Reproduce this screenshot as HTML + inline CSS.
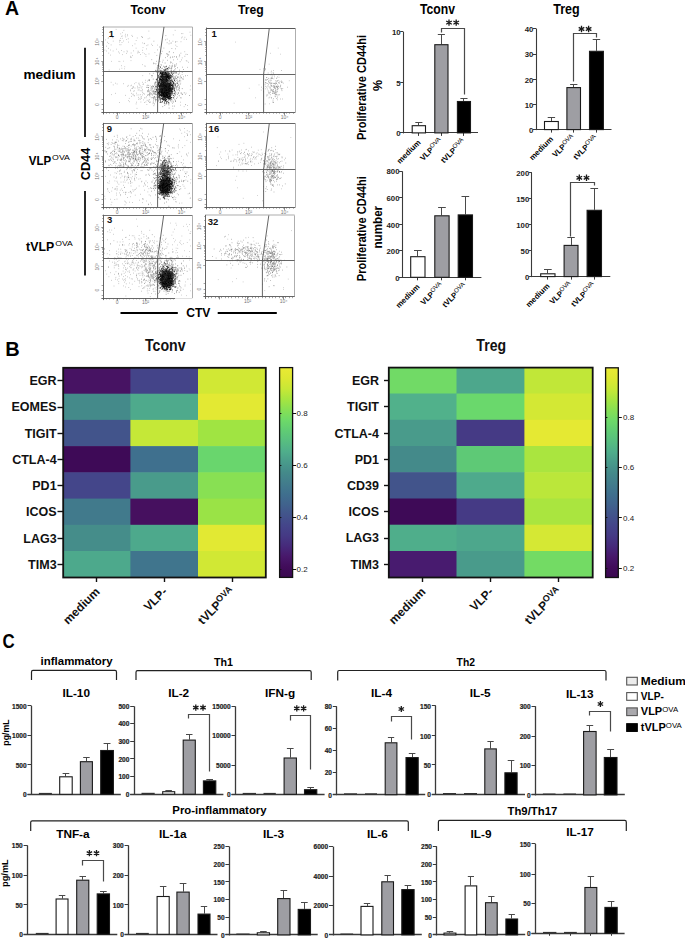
<!DOCTYPE html>
<html><head><meta charset="utf-8"><style>
html,body{margin:0;padding:0;background:#fff;}
body{width:685px;height:938px;overflow:hidden;}
svg{display:block;font-family:"Liberation Sans",sans-serif;}
</style></head><body>
<svg width="685" height="938" viewBox="0 0 685 938">
<rect width="685" height="938" fill="#fff"/>
<text x="437.5" y="14.3" font-size="14" text-anchor="middle" font-weight="bold" fill="#000" textLength="35" lengthAdjust="spacingAndGlyphs">Tconv</text>
<line x1="403.5" y1="31.7" x2="403.5" y2="133.4" stroke="#3a3a3a" stroke-width="1.1"/>
<line x1="400.2" y1="132.5" x2="478" y2="132.5" stroke="#3a3a3a" stroke-width="1.1"/>
<line x1="400.2" y1="31.5" x2="403.2" y2="31.5" stroke="#3a3a3a" stroke-width="1"/>
<text x="400.6" y="34.9" font-size="7.8" text-anchor="end" font-weight="bold" fill="#222">10</text>
<line x1="400.2" y1="82.5" x2="403.2" y2="82.5" stroke="#3a3a3a" stroke-width="1"/>
<text x="400.6" y="86" font-size="7.8" text-anchor="end" font-weight="bold" fill="#222">5</text>
<line x1="400.2" y1="132.5" x2="403.2" y2="132.5" stroke="#3a3a3a" stroke-width="1"/>
<text x="400.6" y="136.1" font-size="7.8" text-anchor="end" font-weight="bold" fill="#222">0</text>
<line x1="418.5" y1="132.9" x2="418.5" y2="135.9" stroke="#3a3a3a" stroke-width="1"/>
<line x1="441.5" y1="132.9" x2="441.5" y2="135.9" stroke="#3a3a3a" stroke-width="1"/>
<line x1="463.5" y1="132.9" x2="463.5" y2="135.9" stroke="#3a3a3a" stroke-width="1"/>
<line x1="418.5" y1="125.2" x2="418.5" y2="122.6" stroke="#4a4a4a" stroke-width="1"/>
<line x1="415.3" y1="122.5" x2="422.4" y2="122.5" stroke="#4a4a4a" stroke-width="1"/>
<rect x="412.2" y="125.7" width="13.3" height="7.2" fill="#fff" stroke="#1a1a1a" stroke-width="1.1"/>
<line x1="441.5" y1="44.2" x2="441.5" y2="34.4" stroke="#4a4a4a" stroke-width="1"/>
<line x1="437.8" y1="34.5" x2="444.9" y2="34.5" stroke="#4a4a4a" stroke-width="1"/>
<rect x="434.8" y="44.7" width="13.2" height="88.2" fill="#9e9ea3" stroke="#1a1a1a" stroke-width="1.1"/>
<line x1="463.5" y1="101" x2="463.5" y2="98.3" stroke="#4a4a4a" stroke-width="1"/>
<line x1="460.4" y1="98.5" x2="467.5" y2="98.5" stroke="#4a4a4a" stroke-width="1"/>
<rect x="457.4" y="101.5" width="13.1" height="31.4" fill="#000" stroke="#1a1a1a" stroke-width="1.1"/>
<polyline points="441.5,32.5 441.5,28.5 464.5,28.5 464.5,94.5" fill="none" stroke="#4a4a4a" stroke-width="1.2"/>
<path d="M449 19.4L449 25.8M451.8 21L446.2 24.2M451.8 24.2L446.2 21" stroke="#1a1a1a" stroke-width="1.3" fill="none"/>
<path d="M456.2 19.4L456.2 25.8M459 21L453.4 24.2M459 24.2L453.4 21" stroke="#1a1a1a" stroke-width="1.3" fill="none"/>
<text x="566.5" y="14.3" font-size="14" text-anchor="middle" font-weight="bold" fill="#000" textLength="26.5" lengthAdjust="spacingAndGlyphs">Treg</text>
<line x1="536.5" y1="28.5" x2="536.5" y2="130.1" stroke="#3a3a3a" stroke-width="1.1"/>
<line x1="533" y1="129.5" x2="611.5" y2="129.5" stroke="#3a3a3a" stroke-width="1.1"/>
<line x1="533" y1="28.5" x2="536" y2="28.5" stroke="#3a3a3a" stroke-width="1"/>
<text x="533.4" y="31.7" font-size="7.8" text-anchor="end" font-weight="bold" fill="#222">40</text>
<line x1="533" y1="54.5" x2="536" y2="54.5" stroke="#3a3a3a" stroke-width="1"/>
<text x="533.4" y="57.2" font-size="7.8" text-anchor="end" font-weight="bold" fill="#222">30</text>
<line x1="533" y1="79.5" x2="536" y2="79.5" stroke="#3a3a3a" stroke-width="1"/>
<text x="533.4" y="82.5" font-size="7.8" text-anchor="end" font-weight="bold" fill="#222">20</text>
<line x1="533" y1="104.5" x2="536" y2="104.5" stroke="#3a3a3a" stroke-width="1"/>
<text x="533.4" y="107.6" font-size="7.8" text-anchor="end" font-weight="bold" fill="#222">10</text>
<line x1="533" y1="129.5" x2="536" y2="129.5" stroke="#3a3a3a" stroke-width="1"/>
<text x="533.4" y="132.8" font-size="7.8" text-anchor="end" font-weight="bold" fill="#222">0</text>
<line x1="551.5" y1="129.6" x2="551.5" y2="132.6" stroke="#3a3a3a" stroke-width="1"/>
<line x1="573.5" y1="129.6" x2="573.5" y2="132.6" stroke="#3a3a3a" stroke-width="1"/>
<line x1="596.5" y1="129.6" x2="596.5" y2="132.6" stroke="#3a3a3a" stroke-width="1"/>
<line x1="551.5" y1="121" x2="551.5" y2="117" stroke="#4a4a4a" stroke-width="1"/>
<line x1="547.7" y1="117.5" x2="555.1" y2="117.5" stroke="#4a4a4a" stroke-width="1"/>
<rect x="544.5" y="121.5" width="13.8" height="8.1" fill="#fff" stroke="#1a1a1a" stroke-width="1.1"/>
<line x1="573.5" y1="87.1" x2="573.5" y2="84.3" stroke="#4a4a4a" stroke-width="1"/>
<line x1="570.1" y1="84.5" x2="577.4" y2="84.5" stroke="#4a4a4a" stroke-width="1"/>
<rect x="566.9" y="87.6" width="13.6" height="42" fill="#9e9ea3" stroke="#1a1a1a" stroke-width="1.1"/>
<line x1="596.5" y1="50.8" x2="596.5" y2="39.4" stroke="#4a4a4a" stroke-width="1"/>
<line x1="592.7" y1="39.5" x2="600.2" y2="39.5" stroke="#4a4a4a" stroke-width="1"/>
<rect x="589.5" y="51.3" width="13.9" height="78.3" fill="#000" stroke="#1a1a1a" stroke-width="1.1"/>
<polyline points="573.5,81.5 573.5,33.5 596.5,33.5 596.5,37.5" fill="none" stroke="#4a4a4a" stroke-width="1.2"/>
<path d="M581.5 25.8L581.5 32.2M584.3 27.4L578.7 30.6M584.3 30.6L578.7 27.4" stroke="#1a1a1a" stroke-width="1.3" fill="none"/>
<path d="M588.6 25.8L588.6 32.2M591.4 27.4L585.8 30.6M591.4 30.6L585.8 27.4" stroke="#1a1a1a" stroke-width="1.3" fill="none"/>
<line x1="402.5" y1="171.2" x2="402.5" y2="277.8" stroke="#3a3a3a" stroke-width="1.1"/>
<line x1="399.1" y1="277.5" x2="481.4" y2="277.5" stroke="#3a3a3a" stroke-width="1.1"/>
<line x1="399.1" y1="171.5" x2="402.1" y2="171.5" stroke="#3a3a3a" stroke-width="1"/>
<text x="399.5" y="174.4" font-size="7.8" text-anchor="end" font-weight="bold" fill="#222">800</text>
<line x1="399.1" y1="197.5" x2="402.1" y2="197.5" stroke="#3a3a3a" stroke-width="1"/>
<text x="399.5" y="200.7" font-size="7.8" text-anchor="end" font-weight="bold" fill="#222">600</text>
<line x1="399.1" y1="224.5" x2="402.1" y2="224.5" stroke="#3a3a3a" stroke-width="1"/>
<text x="399.5" y="227.7" font-size="7.8" text-anchor="end" font-weight="bold" fill="#222">400</text>
<line x1="399.1" y1="250.5" x2="402.1" y2="250.5" stroke="#3a3a3a" stroke-width="1"/>
<text x="399.5" y="254" font-size="7.8" text-anchor="end" font-weight="bold" fill="#222">200</text>
<line x1="399.1" y1="277.5" x2="402.1" y2="277.5" stroke="#3a3a3a" stroke-width="1"/>
<text x="399.5" y="280.5" font-size="7.8" text-anchor="end" font-weight="bold" fill="#222">0</text>
<line x1="417.5" y1="277.3" x2="417.5" y2="280.3" stroke="#3a3a3a" stroke-width="1"/>
<line x1="441.5" y1="277.3" x2="441.5" y2="280.3" stroke="#3a3a3a" stroke-width="1"/>
<line x1="465.5" y1="277.3" x2="465.5" y2="280.3" stroke="#3a3a3a" stroke-width="1"/>
<line x1="417.5" y1="256.2" x2="417.5" y2="250.8" stroke="#4a4a4a" stroke-width="1"/>
<line x1="414" y1="250.5" x2="421.7" y2="250.5" stroke="#4a4a4a" stroke-width="1"/>
<rect x="410.7" y="256.7" width="14.3" height="20.6" fill="#fff" stroke="#1a1a1a" stroke-width="1.1"/>
<line x1="441.5" y1="215.3" x2="441.5" y2="207.6" stroke="#4a4a4a" stroke-width="1"/>
<line x1="438.1" y1="207.5" x2="445.8" y2="207.5" stroke="#4a4a4a" stroke-width="1"/>
<rect x="434.8" y="215.8" width="14.3" height="61.5" fill="#9e9ea3" stroke="#1a1a1a" stroke-width="1.1"/>
<line x1="465.5" y1="214.4" x2="465.5" y2="196.4" stroke="#4a4a4a" stroke-width="1"/>
<line x1="461.5" y1="196.5" x2="469.2" y2="196.5" stroke="#4a4a4a" stroke-width="1"/>
<rect x="458.2" y="214.9" width="14.3" height="62.4" fill="#000" stroke="#1a1a1a" stroke-width="1.1"/>
<line x1="531.5" y1="172.6" x2="531.5" y2="277.1" stroke="#3a3a3a" stroke-width="1.1"/>
<line x1="528.9" y1="276.5" x2="610.3" y2="276.5" stroke="#3a3a3a" stroke-width="1.1"/>
<line x1="528.9" y1="172.5" x2="531.9" y2="172.5" stroke="#3a3a3a" stroke-width="1"/>
<text x="529.3" y="175.8" font-size="7.8" text-anchor="end" font-weight="bold" fill="#222">200</text>
<line x1="528.9" y1="198.5" x2="531.9" y2="198.5" stroke="#3a3a3a" stroke-width="1"/>
<text x="529.3" y="201.8" font-size="7.8" text-anchor="end" font-weight="bold" fill="#222">150</text>
<line x1="528.9" y1="224.5" x2="531.9" y2="224.5" stroke="#3a3a3a" stroke-width="1"/>
<text x="529.3" y="227.9" font-size="7.8" text-anchor="end" font-weight="bold" fill="#222">100</text>
<line x1="528.9" y1="250.5" x2="531.9" y2="250.5" stroke="#3a3a3a" stroke-width="1"/>
<text x="529.3" y="254" font-size="7.8" text-anchor="end" font-weight="bold" fill="#222">50</text>
<line x1="528.9" y1="276.5" x2="531.9" y2="276.5" stroke="#3a3a3a" stroke-width="1"/>
<text x="529.3" y="279.8" font-size="7.8" text-anchor="end" font-weight="bold" fill="#222">0</text>
<line x1="547.5" y1="276.6" x2="547.5" y2="279.6" stroke="#3a3a3a" stroke-width="1"/>
<line x1="571.5" y1="276.6" x2="571.5" y2="279.6" stroke="#3a3a3a" stroke-width="1"/>
<line x1="594.5" y1="276.6" x2="594.5" y2="279.6" stroke="#3a3a3a" stroke-width="1"/>
<line x1="547.5" y1="273.3" x2="547.5" y2="269.8" stroke="#4a4a4a" stroke-width="1"/>
<line x1="544" y1="269.5" x2="551.7" y2="269.5" stroke="#4a4a4a" stroke-width="1"/>
<rect x="540.7" y="273.8" width="14.3" height="2.8" fill="#fff" stroke="#1a1a1a" stroke-width="1.1"/>
<line x1="571.5" y1="244.9" x2="571.5" y2="237.4" stroke="#4a4a4a" stroke-width="1"/>
<line x1="567.3" y1="237.5" x2="574.8" y2="237.5" stroke="#4a4a4a" stroke-width="1"/>
<rect x="564.1" y="245.4" width="13.9" height="31.2" fill="#9e9ea3" stroke="#1a1a1a" stroke-width="1.1"/>
<line x1="594.5" y1="209.8" x2="594.5" y2="188.8" stroke="#4a4a4a" stroke-width="1"/>
<line x1="590.4" y1="188.5" x2="598.1" y2="188.5" stroke="#4a4a4a" stroke-width="1"/>
<rect x="587.1" y="210.3" width="14.4" height="66.3" fill="#000" stroke="#1a1a1a" stroke-width="1.1"/>
<polyline points="570.5,236.5 570.5,182.5 594.5,182.5 594.5,185.5" fill="none" stroke="#4a4a4a" stroke-width="1.2"/>
<path d="M579.3 174.6L579.3 181M582.1 176.2L576.5 179.4M582.1 179.4L576.5 176.2" stroke="#1a1a1a" stroke-width="1.3" fill="none"/>
<path d="M586.5 174.6L586.5 181M589.3 176.2L583.7 179.4M589.3 179.4L583.7 176.2" stroke="#1a1a1a" stroke-width="1.3" fill="none"/>
<text x="366.4" y="87.5" font-size="12.5" text-anchor="middle" font-weight="bold" fill="#000" transform="rotate(-90 366.4 87.5)" textLength="105" lengthAdjust="spacingAndGlyphs">Proliferative CD44hi</text>
<text x="381.5" y="85.5" font-size="12.5" text-anchor="middle" font-weight="bold" fill="#000" transform="rotate(-90 381.5 85.5)">%</text>
<text x="366.4" y="228.7" font-size="12.5" text-anchor="middle" font-weight="bold" fill="#000" transform="rotate(-90 366.4 228.7)" textLength="105" lengthAdjust="spacingAndGlyphs">Proliferative CD44hi</text>
<text x="382" y="227.2" font-size="12.5" text-anchor="middle" font-weight="bold" fill="#000" transform="rotate(-90 382 227.2)" textLength="42.7" lengthAdjust="spacingAndGlyphs">number</text>
<text x="421.1" y="143" font-size="7.8" text-anchor="end" font-weight="bold" fill="#000" transform="rotate(-45 421.1 143)">medium</text>
<text x="442.8" y="141.5" font-size="7.8" text-anchor="end" font-weight="bold" transform="rotate(-45 442.8 141.5)">VLP<tspan font-weight="normal" font-size="6.2" dy="-2.6">OVA</tspan></text>
<text x="465.5" y="142" font-size="7.8" text-anchor="end" font-weight="bold" transform="rotate(-45 465.5 142)">tVLP<tspan font-weight="normal" font-size="6.2" dy="-2.6">OVA</tspan></text>
<text x="553.6" y="139.7" font-size="7.8" text-anchor="end" font-weight="bold" fill="#000" transform="rotate(-45 553.6 139.7)">medium</text>
<text x="575.2" y="138.2" font-size="7.8" text-anchor="end" font-weight="bold" transform="rotate(-45 575.2 138.2)">VLP<tspan font-weight="normal" font-size="6.2" dy="-2.6">OVA</tspan></text>
<text x="598" y="138.7" font-size="7.8" text-anchor="end" font-weight="bold" transform="rotate(-45 598 138.7)">tVLP<tspan font-weight="normal" font-size="6.2" dy="-2.6">OVA</tspan></text>
<text x="420.1" y="287.4" font-size="7.8" text-anchor="end" font-weight="bold" fill="#000" transform="rotate(-45 420.1 287.4)">medium</text>
<text x="443.4" y="285.9" font-size="7.8" text-anchor="end" font-weight="bold" transform="rotate(-45 443.4 285.9)">VLP<tspan font-weight="normal" font-size="6.2" dy="-2.6">OVA</tspan></text>
<text x="466.9" y="286.4" font-size="7.8" text-anchor="end" font-weight="bold" transform="rotate(-45 466.9 286.4)">tVLP<tspan font-weight="normal" font-size="6.2" dy="-2.6">OVA</tspan></text>
<text x="550.1" y="286.7" font-size="7.8" text-anchor="end" font-weight="bold" fill="#000" transform="rotate(-45 550.1 286.7)">medium</text>
<text x="572.5" y="285.2" font-size="7.8" text-anchor="end" font-weight="bold" transform="rotate(-45 572.5 285.2)">VLP<tspan font-weight="normal" font-size="6.2" dy="-2.6">OVA</tspan></text>
<text x="595.8" y="285.7" font-size="7.8" text-anchor="end" font-weight="bold" transform="rotate(-45 595.8 285.7)">tVLP<tspan font-weight="normal" font-size="6.2" dy="-2.6">OVA</tspan></text>
<rect x="62.9" y="367.5" width="68.1" height="26.8" fill="#471363"/>
<rect x="130.4" y="367.5" width="68.1" height="26.8" fill="#444489"/>
<rect x="198" y="367.5" width="68.1" height="26.8" fill="#d1e834"/>
<rect x="62.9" y="393.7" width="68.1" height="26.8" fill="#448a8a"/>
<rect x="130.4" y="393.7" width="68.1" height="26.8" fill="#4eaa8c"/>
<rect x="198" y="393.7" width="68.1" height="26.8" fill="#e3e933"/>
<rect x="62.9" y="419.9" width="68.1" height="26.8" fill="#42548b"/>
<rect x="130.4" y="419.9" width="68.1" height="26.8" fill="#c5e837"/>
<rect x="198" y="419.9" width="68.1" height="26.8" fill="#a0e442"/>
<rect x="62.9" y="446.1" width="68.1" height="26.8" fill="#3e0a57"/>
<rect x="130.4" y="446.1" width="68.1" height="26.8" fill="#3f708e"/>
<rect x="198" y="446.1" width="68.1" height="26.8" fill="#69d66d"/>
<rect x="62.9" y="472.3" width="68.1" height="26.8" fill="#44468a"/>
<rect x="130.4" y="472.3" width="68.1" height="26.8" fill="#499b8b"/>
<rect x="198" y="472.3" width="68.1" height="26.8" fill="#88e053"/>
<rect x="62.9" y="498.6" width="68.1" height="26.8" fill="#417a8c"/>
<rect x="130.4" y="498.6" width="68.1" height="26.8" fill="#46105f"/>
<rect x="198" y="498.6" width="68.1" height="26.8" fill="#9ae346"/>
<rect x="62.9" y="524.8" width="68.1" height="26.8" fill="#458d8a"/>
<rect x="130.4" y="524.8" width="68.1" height="26.8" fill="#4da98c"/>
<rect x="198" y="524.8" width="68.1" height="26.8" fill="#e2e933"/>
<rect x="62.9" y="551" width="68.1" height="26.8" fill="#4da98c"/>
<rect x="130.4" y="551" width="68.1" height="26.8" fill="#40758d"/>
<rect x="198" y="551" width="68.1" height="26.8" fill="#d1e834"/>
<rect x="63.2" y="367.8" width="202.6" height="209.7" fill="none" stroke="#111" stroke-width="1.8"/>
<line x1="57.5" y1="380.5" x2="63.2" y2="380.5" stroke="#111" stroke-width="1.4"/>
<text x="56.6" y="385.2" font-size="12.5" text-anchor="end" font-weight="bold" fill="#111">EGR</text>
<line x1="57.5" y1="407.5" x2="63.2" y2="407.5" stroke="#111" stroke-width="1.4"/>
<text x="56.6" y="411.4" font-size="12.5" text-anchor="end" font-weight="bold" fill="#111">EOMES</text>
<line x1="57.5" y1="433.5" x2="63.2" y2="433.5" stroke="#111" stroke-width="1.4"/>
<text x="56.6" y="437.6" font-size="12.5" text-anchor="end" font-weight="bold" fill="#111">TIGIT</text>
<line x1="57.5" y1="459.5" x2="63.2" y2="459.5" stroke="#111" stroke-width="1.4"/>
<text x="56.6" y="463.8" font-size="12.5" text-anchor="end" font-weight="bold" fill="#111">CTLA-4</text>
<line x1="57.5" y1="485.5" x2="63.2" y2="485.5" stroke="#111" stroke-width="1.4"/>
<text x="56.6" y="490.1" font-size="12.5" text-anchor="end" font-weight="bold" fill="#111">PD1</text>
<line x1="57.5" y1="511.5" x2="63.2" y2="511.5" stroke="#111" stroke-width="1.4"/>
<text x="56.6" y="516.3" font-size="12.5" text-anchor="end" font-weight="bold" fill="#111">ICOS</text>
<line x1="57.5" y1="538.5" x2="63.2" y2="538.5" stroke="#111" stroke-width="1.4"/>
<text x="56.6" y="542.5" font-size="12.5" text-anchor="end" font-weight="bold" fill="#111">LAG3</text>
<line x1="57.5" y1="564.5" x2="63.2" y2="564.5" stroke="#111" stroke-width="1.4"/>
<text x="56.6" y="568.7" font-size="12.5" text-anchor="end" font-weight="bold" fill="#111">TIM3</text>
<line x1="96.5" y1="577.5" x2="96.5" y2="582" stroke="#111" stroke-width="1.4"/>
<text x="100.5" y="592.5" font-size="12" text-anchor="end" font-weight="bold" fill="#111" transform="rotate(-45 100.5 592.5)">medium</text>
<line x1="164.5" y1="577.5" x2="164.5" y2="582" stroke="#111" stroke-width="1.4"/>
<text x="168" y="592.5" font-size="12" text-anchor="end" font-weight="bold" fill="#111" transform="rotate(-45 168 592.5)">VLP-</text>
<line x1="232.5" y1="577.5" x2="232.5" y2="582" stroke="#111" stroke-width="1.4"/>
<text x="235.5" y="592.5" font-size="12" text-anchor="end" font-weight="bold" fill="#111" transform="rotate(-45 235.5 592.5)">tVLP<tspan font-size="9" dy="-4">OVA</tspan></text>
<text x="165.3" y="350.5" font-size="15.8" text-anchor="middle" font-weight="bold" fill="#111" textLength="40.7" lengthAdjust="spacingAndGlyphs">Tconv</text>
<defs><linearGradient id="g279" x1="0" y1="0" x2="0" y2="1"><stop offset="0.000" stop-color="#eaea34"/><stop offset="0.050" stop-color="#dee832"/><stop offset="0.100" stop-color="#c8e836"/><stop offset="0.150" stop-color="#a7e540"/><stop offset="0.200" stop-color="#88e053"/><stop offset="0.250" stop-color="#6eda68"/><stop offset="0.300" stop-color="#60cc74"/><stop offset="0.350" stop-color="#57be80"/><stop offset="0.400" stop-color="#4fae8b"/><stop offset="0.450" stop-color="#499b8b"/><stop offset="0.500" stop-color="#448a8a"/><stop offset="0.550" stop-color="#427d8c"/><stop offset="0.600" stop-color="#3f708e"/><stop offset="0.650" stop-color="#40638d"/><stop offset="0.700" stop-color="#42548b"/><stop offset="0.750" stop-color="#44468a"/><stop offset="0.800" stop-color="#453a85"/><stop offset="0.850" stop-color="#462a7b"/><stop offset="0.900" stop-color="#48186b"/><stop offset="0.950" stop-color="#410c5a"/><stop offset="1.000" stop-color="#3a0850"/></linearGradient></defs>
<rect x="279.6" y="367.6" width="13" height="209.8" fill="url(#g279)" stroke="#111" stroke-width="1.3"/>
<line x1="292.6" y1="413.5" x2="296.1" y2="413.5" stroke="#111" stroke-width="1"/>
<line x1="279.6" y1="413.5" x2="281.4" y2="413.5" stroke="#111" stroke-width="1"/>
<text x="296.5" y="416" font-size="8" text-anchor="start" font-weight="normal" fill="#222">0.8</text>
<line x1="292.6" y1="465.5" x2="296.1" y2="465.5" stroke="#111" stroke-width="1"/>
<line x1="279.6" y1="465.5" x2="281.4" y2="465.5" stroke="#111" stroke-width="1"/>
<text x="296.5" y="468.2" font-size="8" text-anchor="start" font-weight="normal" fill="#222">0.6</text>
<line x1="292.6" y1="517.5" x2="296.1" y2="517.5" stroke="#111" stroke-width="1"/>
<line x1="279.6" y1="517.5" x2="281.4" y2="517.5" stroke="#111" stroke-width="1"/>
<text x="296.5" y="520" font-size="8" text-anchor="start" font-weight="normal" fill="#222">0.4</text>
<line x1="292.6" y1="569.5" x2="296.1" y2="569.5" stroke="#111" stroke-width="1"/>
<line x1="279.6" y1="569.5" x2="281.4" y2="569.5" stroke="#111" stroke-width="1"/>
<text x="296.5" y="571.8" font-size="8" text-anchor="start" font-weight="normal" fill="#222">0.2</text>
<rect x="388.5" y="367.3" width="68.6" height="26.8" fill="#71da66"/>
<rect x="456.5" y="367.3" width="68.6" height="26.8" fill="#4da78c"/>
<rect x="524.4" y="367.3" width="68.6" height="26.8" fill="#c1e738"/>
<rect x="388.5" y="393.5" width="68.6" height="26.8" fill="#51b18b"/>
<rect x="456.5" y="393.5" width="68.6" height="26.8" fill="#6ad86c"/>
<rect x="524.4" y="393.5" width="68.6" height="26.8" fill="#d3e834"/>
<rect x="388.5" y="419.8" width="68.6" height="26.8" fill="#499b8b"/>
<rect x="456.5" y="419.8" width="68.6" height="26.8" fill="#453a85"/>
<rect x="524.4" y="419.8" width="68.6" height="26.8" fill="#e5e933"/>
<rect x="388.5" y="446" width="68.6" height="26.8" fill="#448a8a"/>
<rect x="456.5" y="446" width="68.6" height="26.8" fill="#5ec976"/>
<rect x="524.4" y="446" width="68.6" height="26.8" fill="#aae53f"/>
<rect x="388.5" y="472.2" width="68.6" height="26.8" fill="#42548b"/>
<rect x="456.5" y="472.2" width="68.6" height="26.8" fill="#4eaa8c"/>
<rect x="524.4" y="472.2" width="68.6" height="26.8" fill="#bbe73a"/>
<rect x="388.5" y="498.5" width="68.6" height="26.8" fill="#3e0a57"/>
<rect x="456.5" y="498.5" width="68.6" height="26.8" fill="#453a85"/>
<rect x="524.4" y="498.5" width="68.6" height="26.8" fill="#aae53f"/>
<rect x="388.5" y="524.7" width="68.6" height="26.8" fill="#4fae8b"/>
<rect x="456.5" y="524.7" width="68.6" height="26.8" fill="#4da78c"/>
<rect x="524.4" y="524.7" width="68.6" height="26.8" fill="#d5e834"/>
<rect x="388.5" y="551" width="68.6" height="26.8" fill="#481b6f"/>
<rect x="456.5" y="551" width="68.6" height="26.8" fill="#499b8b"/>
<rect x="524.4" y="551" width="68.6" height="26.8" fill="#73db64"/>
<rect x="388.8" y="367.6" width="203.9" height="209.9" fill="none" stroke="#111" stroke-width="1.8"/>
<line x1="384" y1="380.5" x2="388.8" y2="380.5" stroke="#111" stroke-width="1.4"/>
<text x="379" y="385" font-size="12.5" text-anchor="end" font-weight="bold" fill="#111">EGR</text>
<line x1="384" y1="406.5" x2="388.8" y2="406.5" stroke="#111" stroke-width="1.4"/>
<text x="379" y="411.3" font-size="12.5" text-anchor="end" font-weight="bold" fill="#111">TIGIT</text>
<line x1="384" y1="433.5" x2="388.8" y2="433.5" stroke="#111" stroke-width="1.4"/>
<text x="379" y="437.5" font-size="12.5" text-anchor="end" font-weight="bold" fill="#111">CTLA-4</text>
<line x1="384" y1="459.5" x2="388.8" y2="459.5" stroke="#111" stroke-width="1.4"/>
<text x="379" y="463.7" font-size="12.5" text-anchor="end" font-weight="bold" fill="#111">PD1</text>
<line x1="384" y1="485.5" x2="388.8" y2="485.5" stroke="#111" stroke-width="1.4"/>
<text x="379" y="490" font-size="12.5" text-anchor="end" font-weight="bold" fill="#111">CD39</text>
<line x1="384" y1="511.5" x2="388.8" y2="511.5" stroke="#111" stroke-width="1.4"/>
<text x="379" y="516.2" font-size="12.5" text-anchor="end" font-weight="bold" fill="#111">ICOS</text>
<line x1="384" y1="538.5" x2="388.8" y2="538.5" stroke="#111" stroke-width="1.4"/>
<text x="379" y="542.4" font-size="12.5" text-anchor="end" font-weight="bold" fill="#111">LAG3</text>
<line x1="384" y1="564.5" x2="388.8" y2="564.5" stroke="#111" stroke-width="1.4"/>
<text x="379" y="568.7" font-size="12.5" text-anchor="end" font-weight="bold" fill="#111">TIM3</text>
<line x1="422.5" y1="577.5" x2="422.5" y2="582" stroke="#111" stroke-width="1.4"/>
<text x="426.3" y="592.5" font-size="12" text-anchor="end" font-weight="bold" fill="#111" transform="rotate(-45 426.3 592.5)">medium</text>
<line x1="490.5" y1="577.5" x2="490.5" y2="582" stroke="#111" stroke-width="1.4"/>
<text x="494.2" y="592.5" font-size="12" text-anchor="end" font-weight="bold" fill="#111" transform="rotate(-45 494.2 592.5)">VLP-</text>
<line x1="558.5" y1="577.5" x2="558.5" y2="582" stroke="#111" stroke-width="1.4"/>
<text x="562.2" y="592.5" font-size="12" text-anchor="end" font-weight="bold" fill="#111" transform="rotate(-45 562.2 592.5)">tVLP<tspan font-size="9" dy="-4">OVA</tspan></text>
<text x="491.2" y="350.5" font-size="15.8" text-anchor="middle" font-weight="bold" fill="#111" textLength="29.7" lengthAdjust="spacingAndGlyphs">Treg</text>
<defs><linearGradient id="g605" x1="0" y1="0" x2="0" y2="1"><stop offset="0.000" stop-color="#eaea34"/><stop offset="0.050" stop-color="#dee832"/><stop offset="0.100" stop-color="#c8e836"/><stop offset="0.150" stop-color="#a7e540"/><stop offset="0.200" stop-color="#88e053"/><stop offset="0.250" stop-color="#6eda68"/><stop offset="0.300" stop-color="#60cc74"/><stop offset="0.350" stop-color="#57be80"/><stop offset="0.400" stop-color="#4fae8b"/><stop offset="0.450" stop-color="#499b8b"/><stop offset="0.500" stop-color="#448a8a"/><stop offset="0.550" stop-color="#427d8c"/><stop offset="0.600" stop-color="#3f708e"/><stop offset="0.650" stop-color="#40638d"/><stop offset="0.700" stop-color="#42548b"/><stop offset="0.750" stop-color="#44468a"/><stop offset="0.800" stop-color="#453a85"/><stop offset="0.850" stop-color="#462a7b"/><stop offset="0.900" stop-color="#48186b"/><stop offset="0.950" stop-color="#410c5a"/><stop offset="1.000" stop-color="#3a0850"/></linearGradient></defs>
<rect x="605.6" y="367.8" width="12.7" height="209.7" fill="url(#g605)" stroke="#111" stroke-width="1.3"/>
<line x1="618.3" y1="417.5" x2="621.8" y2="417.5" stroke="#111" stroke-width="1"/>
<line x1="605.6" y1="417.5" x2="607.4" y2="417.5" stroke="#111" stroke-width="1"/>
<text x="623" y="419.9" font-size="8" text-anchor="start" font-weight="normal" fill="#222">0.8</text>
<line x1="618.3" y1="467.5" x2="621.8" y2="467.5" stroke="#111" stroke-width="1"/>
<line x1="605.6" y1="467.5" x2="607.4" y2="467.5" stroke="#111" stroke-width="1"/>
<text x="623" y="470" font-size="8" text-anchor="start" font-weight="normal" fill="#222">0.6</text>
<line x1="618.3" y1="517.5" x2="621.8" y2="517.5" stroke="#111" stroke-width="1"/>
<line x1="605.6" y1="517.5" x2="607.4" y2="517.5" stroke="#111" stroke-width="1"/>
<text x="623" y="520.5" font-size="8" text-anchor="start" font-weight="normal" fill="#222">0.4</text>
<line x1="618.3" y1="568.5" x2="621.8" y2="568.5" stroke="#111" stroke-width="1"/>
<line x1="605.6" y1="568.5" x2="607.4" y2="568.5" stroke="#111" stroke-width="1"/>
<text x="623" y="570.8" font-size="8" text-anchor="start" font-weight="normal" fill="#222">0.2</text>
<text x="12.5" y="356.3" font-size="20" text-anchor="middle" font-weight="bold" fill="#000">B</text>
<text x="8.6" y="648.2" font-size="19.5" text-anchor="middle" font-weight="bold" fill="#000" textLength="12.2" lengthAdjust="spacingAndGlyphs">C</text>
<text x="76.6" y="664.8" font-size="11.5" text-anchor="middle" font-weight="bold" fill="#000" textLength="72" lengthAdjust="spacingAndGlyphs">inflammatory</text>
<path d="M31.5 680V671.9Q31.5 670.4 33 670.4H115Q116.5 670.4 116.5 671.9V680" fill="none" stroke="#222" stroke-width="1.2"/>
<text x="223.5" y="666.2" font-size="11.5" text-anchor="middle" font-weight="bold" fill="#000" textLength="19" lengthAdjust="spacingAndGlyphs">Th1</text>
<path d="M136 680V672.2Q136 670.7 137.5 670.7H309.7Q311.2 670.7 311.2 672.2V680" fill="none" stroke="#222" stroke-width="1.2"/>
<text x="465.8" y="666.2" font-size="11.5" text-anchor="middle" font-weight="bold" fill="#000" textLength="18.4" lengthAdjust="spacingAndGlyphs">Th2</text>
<path d="M337.7 680.5V672Q337.7 670.5 339.2 670.5H604.5Q606 670.5 606 672V680.5" fill="none" stroke="#222" stroke-width="1.2"/>
<text x="219.5" y="814.3" font-size="11.5" text-anchor="middle" font-weight="bold" fill="#000" textLength="94.3" lengthAdjust="spacingAndGlyphs">Pro-inflammatory</text>
<path d="M30.7 831V822.3Q30.7 820.8 32.2 820.8H406.8Q408.3 820.8 408.3 822.3V831" fill="none" stroke="#222" stroke-width="1.2"/>
<text x="532.4" y="815.3" font-size="11.5" text-anchor="middle" font-weight="bold" fill="#000" textLength="49.8" lengthAdjust="spacingAndGlyphs">Th9/Th17</text>
<path d="M438.4 831V821.9Q438.4 820.4 439.9 820.4H624.8Q626.3 820.4 626.3 821.9V831" fill="none" stroke="#222" stroke-width="1.2"/>
<text x="8.6" y="732.5" font-size="8.8" text-anchor="middle" font-weight="bold" fill="#000" transform="rotate(-90 8.6 732.5)" textLength="26.3" lengthAdjust="spacingAndGlyphs">pg/mL</text>
<text x="8.3" y="873.1" font-size="8.8" text-anchor="middle" font-weight="bold" fill="#000" transform="rotate(-90 8.3 873.1)" textLength="27.6" lengthAdjust="spacingAndGlyphs">pg/mL</text>
<rect x="626.7" y="677.3" width="10.6" height="7.7" fill="#ececec" stroke="#555" stroke-width="1.1"/>
<text x="640.8" y="684.8" font-size="11" text-anchor="start" font-weight="bold" fill="#000" textLength="45" lengthAdjust="spacingAndGlyphs">Medium</text>
<rect x="626.7" y="692.6" width="10.6" height="7.7" fill="#fff" stroke="#555" stroke-width="1.1"/>
<text x="640.8" y="700.1" font-size="11" text-anchor="start" font-weight="bold" fill="#000" textLength="23" lengthAdjust="spacingAndGlyphs">VLP-</text>
<rect x="626.7" y="707.9" width="10.6" height="7.7" fill="#aaa9ad" stroke="#555" stroke-width="1.1"/>
<text x="640.8" y="715.4" font-size="11" font-weight="bold">VLP<tspan font-size="7.8" font-weight="normal" dy="-3.4">OVA</tspan></text>
<rect x="626.7" y="723.7" width="10.6" height="7.7" fill="#000" stroke="#000" stroke-width="1.1"/>
<text x="640.8" y="731.2" font-size="11" font-weight="bold">tVLP<tspan font-size="7.8" font-weight="normal" dy="-3.4">OVA</tspan></text>
<line x1="31.5" y1="705.9" x2="31.5" y2="794.8" stroke="#3a3a3a" stroke-width="1.3"/>
<line x1="27.5" y1="794.5" x2="120.8" y2="794.5" stroke="#3a3a3a" stroke-width="1.3"/>
<line x1="27.5" y1="705.5" x2="31.5" y2="705.5" stroke="#3a3a3a" stroke-width="1"/>
<text x="26.7" y="708.7" font-size="6.6" text-anchor="end" font-weight="bold" fill="#222" stroke="#222" stroke-width="0.2">1500</text>
<line x1="27.5" y1="735.5" x2="31.5" y2="735.5" stroke="#3a3a3a" stroke-width="1"/>
<text x="26.7" y="738.2" font-size="6.6" text-anchor="end" font-weight="bold" fill="#222" stroke="#222" stroke-width="0.2">1000</text>
<line x1="27.5" y1="764.5" x2="31.5" y2="764.5" stroke="#3a3a3a" stroke-width="1"/>
<text x="26.7" y="767.6" font-size="6.6" text-anchor="end" font-weight="bold" fill="#222" stroke="#222" stroke-width="0.2">500</text>
<line x1="27.5" y1="794.5" x2="31.5" y2="794.5" stroke="#3a3a3a" stroke-width="1"/>
<text x="26.7" y="797.1" font-size="6.6" text-anchor="end" font-weight="bold" fill="#222" stroke="#222" stroke-width="0.2">0</text>
<rect x="38.9" y="792.9" width="13" height="1.4" fill="#333"/>
<line x1="65.5" y1="776.3" x2="65.5" y2="773.3" stroke="#4a4a4a" stroke-width="1"/>
<line x1="62.6" y1="773.5" x2="69.3" y2="773.5" stroke="#4a4a4a" stroke-width="1"/>
<rect x="59.7" y="776.8" width="12.5" height="17.5" fill="#fff" stroke="#1a1a1a" stroke-width="1.1"/>
<line x1="86.5" y1="761.2" x2="86.5" y2="757" stroke="#4a4a4a" stroke-width="1"/>
<line x1="83.2" y1="757.5" x2="89.7" y2="757.5" stroke="#4a4a4a" stroke-width="1"/>
<rect x="80.4" y="761.7" width="12" height="32.6" fill="#9e9ea3" stroke="#1a1a1a" stroke-width="1.1"/>
<line x1="107.5" y1="750" x2="107.5" y2="743.2" stroke="#4a4a4a" stroke-width="1"/>
<line x1="103.6" y1="743.5" x2="110.5" y2="743.5" stroke="#4a4a4a" stroke-width="1"/>
<rect x="100.7" y="750.5" width="12.7" height="43.8" fill="#000" stroke="#1a1a1a" stroke-width="1.1"/>
<text x="76.2" y="697.2" font-size="11.8" text-anchor="middle" font-weight="bold" fill="#000">IL-10</text>
<line x1="134.5" y1="706.3" x2="134.5" y2="794.7" stroke="#3a3a3a" stroke-width="1.3"/>
<line x1="130.2" y1="794.5" x2="223.4" y2="794.5" stroke="#3a3a3a" stroke-width="1.3"/>
<line x1="130.2" y1="706.5" x2="134.2" y2="706.5" stroke="#3a3a3a" stroke-width="1"/>
<text x="129.4" y="709.1" font-size="6.6" text-anchor="end" font-weight="bold" fill="#222" stroke="#222" stroke-width="0.2">500</text>
<line x1="130.2" y1="723.5" x2="134.2" y2="723.5" stroke="#3a3a3a" stroke-width="1"/>
<text x="129.4" y="726.2" font-size="6.6" text-anchor="end" font-weight="bold" fill="#222" stroke="#222" stroke-width="0.2">400</text>
<line x1="130.2" y1="741.5" x2="134.2" y2="741.5" stroke="#3a3a3a" stroke-width="1"/>
<text x="129.4" y="744.1" font-size="6.6" text-anchor="end" font-weight="bold" fill="#222" stroke="#222" stroke-width="0.2">300</text>
<line x1="130.2" y1="758.5" x2="134.2" y2="758.5" stroke="#3a3a3a" stroke-width="1"/>
<text x="129.4" y="761.6" font-size="6.6" text-anchor="end" font-weight="bold" fill="#222" stroke="#222" stroke-width="0.2">200</text>
<line x1="130.2" y1="776.5" x2="134.2" y2="776.5" stroke="#3a3a3a" stroke-width="1"/>
<text x="129.4" y="779.2" font-size="6.6" text-anchor="end" font-weight="bold" fill="#222" stroke="#222" stroke-width="0.2">100</text>
<line x1="130.2" y1="794.5" x2="134.2" y2="794.5" stroke="#3a3a3a" stroke-width="1"/>
<text x="129.4" y="797" font-size="6.6" text-anchor="end" font-weight="bold" fill="#222" stroke="#222" stroke-width="0.2">0</text>
<rect x="141.5" y="792.8" width="13.2" height="1.4" fill="#333"/>
<line x1="168.5" y1="791.2" x2="168.5" y2="790.3" stroke="#4a4a4a" stroke-width="1"/>
<line x1="165.4" y1="790.5" x2="171.9" y2="790.5" stroke="#4a4a4a" stroke-width="1"/>
<rect x="162.7" y="791.7" width="12" height="2.5" fill="#fff" stroke="#1a1a1a" stroke-width="1.1"/>
<line x1="189.5" y1="739.6" x2="189.5" y2="734.3" stroke="#4a4a4a" stroke-width="1"/>
<line x1="186" y1="734.5" x2="192.5" y2="734.5" stroke="#4a4a4a" stroke-width="1"/>
<rect x="183.2" y="740.1" width="12.1" height="54.1" fill="#9e9ea3" stroke="#1a1a1a" stroke-width="1.1"/>
<line x1="209.5" y1="780.4" x2="209.5" y2="779.3" stroke="#4a4a4a" stroke-width="1"/>
<line x1="206.3" y1="779.5" x2="213" y2="779.5" stroke="#4a4a4a" stroke-width="1"/>
<rect x="203.4" y="780.9" width="12.4" height="13.3" fill="#000" stroke="#1a1a1a" stroke-width="1.1"/>
<text x="178.7" y="697.2" font-size="11.8" text-anchor="middle" font-weight="bold" fill="#000">IL-2</text>
<polyline points="188.5,718.5 188.5,714.5 209.5,714.5 209.5,771.5" fill="none" stroke="#4a4a4a" stroke-width="1.2"/>
<path d="M195.8 704.5L195.8 710.7M198.5 706.1L193.1 709.1M198.5 709.1L193.1 706.1" stroke="#1a1a1a" stroke-width="1.3" fill="none"/>
<path d="M203 704.5L203 710.7M205.7 706.1L200.3 709.1M205.7 709.1L200.3 706.1" stroke="#1a1a1a" stroke-width="1.3" fill="none"/>
<line x1="235.5" y1="706.4" x2="235.5" y2="794.8" stroke="#3a3a3a" stroke-width="1.3"/>
<line x1="231.5" y1="794.5" x2="324.6" y2="794.5" stroke="#3a3a3a" stroke-width="1.3"/>
<line x1="231.5" y1="706.5" x2="235.5" y2="706.5" stroke="#3a3a3a" stroke-width="1"/>
<text x="230.7" y="709.2" font-size="6.6" text-anchor="end" font-weight="bold" fill="#222" stroke="#222" stroke-width="0.2">15000</text>
<line x1="231.5" y1="735.5" x2="235.5" y2="735.5" stroke="#3a3a3a" stroke-width="1"/>
<text x="230.7" y="738.2" font-size="6.6" text-anchor="end" font-weight="bold" fill="#222" stroke="#222" stroke-width="0.2">10000</text>
<line x1="231.5" y1="765.5" x2="235.5" y2="765.5" stroke="#3a3a3a" stroke-width="1"/>
<text x="230.7" y="767.8" font-size="6.6" text-anchor="end" font-weight="bold" fill="#222" stroke="#222" stroke-width="0.2">5000</text>
<line x1="231.5" y1="794.5" x2="235.5" y2="794.5" stroke="#3a3a3a" stroke-width="1"/>
<text x="230.7" y="797.1" font-size="6.6" text-anchor="end" font-weight="bold" fill="#222" stroke="#222" stroke-width="0.2">0</text>
<rect x="242.7" y="792.9" width="13.3" height="1.4" fill="#333"/>
<rect x="263.5" y="792.9" width="12.3" height="1.4" fill="#333"/>
<line x1="290.5" y1="757.5" x2="290.5" y2="748.3" stroke="#4a4a4a" stroke-width="1"/>
<line x1="286.9" y1="748.5" x2="293.6" y2="748.5" stroke="#4a4a4a" stroke-width="1"/>
<rect x="284.1" y="758" width="12.3" height="36.3" fill="#9e9ea3" stroke="#1a1a1a" stroke-width="1.1"/>
<line x1="310.5" y1="789.2" x2="310.5" y2="787.8" stroke="#4a4a4a" stroke-width="1"/>
<line x1="307.3" y1="787.5" x2="314" y2="787.5" stroke="#4a4a4a" stroke-width="1"/>
<rect x="304.5" y="789.7" width="12.3" height="4.6" fill="#000" stroke="#1a1a1a" stroke-width="1.1"/>
<text x="280.1" y="697.4" font-size="11.8" text-anchor="middle" font-weight="bold" fill="#000">IFN-g</text>
<polyline points="290.5,720.5 290.5,715.5 310.5,715.5 310.5,769.5" fill="none" stroke="#4a4a4a" stroke-width="1.2"/>
<path d="M296.8 705.3L296.8 711.5M299.5 706.9L294.1 709.9M299.5 709.9L294.1 706.9" stroke="#1a1a1a" stroke-width="1.3" fill="none"/>
<path d="M303.6 705.3L303.6 711.5M306.3 706.9L300.9 709.9M306.3 709.9L300.9 706.9" stroke="#1a1a1a" stroke-width="1.3" fill="none"/>
<line x1="336.5" y1="706.4" x2="336.5" y2="795.2" stroke="#3a3a3a" stroke-width="1.3"/>
<line x1="332.8" y1="794.5" x2="425.2" y2="794.5" stroke="#3a3a3a" stroke-width="1.3"/>
<line x1="332.8" y1="706.5" x2="336.8" y2="706.5" stroke="#3a3a3a" stroke-width="1"/>
<text x="332" y="709.2" font-size="6.6" text-anchor="end" font-weight="bold" fill="#222" stroke="#222" stroke-width="0.2">80</text>
<line x1="332.8" y1="728.5" x2="336.8" y2="728.5" stroke="#3a3a3a" stroke-width="1"/>
<text x="332" y="731.3" font-size="6.6" text-anchor="end" font-weight="bold" fill="#222" stroke="#222" stroke-width="0.2">60</text>
<line x1="332.8" y1="750.5" x2="336.8" y2="750.5" stroke="#3a3a3a" stroke-width="1"/>
<text x="332" y="753.4" font-size="6.6" text-anchor="end" font-weight="bold" fill="#222" stroke="#222" stroke-width="0.2">40</text>
<line x1="332.8" y1="772.5" x2="336.8" y2="772.5" stroke="#3a3a3a" stroke-width="1"/>
<text x="332" y="775.2" font-size="6.6" text-anchor="end" font-weight="bold" fill="#222" stroke="#222" stroke-width="0.2">20</text>
<line x1="332.8" y1="794.5" x2="336.8" y2="794.5" stroke="#3a3a3a" stroke-width="1"/>
<text x="332" y="797.5" font-size="6.6" text-anchor="end" font-weight="bold" fill="#222" stroke="#222" stroke-width="0.2">0</text>
<rect x="344" y="793.3" width="13" height="1.4" fill="#333"/>
<rect x="365" y="793.3" width="12" height="1.4" fill="#333"/>
<line x1="391.5" y1="742.3" x2="391.5" y2="737.2" stroke="#4a4a4a" stroke-width="1"/>
<line x1="387.9" y1="737.5" x2="394.2" y2="737.5" stroke="#4a4a4a" stroke-width="1"/>
<rect x="385.2" y="742.8" width="11.7" height="51.9" fill="#9e9ea3" stroke="#1a1a1a" stroke-width="1.1"/>
<line x1="412.5" y1="757.1" x2="412.5" y2="753.6" stroke="#4a4a4a" stroke-width="1"/>
<line x1="408.8" y1="753.5" x2="415.4" y2="753.5" stroke="#4a4a4a" stroke-width="1"/>
<rect x="406" y="757.6" width="12.2" height="37.1" fill="#000" stroke="#1a1a1a" stroke-width="1.1"/>
<text x="381.5" y="697.4" font-size="11.8" text-anchor="middle" font-weight="bold" fill="#000">IL-4</text>
<polyline points="391.5,721.5 391.5,716.5 411.5,716.5 411.5,739.5" fill="none" stroke="#4a4a4a" stroke-width="1.2"/>
<path d="M401.3 705.9L401.3 712.1M404 707.5L398.6 710.5M404 710.5L398.6 707.5" stroke="#1a1a1a" stroke-width="1.3" fill="none"/>
<line x1="435.5" y1="705.7" x2="435.5" y2="794.9" stroke="#3a3a3a" stroke-width="1.3"/>
<line x1="431.8" y1="794.5" x2="525" y2="794.5" stroke="#3a3a3a" stroke-width="1.3"/>
<line x1="431.8" y1="705.5" x2="435.8" y2="705.5" stroke="#3a3a3a" stroke-width="1"/>
<text x="431" y="708.5" font-size="6.6" text-anchor="end" font-weight="bold" fill="#222" stroke="#222" stroke-width="0.2">150</text>
<line x1="431.8" y1="735.5" x2="435.8" y2="735.5" stroke="#3a3a3a" stroke-width="1"/>
<text x="431" y="738.5" font-size="6.6" text-anchor="end" font-weight="bold" fill="#222" stroke="#222" stroke-width="0.2">100</text>
<line x1="431.8" y1="764.5" x2="435.8" y2="764.5" stroke="#3a3a3a" stroke-width="1"/>
<text x="431" y="767.6" font-size="6.6" text-anchor="end" font-weight="bold" fill="#222" stroke="#222" stroke-width="0.2">50</text>
<line x1="431.8" y1="794.5" x2="435.8" y2="794.5" stroke="#3a3a3a" stroke-width="1"/>
<text x="431" y="797.2" font-size="6.6" text-anchor="end" font-weight="bold" fill="#222" stroke="#222" stroke-width="0.2">0</text>
<rect x="443" y="793" width="13" height="1.4" fill="#333"/>
<rect x="464" y="793" width="13" height="1.4" fill="#333"/>
<line x1="490.5" y1="748.4" x2="490.5" y2="741.4" stroke="#4a4a4a" stroke-width="1"/>
<line x1="487.4" y1="741.5" x2="493.7" y2="741.5" stroke="#4a4a4a" stroke-width="1"/>
<rect x="484.8" y="748.9" width="11.5" height="45.5" fill="#9e9ea3" stroke="#1a1a1a" stroke-width="1.1"/>
<line x1="511.5" y1="772.3" x2="511.5" y2="760.4" stroke="#4a4a4a" stroke-width="1"/>
<line x1="507.7" y1="760.5" x2="514.3" y2="760.5" stroke="#4a4a4a" stroke-width="1"/>
<rect x="504.9" y="772.8" width="12.2" height="21.6" fill="#000" stroke="#1a1a1a" stroke-width="1.1"/>
<text x="480.2" y="697.4" font-size="11.8" text-anchor="middle" font-weight="bold" fill="#000">IL-5</text>
<line x1="535.5" y1="706.2" x2="535.5" y2="795.4" stroke="#3a3a3a" stroke-width="1.3"/>
<line x1="531.5" y1="794.5" x2="624.8" y2="794.5" stroke="#3a3a3a" stroke-width="1.3"/>
<line x1="531.5" y1="706.5" x2="535.5" y2="706.5" stroke="#3a3a3a" stroke-width="1"/>
<text x="530.7" y="709" font-size="6.6" text-anchor="end" font-weight="bold" fill="#222" stroke="#222" stroke-width="0.2">300</text>
<line x1="531.5" y1="736.5" x2="535.5" y2="736.5" stroke="#3a3a3a" stroke-width="1"/>
<text x="530.7" y="738.9" font-size="6.6" text-anchor="end" font-weight="bold" fill="#222" stroke="#222" stroke-width="0.2">200</text>
<line x1="531.5" y1="765.5" x2="535.5" y2="765.5" stroke="#3a3a3a" stroke-width="1"/>
<text x="530.7" y="768.1" font-size="6.6" text-anchor="end" font-weight="bold" fill="#222" stroke="#222" stroke-width="0.2">100</text>
<line x1="531.5" y1="794.5" x2="535.5" y2="794.5" stroke="#3a3a3a" stroke-width="1"/>
<text x="530.7" y="797.7" font-size="6.6" text-anchor="end" font-weight="bold" fill="#222" stroke="#222" stroke-width="0.2">0</text>
<rect x="542.9" y="793.5" width="12.6" height="1.4" fill="#333"/>
<rect x="563.4" y="793.5" width="12.6" height="1.4" fill="#333"/>
<line x1="589.5" y1="731" x2="589.5" y2="725.5" stroke="#4a4a4a" stroke-width="1"/>
<line x1="586.5" y1="725.5" x2="593.2" y2="725.5" stroke="#4a4a4a" stroke-width="1"/>
<rect x="583.6" y="731.5" width="12.5" height="63.4" fill="#9e9ea3" stroke="#1a1a1a" stroke-width="1.1"/>
<line x1="610.5" y1="757" x2="610.5" y2="749.3" stroke="#4a4a4a" stroke-width="1"/>
<line x1="607.2" y1="749.5" x2="614.1" y2="749.5" stroke="#4a4a4a" stroke-width="1"/>
<rect x="604.3" y="757.5" width="12.7" height="37.4" fill="#000" stroke="#1a1a1a" stroke-width="1.1"/>
<text x="579.7" y="698" font-size="11.8" text-anchor="middle" font-weight="bold" fill="#000">IL-13</text>
<polyline points="589.5,715.5 589.5,711.5 610.5,711.5 610.5,731.5" fill="none" stroke="#4a4a4a" stroke-width="1.2"/>
<path d="M600.4 700.9L600.4 707.1M603.1 702.5L597.7 705.5M603.1 705.5L597.7 702.5" stroke="#1a1a1a" stroke-width="1.3" fill="none"/>
<line x1="27.5" y1="845.4" x2="27.5" y2="934.8" stroke="#3a3a3a" stroke-width="1.3"/>
<line x1="23.6" y1="934.5" x2="117.3" y2="934.5" stroke="#3a3a3a" stroke-width="1.3"/>
<line x1="23.6" y1="845.5" x2="27.6" y2="845.5" stroke="#3a3a3a" stroke-width="1"/>
<text x="22.8" y="848.2" font-size="6.6" text-anchor="end" font-weight="bold" fill="#222" stroke="#222" stroke-width="0.2">150</text>
<line x1="23.6" y1="875.5" x2="27.6" y2="875.5" stroke="#3a3a3a" stroke-width="1"/>
<text x="22.8" y="878" font-size="6.6" text-anchor="end" font-weight="bold" fill="#222" stroke="#222" stroke-width="0.2">100</text>
<line x1="23.6" y1="904.5" x2="27.6" y2="904.5" stroke="#3a3a3a" stroke-width="1"/>
<text x="22.8" y="907.6" font-size="6.6" text-anchor="end" font-weight="bold" fill="#222" stroke="#222" stroke-width="0.2">50</text>
<line x1="23.6" y1="934.5" x2="27.6" y2="934.5" stroke="#3a3a3a" stroke-width="1"/>
<text x="22.8" y="937.1" font-size="6.6" text-anchor="end" font-weight="bold" fill="#222" stroke="#222" stroke-width="0.2">0</text>
<rect x="35.8" y="932.9" width="12.8" height="1.4" fill="#333"/>
<line x1="62.5" y1="898.5" x2="62.5" y2="895.6" stroke="#4a4a4a" stroke-width="1"/>
<line x1="58.8" y1="895.5" x2="65.3" y2="895.5" stroke="#4a4a4a" stroke-width="1"/>
<rect x="56.1" y="899" width="11.9" height="35.3" fill="#fff" stroke="#1a1a1a" stroke-width="1.1"/>
<line x1="82.5" y1="879.7" x2="82.5" y2="876.2" stroke="#4a4a4a" stroke-width="1"/>
<line x1="79.5" y1="876.5" x2="86" y2="876.5" stroke="#4a4a4a" stroke-width="1"/>
<rect x="76.7" y="880.2" width="12.1" height="54.1" fill="#9e9ea3" stroke="#1a1a1a" stroke-width="1.1"/>
<line x1="103.5" y1="893.4" x2="103.5" y2="891.4" stroke="#4a4a4a" stroke-width="1"/>
<line x1="100" y1="891.5" x2="106.7" y2="891.5" stroke="#4a4a4a" stroke-width="1"/>
<rect x="97.2" y="893.9" width="12.3" height="40.4" fill="#000" stroke="#1a1a1a" stroke-width="1.1"/>
<text x="72.9" y="838.4" font-size="11.8" text-anchor="middle" font-weight="bold" fill="#000">TNF-a</text>
<polyline points="82.5,865.5 82.5,860.5 103.5,860.5 103.5,881.5" fill="none" stroke="#4a4a4a" stroke-width="1.2"/>
<path d="M89.4 850L89.4 856.2M92.1 851.6L86.7 854.6M92.1 854.6L86.7 851.6" stroke="#1a1a1a" stroke-width="1.3" fill="none"/>
<path d="M96.5 850L96.5 856.2M99.2 851.6L93.8 854.6M99.2 854.6L93.8 851.6" stroke="#1a1a1a" stroke-width="1.3" fill="none"/>
<line x1="128.5" y1="845.4" x2="128.5" y2="934.8" stroke="#3a3a3a" stroke-width="1.3"/>
<line x1="124.6" y1="934.5" x2="217.5" y2="934.5" stroke="#3a3a3a" stroke-width="1.3"/>
<line x1="124.6" y1="845.5" x2="128.6" y2="845.5" stroke="#3a3a3a" stroke-width="1"/>
<text x="123.8" y="848.2" font-size="6.6" text-anchor="end" font-weight="bold" fill="#222" stroke="#222" stroke-width="0.2">300</text>
<line x1="124.6" y1="875.5" x2="128.6" y2="875.5" stroke="#3a3a3a" stroke-width="1"/>
<text x="123.8" y="878" font-size="6.6" text-anchor="end" font-weight="bold" fill="#222" stroke="#222" stroke-width="0.2">200</text>
<line x1="124.6" y1="904.5" x2="128.6" y2="904.5" stroke="#3a3a3a" stroke-width="1"/>
<text x="123.8" y="907.6" font-size="6.6" text-anchor="end" font-weight="bold" fill="#222" stroke="#222" stroke-width="0.2">100</text>
<line x1="124.6" y1="934.5" x2="128.6" y2="934.5" stroke="#3a3a3a" stroke-width="1"/>
<text x="123.8" y="937.1" font-size="6.6" text-anchor="end" font-weight="bold" fill="#222" stroke="#222" stroke-width="0.2">0</text>
<rect x="136" y="932.9" width="12.8" height="1.4" fill="#333"/>
<line x1="163.5" y1="896" x2="163.5" y2="886.2" stroke="#4a4a4a" stroke-width="1"/>
<line x1="159.9" y1="886.5" x2="166.4" y2="886.5" stroke="#4a4a4a" stroke-width="1"/>
<rect x="157.1" y="896.5" width="12.1" height="37.8" fill="#fff" stroke="#1a1a1a" stroke-width="1.1"/>
<line x1="183.5" y1="891.6" x2="183.5" y2="883.4" stroke="#4a4a4a" stroke-width="1"/>
<line x1="179.7" y1="883.5" x2="186.4" y2="883.5" stroke="#4a4a4a" stroke-width="1"/>
<rect x="176.9" y="892.1" width="12.3" height="42.2" fill="#9e9ea3" stroke="#1a1a1a" stroke-width="1.1"/>
<line x1="204.5" y1="913.6" x2="204.5" y2="906.9" stroke="#4a4a4a" stroke-width="1"/>
<line x1="200.8" y1="906.5" x2="207.2" y2="906.5" stroke="#4a4a4a" stroke-width="1"/>
<rect x="198" y="914.1" width="12" height="20.2" fill="#000" stroke="#1a1a1a" stroke-width="1.1"/>
<text x="172.8" y="838.4" font-size="11.8" text-anchor="middle" font-weight="bold" fill="#000">IL-1a</text>
<line x1="229.5" y1="846.6" x2="229.5" y2="935.4" stroke="#3a3a3a" stroke-width="1.3"/>
<line x1="225.4" y1="934.5" x2="317.7" y2="934.5" stroke="#3a3a3a" stroke-width="1.3"/>
<line x1="225.4" y1="846.5" x2="229.4" y2="846.5" stroke="#3a3a3a" stroke-width="1"/>
<text x="224.6" y="849.4" font-size="6.6" text-anchor="end" font-weight="bold" fill="#222" stroke="#222" stroke-width="0.2">250</text>
<line x1="225.4" y1="864.5" x2="229.4" y2="864.5" stroke="#3a3a3a" stroke-width="1"/>
<text x="224.6" y="867.2" font-size="6.6" text-anchor="end" font-weight="bold" fill="#222" stroke="#222" stroke-width="0.2">200</text>
<line x1="225.4" y1="881.5" x2="229.4" y2="881.5" stroke="#3a3a3a" stroke-width="1"/>
<text x="224.6" y="884.5" font-size="6.6" text-anchor="end" font-weight="bold" fill="#222" stroke="#222" stroke-width="0.2">150</text>
<line x1="225.4" y1="899.5" x2="229.4" y2="899.5" stroke="#3a3a3a" stroke-width="1"/>
<text x="224.6" y="902.3" font-size="6.6" text-anchor="end" font-weight="bold" fill="#222" stroke="#222" stroke-width="0.2">100</text>
<line x1="225.4" y1="917.5" x2="229.4" y2="917.5" stroke="#3a3a3a" stroke-width="1"/>
<text x="224.6" y="920.3" font-size="6.6" text-anchor="end" font-weight="bold" fill="#222" stroke="#222" stroke-width="0.2">50</text>
<line x1="225.4" y1="934.5" x2="229.4" y2="934.5" stroke="#3a3a3a" stroke-width="1"/>
<text x="224.6" y="937.7" font-size="6.6" text-anchor="end" font-weight="bold" fill="#222" stroke="#222" stroke-width="0.2">0</text>
<rect x="236.3" y="933.5" width="13.3" height="1.4" fill="#333"/>
<line x1="263.5" y1="932.3" x2="263.5" y2="931.4" stroke="#4a4a4a" stroke-width="1"/>
<line x1="260.1" y1="931.5" x2="266.7" y2="931.5" stroke="#4a4a4a" stroke-width="1"/>
<rect x="257.3" y="932.8" width="12.2" height="2.1" fill="#fff" stroke="#1a1a1a" stroke-width="1.1"/>
<line x1="283.5" y1="898.1" x2="283.5" y2="890.3" stroke="#4a4a4a" stroke-width="1"/>
<line x1="280.5" y1="890.5" x2="287.2" y2="890.5" stroke="#4a4a4a" stroke-width="1"/>
<rect x="277.7" y="898.6" width="12.3" height="36.3" fill="#9e9ea3" stroke="#1a1a1a" stroke-width="1.1"/>
<line x1="304.5" y1="908.9" x2="304.5" y2="902.2" stroke="#4a4a4a" stroke-width="1"/>
<line x1="301" y1="902.5" x2="307.7" y2="902.5" stroke="#4a4a4a" stroke-width="1"/>
<rect x="298.2" y="909.4" width="12.3" height="25.5" fill="#000" stroke="#1a1a1a" stroke-width="1.1"/>
<text x="273.6" y="837.8" font-size="11.8" text-anchor="middle" font-weight="bold" fill="#000">IL-3</text>
<line x1="333.5" y1="846.6" x2="333.5" y2="935.4" stroke="#3a3a3a" stroke-width="1.3"/>
<line x1="329" y1="934.5" x2="421.8" y2="934.5" stroke="#3a3a3a" stroke-width="1.3"/>
<line x1="329" y1="846.5" x2="333" y2="846.5" stroke="#3a3a3a" stroke-width="1"/>
<text x="328.2" y="849.4" font-size="6.6" text-anchor="end" font-weight="bold" fill="#222" stroke="#222" stroke-width="0.2">6000</text>
<line x1="329" y1="876.5" x2="333" y2="876.5" stroke="#3a3a3a" stroke-width="1"/>
<text x="328.2" y="878.8" font-size="6.6" text-anchor="end" font-weight="bold" fill="#222" stroke="#222" stroke-width="0.2">4000</text>
<line x1="329" y1="905.5" x2="333" y2="905.5" stroke="#3a3a3a" stroke-width="1"/>
<text x="328.2" y="908.3" font-size="6.6" text-anchor="end" font-weight="bold" fill="#222" stroke="#222" stroke-width="0.2">2000</text>
<line x1="329" y1="934.5" x2="333" y2="934.5" stroke="#3a3a3a" stroke-width="1"/>
<text x="328.2" y="937.7" font-size="6.6" text-anchor="end" font-weight="bold" fill="#222" stroke="#222" stroke-width="0.2">0</text>
<rect x="340.4" y="933.5" width="12.7" height="1.4" fill="#333"/>
<line x1="367.5" y1="905.9" x2="367.5" y2="903.2" stroke="#4a4a4a" stroke-width="1"/>
<line x1="363.8" y1="903.5" x2="370.2" y2="903.5" stroke="#4a4a4a" stroke-width="1"/>
<rect x="361" y="906.4" width="12" height="28.5" fill="#fff" stroke="#1a1a1a" stroke-width="1.1"/>
<line x1="387.5" y1="881.3" x2="387.5" y2="875.2" stroke="#4a4a4a" stroke-width="1"/>
<line x1="384.5" y1="875.5" x2="390.8" y2="875.5" stroke="#4a4a4a" stroke-width="1"/>
<rect x="381.8" y="881.8" width="11.7" height="53.1" fill="#9e9ea3" stroke="#1a1a1a" stroke-width="1.1"/>
<line x1="407.5" y1="889.1" x2="407.5" y2="885.2" stroke="#4a4a4a" stroke-width="1"/>
<line x1="404.6" y1="885.5" x2="411.3" y2="885.5" stroke="#4a4a4a" stroke-width="1"/>
<rect x="401.8" y="889.6" width="12.3" height="45.3" fill="#000" stroke="#1a1a1a" stroke-width="1.1"/>
<text x="377.4" y="837.8" font-size="11.8" text-anchor="middle" font-weight="bold" fill="#000">IL-6</text>
<line x1="436.5" y1="846.4" x2="436.5" y2="935.4" stroke="#3a3a3a" stroke-width="1.3"/>
<line x1="432.8" y1="934.5" x2="525.2" y2="934.5" stroke="#3a3a3a" stroke-width="1.3"/>
<line x1="432.8" y1="846.5" x2="436.8" y2="846.5" stroke="#3a3a3a" stroke-width="1"/>
<text x="432" y="849.2" font-size="6.6" text-anchor="end" font-weight="bold" fill="#222" stroke="#222" stroke-width="0.2">250</text>
<line x1="432.8" y1="864.5" x2="436.8" y2="864.5" stroke="#3a3a3a" stroke-width="1"/>
<text x="432" y="866.8" font-size="6.6" text-anchor="end" font-weight="bold" fill="#222" stroke="#222" stroke-width="0.2">200</text>
<line x1="432.8" y1="881.5" x2="436.8" y2="881.5" stroke="#3a3a3a" stroke-width="1"/>
<text x="432" y="884.5" font-size="6.6" text-anchor="end" font-weight="bold" fill="#222" stroke="#222" stroke-width="0.2">150</text>
<line x1="432.8" y1="899.5" x2="436.8" y2="899.5" stroke="#3a3a3a" stroke-width="1"/>
<text x="432" y="902.3" font-size="6.6" text-anchor="end" font-weight="bold" fill="#222" stroke="#222" stroke-width="0.2">100</text>
<line x1="432.8" y1="917.5" x2="436.8" y2="917.5" stroke="#3a3a3a" stroke-width="1"/>
<text x="432" y="919.9" font-size="6.6" text-anchor="end" font-weight="bold" fill="#222" stroke="#222" stroke-width="0.2">50</text>
<line x1="432.8" y1="934.5" x2="436.8" y2="934.5" stroke="#3a3a3a" stroke-width="1"/>
<text x="432" y="937.7" font-size="6.6" text-anchor="end" font-weight="bold" fill="#222" stroke="#222" stroke-width="0.2">0</text>
<line x1="449.5" y1="932.6" x2="449.5" y2="931.4" stroke="#4a4a4a" stroke-width="1"/>
<line x1="446.7" y1="931.5" x2="453.2" y2="931.5" stroke="#4a4a4a" stroke-width="1"/>
<rect x="444" y="933.1" width="11.9" height="1.8" fill="#ececec" stroke="#1a1a1a" stroke-width="1.1"/>
<line x1="470.5" y1="885.4" x2="470.5" y2="876.2" stroke="#4a4a4a" stroke-width="1"/>
<line x1="467.8" y1="876.5" x2="474" y2="876.5" stroke="#4a4a4a" stroke-width="1"/>
<rect x="465.1" y="885.9" width="11.6" height="49" fill="#fff" stroke="#1a1a1a" stroke-width="1.1"/>
<line x1="491.5" y1="902.2" x2="491.5" y2="896" stroke="#4a4a4a" stroke-width="1"/>
<line x1="488.2" y1="896.5" x2="494.5" y2="896.5" stroke="#4a4a4a" stroke-width="1"/>
<rect x="485.5" y="902.7" width="11.7" height="32.2" fill="#9e9ea3" stroke="#1a1a1a" stroke-width="1.1"/>
<line x1="511.5" y1="918.5" x2="511.5" y2="914.4" stroke="#4a4a4a" stroke-width="1"/>
<line x1="508.6" y1="914.5" x2="514.9" y2="914.5" stroke="#4a4a4a" stroke-width="1"/>
<rect x="505.9" y="919" width="11.7" height="15.9" fill="#000" stroke="#1a1a1a" stroke-width="1.1"/>
<text x="481" y="837.8" font-size="11.8" text-anchor="middle" font-weight="bold" fill="#000">IL-9</text>
<line x1="535.5" y1="843.9" x2="535.5" y2="933.8" stroke="#3a3a3a" stroke-width="1.3"/>
<line x1="531.5" y1="933.5" x2="624.6" y2="933.5" stroke="#3a3a3a" stroke-width="1.3"/>
<line x1="531.5" y1="843.5" x2="535.5" y2="843.5" stroke="#3a3a3a" stroke-width="1"/>
<text x="530.7" y="846.7" font-size="6.6" text-anchor="end" font-weight="bold" fill="#222" stroke="#222" stroke-width="0.2">150</text>
<line x1="531.5" y1="874.5" x2="535.5" y2="874.5" stroke="#3a3a3a" stroke-width="1"/>
<text x="530.7" y="876.9" font-size="6.6" text-anchor="end" font-weight="bold" fill="#222" stroke="#222" stroke-width="0.2">100</text>
<line x1="531.5" y1="903.5" x2="535.5" y2="903.5" stroke="#3a3a3a" stroke-width="1"/>
<text x="530.7" y="906.4" font-size="6.6" text-anchor="end" font-weight="bold" fill="#222" stroke="#222" stroke-width="0.2">50</text>
<line x1="531.5" y1="933.5" x2="535.5" y2="933.5" stroke="#3a3a3a" stroke-width="1"/>
<text x="530.7" y="936.1" font-size="6.6" text-anchor="end" font-weight="bold" fill="#222" stroke="#222" stroke-width="0.2">0</text>
<rect x="543" y="931.9" width="13.4" height="1.4" fill="#333"/>
<rect x="564" y="931.9" width="12.8" height="1.4" fill="#333"/>
<line x1="590.5" y1="887" x2="590.5" y2="876" stroke="#4a4a4a" stroke-width="1"/>
<line x1="587.6" y1="876.5" x2="594.1" y2="876.5" stroke="#4a4a4a" stroke-width="1"/>
<rect x="584.9" y="887.5" width="11.9" height="45.8" fill="#9e9ea3" stroke="#1a1a1a" stroke-width="1.1"/>
<line x1="611.5" y1="906.9" x2="611.5" y2="901.6" stroke="#4a4a4a" stroke-width="1"/>
<line x1="607.7" y1="901.5" x2="614.4" y2="901.5" stroke="#4a4a4a" stroke-width="1"/>
<rect x="604.9" y="907.4" width="12.3" height="25.9" fill="#000" stroke="#1a1a1a" stroke-width="1.1"/>
<text x="580.1" y="835.8" font-size="11.8" text-anchor="middle" font-weight="bold" fill="#000">IL-17</text>
<line x1="549.5" y1="933.3" x2="549.5" y2="935.8" stroke="#3a3a3a" stroke-width="1"/>
<line x1="570.5" y1="933.3" x2="570.5" y2="935.8" stroke="#3a3a3a" stroke-width="1"/>
<line x1="590.5" y1="933.3" x2="590.5" y2="935.8" stroke="#3a3a3a" stroke-width="1"/>
<line x1="611.5" y1="933.3" x2="611.5" y2="935.8" stroke="#3a3a3a" stroke-width="1"/>
<text x="12" y="15" font-size="19.5" text-anchor="middle" font-weight="bold" fill="#000">A</text>
<text x="148" y="14" font-size="12.8" text-anchor="middle" font-weight="bold" fill="#000" textLength="35" lengthAdjust="spacingAndGlyphs">Tconv</text>
<text x="250.8" y="14" font-size="12.8" text-anchor="middle" font-weight="bold" fill="#000" textLength="25.7" lengthAdjust="spacingAndGlyphs">Treg</text>
<text x="49.5" y="78.9" font-size="13.5" text-anchor="middle" font-weight="bold" fill="#000" textLength="52" lengthAdjust="spacingAndGlyphs">medium</text>
<text x="28.8" y="164.5" font-size="12.5" font-weight="bold"><tspan textLength="22.4" lengthAdjust="spacingAndGlyphs">VLP</tspan><tspan x="52.1" y="160.4" font-size="8" font-weight="normal" textLength="17.8" lengthAdjust="spacingAndGlyphs">OVA</tspan></text>
<text x="26.1" y="250.8" font-size="12.5" font-weight="bold"><tspan textLength="28" lengthAdjust="spacingAndGlyphs">tVLP</tspan><tspan x="55.3" y="246.1" font-size="8" font-weight="normal" textLength="17.5" lengthAdjust="spacingAndGlyphs">OVA</tspan></text>
<line x1="85" y1="47.8" x2="85" y2="137" stroke="#000" stroke-width="1.7"/>
<line x1="85" y1="191" x2="85" y2="275.6" stroke="#000" stroke-width="1.7"/>
<text x="89.7" y="164" font-size="12.8" text-anchor="middle" font-weight="bold" fill="#000" transform="rotate(-90 89.7 164)" textLength="32.5" lengthAdjust="spacingAndGlyphs">CD44</text>
<line x1="120.5" y1="313" x2="177.8" y2="313" stroke="#000" stroke-width="1.8"/>
<line x1="217.7" y1="313" x2="276.8" y2="313" stroke="#000" stroke-width="1.8"/>
<text x="198.3" y="317.3" font-size="13.7" text-anchor="middle" font-weight="bold" fill="#000" textLength="24.2" lengthAdjust="spacingAndGlyphs">CTV</text>
<defs><filter id="bl" x="-5%" y="-5%" width="110%" height="110%"><feGaussianBlur stdDeviation="0.3"/></filter></defs>
<path d="M165.1 90.4h0.8M166.1 90.8h0.8M164.1 87.6h0.8M162.0 89.8h0.8M163.5 97.4h0.8M161.6 82.2h0.8M165.3 91.2h0.8M169.8 85.8h0.8M163.4 90.9h0.8M162.9 93.9h0.8M166.8 89.7h0.8M166.3 93.6h0.8M165.5 82.7h0.8M161.8 95.1h0.8M165.0 87.2h0.8M167.5 92.9h0.8M160.4 90.8h0.8M163.5 78.1h0.8M158.4 86.5h0.8M160.6 91.0h0.8M158.7 97.1h0.8M164.3 91.3h0.8M160.7 91.2h0.8M166.0 83.5h0.8M165.6 96.6h0.8M164.4 98.3h0.8M156.3 90.1h0.8M163.2 89.0h0.8M164.9 82.6h0.8M165.5 94.1h0.8M159.7 102.4h0.8M163.4 93.3h0.8M161.7 95.8h0.8M162.3 92.5h0.8M168.8 85.5h0.8M162.3 96.1h0.8M165.0 84.3h0.8M168.2 89.0h0.8M163.1 91.3h0.8M164.7 94.1h0.8M165.5 91.9h0.8M165.3 91.8h0.8M160.8 86.5h0.8M165.4 84.1h0.8M169.9 90.3h0.8M159.7 86.7h0.8M168.1 84.0h0.8M165.5 84.2h0.8M162.9 87.7h0.8M172.1 81.5h0.8M167.8 83.8h0.8M160.9 82.5h0.8M165.4 90.8h0.8M167.1 91.9h0.8M164.4 99.2h0.8M167.5 83.1h0.8M164.9 86.9h0.8M167.4 94.2h0.8M170.1 89.0h0.8M162.7 88.5h0.8M165.8 97.9h0.8M163.5 88.4h0.8M165.5 84.7h0.8M160.9 83.9h0.8M163.1 91.5h0.8M164.4 91.4h0.8M168.2 83.7h0.8M169.1 85.5h0.8M160.5 92.5h0.8M162.3 92.7h0.8M167.4 87.0h0.8M158.1 92.9h0.8M163.5 92.6h0.8M164.8 81.8h0.8M169.5 88.6h0.8M167.5 91.9h0.8M164.0 87.4h0.8M163.8 80.2h0.8M164.2 88.7h0.8M170.4 93.5h0.8M163.6 97.3h0.8M164.0 79.9h0.8M166.3 102.0h0.8M164.7 84.8h0.8M164.4 94.4h0.8M161.2 95.7h0.8M165.1 94.5h0.8M163.5 90.7h0.8M169.2 84.7h0.8M167.4 92.9h0.8M165.0 86.7h0.8M167.4 78.4h0.8M163.9 103.0h0.8M168.8 93.3h0.8M165.1 98.4h0.8M167.1 85.8h0.8M160.6 96.8h0.8M166.3 97.3h0.8M159.2 97.2h0.8M158.0 89.9h0.8M164.0 84.5h0.8M162.0 89.2h0.8M165.7 79.9h0.8M173.0 82.2h0.8M162.2 90.4h0.8M162.9 85.4h0.8M165.8 89.2h0.8M166.8 89.5h0.8M164.5 98.9h0.8M164.4 96.0h0.8M167.6 89.8h0.8M166.9 95.6h0.8M161.5 86.4h0.8M164.8 88.5h0.8M165.2 94.2h0.8M161.4 84.3h0.8M166.0 88.7h0.8M162.1 83.9h0.8M168.5 90.5h0.8M165.8 97.5h0.8M165.4 86.5h0.8M163.0 91.0h0.8M164.7 85.9h0.8M158.1 84.7h0.8M161.1 84.3h0.8M166.4 96.7h0.8M157.7 100.9h0.8M168.1 92.2h0.8M159.0 86.7h0.8M167.7 93.2h0.8M162.1 88.5h0.8M167.8 93.7h0.8M165.6 91.3h0.8M159.7 91.3h0.8M169.5 92.8h0.8M170.1 87.3h0.8M164.9 88.1h0.8M164.1 82.1h0.8M164.5 88.0h0.8M161.7 83.5h0.8M168.9 89.3h0.8M163.2 85.6h0.8M164.9 90.5h0.8M162.3 92.1h0.8M162.9 83.5h0.8M160.6 86.3h0.8M169.5 85.7h0.8M164.6 93.4h0.8M168.5 97.8h0.8M165.1 93.9h0.8M162.7 88.4h0.8M164.0 96.7h0.8M163.1 83.0h0.8M165.1 96.9h0.8M163.8 87.0h0.8M164.1 77.2h0.8M160.3 102.2h0.8M162.3 97.3h0.8M170.9 85.3h0.8M162.8 90.8h0.8M161.4 89.0h0.8M166.3 90.5h0.8M170.0 83.2h0.8M160.0 86.9h0.8M164.4 92.2h0.8M162.9 91.0h0.8M158.9 95.5h0.8M167.7 90.4h0.8M165.0 100.8h0.8M165.4 86.7h0.8M162.5 91.2h0.8M166.7 81.2h0.8M163.2 84.2h0.8M164.6 96.1h0.8M161.2 85.7h0.8M160.8 92.4h0.8M169.8 89.7h0.8M163.3 85.2h0.8M166.1 88.4h0.8M165.0 87.6h0.8M163.6 87.8h0.8M163.3 93.5h0.8M167.3 93.0h0.8M164.0 87.3h0.8M164.6 85.8h0.8M165.2 91.3h0.8M169.2 89.5h0.8M167.5 94.7h0.8M166.4 102.2h0.8M163.1 93.9h0.8M160.3 89.8h0.8M168.4 89.2h0.8M168.5 86.1h0.8M164.6 85.8h0.8M167.0 85.4h0.8M167.8 88.2h0.8M168.0 88.0h0.8M168.3 93.4h0.8M163.5 88.2h0.8M170.4 89.1h0.8M160.7 84.4h0.8M168.1 97.6h0.8M166.8 92.3h0.8M168.2 98.2h0.8M171.7 93.7h0.8M170.3 96.9h0.8M161.1 88.9h0.8M159.2 93.3h0.8M168.0 102.4h0.8M161.5 84.4h0.8M165.1 95.4h0.8M168.0 97.8h0.8M159.3 91.9h0.8M157.7 93.5h0.8M166.0 95.9h0.8M165.3 86.9h0.8M164.2 91.9h0.8M165.2 85.9h0.8M162.1 86.8h0.8M159.8 87.1h0.8M164.5 89.3h0.8M161.7 90.7h0.8M159.3 92.1h0.8M166.9 83.3h0.8M164.9 99.3h0.8M166.5 95.4h0.8M161.6 93.4h0.8M162.8 88.3h0.8M161.6 89.6h0.8M162.0 92.6h0.8M165.8 91.9h0.8M162.4 82.1h0.8M166.3 93.5h0.8M166.3 103.7h0.8M172.2 81.3h0.8M160.2 94.7h0.8M168.2 91.7h0.8M164.8 89.5h0.8M165.1 96.5h0.8M160.0 84.4h0.8M163.5 90.8h0.8M167.7 96.9h0.8M164.8 89.1h0.8M165.4 88.0h0.8M164.1 90.5h0.8M169.1 87.9h0.8M165.0 97.3h0.8M157.4 85.7h0.8M162.7 94.1h0.8M158.2 84.1h0.8M153.7 93.2h0.8M163.2 89.5h0.8M169.8 77.8h0.8M165.3 90.0h0.8M161.0 85.0h0.8M161.8 87.9h0.8M169.1 97.3h0.8M165.7 84.7h0.8M165.3 85.0h0.8M164.9 96.8h0.8M165.2 90.5h0.8M167.9 97.3h0.8M167.0 91.5h0.8M165.9 85.8h0.8M161.4 89.7h0.8M166.9 95.8h0.8M162.7 94.5h0.8M168.9 90.0h0.8M160.7 90.2h0.8M164.6 89.5h0.8M165.1 87.3h0.8M160.5 99.1h0.8M171.1 90.0h0.8M170.2 84.7h0.8M163.5 87.7h0.8M167.8 93.4h0.8M166.4 93.0h0.8M156.0 89.4h0.8M166.0 86.8h0.8M164.9 90.1h0.8M165.4 82.1h0.8M161.3 83.8h0.8M164.2 93.8h0.8M164.5 87.7h0.8M169.3 91.8h0.8M166.3 95.8h0.8M165.1 93.1h0.8M170.5 90.1h0.8M163.2 100.1h0.8M163.7 93.2h0.8M158.7 88.3h0.8M170.6 93.5h0.8M168.5 91.9h0.8M168.3 86.0h0.8M167.4 90.3h0.8M165.5 89.2h0.8M165.9 80.7h0.8M164.2 89.2h0.8M164.4 88.7h0.8M165.3 87.9h0.8M170.4 82.2h0.8M167.0 88.3h0.8M164.9 89.8h0.8M163.1 90.5h0.8M162.9 84.6h0.8M170.7 93.0h0.8M166.9 84.3h0.8M165.3 88.9h0.8M163.9 96.2h0.8M161.2 86.7h0.8M164.9 87.6h0.8M168.2 95.1h0.8M163.7 88.2h0.8M164.3 88.6h0.8M164.3 91.0h0.8M165.5 95.0h0.8M159.5 79.6h0.8M164.3 86.1h0.8M162.1 85.2h0.8M168.2 84.9h0.8M162.4 86.0h0.8M167.1 86.0h0.8M170.4 91.4h0.8M164.0 85.8h0.8M163.0 90.6h0.8M165.8 91.9h0.8M165.1 86.6h0.8M161.6 90.6h0.8M166.7 97.7h0.8M172.2 91.5h0.8M164.2 87.0h0.8M164.4 89.7h0.8M161.4 85.7h0.8M166.2 91.3h0.8M160.7 94.1h0.8M161.2 86.1h0.8M169.6 89.0h0.8M161.9 95.2h0.8M168.9 87.7h0.8M170.4 90.9h0.8M166.0 85.2h0.8M167.0 86.2h0.8M171.9 87.6h0.8M164.4 100.0h0.8M163.0 88.1h0.8M160.4 87.6h0.8M165.2 87.4h0.8M170.3 89.2h0.8M168.5 93.0h0.8M161.8 90.9h0.8M162.1 99.5h0.8M163.3 91.0h0.8M166.1 96.7h0.8M164.4 91.3h0.8M165.9 92.8h0.8M166.1 83.4h0.8M164.1 89.4h0.8M165.0 89.7h0.8M165.8 88.9h0.8M164.8 80.1h0.8M166.9 94.1h0.8M171.6 88.2h0.8M167.2 88.0h0.8M165.3 88.8h0.8M159.2 89.0h0.8M166.5 91.9h0.8M158.3 84.2h0.8M160.2 85.7h0.8M168.1 91.3h0.8M167.6 90.7h0.8M164.6 88.3h0.8M159.1 87.4h0.8M163.8 86.2h0.8M162.7 89.7h0.8M167.3 95.4h0.8M173.0 85.1h0.8M165.9 97.0h0.8M162.4 93.9h0.8M161.0 87.9h0.8M164.9 93.6h0.8M164.5 83.3h0.8M161.1 82.0h0.8M165.5 84.1h0.8M161.1 88.1h0.8M169.0 88.5h0.8M168.8 87.6h0.8M168.9 90.5h0.8M163.4 80.2h0.8M166.9 92.3h0.8M164.6 83.5h0.8M163.7 87.0h0.8M163.9 88.1h0.8M160.6 84.7h0.8M160.0 83.7h0.8M167.9 85.4h0.8M164.4 89.9h0.8M165.9 92.7h0.8M168.6 92.6h0.8M159.0 85.4h0.8M162.4 86.4h0.8M165.7 85.8h0.8M166.5 92.1h0.8M163.8 80.6h0.8M168.7 95.7h0.8M165.8 87.8h0.8M160.9 86.4h0.8M161.8 91.6h0.8M167.9 94.8h0.8M166.7 91.6h0.8M158.5 94.8h0.8M169.8 90.6h0.8M167.2 95.7h0.8M169.8 95.7h0.8M163.8 89.5h0.8M164.1 96.6h0.8M161.2 90.8h0.8M174.0 90.4h0.8M164.5 85.8h0.8M170.7 88.7h0.8M162.8 93.6h0.8M165.7 84.0h0.8M159.3 93.0h0.8M163.8 91.6h0.8M168.5 91.3h0.8M160.7 79.9h0.8M168.9 89.5h0.8M166.3 93.0h0.8M161.4 86.5h0.8M163.3 90.4h0.8M163.5 79.1h0.8M164.9 93.1h0.8M163.2 87.0h0.8M162.2 94.0h0.8M164.0 81.5h0.8M161.5 93.2h0.8M160.6 88.9h0.8M164.9 93.7h0.8M168.2 85.7h0.8M159.7 87.2h0.8M165.1 100.3h0.8M162.8 86.2h0.8M161.7 86.8h0.8M168.1 88.7h0.8M163.3 85.3h0.8M170.3 95.5h0.8M162.4 97.9h0.8M166.5 86.8h0.8M164.3 82.1h0.8M162.5 95.4h0.8M167.2 95.1h0.8M164.6 93.8h0.8M167.2 95.3h0.8M164.9 86.0h0.8M161.3 89.2h0.8M164.7 83.6h0.8M165.3 83.5h0.8M168.5 94.5h0.8M161.9 86.9h0.8M165.0 100.5h0.8M159.1 90.3h0.8M167.4 87.1h0.8M161.3 93.7h0.8M158.8 98.3h0.8M164.9 92.2h0.8M169.0 84.4h0.8M159.8 91.7h0.8M161.3 96.3h0.8M162.5 87.7h0.8M161.1 86.4h0.8M166.4 94.7h0.8M162.3 90.6h0.8M162.6 84.9h0.8M167.1 88.3h0.8M162.5 86.5h0.8M166.6 91.4h0.8M161.7 90.5h0.8M160.9 95.3h0.8M158.7 93.3h0.8M171.6 82.8h0.8M164.0 91.9h0.8M166.0 94.1h0.8M165.0 92.1h0.8M165.7 94.7h0.8M165.3 87.5h0.8M171.8 85.6h0.8M161.5 94.3h0.8M159.6 85.1h0.8M161.6 80.1h0.8M160.4 94.7h0.8M167.7 86.7h0.8M168.0 88.6h0.8M161.7 83.6h0.8M160.2 83.9h0.8M163.9 84.7h0.8M170.0 88.3h0.8M155.2 91.7h0.8M166.9 79.4h0.8M161.3 93.5h0.8M168.7 84.6h0.8M161.3 85.1h0.8M164.1 93.1h0.8M159.8 89.7h0.8M161.7 82.9h0.8M170.0 98.5h0.8M168.0 86.0h0.8M163.7 91.1h0.8M162.1 90.9h0.8M158.5 96.5h0.8M163.7 87.9h0.8M165.0 94.6h0.8M164.8 86.6h0.8M164.8 95.2h0.8M161.2 86.5h0.8M164.9 88.3h0.8M165.0 98.7h0.8M169.6 91.5h0.8M171.6 90.5h0.8M164.6 100.3h0.8M162.4 91.7h0.8M164.9 86.2h0.8M163.0 93.4h0.8M162.5 84.6h0.8M164.9 95.2h0.8M161.4 95.5h0.8M167.2 87.4h0.8M164.7 87.1h0.8M166.0 90.8h0.8M164.5 90.1h0.8M162.6 85.5h0.8M161.8 92.6h0.8M164.3 80.6h0.8M163.2 88.0h0.8M165.9 88.1h0.8M165.1 88.7h0.8M160.3 91.4h0.8M165.3 84.4h0.8M160.4 92.7h0.8M162.9 89.2h0.8M164.1 87.0h0.8M157.8 83.7h0.8M165.4 84.6h0.8M165.6 91.7h0.8M164.5 85.6h0.8M163.6 90.3h0.8M163.8 94.9h0.8M161.7 94.8h0.8M164.2 97.2h0.8M163.2 88.6h0.8M165.4 85.0h0.8M160.9 94.7h0.8M165.9 91.4h0.8M165.6 95.2h0.8M164.6 90.1h0.8M163.6 95.5h0.8M167.0 93.9h0.8M159.3 93.3h0.8M166.7 92.3h0.8M166.0 91.8h0.8M166.1 91.1h0.8M166.4 91.0h0.8M162.8 94.6h0.8M164.2 87.6h0.8M167.3 98.0h0.8M166.6 89.5h0.8M165.8 94.5h0.8M159.8 89.6h0.8M167.0 88.9h0.8M169.2 99.3h0.8M168.6 88.6h0.8M165.9 84.1h0.8M159.6 86.7h0.8M168.4 88.5h0.8M164.6 99.9h0.8M156.2 91.0h0.8M166.4 94.3h0.8M159.9 85.4h0.8M160.6 91.6h0.8M162.9 93.1h0.8M169.6 98.3h0.8M163.8 86.8h0.8M166.0 92.8h0.8M171.2 91.4h0.8M170.7 85.3h0.8M164.7 89.9h0.8M164.3 88.8h0.8M160.7 79.3h0.8M162.7 92.8h0.8M166.6 92.5h0.8M166.5 88.0h0.8M165.5 83.8h0.8M168.6 96.8h0.8M162.4 91.2h0.8M164.9 94.7h0.8M167.7 96.5h0.8M167.1 87.6h0.8M168.8 93.7h0.8M166.5 88.9h0.8M164.0 89.7h0.8M166.4 89.6h0.8M161.6 90.0h0.8M159.4 95.1h0.8M167.1 90.6h0.8M164.9 89.3h0.8M166.2 88.7h0.8M159.2 91.6h0.8M163.8 85.9h0.8M163.0 87.7h0.8M162.1 89.8h0.8M157.2 87.4h0.8M163.9 89.5h0.8M168.2 87.2h0.8M166.4 99.2h0.8M163.0 96.1h0.8M165.0 92.1h0.8M167.7 89.8h0.8M155.4 100.1h0.8M164.7 91.5h0.8M167.0 89.6h0.8M167.5 91.4h0.8M171.1 91.4h0.8M169.1 96.5h0.8M166.2 89.9h0.8M166.2 99.7h0.8M167.9 85.9h0.8M163.2 93.2h0.8M165.0 85.4h0.8M168.3 98.4h0.8M172.0 88.5h0.8M164.5 89.7h0.8M164.9 94.3h0.8M165.8 95.8h0.8M169.8 84.9h0.8M165.0 88.4h0.8M170.2 83.6h0.8M161.7 90.6h0.8M164.4 89.5h0.8M164.4 88.4h0.8M167.9 86.9h0.8M168.8 88.2h0.8M159.8 86.6h0.8M161.9 92.4h0.8M166.3 97.0h0.8M162.8 81.1h0.8M159.8 89.5h0.8M168.7 88.1h0.8M166.8 92.3h0.8M166.8 85.6h0.8M163.4 89.3h0.8M168.7 85.2h0.8M164.3 93.2h0.8M168.9 90.5h0.8M161.9 89.3h0.8M162.1 91.7h0.8M165.8 88.9h0.8M162.6 82.9h0.8M167.5 92.7h0.8M166.0 91.3h0.8M161.9 89.3h0.8M165.4 94.5h0.8M163.9 95.6h0.8M168.3 85.0h0.8M162.9 86.4h0.8M163.6 97.1h0.8M169.3 96.5h0.8M172.9 86.6h0.8M172.1 84.6h0.8M165.3 87.1h0.8M165.9 87.7h0.8M170.5 82.7h0.8M164.7 90.1h0.8M161.7 84.1h0.8M165.5 84.4h0.8M166.7 94.2h0.8M162.2 86.9h0.8M159.3 89.7h0.8M160.1 92.9h0.8M167.4 93.7h0.8M162.4 88.4h0.8M164.6 90.2h0.8M165.8 86.2h0.8M167.3 98.0h0.8M163.9 93.0h0.8M166.8 84.9h0.8M162.0 90.0h0.8M163.8 93.3h0.8M161.5 92.2h0.8M169.1 98.4h0.8M165.0 96.3h0.8M162.5 87.5h0.8M163.9 89.6h0.8M164.3 84.1h0.8M167.6 91.1h0.8M159.5 90.7h0.8M161.5 102.4h0.8M163.8 90.4h0.8M174.0 80.4h0.8M168.4 86.9h0.8M164.7 90.5h0.8M167.6 84.2h0.8M172.3 86.0h0.8M164.3 88.3h0.8M163.8 91.6h0.8M169.3 89.2h0.8M166.8 85.9h0.8M167.4 93.6h0.8M163.3 87.5h0.8M171.8 87.7h0.8M171.1 83.7h0.8M167.1 86.4h0.8M167.5 93.0h0.8M158.0 82.6h0.8M167.3 89.7h0.8M164.4 93.3h0.8M166.6 88.3h0.8M167.5 91.1h0.8M163.9 84.9h0.8M159.2 96.0h0.8M166.4 95.1h0.8M162.5 91.1h0.8M163.9 81.9h0.8M163.0 85.2h0.8M163.9 94.5h0.8M157.0 97.9h0.8M169.4 91.4h0.8M166.0 95.7h0.8M169.0 87.2h0.8M172.0 89.1h0.8M165.2 90.0h0.8M158.8 91.9h0.8M162.0 83.0h0.8M160.9 94.3h0.8M163.3 96.1h0.8M165.4 84.7h0.8M158.1 83.8h0.8M166.3 91.6h0.8M159.8 87.0h0.8M166.1 79.1h0.8M164.7 93.7h0.8M164.0 90.7h0.8M164.8 87.8h0.8M163.2 99.7h0.8M163.0 90.6h0.8M159.2 86.5h0.8M165.0 90.5h0.8M171.6 85.2h0.8M172.0 86.5h0.8M169.7 91.8h0.8M167.6 87.5h0.8M162.7 87.9h0.8M170.1 97.7h0.8M164.9 94.0h0.8M164.9 93.7h0.8M164.1 92.4h0.8M165.4 92.2h0.8M163.6 96.7h0.8M164.8 89.9h0.8M161.3 98.5h0.8M163.8 85.6h0.8M173.1 88.8h0.8M164.9 83.7h0.8M164.3 88.4h0.8M167.0 92.4h0.8M167.6 96.7h0.8M161.2 86.9h0.8M164.4 90.0h0.8M168.3 88.3h0.8M166.0 86.6h0.8M165.5 84.5h0.8M170.5 90.3h0.8M162.7 82.0h0.8M165.4 90.5h0.8M163.3 90.1h0.8M170.3 87.0h0.8M158.3 85.3h0.8M162.8 83.6h0.8M163.2 98.6h0.8M167.4 83.8h0.8M167.2 97.2h0.8M170.0 92.8h0.8M159.6 88.3h0.8M167.7 84.7h0.8M164.1 94.8h0.8M162.8 98.0h0.8M167.0 85.7h0.8M161.9 88.6h0.8M157.8 94.8h0.8M163.8 91.5h0.8M159.9 99.2h0.8M162.8 87.4h0.8M166.4 92.5h0.8M166.2 84.2h0.8M170.7 99.6h0.8M164.4 86.6h0.8M159.7 79.8h0.8M162.5 89.4h0.8M161.9 89.4h0.8M160.8 98.8h0.8M166.6 88.4h0.8M162.8 89.9h0.8M158.2 92.7h0.8M167.5 97.3h0.8M164.7 89.7h0.8M166.3 94.8h0.8M165.5 92.4h0.8M167.3 88.6h0.8M165.2 90.4h0.8M169.4 90.1h0.8M166.6 85.8h0.8M166.5 95.6h0.8M166.5 83.6h0.8M160.0 95.4h0.8M164.5 94.4h0.8M164.2 89.6h0.8M165.8 86.5h0.8M160.3 89.0h0.8M170.8 92.2h0.8M165.5 93.4h0.8M160.9 91.3h0.8M159.1 94.6h0.8M164.1 87.4h0.8M164.8 91.1h0.8M162.6 82.8h0.8M165.4 93.5h0.8M162.9 90.7h0.8M167.0 88.1h0.8M162.6 95.3h0.8M165.0 93.2h0.8M168.5 77.0h0.8M174.1 90.2h0.8M161.6 83.3h0.8M163.5 94.9h0.8M162.2 101.4h0.8M167.8 87.6h0.8M161.1 90.3h0.8M163.4 88.8h0.8M165.0 91.6h0.8M161.7 93.0h0.8M161.7 95.9h0.8M163.4 85.5h0.8M157.7 97.2h0.8M160.0 85.7h0.8M163.7 91.3h0.8M165.6 95.3h0.8M164.4 93.3h0.8M158.9 85.7h0.8M163.5 86.8h0.8M167.9 87.9h0.8M167.0 89.8h0.8M164.8 95.3h0.8M162.0 84.1h0.8M167.3 92.1h0.8M163.1 92.8h0.8M161.0 92.6h0.8M162.3 92.1h0.8M170.2 97.0h0.8M165.9 92.2h0.8M169.2 93.9h0.8M163.4 92.6h0.8M168.4 98.2h0.8M163.0 81.3h0.8M164.5 95.9h0.8M173.8 88.8h0.8M167.8 88.7h0.8M163.3 85.5h0.8M164.8 81.4h0.8M166.2 88.2h0.8M169.3 86.8h0.8M163.4 92.3h0.8M159.0 83.2h0.8M164.1 96.6h0.8M165.2 91.3h0.8M165.5 88.9h0.8M169.7 86.7h0.8M166.2 86.4h0.8M167.9 84.8h0.8M161.2 87.5h0.8M168.1 90.0h0.8M172.4 89.2h0.8M167.8 83.5h0.8M166.0 88.8h0.8M165.6 85.9h0.8M171.4 90.7h0.8M161.9 98.6h0.8M164.7 92.9h0.8M166.7 88.6h0.8M167.7 82.5h0.8M163.6 83.5h0.8M166.2 82.2h0.8M164.1 93.3h0.8M165.5 86.5h0.8M164.6 90.3h0.8M161.1 87.1h0.8M165.0 90.4h0.8M168.2 96.4h0.8M161.7 86.8h0.8M164.3 88.4h0.8M167.4 86.3h0.8M161.4 94.0h0.8M165.7 85.3h0.8M161.4 84.8h0.8M169.1 83.6h0.8M173.2 83.5h0.8M172.2 92.2h0.8M164.3 101.8h0.8M167.7 85.4h0.8M165.5 94.4h0.8M165.5 91.2h0.8M170.5 84.9h0.8M160.5 88.7h0.8M168.8 88.9h0.8M164.9 86.8h0.8M170.0 98.9h0.8M165.8 81.2h0.8M162.7 91.8h0.8M166.1 91.5h0.8M167.7 87.3h0.8M165.2 90.7h0.8M166.8 94.0h0.8M163.3 90.7h0.8M157.6 91.9h0.8M168.3 93.2h0.8M167.5 80.7h0.8M165.6 96.8h0.8M165.3 100.5h0.8M168.7 94.5h0.8M163.5 94.7h0.8M162.6 83.5h0.8M164.4 89.5h0.8M169.3 86.3h0.8M160.2 87.3h0.8M169.3 94.4h0.8M162.9 86.3h0.8M161.2 89.4h0.8M169.5 81.2h0.8M164.8 89.3h0.8M160.5 90.4h0.8M163.8 86.8h0.8M168.4 86.7h0.8M169.3 98.7h0.8M163.6 84.4h0.8M166.5 85.2h0.8M167.6 86.3h0.8M162.8 95.5h0.8M166.3 99.7h0.8M165.0 91.5h0.8M163.2 86.7h0.8M163.4 88.0h0.8M165.3 94.9h0.8M165.2 85.8h0.8M163.1 96.7h0.8M163.6 96.5h0.8M169.0 90.3h0.8M165.8 93.0h0.8M168.2 93.4h0.8M169.3 97.1h0.8M167.2 85.2h0.8M173.0 95.4h0.8M162.2 88.3h0.8M167.9 86.5h0.8M164.0 90.5h0.8M171.6 89.0h0.8M171.1 85.5h0.8M158.3 82.7h0.8M161.7 85.7h0.8M167.4 96.7h0.8M167.9 99.0h0.8M167.7 93.0h0.8M164.9 95.5h0.8M166.7 87.6h0.8M167.4 89.6h0.8M164.8 91.3h0.8M168.7 85.0h0.8M157.2 85.4h0.8M167.3 90.4h0.8M161.5 88.5h0.8M168.5 85.1h0.8M164.3 91.8h0.8M162.0 88.8h0.8M166.4 94.7h0.8M161.9 90.0h0.8M161.9 88.6h0.8M159.6 90.6h0.8M165.0 89.2h0.8M166.8 86.9h0.8M168.7 88.2h0.8M164.6 93.4h0.8M168.8 93.0h0.8M165.2 95.9h0.8M164.8 82.2h0.8M167.1 88.2h0.8M168.8 88.1h0.8M163.9 90.8h0.8M164.2 87.9h0.8M164.5 87.6h0.8M165.4 93.6h0.8M161.9 90.8h0.8M168.7 84.6h0.8M163.7 96.1h0.8M166.7 94.6h0.8M162.2 87.4h0.8M166.4 93.8h0.8M166.5 86.6h0.8M163.6 95.2h0.8M172.2 89.0h0.8M166.4 86.3h0.8M171.3 88.3h0.8M168.5 86.5h0.8M162.8 90.9h0.8M163.8 90.8h0.8M166.6 90.2h0.8M165.3 87.4h0.8M165.3 73.2h0.8M164.1 90.4h0.8M158.8 81.3h0.8M164.3 91.1h0.8M157.3 95.2h0.8M166.4 91.3h0.8M162.6 88.2h0.8M162.6 89.2h0.8M164.3 89.4h0.8M166.1 87.5h0.8M160.1 87.3h0.8M159.0 85.8h0.8M161.4 95.5h0.8M158.0 89.9h0.8M161.7 94.4h0.8M170.7 88.8h0.8M161.4 90.3h0.8M167.4 89.2h0.8M160.3 92.1h0.8M166.1 93.8h0.8M164.0 91.1h0.8M164.9 86.9h0.8M167.1 86.4h0.8M171.2 97.6h0.8M165.8 88.7h0.8M165.5 88.7h0.8M161.7 96.7h0.8M167.1 95.0h0.8M164.2 92.5h0.8M168.0 88.2h0.8M164.9 100.8h0.8M171.2 91.8h0.8M158.2 92.5h0.8M164.1 89.2h0.8M168.2 83.5h0.8M163.9 83.9h0.8M162.3 91.9h0.8M164.2 91.8h0.8M160.3 88.9h0.8M165.5 84.6h0.8M173.6 83.4h0.8M169.1 88.5h0.8M161.2 83.3h0.8M162.0 94.1h0.8M163.7 95.3h0.8M168.6 103.0h0.8M162.2 94.0h0.8M162.7 87.3h0.8M168.2 86.0h0.8M168.1 74.1h0.8M163.8 87.3h0.8M161.2 89.2h0.8M159.7 94.5h0.8M162.7 92.8h0.8M157.3 92.7h0.8M167.7 91.0h0.8M162.9 93.0h0.8M166.8 96.7h0.8M171.6 85.1h0.8M169.2 87.9h0.8M161.1 83.6h0.8M168.1 97.4h0.8M169.2 96.0h0.8M162.5 93.5h0.8M161.8 84.5h0.8M164.7 90.8h0.8M159.5 88.9h0.8M170.2 90.4h0.8M156.7 89.1h0.8M161.2 92.4h0.8M164.2 88.2h0.8M164.3 93.9h0.8M165.7 91.1h0.8M166.1 88.7h0.8M164.4 89.5h0.8M169.1 88.0h0.8M157.6 93.7h0.8M165.1 88.8h0.8M162.6 91.4h0.8M165.6 88.2h0.8M165.9 83.2h0.8M161.9 94.2h0.8M162.9 85.1h0.8M167.9 93.1h0.8M166.3 91.9h0.8M162.7 82.4h0.8M172.2 85.7h0.8M173.2 87.6h0.8M160.0 86.2h0.8M166.2 84.6h0.8M173.9 93.4h0.8M167.8 88.9h0.8M165.9 91.8h0.8M164.4 88.0h0.8M163.2 91.4h0.8M164.4 86.5h0.8M163.2 89.9h0.8M167.7 92.7h0.8M163.7 90.2h0.8M163.6 87.9h0.8M160.9 85.0h0.8M164.9 90.8h0.8M162.0 91.6h0.8M164.5 88.8h0.8M168.7 86.5h0.8M166.4 92.5h0.8M166.9 101.4h0.8M166.3 88.6h0.8M165.3 91.5h0.8M164.7 91.7h0.8M164.0 78.2h0.8M167.8 90.6h0.8M161.3 86.8h0.8M169.8 96.4h0.8M165.2 88.8h0.8M162.5 86.4h0.8M163.4 89.0h0.8M162.7 90.8h0.8M165.7 87.4h0.8M162.6 89.8h0.8M169.1 83.8h0.8M162.4 89.0h0.8M157.1 93.6h0.8M162.5 99.1h0.8M158.1 93.2h0.8M165.0 91.3h0.8M168.8 95.4h0.8M167.4 94.7h0.8M160.4 97.7h0.8M162.4 95.0h0.8M171.3 89.5h0.8M166.2 91.2h0.8M165.1 90.8h0.8M168.8 91.4h0.8M173.7 90.9h0.8M169.6 86.4h0.8M165.6 80.3h0.8M166.3 86.9h0.8M167.3 80.7h0.8M163.0 90.3h0.8M161.4 90.0h0.8M165.3 82.3h0.8M161.8 93.2h0.8M164.9 94.0h0.8M165.4 90.4h0.8M173.3 97.7h0.8M162.1 98.6h0.8M164.7 84.5h0.8M164.5 94.8h0.8M166.6 92.0h0.8M168.8 91.9h0.8M163.4 94.3h0.8M162.2 86.7h0.8M159.4 87.3h0.8M161.9 86.2h0.8M167.0 86.5h0.8M165.3 89.5h0.8M161.5 83.3h0.8M163.8 85.2h0.8M165.2 92.7h0.8M166.9 89.7h0.8M163.0 91.8h0.8M164.2 81.3h0.8M158.7 86.4h0.8M161.1 87.4h0.8M170.8 90.1h0.8M157.4 87.3h0.8M163.9 94.3h0.8M165.9 89.7h0.8M163.8 90.1h0.8M162.3 90.1h0.8M164.9 93.3h0.8M165.1 87.8h0.8M164.8 95.2h0.8M158.5 92.1h0.8M164.6 90.7h0.8M162.1 90.2h0.8M163.2 92.4h0.8M165.9 94.7h0.8M167.3 94.3h0.8M168.2 91.7h0.8M163.4 94.0h0.8M168.3 90.5h0.8M169.2 95.8h0.8M169.1 89.9h0.8M170.0 80.5h0.8M164.6 96.2h0.8M164.5 90.5h0.8M168.0 84.6h0.8M160.3 89.1h0.8M165.8 85.9h0.8M163.2 99.7h0.8M163.8 92.3h0.8M159.0 82.8h0.8M162.0 92.5h0.8M165.0 88.2h0.8M168.2 98.8h0.8M168.6 85.2h0.8M164.8 79.7h0.8M164.4 90.3h0.8M162.2 88.4h0.8M166.5 88.1h0.8M164.2 80.2h0.8M167.2 92.0h0.8M171.2 97.7h0.8M165.0 81.2h0.8M159.9 95.4h0.8M162.1 87.4h0.8M160.0 100.8h0.8M160.9 92.0h0.8M169.7 89.1h0.8M165.9 95.1h0.8M159.8 92.4h0.8M167.4 87.3h0.8M169.5 93.3h0.8M163.8 87.7h0.8M162.7 81.8h0.8M163.9 99.3h0.8M166.1 88.4h0.8M167.3 87.2h0.8M169.2 91.6h0.8M169.3 82.8h0.8M169.2 83.8h0.8M169.9 87.7h0.8M167.4 87.6h0.8M159.7 90.3h0.8M164.6 95.2h0.8M166.2 87.8h0.8M163.8 92.3h0.8M168.3 92.8h0.8M163.8 85.0h0.8M161.9 91.1h0.8M170.2 85.7h0.8M167.4 94.9h0.8M165.9 92.1h0.8M168.3 90.1h0.8M168.8 83.8h0.8M166.3 90.5h0.8M156.5 86.5h0.8M162.7 93.2h0.8M163.5 89.5h0.8M161.7 86.3h0.8M165.8 94.3h0.8M169.3 93.3h0.8M163.4 87.3h0.8M161.1 95.3h0.8M172.2 88.6h0.8M163.5 88.6h0.8M160.8 90.6h0.8M165.9 86.5h0.8M166.6 88.0h0.8M162.6 89.3h0.8M167.9 97.0h0.8M163.4 96.9h0.8M161.9 88.8h0.8M165.7 97.4h0.8M167.8 89.8h0.8M162.9 91.8h0.8M166.3 94.1h0.8M164.8 91.3h0.8M175.0 101.1h0.8M162.6 91.1h0.8M169.9 84.5h0.8M164.9 96.0h0.8M164.7 88.1h0.8M167.6 88.6h0.8M168.2 76.2h0.8M169.5 94.6h0.8M166.3 93.8h0.8M163.0 93.7h0.8M163.2 94.5h0.8M166.9 97.8h0.8M167.1 89.8h0.8M170.0 94.3h0.8M166.6 86.6h0.8M168.8 88.4h0.8M170.4 94.9h0.8M165.7 91.8h0.8M159.9 83.9h0.8M161.0 91.7h0.8M160.1 89.2h0.8M170.7 86.2h0.8M162.1 92.0h0.8M169.4 88.1h0.8M167.2 82.8h0.8M171.1 84.9h0.8M168.6 98.1h0.8M164.7 83.0h0.8M164.4 91.0h0.8" stroke="#000" stroke-width="0.8" fill="none" filter="url(#bl)"/>
<path d="M166.4 70.0h0.8M166.5 68.3h0.8M160.4 70.9h0.8M163.4 78.0h0.8M164.9 76.8h0.8M167.1 76.1h0.8M162.3 78.1h0.8M160.6 79.3h0.8M167.7 69.0h0.8M168.1 75.9h0.8M165.6 73.9h0.8M162.4 72.3h0.8M165.8 74.9h0.8M164.8 76.5h0.8M167.2 76.0h0.8M160.3 71.5h0.8M164.8 75.2h0.8M163.9 84.7h0.8M160.8 73.0h0.8M165.1 70.6h0.8M164.5 78.0h0.8M163.1 79.3h0.8M165.7 78.8h0.8M159.7 72.7h0.8M164.2 80.8h0.8M165.8 74.0h0.8M165.4 72.7h0.8M168.0 74.7h0.8M160.5 76.6h0.8M159.4 79.7h0.8M165.2 79.4h0.8M165.9 76.9h0.8M171.4 80.5h0.8M166.5 77.3h0.8M161.5 80.4h0.8M167.1 71.7h0.8M161.6 71.0h0.8M159.5 79.9h0.8M173.0 71.7h0.8M165.5 75.9h0.8M166.8 76.6h0.8M166.3 75.1h0.8M170.4 75.3h0.8M165.4 82.3h0.8M168.4 67.4h0.8M161.0 80.4h0.8M159.8 85.7h0.8M169.1 77.1h0.8M169.3 76.9h0.8M166.1 79.8h0.8M165.2 83.9h0.8M165.0 72.5h0.8M162.2 77.3h0.8M169.5 76.3h0.8M166.6 79.1h0.8M166.1 77.6h0.8M165.7 79.5h0.8M167.9 75.4h0.8M166.1 77.2h0.8M166.9 74.5h0.8M160.6 74.5h0.8M166.1 76.5h0.8M171.6 76.5h0.8M162.7 72.5h0.8M164.0 83.0h0.8M167.4 76.5h0.8M167.6 71.7h0.8M166.5 81.2h0.8M159.1 74.2h0.8M166.1 78.9h0.8M160.5 76.9h0.8M161.7 78.0h0.8M166.2 77.6h0.8M163.4 74.8h0.8M167.1 77.2h0.8M174.8 84.7h0.8M167.0 68.5h0.8M166.8 77.3h0.8M161.5 78.7h0.8M162.3 73.0h0.8M160.9 71.8h0.8M162.7 85.2h0.8M160.8 75.6h0.8M162.2 84.9h0.8M163.7 79.0h0.8M161.1 77.3h0.8M159.7 78.8h0.8M159.9 79.4h0.8M165.9 81.5h0.8M164.6 78.7h0.8M167.8 77.5h0.8M167.9 77.7h0.8M163.3 82.1h0.8M166.6 80.1h0.8M159.7 73.2h0.8M172.0 74.6h0.8M168.4 78.3h0.8M163.7 74.6h0.8M160.6 75.6h0.8M165.7 73.4h0.8M158.3 76.0h0.8M161.9 78.6h0.8M166.9 80.8h0.8M164.7 77.0h0.8M162.8 84.9h0.8M167.6 76.7h0.8M161.0 89.1h0.8M165.4 80.8h0.8M162.8 78.9h0.8M161.6 75.1h0.8M166.0 66.3h0.8M161.1 76.4h0.8M170.7 77.7h0.8M162.5 84.3h0.8M171.0 71.8h0.8M160.8 84.2h0.8M166.4 76.0h0.8M160.5 79.8h0.8M160.0 67.3h0.8M165.0 77.5h0.8M166.7 75.7h0.8M160.2 79.6h0.8M168.3 77.3h0.8M161.8 72.7h0.8M164.9 80.6h0.8M165.7 79.6h0.8M166.4 79.3h0.8M158.5 80.8h0.8M169.8 81.2h0.8M166.3 76.9h0.8M163.0 71.8h0.8M161.0 71.7h0.8M158.8 82.1h0.8M159.9 79.7h0.8M166.2 77.4h0.8M163.3 75.3h0.8M160.7 77.1h0.8M162.7 77.1h0.8M169.6 75.7h0.8M163.3 74.3h0.8M162.5 85.2h0.8M168.9 77.9h0.8M165.9 74.7h0.8M164.6 72.1h0.8M162.4 74.2h0.8M159.3 79.7h0.8M160.6 79.9h0.8M162.8 76.2h0.8M163.7 77.2h0.8M165.6 75.8h0.8M166.2 72.8h0.8M165.2 81.9h0.8M165.2 78.4h0.8M161.1 86.4h0.8M157.3 74.1h0.8M162.7 76.5h0.8M161.3 80.4h0.8M162.3 76.1h0.8M163.5 71.7h0.8M160.3 73.4h0.8M160.8 77.4h0.8M164.1 78.3h0.8M164.8 76.6h0.8M162.3 80.8h0.8M166.1 80.8h0.8M163.7 78.2h0.8M161.1 77.1h0.8M164.6 76.0h0.8M170.6 79.1h0.8M162.2 80.5h0.8M168.3 77.2h0.8M169.0 78.7h0.8M169.4 75.8h0.8M161.7 71.6h0.8M171.1 73.2h0.8M164.8 79.9h0.8M163.6 78.7h0.8M163.7 83.0h0.8M166.4 77.2h0.8M164.6 80.3h0.8M163.8 82.0h0.8M168.7 80.8h0.8M162.0 74.7h0.8M161.0 76.3h0.8M167.0 77.5h0.8M166.7 73.3h0.8M168.0 78.8h0.8M160.9 80.9h0.8M168.0 75.2h0.8M166.0 84.5h0.8M170.2 75.9h0.8M160.3 76.2h0.8M165.1 76.1h0.8M163.5 74.3h0.8M159.2 78.6h0.8M162.1 77.1h0.8M168.1 83.3h0.8M162.9 79.3h0.8M162.0 79.0h0.8M167.3 76.2h0.8M167.7 71.6h0.8M167.7 76.7h0.8M161.8 73.8h0.8M164.2 80.6h0.8M167.8 76.9h0.8M162.3 83.3h0.8M162.0 79.8h0.8M167.2 80.2h0.8M169.6 77.9h0.8M160.6 77.8h0.8M155.9 79.5h0.8M159.6 80.5h0.8M161.1 74.3h0.8M164.0 78.9h0.8M166.5 87.0h0.8M163.9 76.7h0.8M162.1 76.0h0.8M164.9 74.4h0.8M161.3 71.5h0.8M164.3 81.5h0.8M162.3 77.2h0.8M173.3 78.1h0.8M167.1 84.0h0.8M161.7 86.5h0.8M161.1 73.6h0.8M163.0 81.0h0.8M159.0 79.4h0.8M162.0 78.5h0.8M162.0 78.8h0.8M167.3 76.9h0.8M163.0 83.0h0.8M161.8 79.3h0.8M160.0 78.3h0.8M160.5 81.7h0.8M164.2 80.4h0.8M163.7 78.8h0.8M168.2 78.3h0.8M162.3 83.7h0.8M167.9 78.9h0.8M165.3 76.7h0.8M164.4 73.8h0.8M157.8 75.7h0.8M160.2 73.0h0.8M166.9 77.4h0.8M169.0 78.0h0.8M165.1 69.2h0.8M166.9 77.1h0.8M163.1 79.5h0.8M163.2 77.6h0.8M162.2 73.4h0.8M167.6 81.8h0.8M165.6 74.4h0.8M163.7 72.3h0.8M163.3 72.9h0.8M166.3 77.0h0.8M165.5 80.7h0.8M161.7 81.4h0.8M170.1 77.8h0.8M165.3 72.5h0.8M164.5 74.5h0.8M169.3 73.6h0.8M167.8 76.3h0.8M164.1 70.3h0.8M166.2 77.4h0.8M160.9 79.5h0.8M162.3 76.4h0.8M157.0 78.8h0.8M168.5 73.4h0.8M158.2 71.5h0.8M166.7 74.6h0.8M161.7 81.4h0.8M161.2 80.9h0.8M163.8 75.3h0.8M165.3 81.6h0.8M166.4 75.8h0.8M170.3 82.7h0.8M165.6 78.8h0.8M167.3 75.3h0.8M162.4 80.0h0.8M166.8 74.1h0.8M164.9 73.4h0.8M162.9 71.5h0.8M164.1 78.0h0.8M164.2 76.8h0.8M165.1 76.7h0.8M165.7 75.4h0.8M162.7 82.5h0.8M162.0 75.4h0.8M166.9 74.3h0.8M158.8 81.7h0.8M162.4 82.4h0.8M169.5 78.3h0.8M155.5 70.4h0.8M162.1 74.7h0.8M166.7 79.3h0.8M159.0 77.1h0.8M173.0 82.9h0.8M155.9 71.8h0.8M169.2 79.6h0.8M169.6 74.6h0.8M167.4 82.0h0.8M163.7 76.7h0.8M165.6 80.9h0.8M161.5 74.5h0.8M167.1 71.6h0.8M160.7 72.8h0.8M163.5 74.7h0.8M167.7 73.1h0.8M160.7 81.6h0.8M163.2 82.1h0.8M165.0 78.0h0.8M160.0 73.1h0.8M168.3 76.6h0.8M165.5 74.4h0.8M159.4 82.5h0.8M164.3 78.2h0.8M161.9 78.9h0.8M162.3 75.5h0.8M164.7 69.4h0.8M162.1 74.1h0.8M167.6 72.8h0.8M162.1 78.4h0.8M167.7 77.4h0.8M164.3 74.0h0.8M167.2 75.5h0.8M162.6 83.0h0.8M162.8 73.4h0.8M160.6 73.5h0.8M166.3 76.1h0.8M167.5 74.3h0.8M171.4 75.4h0.8M168.7 79.0h0.8M165.2 83.6h0.8M163.7 70.2h0.8M165.7 76.9h0.8M164.3 77.2h0.8M169.3 76.7h0.8M167.5 76.3h0.8M161.7 75.7h0.8M162.2 80.8h0.8M168.9 75.2h0.8M165.4 76.5h0.8M163.7 77.0h0.8M168.3 77.4h0.8M163.1 76.4h0.8M163.5 80.8h0.8M162.9 77.0h0.8M158.0 77.7h0.8M167.3 76.8h0.8M160.4 73.2h0.8M162.5 73.8h0.8M162.0 73.0h0.8M166.8 77.7h0.8M164.2 74.3h0.8M164.5 73.0h0.8M158.9 77.9h0.8M164.1 79.0h0.8M159.6 70.3h0.8M165.4 83.4h0.8M165.6 77.1h0.8M164.4 76.6h0.8M171.2 81.1h0.8M166.2 77.3h0.8M166.4 74.7h0.8M164.9 85.3h0.8M163.8 72.9h0.8M167.6 76.6h0.8M168.1 80.2h0.8M160.1 72.9h0.8M167.9 76.6h0.8M166.1 78.5h0.8M167.6 86.1h0.8M166.0 73.6h0.8M160.3 76.8h0.8M160.6 79.5h0.8M170.4 77.3h0.8M165.3 72.4h0.8M159.7 78.6h0.8M165.6 77.4h0.8M163.2 78.7h0.8" stroke="#000" stroke-width="0.8" fill="none" filter="url(#bl)"/>
<path d="M175.1 78.8h0.6M174.3 80.5h0.6M170.1 96.6h0.6M169.4 76.3h0.6M159.5 68.8h0.6M166.3 88.7h0.6M168.7 74.7h0.6M164.4 81.0h0.6M167.9 93.2h0.6M161.4 77.6h0.6M177.9 92.9h0.6M182.3 78.9h0.6M164.5 98.4h0.6M170.0 96.9h0.6M165.6 80.8h0.6M176.0 83.1h0.6M170.2 77.5h0.6M167.7 86.8h0.6M165.6 95.3h0.6M168.1 72.0h0.6M160.2 93.3h0.6M171.9 73.1h0.6M162.2 77.3h0.6M170.9 68.9h0.6M168.1 103.9h0.6M174.9 85.5h0.6M167.1 87.2h0.6M174.4 78.9h0.6M160.7 94.6h0.6M171.5 66.1h0.6M165.6 85.2h0.6M168.6 104.9h0.6M167.7 81.6h0.6M173.8 85.2h0.6M153.1 91.1h0.6M169.5 77.7h0.6M156.7 85.2h0.6M175.6 93.6h0.6M153.4 86.7h0.6M160.2 88.3h0.6M155.5 81.9h0.6M178.7 87.8h0.6M158.2 85.5h0.6M168.0 98.1h0.6M163.4 91.5h0.6M154.6 82.8h0.6M164.8 63.0h0.6M171.8 91.4h0.6M165.9 91.8h0.6M173.8 76.7h0.6M164.7 67.0h0.6M167.2 74.7h0.6M164.5 93.3h0.6M169.6 75.4h0.6M180.5 80.9h0.6M169.7 87.0h0.6M168.6 96.0h0.6M162.9 84.8h0.6M161.9 84.1h0.6M177.4 80.1h0.6M159.4 99.7h0.6M160.8 94.6h0.6M166.5 84.1h0.6M164.2 72.4h0.6M180.9 77.9h0.6M150.6 90.2h0.6M169.7 78.5h0.6M172.2 93.0h0.6M159.4 88.3h0.6M162.7 87.6h0.6M170.2 90.9h0.6M178.6 89.5h0.6M160.8 77.3h0.6M156.1 82.1h0.6M174.0 106.1h0.6M177.9 74.1h0.6M164.9 80.7h0.6M151.7 94.6h0.6M177.4 83.6h0.6M165.8 77.7h0.6M175.1 73.1h0.6M166.9 89.8h0.6M164.6 94.2h0.6M164.0 97.6h0.6M177.5 85.5h0.6M177.2 94.4h0.6M152.2 75.7h0.6M160.6 86.5h0.6M179.6 78.9h0.6M164.6 86.6h0.6M157.7 91.8h0.6M167.2 94.6h0.6M166.4 76.1h0.6M166.5 96.4h0.6M163.8 80.7h0.6M165.0 75.8h0.6M164.0 83.5h0.6M169.5 71.8h0.6M161.5 85.0h0.6M165.2 87.6h0.6M166.2 83.2h0.6M176.3 89.8h0.6M169.8 82.2h0.6M166.4 85.0h0.6M171.0 72.0h0.6M170.0 85.4h0.6M174.8 77.3h0.6M170.7 81.0h0.6M179.8 84.2h0.6M176.6 86.7h0.6M166.9 70.2h0.6M164.3 70.9h0.6M173.4 82.3h0.6M170.8 89.3h0.6M166.5 88.2h0.6M156.9 93.0h0.6M154.4 96.7h0.6M169.6 89.5h0.6M172.6 84.8h0.6M172.8 75.7h0.6M158.2 76.5h0.6M174.5 80.8h0.6M163.5 87.4h0.6M169.9 87.0h0.6M170.1 85.0h0.6M161.6 83.6h0.6M163.1 90.7h0.6M152.7 86.9h0.6M160.8 87.7h0.6M154.6 87.8h0.6M170.3 80.1h0.6M167.6 75.7h0.6M173.6 89.4h0.6M169.7 88.8h0.6M162.8 83.0h0.6M169.6 81.3h0.6M164.5 105.5h0.6M171.5 78.2h0.6M169.4 83.0h0.6M160.3 87.4h0.6M167.2 74.6h0.6M167.6 86.1h0.6M165.0 101.2h0.6M173.5 93.4h0.6M179.2 90.7h0.6M164.6 90.3h0.6M164.7 86.0h0.6M151.5 93.6h0.6M166.3 83.6h0.6M164.1 81.2h0.6M152.1 85.9h0.6M169.2 93.2h0.6M171.3 88.0h0.6M162.1 91.1h0.6M164.6 66.8h0.6M160.4 95.7h0.6M172.5 106.1h0.6M156.6 97.0h0.6M165.0 82.1h0.6M180.9 77.4h0.6M167.6 87.5h0.6M170.5 76.1h0.6M166.2 91.5h0.6M159.0 80.3h0.6M167.0 93.6h0.6M170.0 97.3h0.6M160.0 66.7h0.6M169.6 87.6h0.6M175.9 78.7h0.6M174.7 72.3h0.6M156.1 79.4h0.6M160.4 83.0h0.6M155.9 94.3h0.6M174.7 71.3h0.6M171.5 94.5h0.6M172.1 103.2h0.6M161.1 90.4h0.6M159.0 89.9h0.6M167.7 84.9h0.6M167.9 74.4h0.6M161.2 89.8h0.6M168.2 88.5h0.6M171.7 91.6h0.6M168.8 108.1h0.6M159.9 91.6h0.6M152.4 88.8h0.6M165.4 99.1h0.6M168.4 72.9h0.6M165.4 74.7h0.6M164.2 81.6h0.6M162.4 79.1h0.6M172.2 91.2h0.6M166.8 82.1h0.6M168.1 100.7h0.6M160.4 98.7h0.6M162.9 91.9h0.6M168.3 81.5h0.6M160.2 90.6h0.6M158.4 92.3h0.6M164.9 75.4h0.6M175.6 88.1h0.6M168.5 91.4h0.6M177.4 86.9h0.6M166.3 99.1h0.6M165.0 95.9h0.6M157.5 77.6h0.6M163.2 86.1h0.6M177.2 77.5h0.6M169.5 90.2h0.6M172.3 77.2h0.6M172.1 93.3h0.6M167.1 88.5h0.6M165.8 93.7h0.6M168.0 83.7h0.6M171.9 71.9h0.6M170.4 100.9h0.6M170.6 83.4h0.6M168.3 97.4h0.6M161.8 88.9h0.6M165.4 91.1h0.6M160.6 101.5h0.6M174.2 88.1h0.6M152.5 97.6h0.6M165.7 71.6h0.6M183.9 92.8h0.6M164.8 82.8h0.6M159.3 83.8h0.6M167.1 85.1h0.6M176.2 88.1h0.6M166.1 99.9h0.6M171.5 68.3h0.6M167.9 85.4h0.6M164.6 78.6h0.6M189.3 95.5h0.6M167.7 81.2h0.6M163.4 89.1h0.6M163.8 81.4h0.6M169.9 91.0h0.6M170.1 94.1h0.6M172.6 81.4h0.6M168.2 85.4h0.6M157.2 72.2h0.6M170.9 87.7h0.6M165.0 92.7h0.6M165.2 80.0h0.6M156.8 95.1h0.6M163.2 66.3h0.6M162.1 68.3h0.6M166.9 72.5h0.6M157.0 80.6h0.6M167.6 85.2h0.6M168.1 84.3h0.6M159.4 84.4h0.6M162.8 91.5h0.6M161.2 80.8h0.6M173.6 73.6h0.6M149.5 73.8h0.6M164.8 104.0h0.6M155.6 63.8h0.6M164.2 83.4h0.6M173.1 98.1h0.6M162.8 89.4h0.6M168.2 77.5h0.6M161.3 85.0h0.6M180.8 92.8h0.6M173.6 95.9h0.6M175.1 76.9h0.6M157.9 91.8h0.6M159.5 87.3h0.6M174.8 94.9h0.6M165.8 97.5h0.6M165.4 81.9h0.6M169.5 72.0h0.6M158.4 88.6h0.6M172.6 101.0h0.6M167.3 91.2h0.6M170.6 87.1h0.6M162.5 106.6h0.6M170.8 75.6h0.6M162.3 93.1h0.6M173.9 79.9h0.6M175.1 85.4h0.6M173.6 85.8h0.6M170.8 98.6h0.6M171.6 76.6h0.6M148.3 80.2h0.6M173.0 70.7h0.6M165.3 89.4h0.6M167.9 80.9h0.6M165.2 88.8h0.6M157.5 75.3h0.6M163.4 81.8h0.6M171.8 94.4h0.6M177.1 83.4h0.6M162.8 90.6h0.6M160.9 89.8h0.6M177.4 81.8h0.6M161.0 71.0h0.6M181.7 93.9h0.6M167.6 86.5h0.6M161.0 93.8h0.6M174.1 66.9h0.6M179.1 70.1h0.6M157.2 65.7h0.6M178.1 77.1h0.6M165.2 94.4h0.6M177.6 90.1h0.6M164.5 84.7h0.6M156.2 86.2h0.6M170.7 91.8h0.6M173.7 82.3h0.6M181.9 88.6h0.6M179.3 86.3h0.6M172.1 65.3h0.6M165.5 81.5h0.6M163.6 97.2h0.6M165.1 81.4h0.6M161.4 83.7h0.6M165.3 79.5h0.6M149.4 80.6h0.6M168.5 95.1h0.6M167.0 82.6h0.6M185.2 75.8h0.6M172.5 57.0h0.6M163.8 79.8h0.6M171.2 67.3h0.6M158.6 68.6h0.6M163.0 92.2h0.6M154.1 91.4h0.6M177.3 67.7h0.6M171.4 92.7h0.6M159.0 89.1h0.6M166.8 77.9h0.6M173.8 91.6h0.6M170.7 70.4h0.6M169.9 74.2h0.6M161.2 72.0h0.6M162.7 75.0h0.6M167.9 92.9h0.6M173.6 73.0h0.6M161.4 74.6h0.6M159.4 76.4h0.6M175.2 86.8h0.6M160.7 81.9h0.6M174.7 92.8h0.6M168.9 78.6h0.6M173.4 73.4h0.6M179.4 80.5h0.6M172.0 85.3h0.6M172.6 76.6h0.6M160.8 87.5h0.6M162.3 101.3h0.6M171.7 79.7h0.6M177.9 85.3h0.6M176.9 97.1h0.6M183.4 79.1h0.6M169.4 77.3h0.6M168.6 75.0h0.6M174.2 88.5h0.6M167.3 89.5h0.6M166.8 83.5h0.6M159.9 85.2h0.6M174.1 96.3h0.6M159.7 92.6h0.6M170.8 72.2h0.6M157.3 84.7h0.6M174.9 85.8h0.6M160.0 91.3h0.6M173.1 82.8h0.6M156.1 79.0h0.6M164.1 80.7h0.6M175.4 68.8h0.6M161.6 84.5h0.6M167.7 79.4h0.6M163.9 88.9h0.6M151.0 75.5h0.6M169.4 80.8h0.6M170.2 75.9h0.6M159.4 75.1h0.6M171.2 91.0h0.6M161.6 80.5h0.6M160.2 88.7h0.6M167.2 74.6h0.6M162.4 85.6h0.6M183.2 69.5h0.6M156.3 80.4h0.6M172.4 80.1h0.6M174.1 89.9h0.6M153.3 86.3h0.6M155.1 83.1h0.6M171.1 92.2h0.6M163.8 86.3h0.6M169.9 89.5h0.6M175.2 91.5h0.6M164.6 84.0h0.6M159.8 82.0h0.6M148.1 87.6h0.6M168.6 80.9h0.6M160.7 88.1h0.6M169.4 94.6h0.6M168.8 92.3h0.6M157.5 81.2h0.6M179.3 73.0h0.6M174.8 84.1h0.6M173.1 83.5h0.6M158.9 94.5h0.6M164.3 81.1h0.6M163.4 82.7h0.6M164.3 91.2h0.6M159.3 80.3h0.6M170.2 83.2h0.6M168.8 100.0h0.6M169.8 98.0h0.6M163.7 90.2h0.6M176.2 87.0h0.6M168.5 75.9h0.6M148.0 89.6h0.6M162.7 85.1h0.6M166.8 86.6h0.6M174.0 79.9h0.6M165.1 84.5h0.6M165.4 82.9h0.6M162.6 87.4h0.6M171.9 97.4h0.6M164.1 87.8h0.6M163.0 69.7h0.6M162.0 75.9h0.6M171.1 70.3h0.6M163.5 77.4h0.6M155.5 89.6h0.6M171.6 88.2h0.6M162.3 79.2h0.6M169.7 87.0h0.6M169.8 77.8h0.6M175.6 71.8h0.6M174.5 71.9h0.6M163.2 76.9h0.6M166.0 97.3h0.6M158.2 72.5h0.6M178.9 95.7h0.6M170.3 96.5h0.6M177.0 82.9h0.6M165.0 84.1h0.6M152.9 79.1h0.6M177.9 84.3h0.6M167.9 90.5h0.6M168.1 84.6h0.6M167.6 93.5h0.6M171.7 95.2h0.6M170.9 87.6h0.6M156.1 87.5h0.6M174.8 84.0h0.6M163.5 87.7h0.6M163.9 74.5h0.6M179.3 88.2h0.6M173.6 86.4h0.6M164.8 76.8h0.6M154.2 103.9h0.6M168.3 75.8h0.6M171.0 76.7h0.6M166.6 87.0h0.6M158.5 67.1h0.6M161.7 77.4h0.6M158.4 70.8h0.6M168.7 75.8h0.6M172.9 83.3h0.6M174.4 87.4h0.6M162.1 94.4h0.6M168.8 91.8h0.6M171.1 95.2h0.6M163.6 89.8h0.6M166.2 80.3h0.6M182.1 94.5h0.6M168.6 80.1h0.6M173.4 79.0h0.6M164.2 98.3h0.6M167.5 91.6h0.6M155.2 86.5h0.6M167.0 91.3h0.6M175.5 92.4h0.6M181.9 72.3h0.6M175.6 83.7h0.6M172.0 73.9h0.6M167.6 85.6h0.6M163.0 78.5h0.6M166.1 96.7h0.6M171.5 89.2h0.6M161.7 77.2h0.6M173.7 84.3h0.6M160.3 73.6h0.6M154.7 84.9h0.6M160.1 89.4h0.6M155.5 86.9h0.6M157.6 67.1h0.6M175.1 81.5h0.6M165.8 89.1h0.6M168.7 87.2h0.6M175.3 94.9h0.6M176.0 72.9h0.6M163.7 89.2h0.6M176.5 78.6h0.6M169.9 86.2h0.6M167.2 88.1h0.6M170.3 90.7h0.6M157.2 79.3h0.6M161.7 86.2h0.6M166.4 74.0h0.6M171.5 71.8h0.6M164.6 89.5h0.6M166.3 84.0h0.6M174.0 69.9h0.6M177.1 76.8h0.6M172.6 84.7h0.6M176.1 98.5h0.6M164.4 93.9h0.6M165.1 91.7h0.6M169.4 68.4h0.6M165.1 83.6h0.6M163.7 88.8h0.6M178.8 88.0h0.6M165.8 88.2h0.6M160.4 82.4h0.6M170.6 100.3h0.6M180.1 97.8h0.6M167.8 83.6h0.6M175.8 75.7h0.6M164.1 103.0h0.6M163.8 79.5h0.6M162.4 95.2h0.6M166.2 101.7h0.6M180.1 76.0h0.6M159.1 87.1h0.6M178.7 81.3h0.6M160.1 89.1h0.6M165.6 87.4h0.6M173.1 102.0h0.6M171.6 89.8h0.6M169.2 84.4h0.6M155.7 94.6h0.6M169.7 82.0h0.6M160.0 81.2h0.6M185.2 104.6h0.6M165.7 77.1h0.6M168.5 80.1h0.6M159.2 84.9h0.6M163.8 75.0h0.6M158.2 65.5h0.6M174.1 94.0h0.6M165.4 77.4h0.6M171.1 79.6h0.6" stroke="#333" stroke-width="0.6" fill="none" filter="url(#bl)"/>
<path d="M166.7 69.5h0.6M162.4 62.1h0.6M161.8 51.3h0.6M170.4 62.9h0.6M186.1 39.3h0.6M174.4 56.6h0.6M174.5 64.7h0.6M158.8 66.4h0.6M169.1 51.7h0.6M161.0 68.6h0.6M174.7 78.2h0.6M167.7 55.2h0.6M169.6 66.9h0.6M168.7 43.9h0.6M165.2 39.8h0.6M158.6 65.6h0.6M173.3 59.9h0.6M159.6 61.5h0.6M161.0 53.6h0.6M167.2 56.5h0.6M164.3 67.6h0.6M171.1 76.7h0.6M176.4 57.3h0.6M171.0 43.0h0.6M170.7 72.2h0.6M169.5 65.5h0.6M175.3 66.3h0.6M156.4 61.3h0.6M171.9 82.7h0.6M162.8 60.2h0.6M160.7 64.6h0.6M169.3 40.9h0.6M166.6 53.7h0.6M173.4 52.6h0.6M177.0 59.2h0.6M153.0 63.0h0.6M168.8 52.0h0.6M183.0 76.8h0.6M175.4 48.8h0.6M179.4 55.0h0.6M170.0 61.9h0.6M159.2 47.0h0.6M161.4 65.2h0.6M174.3 65.8h0.6M176.0 56.6h0.6M164.2 78.6h0.6M167.4 60.3h0.6M171.1 62.3h0.6M157.0 49.9h0.6M166.8 42.7h0.6M180.6 53.2h0.6M184.6 56.3h0.6M168.5 54.9h0.6M182.1 67.2h0.6M165.6 35.6h0.6M163.6 48.1h0.6M153.6 41.2h0.6M176.0 72.9h0.6M166.7 53.8h0.6M185.7 54.3h0.6M171.6 48.5h0.6M170.6 68.5h0.6M156.6 55.4h0.6M179.8 61.7h0.6M166.8 39.1h0.6M168.2 71.2h0.6M153.8 63.4h0.6M175.8 65.0h0.6M176.2 71.9h0.6M165.1 57.6h0.6M169.9 57.8h0.6M172.0 66.7h0.6M176.0 63.8h0.6M170.0 57.1h0.6M181.4 59.9h0.6M167.6 54.5h0.6M165.1 66.7h0.6M166.0 68.9h0.6M151.5 59.6h0.6M163.7 78.3h0.6M147.2 90.7h0.6M155.2 82.6h0.6M157.8 88.8h0.6M149.3 80.1h0.6M153.6 105.7h0.6M148.3 101.1h0.6M154.8 99.4h0.6M153.1 93.9h0.6M153.6 98.0h0.6M158.2 99.7h0.6M154.7 98.1h0.6M158.2 97.6h0.6M155.3 86.6h0.6M148.0 94.6h0.6M153.8 88.8h0.6M154.7 85.0h0.6M147.0 85.2h0.6M158.1 94.6h0.6M153.0 98.4h0.6M154.2 83.8h0.6M149.2 102.5h0.6M153.1 100.8h0.6M154.0 89.7h0.6M151.5 89.2h0.6M153.1 91.6h0.6M144.3 97.9h0.6M158.2 89.7h0.6M148.3 85.4h0.6M144.0 94.1h0.6M148.9 79.6h0.6M149.4 92.9h0.6M155.0 99.0h0.6M149.1 93.8h0.6M153.9 96.7h0.6M148.9 95.0h0.6M161.6 96.4h0.6M155.0 92.9h0.6M160.6 87.0h0.6M148.7 90.7h0.6M155.4 91.6h0.6M148.9 99.6h0.6M155.1 101.8h0.6M155.5 94.5h0.6M146.4 87.5h0.6M148.2 87.6h0.6M148.1 90.9h0.6M146.8 100.3h0.6M149.8 94.0h0.6M148.9 91.7h0.6M147.0 87.4h0.6M153.2 97.3h0.6M154.9 93.7h0.6M147.5 91.7h0.6M150.5 92.6h0.6M152.8 102.1h0.6M151.8 91.0h0.6M150.0 102.1h0.6M156.0 99.5h0.6M156.1 92.3h0.6M155.5 97.3h0.6M151.9 91.3h0.6M160.7 87.0h0.6M159.7 90.4h0.6M151.1 86.6h0.6M152.3 95.1h0.6M157.5 92.1h0.6M149.5 95.4h0.6M154.3 97.0h0.6M152.9 73.3h0.6M149.9 93.9h0.6" stroke="#555" stroke-width="0.6" fill="none" filter="url(#bl)"/>
<path d="M105.4 39.9h0.6M123.7 51.8h0.6M151.0 44.2h0.6M121.1 65.7h0.6M104.6 50.1h0.6M146.6 45.6h0.6M134.7 43.9h0.6M110.3 55.1h0.6M137.9 52.1h0.6M112.7 37.9h0.6M108.2 48.4h0.6M124.9 35.9h0.6M120.3 40.6h0.6M111.6 36.2h0.6M121.9 36.0h0.6M112.9 41.1h0.6M127.9 38.8h0.6M126.7 50.9h0.6M137.5 53.0h0.6M120.7 44.7h0.6M108.3 37.7h0.6M108.5 53.1h0.6M123.6 30.4h0.6M148.6 31.1h0.6M138.9 52.5h0.6M118.0 51.9h0.6M140.3 54.5h0.6M110.8 44.9h0.6M141.3 36.5h0.6M121.7 42.5h0.6M137.8 51.2h0.6M135.8 40.5h0.6M123.1 41.0h0.6M131.6 35.4h0.6M112.1 37.3h0.6M126.0 53.4h0.6M142.2 50.3h0.6M184.6 37.3h0.6M136.9 38.0h0.6M128.3 42.1h0.6M112.8 51.0h0.6M141.9 37.3h0.6M115.8 29.4h0.6M132.1 36.5h0.6M110.1 50.0h0.6M148.7 53.9h0.6M142.4 37.4h0.6M119.1 40.4h0.6M119.3 53.1h0.6M108.5 43.5h0.6M107.4 42.3h0.6M133.3 50.8h0.6M135.8 48.2h0.6M132.0 55.6h0.6M130.8 53.0h0.6M119.2 42.0h0.6M132.1 45.7h0.6M106.4 46.2h0.6M127.2 35.8h0.6M147.8 38.8h0.6M145.6 54.5h0.6M120.5 33.9h0.6M122.4 54.6h0.6M146.4 48.9h0.6M152.2 45.5h0.6M106.0 51.0h0.6M121.1 50.5h0.6M130.3 56.4h0.6M144.2 43.4h0.6M141.4 96.8h0.6M132.3 87.1h0.6M150.3 88.1h0.6M119.3 102.5h0.6M137.0 87.9h0.6M138.2 99.3h0.6M130.4 90.0h0.6M143.4 84.0h0.6M132.8 94.1h0.6M131.0 85.2h0.6M164.9 99.8h0.6M151.1 97.7h0.6M157.1 90.5h0.6M142.2 94.9h0.6M154.1 94.5h0.6M151.7 87.8h0.6M157.3 97.2h0.6M172.3 88.2h0.6M138.6 94.9h0.6M144.9 82.4h0.6M140.9 90.8h0.6M123.4 83.7h0.6M141.8 86.7h0.6M149.8 85.8h0.6M134.1 95.8h0.6M156.4 84.3h0.6M158.3 93.5h0.6M136.2 102.2h0.6M160.1 92.9h0.6M164.4 77.1h0.6M147.7 91.0h0.6M128.9 98.4h0.6M160.7 87.8h0.6M139.5 98.9h0.6M136.7 95.0h0.6M143.2 93.4h0.6M134.7 88.0h0.6M155.6 86.0h0.6M151.8 88.0h0.6M157.5 90.6h0.6M149.2 94.3h0.6M131.4 93.4h0.6M139.6 87.7h0.6M153.1 90.6h0.6M136.4 93.2h0.6M179.7 77.1h0.6M138.6 83.9h0.6M134.1 83.7h0.6M156.6 88.5h0.6M151.4 87.9h0.6M141.3 88.0h0.6M138.7 83.1h0.6M147.2 95.5h0.6M152.6 92.3h0.6M151.6 77.0h0.6M137.8 90.2h0.6M147.3 81.1h0.6M152.7 103.7h0.6M151.6 86.5h0.6M130.1 90.8h0.6M131.6 88.5h0.6M138.7 89.7h0.6M144.0 102.5h0.6M153.7 91.9h0.6M149.7 96.8h0.6M140.0 99.2h0.6M142.0 82.3h0.6M164.6 103.6h0.6M133.7 95.6h0.6M145.7 97.8h0.6M162.1 83.2h0.6M146.2 96.7h0.6M115.1 93.4h0.6M146.6 85.8h0.6M136.7 108.4h0.6M140.2 94.7h0.6M155.4 88.2h0.6M147.8 91.7h0.6M138.3 97.4h0.6M153.3 99.2h0.6M147.4 94.8h0.6M143.1 99.9h0.6M145.6 101.9h0.6M145.0 80.3h0.6M137.3 86.3h0.6M135.7 82.6h0.6M142.0 90.9h0.6M129.3 101.7h0.6M125.3 95.4h0.6M158.6 81.8h0.6M138.6 87.8h0.6M141.4 98.4h0.6M139.9 85.9h0.6M142.0 89.4h0.6M142.0 92.6h0.6M142.5 75.6h0.6M131.2 96.4h0.6M153.8 92.9h0.6M132.7 94.7h0.6M155.2 82.3h0.6M116.8 84.0h0.6M127.9 85.4h0.6M154.6 92.2h0.6M139.8 90.7h0.6M133.0 91.2h0.6M146.6 104.5h0.6M128.1 100.6h0.6M142.7 84.4h0.6M112.9 84.9h0.6M135.8 103.9h0.6M133.3 87.6h0.6M148.7 101.2h0.6M153.1 102.9h0.6M130.6 85.8h0.6M162.6 88.0h0.6M134.0 90.8h0.6M115.0 83.2h0.6M110.8 82.3h0.6M161.7 87.0h0.6M140.6 97.0h0.6M133.3 86.6h0.6M132.0 88.5h0.6M127.5 86.4h0.6M159.3 79.2h0.6M140.6 102.0h0.6M165.0 71.4h0.6M139.1 84.9h0.6M111.1 94.6h0.6M190.6 35.3h0.6M172.5 57.1h0.6M187.2 109.5h0.6M180.4 105.2h0.6M187.4 67.4h0.6M177.5 86.2h0.6M185.9 60.6h0.6M169.8 97.9h0.6M179.5 55.3h0.6M176.7 46.5h0.6M175.0 41.6h0.6M176.0 80.5h0.6M178.5 74.6h0.6M180.1 102.2h0.6M180.7 41.7h0.6M185.1 94.4h0.6M187.1 105.5h0.6M189.9 89.8h0.6M183.8 39.2h0.6M175.1 42.3h0.6M181.9 37.0h0.6M178.9 56.7h0.6M174.6 90.7h0.6M176.7 41.6h0.6M174.5 65.9h0.6M181.0 33.6h0.6M171.1 84.3h0.6M181.1 37.9h0.6M178.3 93.4h0.6M169.8 79.0h0.6M175.5 45.2h0.6M190.1 85.9h0.6M181.9 57.9h0.6M171.1 71.9h0.6M181.8 74.5h0.6M184.5 51.7h0.6M172.5 63.4h0.6M178.2 92.9h0.6M174.2 99.2h0.6M181.1 97.9h0.6M187.0 75.5h0.6M174.7 99.8h0.6M172.6 41.2h0.6M172.6 108.7h0.6M182.6 33.6h0.6M171.2 101.9h0.6M180.8 93.3h0.6M186.7 61.2h0.6M185.8 93.2h0.6M183.8 106.6h0.6M169.9 43.1h0.6M178.8 82.0h0.6M174.8 30.4h0.6M180.5 83.1h0.6M172.9 34.9h0.6M172.5 83.4h0.6M189.7 32.2h0.6M188.2 62.3h0.6M171.8 99.3h0.6M187.1 54.5h0.6" stroke="#777" stroke-width="0.6" fill="none" filter="url(#bl)"/>
<path d="M147.7 44.9h0.6M121.9 38.4h0.6M110.8 36.7h0.6M130.1 57.5h0.6M144.0 66.0h0.6M122.4 32.6h0.6M157.1 45.1h0.6M107.8 38.4h0.6M121.6 68.3h0.6M125.5 37.0h0.6M127.0 34.6h0.6M123.3 61.2h0.6M108.8 70.0h0.6M118.6 61.4h0.6M121.3 36.4h0.6M142.7 47.5h0.6M127.3 51.8h0.6M145.3 66.2h0.6M130.7 60.6h0.6M125.4 34.3h0.6M116.0 49.2h0.6M119.6 61.6h0.6M154.6 52.6h0.6M131.4 57.3h0.6M124.0 68.8h0.6M119.1 69.2h0.6M153.3 63.8h0.6M144.3 53.7h0.6M143.8 43.7h0.6M149.5 38.1h0.6M120.2 38.4h0.6M145.7 56.3h0.6M111.4 61.4h0.6M142.3 64.6h0.6M124.5 66.7h0.6M142.1 42.9h0.6M119.5 44.7h0.6M126.1 39.5h0.6M142.6 52.7h0.6M156.6 68.0h0.6" stroke="#888" stroke-width="0.6" fill="none" filter="url(#bl)"/>
<line x1="103.4" y1="27" x2="192.3" y2="27" stroke="#c8c8c8" stroke-width="1.6"/>
<line x1="192.5" y1="26.9" x2="192.5" y2="112.4" stroke="#999" stroke-width="0.8"/>
<line x1="103.5" y1="26.4" x2="103.5" y2="114.4" stroke="#555" stroke-width="0.9"/>
<line x1="101.4" y1="112.5" x2="192.3" y2="112.5" stroke="#555" stroke-width="0.9"/>
<line x1="101.6" y1="109.5" x2="103.4" y2="109.5" stroke="#666" stroke-width="0.6"/>
<line x1="101.6" y1="104.5" x2="103.4" y2="104.5" stroke="#666" stroke-width="0.6"/>
<line x1="101.6" y1="99.5" x2="103.4" y2="99.5" stroke="#666" stroke-width="0.6"/>
<line x1="101.2" y1="81.5" x2="103.4" y2="81.5" stroke="#666" stroke-width="0.6"/>
<line x1="102.2" y1="75.5" x2="103.4" y2="75.5" stroke="#666" stroke-width="0.6"/>
<line x1="102.2" y1="71.5" x2="103.4" y2="71.5" stroke="#666" stroke-width="0.6"/>
<line x1="102.2" y1="69.5" x2="103.4" y2="69.5" stroke="#666" stroke-width="0.6"/>
<line x1="102.2" y1="67.5" x2="103.4" y2="67.5" stroke="#666" stroke-width="0.6"/>
<line x1="102.2" y1="65.5" x2="103.4" y2="65.5" stroke="#666" stroke-width="0.6"/>
<line x1="102.2" y1="64.5" x2="103.4" y2="64.5" stroke="#666" stroke-width="0.6"/>
<line x1="102.2" y1="63.5" x2="103.4" y2="63.5" stroke="#666" stroke-width="0.6"/>
<line x1="102.2" y1="62.5" x2="103.4" y2="62.5" stroke="#666" stroke-width="0.6"/>
<line x1="101.2" y1="61.5" x2="103.4" y2="61.5" stroke="#666" stroke-width="0.6"/>
<line x1="102.2" y1="55.5" x2="103.4" y2="55.5" stroke="#666" stroke-width="0.6"/>
<line x1="102.2" y1="51.5" x2="103.4" y2="51.5" stroke="#666" stroke-width="0.6"/>
<line x1="102.2" y1="49.5" x2="103.4" y2="49.5" stroke="#666" stroke-width="0.6"/>
<line x1="102.2" y1="47.5" x2="103.4" y2="47.5" stroke="#666" stroke-width="0.6"/>
<line x1="102.2" y1="45.5" x2="103.4" y2="45.5" stroke="#666" stroke-width="0.6"/>
<line x1="102.2" y1="44.5" x2="103.4" y2="44.5" stroke="#666" stroke-width="0.6"/>
<line x1="102.2" y1="43.5" x2="103.4" y2="43.5" stroke="#666" stroke-width="0.6"/>
<line x1="102.2" y1="42.5" x2="103.4" y2="42.5" stroke="#666" stroke-width="0.6"/>
<line x1="101.2" y1="41.5" x2="103.4" y2="41.5" stroke="#666" stroke-width="0.6"/>
<line x1="102.2" y1="35.5" x2="103.4" y2="35.5" stroke="#666" stroke-width="0.6"/>
<line x1="102.2" y1="32.5" x2="103.4" y2="32.5" stroke="#666" stroke-width="0.6"/>
<line x1="102.2" y1="29.5" x2="103.4" y2="29.5" stroke="#666" stroke-width="0.6"/>
<line x1="102.2" y1="27.5" x2="103.4" y2="27.5" stroke="#666" stroke-width="0.6"/>
<line x1="106.5" y1="112.4" x2="106.5" y2="113.7" stroke="#666" stroke-width="0.6"/>
<line x1="109.5" y1="112.4" x2="109.5" y2="113.7" stroke="#666" stroke-width="0.6"/>
<line x1="113.5" y1="112.4" x2="113.5" y2="113.7" stroke="#666" stroke-width="0.6"/>
<line x1="116.5" y1="112.4" x2="116.5" y2="113.7" stroke="#666" stroke-width="0.6"/>
<line x1="119.5" y1="112.4" x2="119.5" y2="113.7" stroke="#666" stroke-width="0.6"/>
<line x1="123.5" y1="112.4" x2="123.5" y2="113.7" stroke="#666" stroke-width="0.6"/>
<line x1="126.5" y1="112.4" x2="126.5" y2="113.7" stroke="#666" stroke-width="0.6"/>
<line x1="129.5" y1="112.4" x2="129.5" y2="113.7" stroke="#666" stroke-width="0.6"/>
<line x1="133.5" y1="112.4" x2="133.5" y2="113.7" stroke="#666" stroke-width="0.6"/>
<line x1="136.5" y1="112.4" x2="136.5" y2="113.7" stroke="#666" stroke-width="0.6"/>
<line x1="139.5" y1="112.4" x2="139.5" y2="113.7" stroke="#666" stroke-width="0.6"/>
<line x1="143.5" y1="112.4" x2="143.5" y2="113.7" stroke="#666" stroke-width="0.6"/>
<line x1="146.5" y1="112.4" x2="146.5" y2="113.7" stroke="#666" stroke-width="0.6"/>
<line x1="150.5" y1="112.4" x2="150.5" y2="113.7" stroke="#666" stroke-width="0.6"/>
<line x1="153.5" y1="112.4" x2="153.5" y2="113.7" stroke="#666" stroke-width="0.6"/>
<line x1="156.5" y1="112.4" x2="156.5" y2="113.7" stroke="#666" stroke-width="0.6"/>
<line x1="160.5" y1="112.4" x2="160.5" y2="113.7" stroke="#666" stroke-width="0.6"/>
<line x1="163.5" y1="112.4" x2="163.5" y2="113.7" stroke="#666" stroke-width="0.6"/>
<line x1="166.5" y1="112.4" x2="166.5" y2="113.7" stroke="#666" stroke-width="0.6"/>
<line x1="170.5" y1="112.4" x2="170.5" y2="113.7" stroke="#666" stroke-width="0.6"/>
<line x1="173.5" y1="112.4" x2="173.5" y2="113.7" stroke="#666" stroke-width="0.6"/>
<line x1="176.5" y1="112.4" x2="176.5" y2="113.7" stroke="#666" stroke-width="0.6"/>
<line x1="180.5" y1="112.4" x2="180.5" y2="113.7" stroke="#666" stroke-width="0.6"/>
<line x1="183.5" y1="112.4" x2="183.5" y2="113.7" stroke="#666" stroke-width="0.6"/>
<line x1="186.5" y1="112.4" x2="186.5" y2="113.7" stroke="#666" stroke-width="0.6"/>
<line x1="190.5" y1="112.4" x2="190.5" y2="113.7" stroke="#666" stroke-width="0.6"/>
<line x1="117.5" y1="112.4" x2="117.5" y2="114.9" stroke="#555" stroke-width="0.7"/>
<line x1="145.5" y1="112.4" x2="145.5" y2="114.9" stroke="#555" stroke-width="0.7"/>
<line x1="181.5" y1="112.4" x2="181.5" y2="114.9" stroke="#555" stroke-width="0.7"/>
<text x="117.2" y="118.6" font-size="5" text-anchor="middle" font-weight="normal" fill="#777">0</text>
<text x="145.6" y="118.6" font-size="5" text-anchor="middle" font-weight="normal" fill="#777">10²</text>
<text x="181.6" y="118.6" font-size="5" text-anchor="middle" font-weight="normal" fill="#777">10⁴</text>
<text x="99.4" y="104.5" font-size="5" text-anchor="middle" font-weight="normal" fill="#777" transform="rotate(-90 99.4 104.5)">0</text>
<text x="99.4" y="81.2" font-size="5" text-anchor="middle" font-weight="normal" fill="#777" transform="rotate(-90 99.4 81.2)">10³</text>
<text x="99.4" y="61.3" font-size="5" text-anchor="middle" font-weight="normal" fill="#777" transform="rotate(-90 99.4 61.3)">10⁴</text>
<text x="99.4" y="41.9" font-size="5" text-anchor="middle" font-weight="normal" fill="#777" transform="rotate(-90 99.4 41.9)">10⁵</text>
<line x1="103.4" y1="71.5" x2="192.3" y2="71.5" stroke="#555" stroke-width="0.9"/>
<polyline points="157.6,112.4 157.6,71.4 164,26.9" fill="none" stroke="#555" stroke-width="0.9"/>
<text x="108.8" y="36.6" font-size="9.5" text-anchor="start" font-weight="bold" fill="#111">1</text>
<path d="M277.1 89.3h0.6M266.1 77.5h0.6M275.7 90.1h0.6M270.5 74.8h0.6M269.6 97.2h0.6M269.4 87.0h0.6M278.7 77.3h0.6M276.9 96.1h0.6M270.0 94.7h0.6M268.1 81.1h0.6M273.3 102.5h0.6M271.1 78.5h0.6M280.7 88.4h0.6M266.6 94.9h0.6M265.0 69.0h0.6M272.0 93.5h0.6M273.2 85.5h0.6M273.8 85.9h0.6M276.6 77.9h0.6M282.5 88.5h0.6M271.7 77.7h0.6M270.8 78.7h0.6M265.3 82.6h0.6M274.3 76.8h0.6M277.0 97.8h0.6M272.0 76.0h0.6M278.5 80.3h0.6M273.3 83.6h0.6M280.0 86.0h0.6M274.7 91.9h0.6M268.4 92.1h0.6M270.3 83.7h0.6M266.3 83.1h0.6M265.4 86.3h0.6M274.4 92.2h0.6M277.1 91.2h0.6M282.0 82.1h0.6M273.0 70.6h0.6M272.1 102.1h0.6M268.2 93.1h0.6M277.6 88.0h0.6M275.0 88.6h0.6M270.5 82.1h0.6M276.3 78.5h0.6M275.7 83.5h0.6M264.8 84.3h0.6M276.5 81.3h0.6M273.8 75.1h0.6M271.4 83.7h0.6M271.3 90.3h0.6M281.1 82.3h0.6M280.1 86.2h0.6M281.4 70.5h0.6M268.0 84.4h0.6M270.3 85.1h0.6M277.3 76.8h0.6M267.8 73.0h0.6M270.0 89.1h0.6M265.1 79.9h0.6M281.5 89.7h0.6M278.0 82.8h0.6M275.3 90.7h0.6M274.2 83.5h0.6M271.3 74.7h0.6M271.4 85.4h0.6M276.0 83.5h0.6M270.0 90.9h0.6M278.7 82.6h0.6M271.0 83.1h0.6M269.3 92.4h0.6M279.0 94.7h0.6M272.6 91.7h0.6M275.7 93.8h0.6M271.3 89.4h0.6M263.1 91.8h0.6M275.7 92.6h0.6M267.1 89.0h0.6M278.1 86.5h0.6M266.2 87.1h0.6M264.8 104.0h0.6M274.6 86.1h0.6M275.1 84.2h0.6M273.7 83.3h0.6M267.7 85.7h0.6M277.2 87.8h0.6M266.6 77.5h0.6M271.1 71.1h0.6M269.7 88.2h0.6M271.5 74.0h0.6M277.0 87.9h0.6M270.3 87.1h0.6M275.7 94.6h0.6M276.3 98.5h0.6M265.5 88.8h0.6M268.0 81.8h0.6M271.5 77.2h0.6M270.5 80.1h0.6M274.6 86.3h0.6M264.5 70.5h0.6M276.4 86.6h0.6M276.6 85.9h0.6M272.4 90.8h0.6M267.0 83.5h0.6M273.2 86.8h0.6M270.8 80.5h0.6M275.7 82.5h0.6M272.8 72.7h0.6M276.5 86.9h0.6M271.3 97.6h0.6M279.7 87.2h0.6M262.8 88.7h0.6M268.6 78.6h0.6M275.4 96.7h0.6M266.4 80.2h0.6M276.5 92.0h0.6M267.7 86.8h0.6M273.6 78.8h0.6M269.1 93.7h0.6M271.2 86.1h0.6M274.0 87.3h0.6M272.7 89.4h0.6M271.5 85.8h0.6M282.9 83.2h0.6M273.2 89.5h0.6M268.8 83.0h0.6M277.4 86.5h0.6M276.9 81.0h0.6M278.7 74.8h0.6M281.2 81.0h0.6M269.0 82.3h0.6M278.0 86.1h0.6M278.3 94.9h0.6M273.2 73.3h0.6M274.3 87.0h0.6M259.7 69.4h0.6M270.6 78.2h0.6M281.2 82.2h0.6M265.2 69.1h0.6M270.8 72.1h0.6M274.5 87.2h0.6M275.8 86.6h0.6M280.5 85.1h0.6M265.3 80.0h0.6M273.4 102.2h0.6M277.1 84.8h0.6M267.3 79.5h0.6M273.0 98.6h0.6M281.7 90.6h0.6M279.1 83.2h0.6M275.6 94.9h0.6M261.4 87.2h0.6M272.6 90.8h0.6M274.9 87.8h0.6M271.8 78.3h0.6M272.9 93.3h0.6M287.1 87.2h0.6M272.2 78.4h0.6M268.8 80.3h0.6M274.3 93.2h0.6M271.8 83.2h0.6M271.8 86.3h0.6M272.8 90.9h0.6M276.7 87.0h0.6M274.3 74.6h0.6M267.8 90.8h0.6M272.6 93.0h0.6M275.3 92.5h0.6M271.1 98.1h0.6M278.4 88.7h0.6M276.7 91.8h0.6M268.7 97.9h0.6M274.6 83.8h0.6M282.1 99.0h0.6M280.2 99.0h0.6M272.9 91.9h0.6M277.2 99.8h0.6M270.2 92.4h0.6M266.7 79.4h0.6M275.7 94.5h0.6M274.3 88.4h0.6M275.5 89.1h0.6M273.1 87.2h0.6M274.7 96.2h0.6M270.9 90.1h0.6M275.3 80.8h0.6M276.9 89.6h0.6M272.9 91.5h0.6M276.9 80.6h0.6M265.2 82.7h0.6M269.7 83.1h0.6M279.7 81.4h0.6M281.1 88.6h0.6M274.3 93.6h0.6M272.7 100.2h0.6M267.5 95.0h0.6M274.8 93.7h0.6M276.7 94.6h0.6M266.5 96.0h0.6M275.7 83.2h0.6M275.4 91.2h0.6" stroke="#666" stroke-width="0.6" fill="none" filter="url(#bl)"/>
<path d="M255.2 97.8h0.6M277.1 87.5h0.6M277.9 48.1h0.6M263.2 68.8h0.6M270.4 53.3h0.6M258.7 84.9h0.6M248.9 88.3h0.6M260.9 90.1h0.6M268.8 64.2h0.6M288.9 80.7h0.6M280.3 54.2h0.6M233.8 103.2h0.6M269.4 103.8h0.6M235.3 42.1h0.6M268.3 78.3h0.6" stroke="#888" stroke-width="0.6" fill="none" filter="url(#bl)"/>
<line x1="206.4" y1="28.5" x2="295.3" y2="28.5" stroke="#444" stroke-width="0.9"/>
<line x1="295.5" y1="28.1" x2="295.5" y2="112.4" stroke="#999" stroke-width="0.8"/>
<line x1="206.5" y1="27.6" x2="206.5" y2="114.4" stroke="#555" stroke-width="0.9"/>
<line x1="204.4" y1="112.5" x2="295.3" y2="112.5" stroke="#555" stroke-width="0.9"/>
<line x1="204.6" y1="109.5" x2="206.4" y2="109.5" stroke="#666" stroke-width="0.6"/>
<line x1="204.6" y1="104.5" x2="206.4" y2="104.5" stroke="#666" stroke-width="0.6"/>
<line x1="204.6" y1="99.5" x2="206.4" y2="99.5" stroke="#666" stroke-width="0.6"/>
<line x1="204.2" y1="81.5" x2="206.4" y2="81.5" stroke="#666" stroke-width="0.6"/>
<line x1="205.2" y1="75.5" x2="206.4" y2="75.5" stroke="#666" stroke-width="0.6"/>
<line x1="205.2" y1="71.5" x2="206.4" y2="71.5" stroke="#666" stroke-width="0.6"/>
<line x1="205.2" y1="69.5" x2="206.4" y2="69.5" stroke="#666" stroke-width="0.6"/>
<line x1="205.2" y1="67.5" x2="206.4" y2="67.5" stroke="#666" stroke-width="0.6"/>
<line x1="205.2" y1="65.5" x2="206.4" y2="65.5" stroke="#666" stroke-width="0.6"/>
<line x1="205.2" y1="64.5" x2="206.4" y2="64.5" stroke="#666" stroke-width="0.6"/>
<line x1="205.2" y1="63.5" x2="206.4" y2="63.5" stroke="#666" stroke-width="0.6"/>
<line x1="205.2" y1="62.5" x2="206.4" y2="62.5" stroke="#666" stroke-width="0.6"/>
<line x1="204.2" y1="61.5" x2="206.4" y2="61.5" stroke="#666" stroke-width="0.6"/>
<line x1="205.2" y1="55.5" x2="206.4" y2="55.5" stroke="#666" stroke-width="0.6"/>
<line x1="205.2" y1="51.5" x2="206.4" y2="51.5" stroke="#666" stroke-width="0.6"/>
<line x1="205.2" y1="49.5" x2="206.4" y2="49.5" stroke="#666" stroke-width="0.6"/>
<line x1="205.2" y1="47.5" x2="206.4" y2="47.5" stroke="#666" stroke-width="0.6"/>
<line x1="205.2" y1="45.5" x2="206.4" y2="45.5" stroke="#666" stroke-width="0.6"/>
<line x1="205.2" y1="44.5" x2="206.4" y2="44.5" stroke="#666" stroke-width="0.6"/>
<line x1="205.2" y1="43.5" x2="206.4" y2="43.5" stroke="#666" stroke-width="0.6"/>
<line x1="205.2" y1="42.5" x2="206.4" y2="42.5" stroke="#666" stroke-width="0.6"/>
<line x1="204.2" y1="41.5" x2="206.4" y2="41.5" stroke="#666" stroke-width="0.6"/>
<line x1="205.2" y1="35.5" x2="206.4" y2="35.5" stroke="#666" stroke-width="0.6"/>
<line x1="205.2" y1="32.5" x2="206.4" y2="32.5" stroke="#666" stroke-width="0.6"/>
<line x1="205.2" y1="29.5" x2="206.4" y2="29.5" stroke="#666" stroke-width="0.6"/>
<line x1="209.5" y1="112.4" x2="209.5" y2="113.7" stroke="#666" stroke-width="0.6"/>
<line x1="212.5" y1="112.4" x2="212.5" y2="113.7" stroke="#666" stroke-width="0.6"/>
<line x1="216.5" y1="112.4" x2="216.5" y2="113.7" stroke="#666" stroke-width="0.6"/>
<line x1="219.5" y1="112.4" x2="219.5" y2="113.7" stroke="#666" stroke-width="0.6"/>
<line x1="222.5" y1="112.4" x2="222.5" y2="113.7" stroke="#666" stroke-width="0.6"/>
<line x1="226.5" y1="112.4" x2="226.5" y2="113.7" stroke="#666" stroke-width="0.6"/>
<line x1="229.5" y1="112.4" x2="229.5" y2="113.7" stroke="#666" stroke-width="0.6"/>
<line x1="232.5" y1="112.4" x2="232.5" y2="113.7" stroke="#666" stroke-width="0.6"/>
<line x1="236.5" y1="112.4" x2="236.5" y2="113.7" stroke="#666" stroke-width="0.6"/>
<line x1="239.5" y1="112.4" x2="239.5" y2="113.7" stroke="#666" stroke-width="0.6"/>
<line x1="242.5" y1="112.4" x2="242.5" y2="113.7" stroke="#666" stroke-width="0.6"/>
<line x1="246.5" y1="112.4" x2="246.5" y2="113.7" stroke="#666" stroke-width="0.6"/>
<line x1="249.5" y1="112.4" x2="249.5" y2="113.7" stroke="#666" stroke-width="0.6"/>
<line x1="253.5" y1="112.4" x2="253.5" y2="113.7" stroke="#666" stroke-width="0.6"/>
<line x1="256.5" y1="112.4" x2="256.5" y2="113.7" stroke="#666" stroke-width="0.6"/>
<line x1="259.5" y1="112.4" x2="259.5" y2="113.7" stroke="#666" stroke-width="0.6"/>
<line x1="263.5" y1="112.4" x2="263.5" y2="113.7" stroke="#666" stroke-width="0.6"/>
<line x1="266.5" y1="112.4" x2="266.5" y2="113.7" stroke="#666" stroke-width="0.6"/>
<line x1="269.5" y1="112.4" x2="269.5" y2="113.7" stroke="#666" stroke-width="0.6"/>
<line x1="273.5" y1="112.4" x2="273.5" y2="113.7" stroke="#666" stroke-width="0.6"/>
<line x1="276.5" y1="112.4" x2="276.5" y2="113.7" stroke="#666" stroke-width="0.6"/>
<line x1="279.5" y1="112.4" x2="279.5" y2="113.7" stroke="#666" stroke-width="0.6"/>
<line x1="283.5" y1="112.4" x2="283.5" y2="113.7" stroke="#666" stroke-width="0.6"/>
<line x1="286.5" y1="112.4" x2="286.5" y2="113.7" stroke="#666" stroke-width="0.6"/>
<line x1="289.5" y1="112.4" x2="289.5" y2="113.7" stroke="#666" stroke-width="0.6"/>
<line x1="293.5" y1="112.4" x2="293.5" y2="113.7" stroke="#666" stroke-width="0.6"/>
<line x1="220.5" y1="112.4" x2="220.5" y2="114.9" stroke="#555" stroke-width="0.7"/>
<line x1="248.5" y1="112.4" x2="248.5" y2="114.9" stroke="#555" stroke-width="0.7"/>
<line x1="284.5" y1="112.4" x2="284.5" y2="114.9" stroke="#555" stroke-width="0.7"/>
<text x="220.2" y="118.6" font-size="5" text-anchor="middle" font-weight="normal" fill="#777">0</text>
<text x="248.6" y="118.6" font-size="5" text-anchor="middle" font-weight="normal" fill="#777">10²</text>
<text x="284.6" y="118.6" font-size="5" text-anchor="middle" font-weight="normal" fill="#777">10⁴</text>
<text x="202.4" y="104.5" font-size="5" text-anchor="middle" font-weight="normal" fill="#777" transform="rotate(-90 202.4 104.5)">0</text>
<text x="202.4" y="81.2" font-size="5" text-anchor="middle" font-weight="normal" fill="#777" transform="rotate(-90 202.4 81.2)">10³</text>
<text x="202.4" y="61.3" font-size="5" text-anchor="middle" font-weight="normal" fill="#777" transform="rotate(-90 202.4 61.3)">10⁴</text>
<text x="202.4" y="41.9" font-size="5" text-anchor="middle" font-weight="normal" fill="#777" transform="rotate(-90 202.4 41.9)">10⁵</text>
<line x1="206.4" y1="74.5" x2="295.3" y2="74.5" stroke="#555" stroke-width="0.9"/>
<polyline points="263.6,112.4 263.6,74.4 269.3,28.1" fill="none" stroke="#555" stroke-width="0.9"/>
<text x="211.5" y="36.6" font-size="9.5" text-anchor="start" font-weight="bold" fill="#111">1</text>
<path d="M160.9 179.9h0.8M172.7 179.7h0.8M163.3 190.5h0.8M165.0 186.4h0.8M162.9 187.7h0.8M165.6 187.4h0.8M164.3 192.8h0.8M163.8 180.3h0.8M161.1 190.8h0.8M160.5 182.1h0.8M162.7 189.2h0.8M166.1 191.9h0.8M172.0 179.5h0.8M168.6 187.7h0.8M171.2 184.6h0.8M166.7 184.5h0.8M164.9 186.0h0.8M160.8 181.1h0.8M165.2 181.5h0.8M158.1 188.8h0.8M164.2 189.7h0.8M170.5 183.3h0.8M166.2 179.2h0.8M168.9 196.4h0.8M163.9 190.8h0.8M160.6 187.5h0.8M163.6 181.2h0.8M163.9 183.2h0.8M169.1 186.9h0.8M171.7 181.5h0.8M162.7 193.1h0.8M164.0 186.5h0.8M164.7 187.6h0.8M164.0 181.2h0.8M161.1 181.7h0.8M165.5 182.3h0.8M166.4 187.1h0.8M166.5 184.6h0.8M161.2 184.5h0.8M164.8 187.3h0.8M159.4 186.9h0.8M168.2 192.6h0.8M161.8 185.0h0.8M164.3 181.2h0.8M163.7 185.8h0.8M163.3 192.5h0.8M161.7 183.3h0.8M159.4 186.1h0.8M170.9 184.2h0.8M166.0 187.7h0.8M166.1 187.0h0.8M172.1 182.2h0.8M164.9 184.8h0.8M167.0 190.1h0.8M165.3 190.8h0.8M169.1 190.0h0.8M166.9 189.8h0.8M166.2 184.3h0.8M164.4 184.2h0.8M166.1 190.1h0.8M169.0 180.5h0.8M158.4 185.6h0.8M164.8 177.4h0.8M163.8 184.1h0.8M164.2 182.7h0.8M158.7 180.4h0.8M167.6 188.5h0.8M162.4 182.5h0.8M164.5 184.2h0.8M163.5 184.7h0.8M159.7 182.5h0.8M163.7 192.3h0.8M159.1 183.6h0.8M162.1 186.7h0.8M164.2 179.9h0.8M165.2 183.7h0.8M165.4 184.4h0.8M164.8 184.5h0.8M172.3 183.2h0.8M166.6 186.5h0.8M161.2 192.9h0.8M163.2 185.3h0.8M163.0 185.2h0.8M164.6 184.1h0.8M163.2 197.3h0.8M162.4 193.1h0.8M170.7 188.4h0.8M165.4 189.0h0.8M164.1 182.6h0.8M164.4 185.2h0.8M164.5 186.8h0.8M169.8 186.4h0.8M166.8 182.0h0.8M168.9 182.3h0.8M154.9 188.2h0.8M166.3 187.3h0.8M168.7 176.3h0.8M171.7 186.3h0.8M165.3 191.6h0.8M159.5 182.9h0.8M167.2 186.9h0.8M163.2 179.3h0.8M159.3 189.6h0.8M163.2 180.8h0.8M168.7 180.2h0.8M169.2 184.4h0.8M167.6 196.6h0.8M161.8 183.1h0.8M173.5 180.2h0.8M161.4 187.9h0.8M165.0 186.9h0.8M160.5 193.3h0.8M169.6 180.1h0.8M166.7 178.7h0.8M168.2 184.4h0.8M165.5 187.6h0.8M165.0 187.5h0.8M165.8 190.8h0.8M159.0 179.1h0.8M168.5 182.1h0.8M168.2 185.3h0.8M163.9 189.6h0.8M165.2 188.0h0.8M166.2 184.0h0.8M170.4 181.3h0.8M166.7 189.8h0.8M165.4 190.1h0.8M163.6 198.1h0.8M160.3 185.1h0.8M163.3 193.2h0.8M165.5 180.4h0.8M164.4 183.4h0.8M165.5 182.8h0.8M167.7 183.8h0.8M166.7 181.9h0.8M166.2 183.4h0.8M167.4 185.6h0.8M165.9 183.8h0.8M165.1 188.8h0.8M166.8 185.5h0.8M159.5 185.9h0.8M169.4 192.5h0.8M161.0 187.3h0.8M168.0 186.6h0.8M165.3 185.8h0.8M168.9 186.1h0.8M165.4 188.4h0.8M162.1 182.2h0.8M168.8 191.0h0.8M165.9 192.9h0.8M165.7 191.1h0.8M165.5 183.6h0.8M168.6 178.7h0.8M168.0 183.9h0.8M166.0 186.6h0.8M160.1 189.6h0.8M163.9 185.0h0.8M165.6 184.5h0.8M171.2 192.7h0.8M166.5 182.8h0.8M165.0 190.7h0.8M169.2 189.9h0.8M164.9 179.9h0.8M165.2 187.1h0.8M165.8 183.4h0.8M160.3 181.6h0.8M168.4 177.5h0.8M166.7 178.8h0.8M164.3 187.7h0.8M161.5 184.1h0.8M166.0 187.1h0.8M169.9 181.1h0.8M163.2 184.4h0.8M161.8 184.6h0.8M166.7 178.9h0.8M160.0 178.4h0.8M158.0 187.9h0.8M163.8 186.5h0.8M163.0 181.7h0.8M164.4 185.4h0.8M163.5 188.9h0.8M166.4 194.1h0.8M164.6 181.9h0.8M163.3 188.6h0.8M163.8 195.4h0.8M167.4 186.2h0.8M168.5 192.5h0.8M168.3 174.2h0.8M167.6 192.4h0.8M154.4 185.8h0.8M162.0 177.4h0.8M164.3 189.4h0.8M166.0 190.6h0.8M160.0 191.3h0.8M170.0 191.3h0.8M166.3 185.7h0.8M163.2 182.5h0.8M165.8 183.8h0.8M164.2 185.7h0.8M162.8 187.7h0.8M167.0 183.7h0.8M163.8 186.1h0.8M160.6 189.8h0.8M163.2 187.3h0.8M164.9 196.2h0.8M161.7 195.6h0.8M169.5 180.7h0.8M161.7 183.3h0.8M171.1 180.0h0.8M168.3 180.6h0.8M162.2 188.3h0.8M165.7 181.4h0.8M169.2 181.1h0.8M164.7 184.6h0.8M161.4 189.5h0.8M165.7 184.3h0.8M171.9 184.3h0.8M160.4 190.0h0.8M167.1 188.0h0.8M165.3 187.9h0.8M164.9 190.1h0.8M164.0 181.3h0.8M164.3 186.8h0.8M168.7 183.0h0.8M167.3 190.5h0.8M162.0 189.6h0.8M170.5 181.1h0.8M161.0 191.9h0.8M167.5 180.6h0.8M165.9 191.2h0.8M169.3 186.8h0.8M166.5 181.9h0.8M168.8 180.8h0.8M165.2 184.5h0.8M168.5 185.8h0.8M166.5 182.7h0.8M172.4 188.4h0.8M163.0 179.5h0.8M169.3 185.8h0.8M166.9 185.9h0.8M165.9 177.4h0.8M163.5 187.3h0.8M166.8 180.1h0.8M160.5 174.6h0.8M160.8 183.1h0.8M167.7 184.8h0.8M160.2 190.0h0.8M170.1 183.7h0.8M164.4 192.5h0.8M166.2 192.4h0.8M165.6 190.8h0.8M166.7 191.9h0.8M164.4 187.4h0.8M164.1 183.3h0.8M164.9 188.8h0.8M168.8 190.2h0.8M169.1 186.9h0.8M169.6 184.8h0.8M166.6 178.8h0.8M164.7 188.9h0.8M159.8 187.5h0.8M167.5 180.0h0.8M168.1 186.3h0.8M164.0 189.1h0.8M168.0 185.4h0.8M169.6 189.4h0.8M165.7 189.3h0.8M168.8 179.2h0.8M166.4 184.5h0.8M159.6 188.1h0.8M163.8 190.0h0.8M164.0 192.3h0.8M167.1 177.2h0.8M162.5 185.6h0.8M163.9 189.1h0.8M162.2 191.4h0.8M165.2 193.5h0.8M165.6 181.6h0.8M168.6 184.2h0.8M168.0 181.1h0.8M165.9 189.6h0.8M166.1 179.8h0.8M165.7 191.2h0.8M165.7 190.1h0.8M170.5 188.1h0.8M157.1 176.0h0.8M164.8 182.8h0.8M166.4 189.3h0.8M169.1 179.4h0.8M161.7 184.8h0.8M166.5 185.4h0.8M168.2 189.9h0.8M163.9 187.1h0.8M159.1 187.1h0.8M164.2 183.9h0.8M161.4 185.9h0.8M167.5 185.2h0.8M162.5 189.2h0.8M171.2 185.0h0.8M165.8 190.6h0.8M162.7 178.1h0.8M163.7 191.3h0.8M161.8 185.1h0.8M166.6 191.0h0.8M170.3 186.2h0.8M164.6 189.7h0.8M168.4 192.6h0.8M162.2 183.3h0.8M166.4 186.2h0.8M173.0 185.1h0.8M160.7 186.8h0.8M169.4 178.5h0.8M169.2 185.1h0.8M159.2 184.7h0.8M160.6 182.3h0.8M162.1 185.0h0.8M168.6 178.8h0.8M163.9 192.2h0.8M164.8 187.9h0.8M167.7 194.4h0.8M165.7 181.9h0.8M166.1 180.5h0.8M164.3 187.1h0.8M169.1 178.3h0.8M162.8 186.9h0.8M170.9 182.7h0.8M164.2 184.3h0.8M162.7 187.0h0.8M167.5 186.1h0.8M166.8 194.3h0.8M158.8 188.7h0.8M166.1 180.0h0.8M160.9 190.3h0.8M162.6 179.8h0.8M167.9 186.2h0.8M162.5 180.2h0.8M166.5 182.1h0.8M164.1 191.8h0.8M171.7 183.3h0.8M165.0 182.9h0.8M161.5 183.3h0.8M161.7 184.4h0.8M162.3 192.4h0.8M165.8 180.5h0.8M165.3 180.2h0.8M168.5 188.5h0.8M165.9 178.6h0.8M165.8 184.2h0.8M166.4 191.0h0.8M164.9 185.8h0.8M166.3 183.6h0.8M167.9 182.6h0.8M167.9 181.7h0.8M163.5 183.1h0.8M159.5 186.4h0.8M162.6 191.5h0.8M166.2 190.2h0.8M157.1 183.2h0.8M163.7 182.5h0.8M166.8 189.0h0.8M163.4 177.5h0.8M161.6 183.8h0.8M171.1 184.3h0.8M169.9 180.7h0.8M164.5 181.3h0.8M169.7 187.4h0.8M169.6 178.3h0.8M161.6 181.6h0.8M174.1 182.8h0.8M162.2 186.1h0.8M164.4 179.5h0.8M161.7 190.7h0.8M165.5 184.4h0.8M161.0 184.6h0.8M165.3 184.1h0.8M168.9 182.7h0.8M166.0 181.3h0.8M164.4 190.9h0.8M170.4 186.7h0.8M162.3 185.2h0.8M168.5 190.2h0.8M164.3 182.5h0.8M166.0 188.6h0.8M165.4 185.8h0.8M165.7 181.7h0.8M165.1 189.2h0.8M162.7 178.9h0.8M163.4 188.7h0.8M166.7 181.7h0.8M164.9 187.5h0.8M161.4 191.9h0.8M162.9 188.3h0.8M163.0 183.0h0.8M165.1 185.5h0.8M165.8 184.0h0.8M165.5 180.4h0.8M163.1 180.7h0.8M165.3 185.9h0.8M160.7 188.1h0.8M155.7 177.7h0.8M165.1 185.3h0.8M159.8 187.9h0.8M162.1 186.1h0.8M161.2 181.1h0.8M167.3 190.3h0.8M161.2 180.1h0.8M166.1 188.6h0.8M163.6 192.9h0.8M161.1 176.4h0.8M160.0 186.8h0.8M166.7 187.0h0.8M166.5 186.6h0.8M167.7 182.1h0.8M171.2 184.2h0.8M166.1 179.3h0.8M166.1 186.2h0.8M164.8 188.0h0.8M165.5 182.6h0.8M164.0 181.4h0.8M162.2 183.5h0.8M171.7 185.5h0.8M159.0 185.9h0.8M166.0 185.1h0.8M166.6 185.9h0.8M165.6 179.7h0.8M162.0 173.2h0.8M164.5 188.4h0.8M163.6 192.0h0.8M161.6 179.2h0.8M165.0 182.6h0.8M163.8 186.9h0.8M163.3 189.9h0.8M167.4 188.5h0.8M161.6 191.3h0.8M166.6 185.3h0.8M163.1 187.4h0.8M166.5 187.4h0.8M165.3 183.6h0.8M165.9 191.0h0.8M161.9 188.4h0.8M162.5 190.0h0.8M162.3 183.8h0.8M165.7 190.2h0.8M167.6 180.8h0.8M168.6 187.3h0.8M163.4 173.8h0.8M165.4 181.0h0.8M159.8 188.9h0.8M157.8 183.5h0.8M162.2 186.3h0.8M162.9 178.2h0.8M160.0 192.5h0.8M159.2 188.2h0.8M166.8 185.4h0.8M162.4 187.4h0.8M159.5 187.0h0.8M172.7 191.9h0.8M165.6 186.5h0.8M164.0 178.9h0.8M167.3 184.4h0.8M162.5 191.3h0.8M170.3 188.1h0.8M160.0 183.6h0.8M160.7 188.3h0.8M164.6 186.1h0.8M162.5 188.3h0.8M169.7 178.4h0.8M159.8 181.5h0.8M162.6 188.5h0.8M165.8 184.5h0.8M166.9 187.1h0.8M168.3 194.4h0.8M166.1 184.1h0.8M172.3 186.6h0.8M163.4 183.0h0.8M165.6 182.7h0.8M167.8 185.2h0.8M164.0 179.0h0.8M164.0 176.1h0.8M163.5 191.7h0.8M162.9 185.1h0.8M161.3 190.6h0.8M163.2 186.1h0.8M159.9 186.2h0.8M166.2 188.6h0.8M159.7 188.8h0.8M171.8 180.1h0.8M170.6 191.0h0.8M168.6 181.2h0.8M164.3 186.5h0.8M163.0 197.0h0.8M169.0 185.9h0.8M165.6 193.0h0.8M166.8 184.0h0.8M162.6 188.3h0.8M168.5 185.8h0.8M162.3 187.4h0.8M165.3 181.7h0.8M159.3 181.4h0.8M162.8 187.1h0.8M166.6 178.5h0.8M163.5 181.8h0.8M163.5 188.4h0.8M167.5 182.8h0.8M164.7 181.6h0.8M169.0 180.6h0.8M157.0 186.2h0.8M166.8 183.9h0.8M166.6 186.2h0.8M159.9 184.7h0.8M160.7 193.9h0.8M167.8 183.6h0.8M161.4 176.8h0.8M162.8 186.1h0.8M166.9 185.6h0.8M163.8 186.3h0.8M166.5 178.3h0.8M162.1 190.6h0.8M165.9 185.4h0.8M168.5 185.4h0.8M166.0 178.4h0.8M157.7 187.7h0.8M167.1 185.3h0.8M165.1 191.6h0.8M161.9 183.7h0.8M169.5 180.0h0.8M159.2 186.1h0.8M171.1 181.5h0.8M162.8 187.4h0.8M170.1 180.7h0.8M164.8 185.0h0.8M160.6 184.5h0.8M165.2 185.4h0.8M166.0 183.2h0.8M166.7 181.9h0.8M168.4 185.3h0.8M162.0 183.0h0.8M166.5 186.2h0.8M167.3 184.3h0.8M164.0 175.5h0.8M161.8 185.3h0.8M161.8 191.8h0.8M167.4 186.9h0.8M167.5 188.2h0.8M162.2 187.6h0.8M160.5 183.5h0.8M169.0 179.6h0.8M159.8 189.2h0.8M165.4 190.3h0.8M162.3 188.1h0.8M159.2 187.4h0.8M165.3 187.3h0.8M164.3 185.4h0.8M169.6 186.8h0.8M172.4 185.6h0.8M164.3 187.0h0.8M168.3 181.3h0.8M168.3 182.7h0.8M163.2 188.1h0.8M162.1 184.0h0.8M170.2 174.8h0.8M163.7 186.1h0.8M164.8 175.4h0.8M164.0 194.0h0.8M164.5 188.8h0.8M162.9 188.5h0.8M167.4 182.6h0.8M169.0 180.6h0.8M163.7 184.6h0.8M160.4 185.6h0.8M165.1 182.1h0.8M160.0 186.3h0.8M162.8 188.6h0.8M169.0 188.2h0.8M172.5 181.0h0.8M166.1 176.0h0.8M161.4 185.6h0.8M167.5 182.7h0.8M157.5 187.5h0.8M162.6 192.8h0.8M169.9 192.8h0.8M167.4 186.8h0.8M160.4 190.5h0.8M159.5 192.8h0.8M167.7 185.8h0.8M164.8 186.8h0.8M163.0 189.4h0.8M166.3 185.4h0.8M163.0 183.4h0.8M158.6 182.3h0.8M167.6 185.6h0.8M162.8 182.9h0.8M161.6 189.1h0.8M160.5 184.1h0.8M165.7 192.1h0.8M162.3 190.9h0.8M167.0 180.2h0.8M164.0 190.4h0.8M168.5 183.8h0.8M163.6 191.7h0.8M162.8 187.9h0.8M158.4 185.4h0.8M161.3 188.6h0.8M167.3 183.2h0.8M174.9 187.1h0.8M160.8 187.3h0.8M161.5 185.0h0.8M166.0 187.3h0.8M166.5 181.3h0.8M162.7 188.1h0.8M165.2 180.3h0.8M159.6 188.4h0.8M163.9 187.7h0.8M167.9 188.8h0.8M170.3 183.2h0.8M164.4 199.0h0.8M164.1 184.7h0.8M166.4 186.4h0.8M168.6 182.4h0.8M166.5 192.0h0.8M162.5 183.6h0.8M166.1 190.1h0.8M168.1 181.6h0.8M162.6 187.1h0.8M160.5 184.1h0.8M166.6 189.8h0.8M166.1 184.5h0.8M168.1 182.0h0.8M165.2 187.7h0.8M162.8 180.5h0.8M163.5 181.6h0.8M161.5 189.1h0.8M161.8 177.6h0.8M163.1 189.1h0.8M163.3 184.0h0.8M168.6 181.8h0.8M160.9 186.8h0.8M164.8 188.5h0.8M163.0 183.2h0.8M169.8 185.0h0.8M165.8 189.3h0.8M163.7 189.1h0.8M167.6 185.6h0.8M165.2 182.4h0.8M163.4 181.7h0.8M170.0 183.2h0.8M167.3 188.8h0.8M170.6 188.3h0.8M168.7 187.1h0.8M167.5 191.9h0.8M165.4 184.5h0.8M161.4 184.2h0.8M167.3 184.1h0.8M165.2 194.1h0.8M167.2 176.9h0.8M164.9 187.1h0.8M162.7 187.8h0.8M161.6 186.1h0.8M167.2 196.0h0.8M169.2 190.9h0.8M164.0 189.2h0.8M166.4 182.0h0.8M169.5 188.0h0.8M162.2 184.2h0.8M163.8 186.1h0.8M161.3 186.7h0.8M168.8 183.8h0.8M165.8 188.6h0.8M163.4 193.0h0.8M159.5 190.4h0.8M164.4 186.8h0.8M168.2 177.5h0.8M164.0 190.6h0.8M163.6 190.6h0.8M167.1 185.1h0.8M160.9 183.8h0.8M165.1 188.8h0.8M166.9 182.4h0.8M162.4 189.4h0.8M162.3 181.2h0.8M165.8 181.9h0.8M164.6 186.0h0.8M164.2 179.6h0.8M165.7 185.9h0.8M165.7 188.2h0.8M161.9 180.2h0.8M162.8 189.9h0.8M166.4 183.5h0.8M168.6 188.3h0.8M169.4 186.9h0.8M162.2 184.0h0.8M168.6 183.7h0.8M167.5 178.6h0.8M164.9 182.9h0.8M166.6 182.6h0.8M167.7 193.1h0.8M170.8 190.4h0.8M161.5 180.0h0.8M167.0 189.4h0.8M164.5 186.9h0.8M164.3 184.3h0.8M168.7 188.0h0.8M167.7 189.4h0.8M161.7 183.5h0.8M164.1 184.8h0.8M165.7 186.7h0.8M160.4 181.7h0.8M167.8 186.8h0.8M164.7 185.6h0.8M165.5 183.0h0.8M166.1 182.3h0.8M170.9 187.3h0.8M165.1 189.8h0.8M163.8 187.4h0.8M170.7 182.3h0.8M163.4 189.2h0.8M163.3 186.7h0.8M160.5 188.5h0.8M168.5 191.0h0.8M165.9 182.1h0.8M166.5 185.4h0.8M165.5 183.4h0.8M164.6 182.2h0.8M162.4 194.6h0.8M162.5 190.0h0.8M166.4 178.4h0.8M165.4 187.8h0.8M170.3 183.6h0.8M162.5 190.9h0.8M163.4 186.3h0.8M161.7 185.2h0.8M169.5 186.6h0.8M161.0 187.6h0.8M167.5 186.1h0.8M169.7 185.0h0.8M164.5 185.4h0.8M167.4 188.2h0.8M158.1 181.1h0.8M163.7 186.0h0.8M159.6 185.5h0.8M165.6 183.9h0.8M165.0 189.2h0.8M162.5 180.4h0.8M168.1 184.4h0.8M166.2 182.3h0.8M163.3 188.3h0.8M163.3 184.0h0.8M160.2 186.2h0.8M164.4 187.6h0.8M171.9 179.1h0.8M162.7 187.9h0.8M166.4 182.8h0.8M163.2 184.9h0.8M167.6 185.5h0.8M166.5 189.5h0.8M164.3 189.2h0.8M159.2 193.6h0.8M163.3 186.8h0.8M168.9 184.0h0.8M164.2 183.8h0.8M167.1 188.8h0.8M163.4 192.9h0.8M158.9 187.5h0.8M166.4 183.5h0.8M166.1 187.2h0.8M163.1 187.1h0.8M163.8 186.1h0.8M166.0 182.8h0.8M163.1 175.1h0.8M166.1 183.7h0.8M164.4 190.5h0.8M157.3 186.9h0.8M164.5 176.5h0.8M163.1 186.0h0.8M162.3 178.1h0.8M166.3 194.5h0.8M163.4 186.8h0.8M166.8 180.8h0.8M168.6 189.4h0.8M165.5 182.6h0.8M160.0 188.4h0.8M162.6 186.1h0.8M168.0 180.9h0.8M164.2 188.9h0.8M162.4 180.2h0.8M164.7 191.8h0.8M166.7 186.3h0.8M165.9 181.6h0.8M167.1 178.2h0.8M162.3 192.9h0.8M164.1 192.2h0.8M164.2 180.6h0.8M165.0 193.1h0.8M158.2 186.7h0.8M164.3 185.0h0.8M160.7 185.6h0.8M169.6 184.8h0.8M170.1 192.1h0.8M170.5 186.6h0.8M167.7 178.1h0.8M163.5 195.0h0.8M168.2 189.8h0.8M164.4 181.3h0.8M167.0 184.5h0.8M162.1 182.1h0.8M163.1 186.2h0.8M166.6 187.7h0.8M170.8 187.0h0.8M165.0 183.4h0.8M172.4 182.6h0.8M174.0 189.6h0.8M160.9 185.6h0.8M165.0 195.7h0.8M161.9 182.5h0.8M164.6 189.4h0.8M163.3 186.2h0.8M164.8 182.7h0.8M168.2 191.9h0.8M168.1 186.5h0.8M165.9 182.2h0.8M165.1 184.6h0.8M165.4 190.4h0.8M165.5 180.7h0.8M166.9 191.9h0.8M165.1 188.9h0.8M166.7 184.8h0.8M160.8 191.8h0.8M167.6 193.5h0.8M170.8 188.6h0.8M165.6 186.7h0.8M160.4 193.9h0.8M169.5 192.4h0.8M164.0 182.0h0.8M155.3 185.1h0.8M164.3 185.1h0.8M167.0 184.2h0.8M166.3 179.6h0.8M169.1 189.9h0.8M167.1 186.4h0.8M165.5 186.4h0.8M158.6 192.1h0.8M161.4 183.6h0.8M165.6 185.8h0.8M167.3 187.2h0.8M161.7 184.1h0.8M163.1 185.5h0.8M166.6 189.3h0.8M158.8 186.0h0.8M158.7 191.7h0.8M164.3 182.8h0.8M165.9 186.9h0.8M163.5 179.8h0.8M157.6 185.5h0.8M165.1 183.0h0.8M160.7 191.9h0.8M167.2 189.2h0.8M164.7 188.2h0.8M165.9 194.0h0.8M167.2 192.2h0.8M163.3 189.1h0.8M167.8 183.0h0.8M169.1 179.7h0.8M166.4 185.9h0.8M169.4 184.5h0.8M163.0 183.2h0.8M168.1 184.7h0.8M165.9 178.8h0.8M161.8 192.5h0.8M164.8 181.1h0.8M163.3 183.1h0.8M163.3 188.5h0.8M165.3 178.9h0.8M168.5 190.0h0.8M164.0 190.1h0.8M165.5 184.6h0.8M160.3 181.3h0.8M165.4 183.9h0.8M168.8 178.0h0.8M167.7 192.0h0.8M166.6 186.2h0.8M163.3 182.8h0.8M161.9 182.1h0.8M164.8 188.5h0.8M160.7 192.5h0.8M161.0 180.5h0.8M168.1 183.5h0.8M162.1 178.4h0.8M170.9 188.9h0.8M160.4 186.7h0.8M166.5 195.8h0.8M161.2 185.5h0.8M165.6 184.1h0.8M161.7 182.9h0.8M165.2 189.7h0.8M164.6 178.9h0.8M163.6 189.3h0.8M166.7 187.1h0.8M170.0 183.8h0.8M163.1 182.1h0.8M168.0 190.6h0.8M165.3 194.1h0.8M165.0 184.1h0.8M172.2 188.3h0.8M158.0 193.6h0.8M162.8 183.3h0.8M159.1 184.9h0.8M164.0 180.7h0.8M164.3 185.4h0.8M177.5 185.6h0.8M166.2 184.2h0.8M170.9 182.8h0.8M169.3 179.1h0.8M163.6 180.1h0.8M166.6 181.7h0.8M170.5 188.8h0.8M165.6 183.8h0.8M165.7 182.3h0.8M166.7 188.9h0.8M160.1 188.5h0.8M162.4 182.7h0.8M166.2 183.3h0.8M166.8 188.9h0.8M162.1 187.6h0.8M164.0 182.3h0.8M164.7 187.1h0.8M164.6 185.9h0.8M167.3 190.9h0.8M165.4 182.2h0.8M165.6 189.9h0.8M160.4 187.9h0.8M161.6 181.6h0.8M166.1 190.6h0.8M159.8 190.0h0.8M165.9 180.2h0.8M162.9 194.7h0.8M162.4 181.0h0.8M167.2 182.0h0.8M162.8 184.6h0.8M162.2 189.4h0.8M162.8 188.6h0.8M165.2 185.6h0.8M174.0 192.0h0.8M158.1 187.8h0.8M165.0 192.1h0.8M164.3 198.4h0.8M168.2 186.9h0.8M163.8 174.7h0.8M156.9 184.0h0.8M169.4 181.3h0.8M161.5 186.4h0.8M164.8 186.4h0.8M160.6 180.6h0.8M161.4 180.9h0.8M163.4 184.8h0.8M167.8 185.1h0.8M167.8 174.5h0.8M163.1 190.3h0.8M166.7 186.1h0.8M163.8 186.0h0.8M165.4 187.3h0.8M165.5 181.5h0.8M167.1 185.8h0.8M163.0 190.6h0.8M164.6 190.8h0.8M165.7 188.0h0.8M165.3 184.8h0.8M162.4 182.4h0.8M170.7 191.9h0.8M163.5 188.3h0.8M167.5 184.1h0.8M165.7 176.3h0.8M169.0 182.1h0.8M157.8 177.4h0.8M171.7 191.6h0.8M164.3 186.8h0.8M161.0 182.7h0.8M165.4 184.8h0.8M172.4 197.6h0.8M166.7 191.4h0.8M161.0 180.0h0.8M163.5 185.4h0.8M169.4 180.5h0.8M160.4 178.3h0.8M164.4 186.8h0.8M164.0 196.8h0.8M172.1 193.0h0.8M164.0 186.2h0.8M169.3 184.3h0.8M162.8 186.9h0.8M162.4 190.7h0.8M168.3 179.4h0.8M167.0 177.6h0.8M159.3 194.5h0.8M167.1 187.3h0.8M167.1 193.3h0.8M163.0 187.1h0.8M165.7 192.7h0.8M165.9 183.2h0.8M163.4 188.3h0.8M163.1 193.0h0.8M162.8 190.6h0.8M164.1 183.9h0.8M160.6 190.1h0.8M164.9 183.0h0.8M160.1 179.5h0.8M165.2 188.4h0.8M164.7 192.4h0.8M161.6 189.9h0.8M167.8 180.3h0.8M171.3 189.9h0.8M169.3 189.1h0.8M160.5 183.9h0.8M169.2 174.7h0.8M165.7 190.6h0.8M164.8 190.0h0.8M163.0 188.3h0.8M165.0 178.1h0.8M169.5 179.2h0.8M166.8 190.6h0.8M163.6 189.7h0.8M162.8 188.3h0.8M163.6 184.9h0.8M166.9 187.8h0.8M171.1 183.5h0.8M161.5 184.6h0.8M165.0 182.0h0.8M163.7 187.2h0.8M162.5 184.1h0.8M166.3 190.4h0.8M166.8 189.3h0.8M160.3 182.3h0.8M161.6 194.4h0.8M168.9 180.9h0.8M166.0 188.1h0.8M166.7 191.0h0.8M163.3 191.9h0.8M163.7 175.9h0.8M166.5 190.6h0.8M163.4 191.6h0.8M161.4 192.6h0.8M165.0 175.8h0.8M167.9 182.9h0.8M161.6 185.5h0.8M168.4 184.0h0.8M167.3 192.2h0.8M162.2 182.9h0.8M165.0 191.6h0.8M164.9 188.6h0.8M167.1 179.3h0.8M167.2 181.4h0.8" stroke="#000" stroke-width="0.8" fill="none" filter="url(#bl)"/>
<path d="M162.7 169.9h0.7M164.6 169.7h0.7M167.6 166.9h0.7M163.6 167.8h0.7M167.3 171.8h0.7M158.9 173.1h0.7M153.9 173.5h0.7M163.1 175.4h0.7M165.8 176.4h0.7M163.0 160.6h0.7M160.8 167.4h0.7M165.7 169.3h0.7M170.8 166.7h0.7M163.9 175.7h0.7M161.8 174.1h0.7M161.4 169.6h0.7M170.9 170.8h0.7M164.1 176.8h0.7M166.3 168.3h0.7M168.4 168.5h0.7M167.9 174.9h0.7M161.1 172.6h0.7M167.5 177.6h0.7M167.1 172.1h0.7M165.9 174.1h0.7M167.7 167.3h0.7M162.3 165.2h0.7M164.0 170.1h0.7M162.5 156.2h0.7M166.8 172.3h0.7M162.0 175.3h0.7M165.6 170.5h0.7M160.5 169.0h0.7M163.8 175.9h0.7M163.0 169.9h0.7M163.9 175.3h0.7M164.7 181.7h0.7M163.6 174.0h0.7M163.5 175.1h0.7M157.2 172.7h0.7M168.0 171.5h0.7M162.1 171.6h0.7M163.4 170.5h0.7M161.4 175.9h0.7M167.6 161.7h0.7M161.2 168.7h0.7M166.0 173.6h0.7M168.3 165.7h0.7M169.8 169.6h0.7M168.3 166.5h0.7M166.4 172.5h0.7M160.2 174.7h0.7M168.6 177.8h0.7M168.3 172.8h0.7M167.1 166.4h0.7M167.0 171.5h0.7M164.5 173.1h0.7M162.5 177.6h0.7M167.9 158.9h0.7M168.6 172.1h0.7M160.7 160.5h0.7M167.4 173.9h0.7M165.1 172.5h0.7M167.3 172.8h0.7M165.2 174.8h0.7M168.0 172.2h0.7M167.8 166.7h0.7M167.3 172.0h0.7M159.6 176.5h0.7M167.1 169.5h0.7M164.5 170.3h0.7M160.5 163.8h0.7M166.7 176.2h0.7M159.7 167.5h0.7M167.3 166.2h0.7M170.0 167.8h0.7M162.6 165.6h0.7M167.4 168.8h0.7M165.8 176.8h0.7M166.5 174.3h0.7M159.7 177.6h0.7M166.4 178.0h0.7M164.8 165.4h0.7M166.8 172.7h0.7M164.3 178.0h0.7M168.0 182.2h0.7M165.3 162.7h0.7M166.6 162.7h0.7M168.9 172.6h0.7M164.9 168.4h0.7M167.7 164.9h0.7M165.1 172.1h0.7M166.1 166.0h0.7M162.6 158.2h0.7M167.0 170.0h0.7M168.5 170.8h0.7M164.1 173.5h0.7M167.0 175.1h0.7M165.8 171.1h0.7M160.6 168.9h0.7M165.5 166.6h0.7M168.8 161.5h0.7M162.7 167.8h0.7M158.4 175.4h0.7M165.0 173.5h0.7M162.2 180.9h0.7M170.7 169.3h0.7M164.2 160.8h0.7M164.3 174.5h0.7M162.3 175.6h0.7M165.2 164.0h0.7M162.5 161.6h0.7M161.3 170.9h0.7M164.2 173.9h0.7M161.7 164.2h0.7M168.8 168.3h0.7M160.5 166.0h0.7M164.1 163.9h0.7M162.1 163.2h0.7M159.8 170.8h0.7M169.9 168.2h0.7M157.3 166.6h0.7M169.2 156.4h0.7M159.7 179.3h0.7M164.7 165.1h0.7M171.9 169.4h0.7M157.3 164.1h0.7M159.8 172.1h0.7M168.7 162.2h0.7M164.9 170.6h0.7M162.5 169.1h0.7M164.3 174.9h0.7M161.2 164.3h0.7M164.8 166.7h0.7M169.4 168.8h0.7M163.1 181.1h0.7M164.8 162.3h0.7M168.4 171.6h0.7M171.0 166.6h0.7M162.4 171.7h0.7M165.4 173.5h0.7M162.5 170.8h0.7M162.2 171.4h0.7M163.0 171.5h0.7M162.3 167.0h0.7M158.6 168.9h0.7M157.7 161.4h0.7M161.9 168.2h0.7M164.8 166.0h0.7M168.4 168.7h0.7M162.6 173.9h0.7M163.8 172.1h0.7M166.6 172.5h0.7M166.8 175.8h0.7M164.0 157.5h0.7M164.2 172.3h0.7M170.6 169.9h0.7M163.3 169.5h0.7M162.7 163.2h0.7M159.0 172.9h0.7M165.8 176.1h0.7M163.5 175.4h0.7M170.7 169.6h0.7M163.3 173.4h0.7M167.1 174.9h0.7M167.5 179.6h0.7M169.9 176.5h0.7M160.0 170.8h0.7M169.6 170.5h0.7M164.4 170.9h0.7M164.0 171.2h0.7M163.3 167.4h0.7M163.1 174.1h0.7M163.2 166.4h0.7M156.6 165.8h0.7M166.1 171.9h0.7M164.6 167.0h0.7M161.2 168.7h0.7M164.2 159.1h0.7M172.0 174.2h0.7M165.6 170.0h0.7M163.1 169.4h0.7M170.1 172.5h0.7M161.7 171.1h0.7M163.9 166.3h0.7M162.5 180.5h0.7M163.6 167.7h0.7M166.8 175.1h0.7M166.3 179.6h0.7M161.9 166.8h0.7M163.9 170.5h0.7M164.6 165.7h0.7M163.0 175.5h0.7M164.2 168.3h0.7M162.0 164.2h0.7M161.9 176.9h0.7M164.5 174.8h0.7M160.9 165.4h0.7M165.7 176.2h0.7M163.7 171.0h0.7M161.3 184.3h0.7M162.3 179.0h0.7M162.8 167.1h0.7M163.8 168.6h0.7M164.7 165.4h0.7M163.7 170.7h0.7M161.5 170.3h0.7M169.1 173.9h0.7M167.4 170.5h0.7M164.7 162.3h0.7M167.5 165.7h0.7M165.4 177.4h0.7M163.5 176.1h0.7M164.6 169.2h0.7M173.2 169.3h0.7M167.6 169.1h0.7M167.8 170.1h0.7M163.0 161.2h0.7M166.3 174.7h0.7M171.8 166.5h0.7M165.8 170.8h0.7M167.9 156.7h0.7M168.5 171.2h0.7M166.5 177.0h0.7M169.6 158.3h0.7M165.1 178.0h0.7M166.0 172.5h0.7M162.3 166.2h0.7M173.1 161.7h0.7M165.4 176.1h0.7M164.7 171.4h0.7M168.9 173.1h0.7M162.7 168.6h0.7M164.3 165.8h0.7M161.8 174.6h0.7M164.4 165.0h0.7M163.1 174.7h0.7M166.1 161.2h0.7M163.9 165.1h0.7M162.4 162.4h0.7M163.4 176.9h0.7M164.0 160.8h0.7M162.7 164.0h0.7M167.4 173.5h0.7M166.6 171.2h0.7M164.8 181.5h0.7M160.4 179.7h0.7M166.0 173.2h0.7M160.1 173.6h0.7M165.0 160.4h0.7M164.5 165.4h0.7M162.4 168.3h0.7M161.6 169.1h0.7M162.1 162.8h0.7M171.1 165.1h0.7M163.5 165.5h0.7M163.7 175.6h0.7M167.5 172.2h0.7M165.7 168.3h0.7M167.8 168.5h0.7M160.3 171.5h0.7M160.8 166.3h0.7M175.3 168.6h0.7M164.2 160.9h0.7M163.4 173.5h0.7M164.9 175.1h0.7M167.6 171.9h0.7M160.4 172.5h0.7M165.3 171.9h0.7M164.2 180.7h0.7M166.5 171.1h0.7M164.9 163.0h0.7M162.6 164.5h0.7M161.5 173.7h0.7M156.4 175.6h0.7M167.6 174.1h0.7M159.5 174.4h0.7M163.0 171.0h0.7M169.8 162.2h0.7M163.0 166.3h0.7M166.3 160.5h0.7M163.6 168.0h0.7M166.6 162.8h0.7M164.4 170.5h0.7M162.7 169.1h0.7M168.8 159.7h0.7M163.5 173.8h0.7M160.0 174.0h0.7M163.3 162.7h0.7M166.1 170.7h0.7M160.7 173.8h0.7M166.9 168.4h0.7M166.8 174.5h0.7M171.3 171.0h0.7M162.2 175.6h0.7M166.5 170.9h0.7M158.9 169.1h0.7M163.0 172.7h0.7M164.7 174.1h0.7M165.7 171.3h0.7" stroke="#111" stroke-width="0.7" fill="none" filter="url(#bl)"/>
<path d="M163.8 174.6h0.6M161.7 177.5h0.6M164.3 167.8h0.6M163.1 165.8h0.6M167.9 178.6h0.6M167.7 163.1h0.6M166.1 188.1h0.6M166.6 190.9h0.6M167.7 145.3h0.6M176.4 164.2h0.6M174.1 182.4h0.6M163.0 181.8h0.6M169.3 180.8h0.6M164.6 183.9h0.6M166.0 187.2h0.6M165.1 188.4h0.6M162.7 197.6h0.6M158.1 180.0h0.6M151.2 188.4h0.6M167.9 163.5h0.6M174.0 178.4h0.6M160.9 167.5h0.6M169.8 193.7h0.6M164.2 203.1h0.6M168.3 185.2h0.6M161.5 166.7h0.6M165.1 178.6h0.6M165.9 180.0h0.6M151.7 181.7h0.6M167.9 190.6h0.6M165.7 189.3h0.6M151.0 153.3h0.6M170.7 193.4h0.6M166.4 174.8h0.6M167.9 174.2h0.6M168.8 193.9h0.6M164.0 177.1h0.6M159.8 166.1h0.6M163.8 166.5h0.6M163.9 180.3h0.6M180.5 188.8h0.6M178.1 194.8h0.6M163.5 178.1h0.6M164.0 175.1h0.6M168.6 196.0h0.6M170.1 175.2h0.6M162.2 194.3h0.6M160.3 182.1h0.6M178.7 182.1h0.6M173.2 177.4h0.6M156.8 182.7h0.6M155.4 175.1h0.6M161.3 173.0h0.6M167.9 178.4h0.6M170.0 173.3h0.6M164.4 182.8h0.6M156.4 180.6h0.6M167.9 177.1h0.6M170.3 177.8h0.6M166.5 177.5h0.6M163.4 197.2h0.6M170.1 179.7h0.6M166.2 173.8h0.6M159.4 176.8h0.6M167.1 186.4h0.6M158.3 177.8h0.6M172.6 178.3h0.6M169.5 177.2h0.6M160.2 181.4h0.6M167.8 183.7h0.6M174.4 184.2h0.6M153.0 163.4h0.6M165.6 169.1h0.6M176.9 153.5h0.6M156.7 187.8h0.6M165.4 190.8h0.6M157.5 192.8h0.6M166.1 181.2h0.6M151.3 191.2h0.6M156.2 179.4h0.6M163.1 178.6h0.6M167.4 164.4h0.6M168.9 171.9h0.6M169.2 173.8h0.6M173.8 188.9h0.6M170.9 196.3h0.6M171.2 175.1h0.6M160.3 183.5h0.6M165.5 182.5h0.6M186.7 172.0h0.6M180.9 162.6h0.6M171.8 172.2h0.6M171.2 165.4h0.6M172.8 176.6h0.6M163.9 178.3h0.6M179.0 177.9h0.6M164.1 178.1h0.6M166.0 184.6h0.6M180.4 170.4h0.6M153.3 188.6h0.6M168.8 163.0h0.6M155.5 180.4h0.6M162.3 183.6h0.6M165.9 171.8h0.6M164.3 163.8h0.6M167.6 186.1h0.6M161.6 173.0h0.6M165.8 187.5h0.6M158.9 187.4h0.6M164.0 179.7h0.6M157.6 179.7h0.6M170.7 189.6h0.6M158.2 183.5h0.6M170.9 170.4h0.6M163.9 181.4h0.6M164.6 185.3h0.6M174.1 181.7h0.6M167.2 181.6h0.6M154.4 178.3h0.6M169.7 178.5h0.6M147.9 170.4h0.6M168.2 165.5h0.6M163.9 190.9h0.6M157.5 173.4h0.6M167.0 181.9h0.6M164.5 164.8h0.6M179.4 181.3h0.6M163.7 171.5h0.6M175.4 169.6h0.6M162.6 170.1h0.6M161.3 189.1h0.6M175.0 191.0h0.6M165.6 158.8h0.6M167.5 182.3h0.6M164.9 188.5h0.6M158.7 167.5h0.6M164.1 186.5h0.6M160.3 174.5h0.6M156.6 169.8h0.6M164.6 176.2h0.6M178.0 175.1h0.6M176.9 165.9h0.6M166.1 202.0h0.6M167.4 175.2h0.6M169.8 172.3h0.6M175.3 188.2h0.6M168.6 179.0h0.6M163.4 193.0h0.6M164.0 177.1h0.6M173.8 183.2h0.6M183.3 180.6h0.6M162.5 181.4h0.6M153.3 177.6h0.6M171.7 178.7h0.6M166.0 196.4h0.6M167.4 173.0h0.6M174.5 174.3h0.6M166.9 176.3h0.6M157.9 185.4h0.6M153.8 183.7h0.6M166.2 189.0h0.6M159.0 166.4h0.6M168.4 182.3h0.6M158.3 178.0h0.6M164.2 176.9h0.6M157.0 181.3h0.6M164.2 160.2h0.6M163.6 182.4h0.6M170.4 181.1h0.6M175.2 165.5h0.6M165.3 178.8h0.6M160.9 195.1h0.6M179.2 175.9h0.6M168.9 185.6h0.6M170.5 177.5h0.6M170.5 171.7h0.6M175.9 170.6h0.6M173.1 175.8h0.6M170.9 192.6h0.6M171.5 187.8h0.6M161.0 172.7h0.6M162.6 189.6h0.6M165.8 178.4h0.6M167.1 172.9h0.6M166.6 184.0h0.6M168.5 170.7h0.6M166.7 164.2h0.6M163.8 192.5h0.6M156.0 161.6h0.6M172.0 185.1h0.6M170.3 164.6h0.6M160.8 179.4h0.6M169.8 177.8h0.6M169.1 175.4h0.6M167.0 158.1h0.6M154.6 178.6h0.6M158.7 179.4h0.6M162.6 170.8h0.6M177.0 179.1h0.6M161.0 189.5h0.6M164.3 172.6h0.6M159.3 182.3h0.6M163.3 168.4h0.6M168.8 183.5h0.6M153.1 186.1h0.6M148.1 204.2h0.6M170.8 188.7h0.6M166.8 184.0h0.6M162.6 193.7h0.6M172.8 169.9h0.6M172.8 190.3h0.6M152.9 174.4h0.6M165.4 173.6h0.6M173.7 190.6h0.6M162.2 182.1h0.6M164.5 192.8h0.6M172.7 165.5h0.6M164.8 182.4h0.6M158.8 174.6h0.6M162.1 177.1h0.6M157.9 161.0h0.6M170.1 189.0h0.6M155.3 181.8h0.6M173.0 170.1h0.6M155.8 166.5h0.6M166.8 171.2h0.6M157.0 193.6h0.6M164.5 178.8h0.6M173.2 176.5h0.6M173.8 184.7h0.6M175.0 179.9h0.6M166.0 182.1h0.6M167.2 187.1h0.6M168.0 183.1h0.6M170.5 188.5h0.6M163.9 168.1h0.6M173.7 180.5h0.6M168.6 176.4h0.6M174.0 180.9h0.6M169.6 179.5h0.6M170.9 173.6h0.6M161.8 176.4h0.6M163.8 189.2h0.6M158.1 174.5h0.6M164.6 167.7h0.6M165.4 185.7h0.6M172.0 189.4h0.6M158.3 177.3h0.6M187.5 181.2h0.6M165.7 171.7h0.6M174.7 177.9h0.6M173.3 190.8h0.6M150.1 187.8h0.6M164.8 181.4h0.6M176.1 177.2h0.6M150.8 164.0h0.6M171.5 183.0h0.6M160.6 184.4h0.6M163.5 190.3h0.6M168.0 199.7h0.6M154.4 183.7h0.6M167.8 189.3h0.6M162.3 169.0h0.6M161.7 191.8h0.6M171.1 188.5h0.6M189.3 193.3h0.6M168.8 186.6h0.6M170.1 184.4h0.6M166.2 194.5h0.6M161.8 173.5h0.6M168.2 186.3h0.6M176.4 190.6h0.6M167.7 172.3h0.6M172.3 168.8h0.6M165.0 184.3h0.6M182.9 181.3h0.6M155.8 186.0h0.6M170.3 186.3h0.6M170.0 172.6h0.6M168.2 183.4h0.6M159.2 191.1h0.6M159.1 176.6h0.6M165.0 177.3h0.6M167.1 169.1h0.6M158.6 188.1h0.6M159.6 199.1h0.6M170.1 166.7h0.6M173.2 187.5h0.6M162.8 188.9h0.6M161.9 174.7h0.6M161.8 176.5h0.6M182.6 169.9h0.6M169.7 172.5h0.6M166.0 181.7h0.6M173.0 186.5h0.6M181.4 181.3h0.6M174.1 188.5h0.6M157.2 182.1h0.6M165.9 168.8h0.6M163.8 194.3h0.6M164.2 191.7h0.6M158.5 173.2h0.6M163.9 197.4h0.6M159.4 184.7h0.6M168.7 181.5h0.6M166.7 198.9h0.6M157.2 155.8h0.6M155.3 164.5h0.6M163.3 187.1h0.6M170.7 177.8h0.6M169.7 171.0h0.6M166.0 194.9h0.6M144.9 185.0h0.6M163.2 167.8h0.6M161.6 173.8h0.6M164.3 188.5h0.6M158.5 197.6h0.6M163.6 160.7h0.6M162.1 182.7h0.6M184.1 176.5h0.6M171.0 163.2h0.6M165.2 178.6h0.6M166.1 164.6h0.6M165.7 175.0h0.6M167.7 196.0h0.6M163.8 185.3h0.6M166.3 187.9h0.6M173.1 186.1h0.6M171.9 183.7h0.6M168.5 189.8h0.6M175.1 168.9h0.6M167.9 176.8h0.6M160.0 188.6h0.6M155.0 173.2h0.6M161.9 176.0h0.6M166.0 192.1h0.6M169.0 195.3h0.6M173.5 174.4h0.6M162.7 172.4h0.6M161.2 186.0h0.6M171.5 183.0h0.6M174.1 173.8h0.6M163.3 186.2h0.6M168.6 185.8h0.6M175.4 181.2h0.6M166.1 193.6h0.6M152.9 188.3h0.6M175.1 190.4h0.6M167.3 191.1h0.6M163.4 173.4h0.6M158.3 183.5h0.6M165.8 181.1h0.6M165.7 174.9h0.6M173.6 182.9h0.6M158.5 182.9h0.6M175.8 179.9h0.6M166.7 175.7h0.6M174.2 188.5h0.6M160.1 164.8h0.6M168.7 188.5h0.6M174.4 180.5h0.6M167.2 183.1h0.6M156.9 157.2h0.6M164.3 196.8h0.6M169.9 163.5h0.6M157.3 172.0h0.6M157.0 186.7h0.6M168.0 174.5h0.6M160.2 176.4h0.6M170.9 158.6h0.6M158.8 176.2h0.6M154.5 182.5h0.6M161.4 187.1h0.6M176.2 177.6h0.6M160.8 182.6h0.6M166.4 184.7h0.6M168.0 173.8h0.6M160.3 173.1h0.6M173.6 199.6h0.6M167.6 172.1h0.6M169.3 192.5h0.6M155.5 181.1h0.6M155.0 194.9h0.6M148.5 174.2h0.6M165.2 185.5h0.6M165.0 183.7h0.6M171.2 178.2h0.6M176.1 183.5h0.6M164.8 172.9h0.6M164.7 179.7h0.6M169.4 176.5h0.6M176.4 187.9h0.6M161.1 179.6h0.6M170.5 166.8h0.6M164.8 176.8h0.6M164.3 179.5h0.6M171.8 171.6h0.6M161.3 193.5h0.6M159.5 184.4h0.6M170.8 188.7h0.6M166.3 173.0h0.6M164.7 176.5h0.6M165.6 190.3h0.6M169.7 166.4h0.6M164.1 184.1h0.6M171.4 181.3h0.6M169.2 175.5h0.6M176.1 181.3h0.6M174.7 169.9h0.6M172.0 182.7h0.6M165.1 168.5h0.6M167.2 167.9h0.6M162.6 194.2h0.6M185.0 173.6h0.6M165.0 159.7h0.6M170.1 190.0h0.6M175.3 172.9h0.6M157.6 145.9h0.6M161.1 179.9h0.6M163.9 189.6h0.6M160.0 183.9h0.6M158.2 197.3h0.6M163.1 179.2h0.6M174.9 186.3h0.6M171.2 170.6h0.6M166.7 182.1h0.6M166.7 195.5h0.6M155.7 185.4h0.6M171.0 182.1h0.6M169.3 161.0h0.6M159.5 176.8h0.6M167.8 167.8h0.6M165.2 188.1h0.6M163.1 173.2h0.6M160.1 184.0h0.6M162.1 170.6h0.6M160.4 199.0h0.6M169.5 168.9h0.6M168.9 181.8h0.6M168.6 206.3h0.6M165.3 182.6h0.6M163.8 171.9h0.6M179.8 186.5h0.6M154.4 190.2h0.6M174.3 189.0h0.6M168.8 161.1h0.6M167.0 182.6h0.6" stroke="#333" stroke-width="0.6" fill="none" filter="url(#bl)"/>
<path d="M160.4 165.8h0.6M133.5 153.6h0.6M125.6 150.1h0.6M142.4 143.2h0.6M139.6 151.9h0.6M114.9 161.9h0.6M156.4 160.4h0.6M128.8 141.8h0.6M106.4 168.7h0.6M153.1 151.8h0.6M155.1 144.3h0.6M151.0 155.3h0.6M140.5 148.3h0.6M119.2 148.7h0.6M146.3 148.2h0.6M160.0 153.3h0.6M144.5 149.5h0.6M156.2 138.2h0.6M120.9 159.0h0.6M147.6 149.3h0.6M146.3 165.3h0.6M110.3 159.1h0.6M108.3 159.9h0.6M121.8 155.8h0.6M133.7 166.2h0.6M139.2 151.1h0.6M129.1 144.9h0.6M131.5 157.3h0.6M130.8 128.8h0.6M133.8 150.7h0.6M141.1 156.1h0.6M139.8 150.2h0.6M131.7 165.8h0.6M136.3 160.6h0.6M125.8 155.1h0.6M144.3 150.4h0.6M125.0 164.3h0.6M156.9 147.8h0.6M132.1 150.2h0.6M136.6 161.0h0.6M121.2 159.6h0.6M127.4 173.0h0.6M134.9 152.1h0.6M132.8 136.6h0.6M123.2 160.2h0.6M115.2 165.8h0.6M133.1 152.5h0.6M134.8 168.6h0.6M140.7 170.6h0.6M151.1 147.9h0.6M127.8 149.6h0.6M130.4 159.1h0.6M105.0 160.7h0.6M113.4 159.7h0.6M147.8 142.6h0.6M140.9 147.0h0.6M122.9 140.8h0.6M123.0 139.1h0.6M131.2 141.5h0.6M106.4 139.4h0.6M139.7 152.4h0.6M127.3 158.0h0.6M159.9 159.8h0.6M116.7 153.8h0.6M147.5 147.8h0.6M122.4 153.9h0.6M147.7 159.3h0.6M117.9 151.3h0.6M143.5 154.5h0.6M126.0 151.2h0.6M120.2 149.2h0.6M130.3 154.3h0.6M139.6 143.7h0.6M138.6 163.8h0.6M156.1 139.5h0.6M144.8 158.3h0.6M126.6 168.0h0.6M126.8 146.5h0.6M141.9 149.8h0.6M112.6 143.5h0.6M114.9 153.5h0.6M134.7 157.8h0.6M128.2 177.7h0.6M156.2 141.3h0.6M137.4 165.5h0.6M140.5 148.6h0.6M158.7 156.6h0.6M125.1 162.1h0.6M132.5 159.0h0.6M117.7 157.9h0.6M136.4 152.2h0.6M148.0 153.9h0.6M153.0 155.4h0.6M132.0 165.1h0.6M121.9 140.4h0.6M121.1 149.4h0.6M111.7 142.5h0.6M134.4 145.1h0.6M152.9 146.6h0.6M153.6 166.5h0.6M108.5 143.0h0.6M137.5 154.7h0.6M113.8 143.5h0.6M144.3 158.1h0.6M144.3 165.8h0.6M135.1 159.4h0.6M145.0 162.1h0.6M133.4 152.6h0.6M141.1 135.8h0.6M159.9 135.7h0.6M149.1 153.1h0.6M122.8 159.3h0.6M120.6 165.8h0.6M129.1 150.8h0.6M129.2 154.7h0.6M133.7 156.4h0.6M123.6 163.8h0.6M142.5 153.4h0.6M133.3 143.9h0.6M138.1 164.0h0.6M132.8 157.8h0.6M141.9 157.5h0.6M114.8 142.2h0.6M156.4 153.9h0.6M137.9 138.1h0.6M139.5 135.4h0.6M141.9 151.8h0.6M149.0 150.0h0.6M143.8 159.2h0.6M136.3 167.3h0.6M130.0 153.7h0.6M108.1 170.5h0.6M136.0 148.6h0.6M128.1 161.0h0.6M128.1 142.3h0.6M168.8 155.2h0.6M104.9 151.1h0.6M133.6 152.1h0.6M151.0 159.4h0.6M147.2 136.6h0.6M151.4 155.1h0.6M113.8 146.5h0.6M118.4 155.1h0.6M142.1 157.6h0.6M128.4 150.6h0.6M158.5 150.6h0.6M136.3 143.3h0.6M135.8 159.1h0.6M139.5 147.8h0.6M128.8 158.1h0.6M134.7 140.8h0.6M122.8 166.6h0.6M132.3 144.6h0.6M125.7 164.7h0.6M136.8 149.9h0.6M111.7 159.0h0.6M110.6 152.7h0.6M139.8 160.3h0.6M136.3 154.0h0.6M118.5 165.7h0.6M129.6 160.2h0.6M117.2 160.3h0.6M163.6 169.4h0.6M109.5 147.6h0.6M158.7 166.0h0.6M120.6 154.7h0.6M139.3 140.3h0.6M129.0 158.4h0.6M127.3 152.1h0.6M147.0 169.6h0.6M145.2 149.5h0.6M128.7 154.5h0.6M119.4 156.2h0.6M164.1 136.4h0.6M154.1 158.7h0.6M135.1 144.8h0.6M128.6 167.0h0.6M137.4 169.4h0.6M134.3 153.9h0.6M151.0 139.4h0.6M118.5 155.7h0.6M133.3 155.6h0.6M121.3 160.6h0.6M152.6 151.3h0.6M160.1 143.0h0.6M131.7 152.7h0.6M141.1 145.5h0.6M154.1 170.4h0.6M128.6 147.5h0.6M119.0 148.0h0.6M148.6 153.6h0.6M140.6 142.6h0.6M129.9 149.9h0.6M155.0 152.8h0.6M136.6 149.5h0.6M106.4 151.7h0.6M138.3 165.5h0.6M132.2 158.0h0.6M161.3 141.7h0.6M132.8 150.0h0.6M130.0 160.9h0.6M139.6 148.0h0.6M136.7 154.8h0.6M111.9 153.7h0.6M134.9 158.9h0.6M128.2 152.3h0.6M154.1 152.7h0.6M169.1 146.1h0.6M116.3 157.3h0.6M118.6 145.4h0.6M120.4 170.0h0.6M123.2 153.8h0.6M122.7 151.9h0.6M133.9 161.3h0.6M149.4 153.2h0.6M113.6 154.8h0.6M110.0 153.5h0.6M105.5 147.3h0.6M149.7 145.5h0.6M153.0 147.5h0.6M110.1 164.4h0.6M108.6 148.2h0.6M135.1 150.3h0.6M149.5 149.9h0.6M148.3 160.4h0.6M136.0 172.3h0.6M143.3 145.5h0.6M138.0 159.1h0.6M124.8 155.1h0.6M161.7 151.2h0.6M133.1 158.7h0.6M116.4 142.3h0.6M126.1 161.7h0.6M110.0 156.0h0.6M133.4 144.8h0.6M149.6 168.7h0.6M114.1 161.8h0.6M150.0 164.7h0.6M164.5 140.6h0.6M138.8 151.5h0.6M115.7 149.2h0.6M120.3 159.8h0.6M128.1 166.5h0.6M113.9 136.4h0.6M114.4 154.2h0.6M129.2 152.8h0.6M130.4 163.2h0.6M142.2 153.6h0.6M115.1 142.3h0.6M161.2 152.2h0.6M149.1 144.5h0.6M146.5 146.8h0.6M123.4 154.4h0.6M159.2 149.6h0.6M128.0 156.6h0.6M160.4 140.0h0.6M149.2 175.4h0.6M119.7 165.6h0.6M126.3 160.6h0.6M161.2 142.1h0.6M148.2 134.1h0.6M130.8 146.1h0.6M136.2 151.9h0.6M136.1 174.5h0.6M121.5 166.0h0.6M130.1 149.2h0.6M123.2 165.1h0.6M126.7 165.3h0.6M140.1 154.1h0.6M118.8 165.2h0.6M144.0 157.0h0.6M134.8 148.0h0.6M144.6 143.2h0.6M146.5 152.9h0.6M151.8 163.2h0.6M142.6 141.5h0.6M143.8 139.2h0.6M130.4 159.1h0.6M141.7 129.0h0.6M119.6 170.8h0.6M129.4 150.0h0.6M144.4 160.7h0.6M132.3 171.1h0.6M139.8 140.6h0.6M117.3 144.3h0.6M153.7 174.6h0.6M124.5 151.4h0.6M139.1 152.8h0.6M132.8 156.1h0.6M147.1 163.7h0.6M127.4 166.2h0.6M118.1 155.0h0.6M104.6 150.9h0.6M128.5 153.7h0.6M115.2 156.8h0.6M141.2 166.1h0.6M154.8 155.2h0.6M113.7 146.1h0.6M137.8 158.9h0.6M151.7 170.2h0.6M137.7 165.9h0.6M138.0 157.1h0.6M140.7 145.9h0.6M141.8 147.4h0.6M157.8 152.6h0.6M142.3 156.9h0.6M114.5 151.7h0.6M126.0 140.6h0.6M136.3 147.2h0.6M120.9 158.8h0.6M129.2 161.7h0.6M125.2 141.1h0.6M122.6 150.6h0.6M143.6 138.6h0.6M127.3 148.8h0.6M116.7 186.6h0.6M122.3 154.6h0.6M133.7 150.8h0.6M164.9 148.6h0.6M137.0 142.9h0.6M155.5 136.9h0.6M140.6 153.6h0.6M138.8 167.6h0.6M120.3 138.9h0.6M112.7 158.0h0.6M116.9 166.3h0.6M160.1 136.0h0.6M109.3 160.1h0.6M123.8 139.2h0.6M150.6 158.8h0.6M143.1 167.6h0.6M107.3 154.0h0.6M131.4 156.6h0.6M125.3 147.6h0.6M130.2 156.7h0.6M144.4 164.4h0.6M124.4 152.3h0.6M128.3 152.7h0.6M155.1 157.6h0.6M105.3 161.6h0.6M127.5 138.9h0.6M140.2 154.6h0.6M114.3 147.7h0.6M123.6 158.6h0.6M113.2 163.5h0.6M135.4 156.9h0.6M123.7 165.9h0.6M145.0 144.9h0.6M148.5 150.2h0.6M133.8 144.9h0.6M127.3 154.5h0.6M137.0 154.9h0.6M133.9 152.2h0.6M114.7 142.8h0.6M149.3 153.3h0.6M136.5 150.0h0.6M145.0 159.6h0.6M112.5 151.5h0.6M146.3 164.7h0.6M164.9 156.1h0.6M142.4 136.9h0.6M111.1 152.4h0.6M133.6 140.8h0.6M132.2 162.9h0.6M136.3 167.2h0.6M129.5 153.8h0.6M140.5 158.1h0.6M126.0 140.7h0.6M136.5 133.3h0.6M122.6 148.9h0.6M134.5 151.7h0.6M148.1 140.1h0.6M125.6 154.8h0.6M143.1 156.9h0.6M119.6 159.9h0.6M127.4 168.3h0.6M129.4 161.5h0.6M151.9 150.6h0.6M121.4 155.0h0.6M151.4 159.5h0.6M110.8 144.4h0.6M130.6 166.2h0.6M146.8 162.3h0.6M143.5 151.9h0.6M117.7 148.1h0.6M114.5 189.1h0.6M146.3 161.8h0.6M113.9 162.7h0.6M141.8 170.6h0.6M125.1 163.1h0.6M132.8 156.0h0.6M168.1 160.5h0.6M156.5 145.6h0.6M145.7 160.6h0.6M112.1 139.9h0.6M137.8 157.9h0.6M133.8 159.2h0.6M131.4 139.7h0.6M153.2 171.7h0.6M106.9 143.5h0.6M137.8 163.7h0.6M134.9 149.2h0.6M121.6 156.9h0.6M159.1 148.0h0.6M113.7 177.0h0.6M133.4 163.6h0.6M134.2 170.8h0.6M111.2 160.5h0.6M118.2 155.5h0.6M144.9 151.9h0.6M147.3 159.7h0.6M141.9 155.6h0.6M136.6 152.8h0.6M136.2 151.3h0.6M125.1 159.7h0.6M150.7 149.8h0.6M153.3 157.4h0.6M166.9 152.9h0.6M143.7 144.7h0.6M145.3 145.9h0.6M117.2 147.4h0.6M134.1 151.5h0.6M114.1 151.8h0.6M146.5 164.5h0.6M114.8 144.2h0.6M129.6 135.3h0.6M120.4 160.5h0.6M125.8 150.0h0.6M139.8 153.1h0.6M124.3 177.7h0.6M136.2 167.7h0.6M117.6 159.7h0.6M154.1 163.0h0.6M123.1 155.3h0.6M148.2 163.1h0.6M165.4 148.6h0.6M117.8 149.9h0.6M129.7 168.8h0.6M150.6 168.6h0.6M125.5 148.7h0.6M138.6 165.0h0.6M121.7 152.8h0.6M141.4 164.2h0.6M114.4 151.3h0.6M145.6 163.1h0.6M160.5 154.1h0.6M135.4 155.7h0.6M119.2 148.9h0.6M166.4 141.7h0.6M148.8 169.9h0.6M150.0 150.7h0.6M126.4 137.5h0.6M142.3 133.3h0.6M140.5 128.4h0.6M107.5 148.6h0.6M141.8 166.9h0.6M130.0 139.2h0.6M152.4 151.3h0.6M152.7 137.3h0.6M123.0 164.5h0.6M123.5 157.7h0.6M135.7 157.3h0.6M142.8 166.8h0.6M126.5 169.6h0.6M131.0 163.9h0.6M142.1 149.0h0.6M139.2 142.1h0.6M150.5 144.7h0.6M136.4 138.1h0.6M119.2 171.1h0.6M105.8 152.6h0.6M145.2 155.5h0.6M127.6 156.2h0.6M127.4 173.0h0.6M128.3 149.1h0.6M108.6 165.3h0.6M126.7 157.2h0.6M126.6 136.6h0.6M119.0 162.9h0.6M160.9 147.5h0.6M139.6 150.1h0.6M129.4 156.5h0.6M135.2 155.3h0.6M143.9 164.8h0.6M121.1 148.2h0.6M129.2 155.9h0.6M127.3 157.0h0.6M170.9 154.6h0.6M133.8 160.7h0.6M144.9 165.5h0.6M172.5 147.8h0.6M118.0 141.1h0.6M186.2 154.0h0.6M131.7 165.3h0.6M148.1 149.6h0.6M124.0 148.6h0.6M128.5 151.2h0.6M113.7 155.9h0.6M116.4 152.8h0.6M150.3 138.5h0.6M115.0 168.3h0.6M138.4 159.8h0.6M137.8 146.4h0.6M122.7 167.1h0.6M133.4 158.6h0.6M131.2 168.0h0.6M125.0 143.5h0.6M133.4 169.8h0.6M133.4 154.8h0.6M116.9 135.3h0.6M112.6 161.4h0.6M119.5 151.6h0.6M134.5 145.0h0.6M154.0 152.4h0.6M155.3 136.4h0.6M137.5 159.8h0.6M147.2 152.4h0.6M134.5 151.9h0.6M149.7 167.5h0.6M134.6 154.7h0.6M138.7 148.3h0.6M128.2 145.6h0.6M132.5 153.8h0.6M162.0 164.3h0.6M114.0 149.0h0.6M132.6 144.8h0.6M123.4 162.9h0.6M147.4 154.9h0.6M160.7 154.1h0.6M127.8 173.7h0.6M142.1 156.2h0.6M142.1 137.9h0.6M106.5 151.6h0.6M128.8 159.8h0.6M131.5 164.8h0.6M143.0 162.1h0.6M139.4 161.6h0.6M136.3 153.2h0.6M116.1 177.2h0.6M121.5 154.4h0.6M122.7 146.2h0.6M140.0 158.3h0.6M117.2 137.1h0.6M155.3 168.8h0.6M138.4 163.5h0.6M158.7 160.1h0.6M135.0 159.3h0.6M123.9 172.3h0.6M134.1 148.7h0.6M135.4 135.5h0.6M116.6 139.8h0.6M153.5 152.8h0.6M152.1 158.2h0.6M127.1 150.3h0.6M117.4 145.6h0.6M147.0 165.4h0.6M131.7 152.5h0.6M135.7 156.5h0.6M142.2 163.2h0.6M115.7 142.3h0.6M144.8 145.8h0.6M155.2 152.9h0.6M107.9 144.7h0.6M122.6 152.0h0.6M122.0 149.1h0.6M143.7 143.0h0.6M144.0 150.6h0.6M138.0 154.2h0.6M140.8 154.2h0.6M139.7 159.4h0.6M131.2 138.3h0.6M131.6 165.6h0.6M128.8 157.2h0.6M130.1 141.3h0.6M135.8 159.3h0.6M128.6 145.0h0.6M116.7 156.8h0.6M108.8 165.8h0.6M151.3 153.7h0.6M146.5 160.8h0.6M111.1 157.2h0.6M128.0 161.7h0.6M139.2 130.7h0.6M157.2 150.8h0.6M122.8 157.1h0.6M135.0 158.7h0.6M150.4 147.4h0.6M105.0 162.0h0.6M120.7 164.6h0.6M131.6 155.0h0.6M120.9 152.3h0.6M165.3 151.1h0.6M145.8 155.7h0.6M135.3 165.3h0.6M117.2 168.2h0.6M145.8 150.0h0.6M142.1 145.8h0.6M124.1 147.0h0.6M125.4 163.5h0.6M109.3 156.4h0.6M131.0 157.1h0.6M145.7 158.8h0.6M147.9 157.9h0.6M141.3 153.2h0.6M145.1 144.8h0.6M122.9 148.7h0.6M124.8 155.5h0.6M151.0 158.0h0.6M139.2 151.0h0.6M119.7 150.5h0.6M140.0 167.0h0.6M145.1 150.1h0.6M143.2 156.4h0.6M133.8 151.4h0.6M124.0 146.4h0.6M138.4 140.4h0.6M158.7 149.4h0.6M134.4 146.8h0.6M121.7 162.2h0.6M137.4 143.8h0.6M112.8 150.6h0.6M135.7 160.4h0.6M127.4 153.3h0.6M147.1 158.9h0.6M133.7 162.1h0.6M148.5 139.1h0.6M168.1 150.6h0.6M128.7 145.5h0.6M119.0 166.8h0.6M139.3 153.3h0.6M130.7 158.9h0.6M134.3 170.0h0.6M122.7 151.1h0.6M140.8 155.1h0.6M133.2 158.1h0.6M128.4 165.9h0.6M137.3 161.9h0.6M150.5 163.6h0.6M123.0 154.8h0.6M119.5 151.2h0.6M150.0 151.1h0.6M122.5 151.0h0.6M133.7 139.3h0.6M139.4 157.7h0.6M143.6 161.8h0.6M132.2 154.3h0.6M114.7 149.8h0.6M147.8 154.7h0.6M125.3 156.4h0.6M123.9 157.4h0.6M163.3 170.8h0.6M145.7 146.5h0.6M115.5 157.7h0.6M124.5 160.7h0.6M128.2 155.1h0.6M120.3 152.2h0.6M144.5 148.9h0.6M144.1 160.8h0.6M135.8 167.6h0.6M125.8 148.4h0.6M135.3 158.7h0.6M142.0 159.1h0.6M115.8 163.6h0.6M126.8 156.6h0.6M123.3 158.4h0.6M142.8 162.5h0.6M136.1 143.7h0.6M111.8 154.8h0.6M122.4 138.2h0.6M159.5 136.4h0.6M116.9 146.8h0.6M134.3 140.3h0.6" stroke="#555" stroke-width="0.6" fill="none" filter="url(#bl)"/>
<path d="M136.5 163.0h0.6M144.4 182.9h0.6M123.4 185.3h0.6M124.5 201.1h0.6M124.1 187.5h0.6M130.5 174.3h0.6M134.0 189.9h0.6M120.8 173.5h0.6M115.6 188.4h0.6M119.9 190.2h0.6M141.2 181.8h0.6M121.5 188.9h0.6M151.7 182.6h0.6M124.4 180.0h0.6M150.4 202.9h0.6M109.0 192.5h0.6M117.1 182.8h0.6M136.0 177.8h0.6M136.2 188.1h0.6M125.7 192.3h0.6M161.2 195.4h0.6M129.4 202.2h0.6M132.9 191.2h0.6M119.1 174.0h0.6M142.1 198.8h0.6M134.9 195.2h0.6M134.1 170.0h0.6M120.7 182.1h0.6M134.6 180.6h0.6M143.0 199.1h0.6M116.2 173.4h0.6M131.7 182.7h0.6M142.4 202.6h0.6M130.9 193.2h0.6M122.9 182.0h0.6M117.5 171.7h0.6M107.8 191.1h0.6M144.1 183.7h0.6M129.9 191.7h0.6M108.7 183.2h0.6M128.1 177.1h0.6M107.5 188.5h0.6M147.6 191.9h0.6M147.0 182.7h0.6M104.5 196.2h0.6M116.7 181.3h0.6M131.5 178.9h0.6M122.1 190.5h0.6M114.5 199.5h0.6M120.0 163.7h0.6M124.3 187.4h0.6M119.3 192.9h0.6M131.6 170.7h0.6M124.5 176.6h0.6M116.0 193.1h0.6M128.6 177.2h0.6M151.4 204.7h0.6M126.8 176.8h0.6M133.6 161.0h0.6M134.8 174.2h0.6M132.4 172.8h0.6M148.4 204.7h0.6M110.1 199.3h0.6M127.1 172.4h0.6M120.2 194.5h0.6M118.6 184.2h0.6M148.8 194.9h0.6M116.7 190.2h0.6M120.5 177.8h0.6M123.7 167.0h0.6M124.7 176.2h0.6M130.7 186.0h0.6M124.8 182.2h0.6M134.1 178.1h0.6M130.3 196.7h0.6M135.8 174.6h0.6M150.0 195.8h0.6M114.6 180.9h0.6M154.5 187.3h0.6M120.9 173.9h0.6M138.8 186.0h0.6M130.7 177.6h0.6M123.4 167.2h0.6M153.9 185.5h0.6M116.0 195.1h0.6M115.5 189.2h0.6M145.1 175.1h0.6M129.3 179.4h0.6M158.5 159.1h0.6M154.9 173.9h0.6M139.4 200.2h0.6M132.1 202.5h0.6M140.3 194.3h0.6M107.1 189.4h0.6M130.8 192.4h0.6M130.4 191.4h0.6M120.6 167.3h0.6M132.1 176.6h0.6M104.8 198.9h0.6M142.5 198.9h0.6M148.6 188.7h0.6M107.4 182.7h0.6M130.4 181.9h0.6M152.7 180.2h0.6M134.7 176.0h0.6M111.6 165.2h0.6M112.3 187.7h0.6M141.6 181.2h0.6M157.2 183.7h0.6M110.8 204.7h0.6M128.6 192.5h0.6M115.7 178.4h0.6M123.5 192.4h0.6M133.0 169.7h0.6M127.4 197.5h0.6M117.1 188.9h0.6M161.5 184.0h0.6M125.5 192.3h0.6M125.1 201.9h0.6M145.7 181.0h0.6M128.2 175.3h0.6M143.1 186.2h0.6M111.6 202.3h0.6M139.9 178.7h0.6M144.4 190.2h0.6M138.5 179.1h0.6M125.2 192.9h0.6M127.9 183.0h0.6M125.9 202.9h0.6M132.6 189.7h0.6M141.8 164.0h0.6M130.3 183.5h0.6M121.8 176.1h0.6M114.7 172.8h0.6M127.3 179.7h0.6M130.1 180.8h0.6M147.2 186.4h0.6M128.1 177.4h0.6M120.1 165.8h0.6M126.3 180.2h0.6M120.3 195.6h0.6M124.3 171.2h0.6M109.1 181.1h0.6M135.4 189.4h0.6M126.8 177.9h0.6M130.3 181.7h0.6M146.4 174.9h0.6M111.5 191.1h0.6M146.1 201.0h0.6M134.1 178.6h0.6M116.7 199.1h0.6M151.6 162.7h0.6M105.4 176.4h0.6M110.2 175.0h0.6M124.7 204.8h0.6M134.4 179.6h0.6M125.0 194.5h0.6M190.4 142.4h0.6M174.4 188.2h0.6M185.6 180.0h0.6M181.5 133.3h0.6M190.6 179.5h0.6M179.5 129.0h0.6M187.4 135.4h0.6M183.0 159.9h0.6M186.9 130.7h0.6M187.9 168.0h0.6M184.0 180.6h0.6M178.3 147.9h0.6M183.0 181.7h0.6M186.7 133.5h0.6M187.3 134.8h0.6M183.7 166.4h0.6M180.4 130.2h0.6M173.3 186.4h0.6M173.9 196.6h0.6M184.0 128.5h0.6M179.2 189.5h0.6M184.6 171.9h0.6M181.6 203.0h0.6M179.3 189.6h0.6M175.6 197.6h0.6M187.8 193.8h0.6M176.9 193.7h0.6M183.7 186.3h0.6M173.6 197.8h0.6M190.0 134.7h0.6M174.6 189.9h0.6M181.3 180.2h0.6M187.1 155.9h0.6M176.1 161.7h0.6M184.0 136.7h0.6M179.5 151.9h0.6M190.0 183.0h0.6M174.2 170.5h0.6M175.3 199.4h0.6M182.1 147.6h0.6M184.6 145.6h0.6M182.6 184.8h0.6M175.2 201.7h0.6M181.0 156.3h0.6M172.9 158.3h0.6M184.5 132.2h0.6M177.9 146.1h0.6M190.0 198.0h0.6M179.3 203.2h0.6M172.7 165.8h0.6M171.9 193.8h0.6M178.0 144.7h0.6M176.7 177.9h0.6M189.8 198.3h0.6M186.5 154.9h0.6M178.7 177.1h0.6M176.6 185.3h0.6M173.0 138.8h0.6M174.0 148.0h0.6M185.8 173.7h0.6M172.8 147.9h0.6M186.6 140.4h0.6M179.2 140.4h0.6M184.7 188.3h0.6M183.4 163.4h0.6M173.8 170.8h0.6M186.1 176.9h0.6M188.4 153.0h0.6M173.8 178.6h0.6M190.1 162.8h0.6M187.0 135.1h0.6M183.2 168.3h0.6M184.9 166.4h0.6M172.6 181.0h0.6M176.0 201.9h0.6M188.9 131.7h0.6M188.1 175.5h0.6M175.8 182.2h0.6M182.1 164.9h0.6M178.2 161.3h0.6" stroke="#777" stroke-width="0.6" fill="none" filter="url(#bl)"/>
<line x1="103.4" y1="123.5" x2="192.3" y2="123.5" stroke="#777" stroke-width="1"/>
<line x1="192.5" y1="123.4" x2="192.5" y2="207.4" stroke="#999" stroke-width="0.8"/>
<line x1="103.5" y1="122.9" x2="103.5" y2="209.4" stroke="#555" stroke-width="0.9"/>
<line x1="101.4" y1="207.5" x2="192.3" y2="207.5" stroke="#555" stroke-width="0.9"/>
<line x1="101.6" y1="204.5" x2="103.4" y2="204.5" stroke="#666" stroke-width="0.6"/>
<line x1="101.6" y1="199.5" x2="103.4" y2="199.5" stroke="#666" stroke-width="0.6"/>
<line x1="101.6" y1="194.5" x2="103.4" y2="194.5" stroke="#666" stroke-width="0.6"/>
<line x1="101.2" y1="176.5" x2="103.4" y2="176.5" stroke="#666" stroke-width="0.6"/>
<line x1="102.2" y1="170.5" x2="103.4" y2="170.5" stroke="#666" stroke-width="0.6"/>
<line x1="102.2" y1="166.5" x2="103.4" y2="166.5" stroke="#666" stroke-width="0.6"/>
<line x1="102.2" y1="164.5" x2="103.4" y2="164.5" stroke="#666" stroke-width="0.6"/>
<line x1="102.2" y1="162.5" x2="103.4" y2="162.5" stroke="#666" stroke-width="0.6"/>
<line x1="102.2" y1="160.5" x2="103.4" y2="160.5" stroke="#666" stroke-width="0.6"/>
<line x1="102.2" y1="159.5" x2="103.4" y2="159.5" stroke="#666" stroke-width="0.6"/>
<line x1="102.2" y1="158.5" x2="103.4" y2="158.5" stroke="#666" stroke-width="0.6"/>
<line x1="102.2" y1="157.5" x2="103.4" y2="157.5" stroke="#666" stroke-width="0.6"/>
<line x1="101.2" y1="156.5" x2="103.4" y2="156.5" stroke="#666" stroke-width="0.6"/>
<line x1="102.2" y1="150.5" x2="103.4" y2="150.5" stroke="#666" stroke-width="0.6"/>
<line x1="102.2" y1="146.5" x2="103.4" y2="146.5" stroke="#666" stroke-width="0.6"/>
<line x1="102.2" y1="144.5" x2="103.4" y2="144.5" stroke="#666" stroke-width="0.6"/>
<line x1="102.2" y1="142.5" x2="103.4" y2="142.5" stroke="#666" stroke-width="0.6"/>
<line x1="102.2" y1="140.5" x2="103.4" y2="140.5" stroke="#666" stroke-width="0.6"/>
<line x1="102.2" y1="139.5" x2="103.4" y2="139.5" stroke="#666" stroke-width="0.6"/>
<line x1="102.2" y1="138.5" x2="103.4" y2="138.5" stroke="#666" stroke-width="0.6"/>
<line x1="102.2" y1="137.5" x2="103.4" y2="137.5" stroke="#666" stroke-width="0.6"/>
<line x1="101.2" y1="136.5" x2="103.4" y2="136.5" stroke="#666" stroke-width="0.6"/>
<line x1="102.2" y1="130.5" x2="103.4" y2="130.5" stroke="#666" stroke-width="0.6"/>
<line x1="102.2" y1="127.5" x2="103.4" y2="127.5" stroke="#666" stroke-width="0.6"/>
<line x1="102.2" y1="124.5" x2="103.4" y2="124.5" stroke="#666" stroke-width="0.6"/>
<line x1="106.5" y1="207.4" x2="106.5" y2="208.7" stroke="#666" stroke-width="0.6"/>
<line x1="109.5" y1="207.4" x2="109.5" y2="208.7" stroke="#666" stroke-width="0.6"/>
<line x1="113.5" y1="207.4" x2="113.5" y2="208.7" stroke="#666" stroke-width="0.6"/>
<line x1="116.5" y1="207.4" x2="116.5" y2="208.7" stroke="#666" stroke-width="0.6"/>
<line x1="119.5" y1="207.4" x2="119.5" y2="208.7" stroke="#666" stroke-width="0.6"/>
<line x1="123.5" y1="207.4" x2="123.5" y2="208.7" stroke="#666" stroke-width="0.6"/>
<line x1="126.5" y1="207.4" x2="126.5" y2="208.7" stroke="#666" stroke-width="0.6"/>
<line x1="129.5" y1="207.4" x2="129.5" y2="208.7" stroke="#666" stroke-width="0.6"/>
<line x1="133.5" y1="207.4" x2="133.5" y2="208.7" stroke="#666" stroke-width="0.6"/>
<line x1="136.5" y1="207.4" x2="136.5" y2="208.7" stroke="#666" stroke-width="0.6"/>
<line x1="139.5" y1="207.4" x2="139.5" y2="208.7" stroke="#666" stroke-width="0.6"/>
<line x1="143.5" y1="207.4" x2="143.5" y2="208.7" stroke="#666" stroke-width="0.6"/>
<line x1="146.5" y1="207.4" x2="146.5" y2="208.7" stroke="#666" stroke-width="0.6"/>
<line x1="150.5" y1="207.4" x2="150.5" y2="208.7" stroke="#666" stroke-width="0.6"/>
<line x1="153.5" y1="207.4" x2="153.5" y2="208.7" stroke="#666" stroke-width="0.6"/>
<line x1="156.5" y1="207.4" x2="156.5" y2="208.7" stroke="#666" stroke-width="0.6"/>
<line x1="160.5" y1="207.4" x2="160.5" y2="208.7" stroke="#666" stroke-width="0.6"/>
<line x1="163.5" y1="207.4" x2="163.5" y2="208.7" stroke="#666" stroke-width="0.6"/>
<line x1="166.5" y1="207.4" x2="166.5" y2="208.7" stroke="#666" stroke-width="0.6"/>
<line x1="170.5" y1="207.4" x2="170.5" y2="208.7" stroke="#666" stroke-width="0.6"/>
<line x1="173.5" y1="207.4" x2="173.5" y2="208.7" stroke="#666" stroke-width="0.6"/>
<line x1="176.5" y1="207.4" x2="176.5" y2="208.7" stroke="#666" stroke-width="0.6"/>
<line x1="180.5" y1="207.4" x2="180.5" y2="208.7" stroke="#666" stroke-width="0.6"/>
<line x1="183.5" y1="207.4" x2="183.5" y2="208.7" stroke="#666" stroke-width="0.6"/>
<line x1="186.5" y1="207.4" x2="186.5" y2="208.7" stroke="#666" stroke-width="0.6"/>
<line x1="190.5" y1="207.4" x2="190.5" y2="208.7" stroke="#666" stroke-width="0.6"/>
<line x1="117.5" y1="207.4" x2="117.5" y2="209.9" stroke="#555" stroke-width="0.7"/>
<line x1="145.5" y1="207.4" x2="145.5" y2="209.9" stroke="#555" stroke-width="0.7"/>
<line x1="181.5" y1="207.4" x2="181.5" y2="209.9" stroke="#555" stroke-width="0.7"/>
<text x="117.2" y="213.6" font-size="5" text-anchor="middle" font-weight="normal" fill="#777">0</text>
<text x="145.6" y="213.6" font-size="5" text-anchor="middle" font-weight="normal" fill="#777">10²</text>
<text x="181.6" y="213.6" font-size="5" text-anchor="middle" font-weight="normal" fill="#777">10⁴</text>
<text x="99.4" y="199.5" font-size="5" text-anchor="middle" font-weight="normal" fill="#777" transform="rotate(-90 99.4 199.5)">0</text>
<text x="99.4" y="176.2" font-size="5" text-anchor="middle" font-weight="normal" fill="#777" transform="rotate(-90 99.4 176.2)">10³</text>
<text x="99.4" y="156.3" font-size="5" text-anchor="middle" font-weight="normal" fill="#777" transform="rotate(-90 99.4 156.3)">10⁴</text>
<text x="99.4" y="136.9" font-size="5" text-anchor="middle" font-weight="normal" fill="#777" transform="rotate(-90 99.4 136.9)">10⁵</text>
<line x1="103.4" y1="167.5" x2="192.3" y2="167.5" stroke="#555" stroke-width="0.9"/>
<polyline points="157.6,207.4 157.6,167.3 163.7,123.4" fill="none" stroke="#555" stroke-width="0.9"/>
<text x="106.8" y="131.6" font-size="9.5" text-anchor="start" font-weight="bold" fill="#111">9</text>
<path d="M277.9 154.6h0.6M271.1 161.7h0.6M275.8 176.2h0.6M271.7 169.5h0.6M264.6 176.2h0.6M270.2 169.0h0.6M282.3 169.6h0.6M271.6 175.1h0.6M274.9 168.8h0.6M270.6 171.9h0.6M271.6 162.1h0.6M273.7 164.7h0.6M274.5 173.8h0.6M282.9 167.8h0.6M272.1 163.5h0.6M271.3 175.4h0.6M269.0 174.5h0.6M265.9 169.8h0.6M264.5 163.4h0.6M275.4 177.5h0.6M263.3 191.1h0.6M279.0 162.8h0.6M276.3 156.7h0.6M270.8 163.2h0.6M266.7 161.9h0.6M272.3 159.1h0.6M272.3 159.8h0.6M277.6 177.0h0.6M268.7 177.1h0.6M270.4 182.4h0.6M272.0 176.2h0.6M270.9 165.7h0.6M269.2 179.0h0.6M264.0 164.6h0.6M264.3 166.8h0.6M269.0 159.8h0.6M271.1 180.2h0.6M277.0 178.4h0.6M283.3 165.9h0.6M280.4 167.2h0.6M274.1 170.1h0.6M281.2 171.5h0.6M271.7 177.0h0.6M269.7 170.3h0.6M283.3 173.2h0.6M267.1 157.0h0.6M270.2 167.2h0.6M271.0 154.5h0.6M279.2 184.9h0.6M269.4 181.6h0.6M276.0 175.8h0.6M270.3 179.2h0.6M266.3 186.8h0.6M273.4 177.7h0.6M273.0 156.2h0.6M266.7 168.0h0.6M268.1 149.7h0.6M268.4 162.8h0.6M276.8 159.2h0.6M274.4 169.7h0.6M273.4 173.1h0.6M274.6 161.9h0.6M269.9 167.3h0.6M274.5 172.1h0.6M269.3 168.4h0.6M265.8 168.2h0.6M268.9 149.3h0.6M273.2 166.0h0.6M272.7 176.5h0.6M277.3 171.9h0.6M264.1 157.1h0.6M271.2 167.4h0.6M274.1 172.0h0.6M267.6 161.4h0.6M273.4 175.4h0.6M270.3 162.9h0.6M266.8 166.9h0.6M277.6 168.8h0.6M265.6 188.6h0.6M277.0 167.0h0.6M270.2 164.8h0.6M267.7 175.8h0.6M268.0 165.7h0.6M268.7 171.3h0.6M268.2 150.5h0.6M273.5 172.2h0.6M263.3 169.5h0.6M278.2 158.7h0.6M276.2 181.2h0.6M278.9 167.7h0.6M267.5 168.0h0.6M261.1 158.5h0.6M269.2 155.9h0.6M271.4 164.9h0.6M273.7 156.7h0.6M269.8 173.9h0.6M271.8 177.1h0.6M273.0 164.3h0.6M264.8 156.0h0.6M280.9 166.3h0.6M266.9 160.7h0.6M273.5 171.1h0.6M277.4 171.2h0.6M268.5 166.0h0.6M272.3 170.3h0.6M280.1 178.5h0.6M270.9 184.1h0.6M277.3 165.2h0.6M273.6 175.8h0.6M273.3 167.6h0.6M275.7 160.7h0.6M271.1 180.6h0.6M271.2 173.0h0.6M276.9 170.9h0.6M273.5 172.7h0.6M274.6 168.3h0.6M266.5 160.7h0.6M272.3 184.7h0.6M278.1 177.3h0.6M276.6 171.9h0.6M273.9 177.9h0.6M269.8 180.6h0.6M269.3 168.0h0.6M274.4 174.6h0.6M279.1 166.9h0.6M272.5 175.1h0.6M278.5 167.5h0.6M270.8 190.3h0.6M278.0 166.6h0.6M267.5 174.0h0.6M273.2 173.6h0.6M267.2 166.8h0.6M275.4 177.6h0.6M275.0 168.9h0.6M267.7 166.1h0.6M268.7 169.7h0.6M270.1 163.3h0.6M265.1 179.8h0.6M267.8 175.0h0.6M268.1 178.0h0.6M276.0 158.2h0.6M278.9 171.9h0.6M270.1 163.1h0.6M270.9 170.4h0.6M273.3 180.5h0.6M269.8 171.8h0.6M270.9 168.2h0.6M276.3 179.2h0.6M273.4 178.2h0.6M271.9 185.4h0.6M269.5 153.8h0.6M279.3 172.4h0.6M269.3 166.1h0.6M272.9 162.2h0.6M267.3 170.6h0.6M269.4 159.8h0.6M272.7 150.7h0.6M270.4 162.0h0.6M274.8 167.4h0.6M272.6 185.5h0.6M265.6 163.5h0.6M261.2 159.7h0.6M277.0 152.8h0.6M269.5 166.7h0.6M279.4 167.6h0.6M272.3 170.9h0.6M268.6 157.4h0.6M274.9 163.2h0.6M271.0 150.4h0.6M272.3 171.1h0.6M267.8 156.3h0.6M275.3 146.3h0.6M277.5 179.5h0.6M269.7 173.9h0.6M280.8 172.6h0.6M269.5 172.6h0.6M273.5 160.8h0.6M264.4 178.8h0.6M263.0 160.7h0.6M282.3 185.9h0.6M279.1 171.6h0.6M277.8 154.0h0.6M264.1 177.0h0.6M273.3 186.4h0.6M274.3 167.5h0.6M272.6 178.7h0.6M273.7 167.9h0.6M267.9 164.3h0.6M271.5 147.7h0.6M266.8 180.2h0.6M270.6 165.9h0.6M274.0 172.9h0.6M268.5 160.0h0.6M270.9 161.9h0.6M270.2 179.2h0.6M272.3 166.4h0.6M276.7 166.3h0.6M273.4 158.9h0.6M274.2 171.5h0.6M265.4 176.3h0.6M270.5 165.8h0.6M276.2 168.1h0.6M268.1 159.3h0.6M270.2 181.6h0.6M267.6 164.4h0.6M278.6 168.4h0.6M270.1 184.0h0.6M268.8 167.8h0.6M275.2 156.5h0.6M277.5 161.8h0.6M274.6 166.6h0.6M277.0 184.9h0.6M273.3 171.6h0.6M271.6 167.8h0.6M270.1 176.8h0.6M269.8 180.8h0.6M269.4 163.2h0.6M274.0 181.9h0.6M271.7 177.0h0.6M272.7 173.5h0.6M275.1 149.5h0.6M272.0 171.4h0.6M265.7 181.6h0.6M268.4 167.4h0.6M266.9 189.5h0.6M263.1 170.4h0.6M272.7 161.1h0.6M266.5 174.8h0.6M266.1 172.3h0.6M267.1 176.9h0.6M276.4 167.9h0.6M270.7 180.9h0.6M277.0 165.0h0.6M271.8 170.9h0.6M270.1 159.1h0.6M274.9 162.9h0.6M275.1 171.5h0.6M272.8 164.2h0.6M267.3 165.9h0.6M270.0 168.0h0.6M266.6 171.9h0.6M271.0 176.3h0.6M272.7 176.4h0.6M279.3 178.6h0.6M279.0 171.5h0.6M275.5 165.1h0.6M276.8 156.2h0.6M273.3 166.8h0.6M285.5 163.0h0.6M279.5 154.2h0.6M284.9 183.9h0.6M274.0 154.0h0.6M274.2 172.9h0.6M277.3 174.6h0.6M273.1 167.8h0.6M273.7 192.0h0.6M267.5 170.0h0.6M276.7 163.2h0.6M272.9 184.9h0.6M276.1 162.9h0.6M271.2 157.5h0.6M263.7 161.2h0.6M274.6 164.3h0.6M277.8 170.2h0.6M266.1 172.7h0.6M267.6 156.7h0.6M270.8 172.8h0.6M271.0 189.0h0.6M264.0 163.7h0.6M280.6 168.7h0.6M277.1 175.8h0.6M269.2 180.2h0.6M263.5 164.1h0.6M273.9 161.5h0.6M281.7 161.1h0.6M276.2 179.3h0.6M277.7 177.6h0.6M267.7 151.2h0.6M273.3 151.4h0.6M265.0 159.1h0.6M281.7 156.9h0.6M274.9 173.3h0.6M262.1 171.7h0.6M263.3 186.7h0.6M274.5 176.7h0.6M272.9 170.9h0.6M270.7 180.0h0.6M275.2 162.1h0.6M281.8 157.8h0.6M274.0 170.1h0.6M263.5 177.9h0.6M271.4 155.8h0.6M265.9 177.5h0.6M268.3 177.2h0.6M273.8 165.5h0.6M271.4 171.3h0.6M267.1 167.4h0.6M272.1 170.5h0.6M268.3 176.8h0.6M274.7 162.9h0.6M271.0 178.8h0.6M274.0 177.3h0.6M270.9 177.6h0.6M275.8 152.8h0.6M271.5 153.7h0.6M272.1 175.8h0.6M269.5 164.8h0.6M272.8 163.8h0.6M263.6 163.2h0.6M285.0 158.2h0.6M268.9 167.3h0.6M272.6 163.6h0.6M269.9 164.1h0.6M269.8 173.9h0.6M274.1 159.6h0.6M269.7 179.5h0.6M270.1 150.6h0.6M265.5 191.5h0.6M267.7 158.1h0.6M266.5 174.8h0.6M280.8 177.7h0.6M265.7 169.8h0.6M267.0 176.2h0.6M273.1 168.9h0.6M279.0 154.6h0.6M264.0 172.8h0.6M264.7 179.7h0.6M272.7 165.0h0.6M273.8 155.1h0.6M265.3 164.6h0.6" stroke="#555" stroke-width="0.6" fill="none" filter="url(#bl)"/>
<path d="M248.4 150.9h0.6M248.1 164.6h0.6M257.9 150.2h0.6M251.2 147.2h0.6M250.6 160.7h0.6M220.0 157.1h0.6M271.6 158.6h0.6M245.0 160.2h0.6M255.0 157.9h0.6M240.2 153.5h0.6M242.6 159.1h0.6M245.2 159.8h0.6M263.7 160.5h0.6M263.0 168.2h0.6M252.0 154.2h0.6M268.7 158.3h0.6M239.6 160.9h0.6M250.8 155.7h0.6M238.9 151.9h0.6M260.3 155.1h0.6M244.9 163.5h0.6M256.4 156.6h0.6M265.6 161.1h0.6M219.1 154.2h0.6M271.1 160.3h0.6M248.4 154.5h0.6M240.6 153.7h0.6M221.0 158.6h0.6M240.8 158.3h0.6M216.3 165.6h0.6M245.6 149.7h0.6M242.4 160.6h0.6M266.9 166.3h0.6M240.5 165.0h0.6M257.7 156.0h0.6M258.8 154.5h0.6M269.8 155.5h0.6M241.5 159.5h0.6M253.9 159.0h0.6M225.9 159.8h0.6M230.9 161.1h0.6M241.2 152.5h0.6M244.3 152.2h0.6M229.6 151.7h0.6M239.5 151.1h0.6M253.2 157.5h0.6M239.0 159.6h0.6M242.7 171.0h0.6M233.6 160.7h0.6M261.6 158.1h0.6M266.5 165.3h0.6M247.1 154.2h0.6M243.2 159.7h0.6M265.1 163.0h0.6M250.5 162.0h0.6M236.4 160.1h0.6M228.0 156.2h0.6M237.4 151.6h0.6M271.6 157.2h0.6M237.3 154.9h0.6M280.2 161.5h0.6M244.6 157.3h0.6M242.0 160.9h0.6M260.9 149.7h0.6M241.6 163.0h0.6M249.3 153.6h0.6M231.8 150.0h0.6M229.3 150.9h0.6M235.6 154.8h0.6M247.4 163.8h0.6M236.5 161.7h0.6M220.5 152.0h0.6M250.5 158.4h0.6M242.6 157.5h0.6M241.2 150.0h0.6M237.1 152.9h0.6M216.9 147.6h0.6M264.2 153.5h0.6M238.7 144.4h0.6M251.1 153.9h0.6M261.8 153.2h0.6M258.6 153.9h0.6M247.2 153.8h0.6M244.8 163.9h0.6M248.4 156.2h0.6M255.8 159.2h0.6M251.8 161.9h0.6M239.2 162.6h0.6M250.2 161.5h0.6M249.3 155.2h0.6M253.2 152.4h0.6M247.2 154.0h0.6M261.5 155.6h0.6M247.2 158.0h0.6M255.6 157.6h0.6M245.2 163.6h0.6M237.6 157.5h0.6M233.0 167.2h0.6M242.7 163.3h0.6M251.3 155.5h0.6M260.3 162.4h0.6M243.6 143.3h0.6M238.3 165.1h0.6M238.4 160.1h0.6M260.6 160.0h0.6M246.0 149.4h0.6M238.5 170.9h0.6M253.8 156.7h0.6M228.4 157.3h0.6M246.1 163.8h0.6M244.2 157.0h0.6M243.0 153.6h0.6M230.5 161.4h0.6M256.8 152.8h0.6M265.4 161.8h0.6M228.4 158.7h0.6M246.2 163.8h0.6M252.6 151.8h0.6M272.5 164.4h0.6M239.6 159.5h0.6M233.0 168.1h0.6M244.6 154.7h0.6M269.5 167.5h0.6M245.5 161.6h0.6M248.0 162.0h0.6M266.5 154.3h0.6M218.4 160.9h0.6M218.0 161.4h0.6M255.9 153.8h0.6M254.2 152.1h0.6M227.6 154.0h0.6M251.1 165.5h0.6M245.2 158.8h0.6M247.4 162.8h0.6M234.8 159.5h0.6M239.1 158.6h0.6M233.9 159.1h0.6M245.3 155.9h0.6M241.9 164.2h0.6M265.4 158.9h0.6M252.4 159.1h0.6M225.3 150.9h0.6M249.8 159.6h0.6M262.3 154.5h0.6M248.2 155.4h0.6M258.1 163.3h0.6M244.3 152.4h0.6M253.4 157.0h0.6M233.2 161.2h0.6M254.4 163.9h0.6" stroke="#777" stroke-width="0.6" fill="none" filter="url(#bl)"/>
<path d="M237.4 187.8h0.6M235.3 180.3h0.6M246.4 171.0h0.6M232.7 155.1h0.6M281.0 188.8h0.6M242.9 198.3h0.6M217.7 136.9h0.6M263.4 132.0h0.6M290.6 137.5h0.6M257.0 195.5h0.6M236.5 176.3h0.6M284.2 159.8h0.6M263.2 203.1h0.6M262.4 200.8h0.6M250.2 161.8h0.6" stroke="#888" stroke-width="0.6" fill="none" filter="url(#bl)"/>
<line x1="206.4" y1="123.5" x2="295.3" y2="123.5" stroke="#555" stroke-width="0.9"/>
<line x1="295.5" y1="123.4" x2="295.5" y2="207.4" stroke="#999" stroke-width="0.8"/>
<line x1="206.5" y1="122.9" x2="206.5" y2="209.4" stroke="#555" stroke-width="0.9"/>
<line x1="204.4" y1="207.5" x2="295.3" y2="207.5" stroke="#555" stroke-width="0.9"/>
<line x1="204.6" y1="204.5" x2="206.4" y2="204.5" stroke="#666" stroke-width="0.6"/>
<line x1="204.6" y1="199.5" x2="206.4" y2="199.5" stroke="#666" stroke-width="0.6"/>
<line x1="204.6" y1="194.5" x2="206.4" y2="194.5" stroke="#666" stroke-width="0.6"/>
<line x1="204.2" y1="176.5" x2="206.4" y2="176.5" stroke="#666" stroke-width="0.6"/>
<line x1="205.2" y1="170.5" x2="206.4" y2="170.5" stroke="#666" stroke-width="0.6"/>
<line x1="205.2" y1="166.5" x2="206.4" y2="166.5" stroke="#666" stroke-width="0.6"/>
<line x1="205.2" y1="164.5" x2="206.4" y2="164.5" stroke="#666" stroke-width="0.6"/>
<line x1="205.2" y1="162.5" x2="206.4" y2="162.5" stroke="#666" stroke-width="0.6"/>
<line x1="205.2" y1="160.5" x2="206.4" y2="160.5" stroke="#666" stroke-width="0.6"/>
<line x1="205.2" y1="159.5" x2="206.4" y2="159.5" stroke="#666" stroke-width="0.6"/>
<line x1="205.2" y1="158.5" x2="206.4" y2="158.5" stroke="#666" stroke-width="0.6"/>
<line x1="205.2" y1="157.5" x2="206.4" y2="157.5" stroke="#666" stroke-width="0.6"/>
<line x1="204.2" y1="156.5" x2="206.4" y2="156.5" stroke="#666" stroke-width="0.6"/>
<line x1="205.2" y1="150.5" x2="206.4" y2="150.5" stroke="#666" stroke-width="0.6"/>
<line x1="205.2" y1="146.5" x2="206.4" y2="146.5" stroke="#666" stroke-width="0.6"/>
<line x1="205.2" y1="144.5" x2="206.4" y2="144.5" stroke="#666" stroke-width="0.6"/>
<line x1="205.2" y1="142.5" x2="206.4" y2="142.5" stroke="#666" stroke-width="0.6"/>
<line x1="205.2" y1="140.5" x2="206.4" y2="140.5" stroke="#666" stroke-width="0.6"/>
<line x1="205.2" y1="139.5" x2="206.4" y2="139.5" stroke="#666" stroke-width="0.6"/>
<line x1="205.2" y1="138.5" x2="206.4" y2="138.5" stroke="#666" stroke-width="0.6"/>
<line x1="205.2" y1="137.5" x2="206.4" y2="137.5" stroke="#666" stroke-width="0.6"/>
<line x1="204.2" y1="136.5" x2="206.4" y2="136.5" stroke="#666" stroke-width="0.6"/>
<line x1="205.2" y1="130.5" x2="206.4" y2="130.5" stroke="#666" stroke-width="0.6"/>
<line x1="205.2" y1="127.5" x2="206.4" y2="127.5" stroke="#666" stroke-width="0.6"/>
<line x1="205.2" y1="124.5" x2="206.4" y2="124.5" stroke="#666" stroke-width="0.6"/>
<line x1="209.5" y1="207.4" x2="209.5" y2="208.7" stroke="#666" stroke-width="0.6"/>
<line x1="212.5" y1="207.4" x2="212.5" y2="208.7" stroke="#666" stroke-width="0.6"/>
<line x1="216.5" y1="207.4" x2="216.5" y2="208.7" stroke="#666" stroke-width="0.6"/>
<line x1="219.5" y1="207.4" x2="219.5" y2="208.7" stroke="#666" stroke-width="0.6"/>
<line x1="222.5" y1="207.4" x2="222.5" y2="208.7" stroke="#666" stroke-width="0.6"/>
<line x1="226.5" y1="207.4" x2="226.5" y2="208.7" stroke="#666" stroke-width="0.6"/>
<line x1="229.5" y1="207.4" x2="229.5" y2="208.7" stroke="#666" stroke-width="0.6"/>
<line x1="232.5" y1="207.4" x2="232.5" y2="208.7" stroke="#666" stroke-width="0.6"/>
<line x1="236.5" y1="207.4" x2="236.5" y2="208.7" stroke="#666" stroke-width="0.6"/>
<line x1="239.5" y1="207.4" x2="239.5" y2="208.7" stroke="#666" stroke-width="0.6"/>
<line x1="242.5" y1="207.4" x2="242.5" y2="208.7" stroke="#666" stroke-width="0.6"/>
<line x1="246.5" y1="207.4" x2="246.5" y2="208.7" stroke="#666" stroke-width="0.6"/>
<line x1="249.5" y1="207.4" x2="249.5" y2="208.7" stroke="#666" stroke-width="0.6"/>
<line x1="253.5" y1="207.4" x2="253.5" y2="208.7" stroke="#666" stroke-width="0.6"/>
<line x1="256.5" y1="207.4" x2="256.5" y2="208.7" stroke="#666" stroke-width="0.6"/>
<line x1="259.5" y1="207.4" x2="259.5" y2="208.7" stroke="#666" stroke-width="0.6"/>
<line x1="263.5" y1="207.4" x2="263.5" y2="208.7" stroke="#666" stroke-width="0.6"/>
<line x1="266.5" y1="207.4" x2="266.5" y2="208.7" stroke="#666" stroke-width="0.6"/>
<line x1="269.5" y1="207.4" x2="269.5" y2="208.7" stroke="#666" stroke-width="0.6"/>
<line x1="273.5" y1="207.4" x2="273.5" y2="208.7" stroke="#666" stroke-width="0.6"/>
<line x1="276.5" y1="207.4" x2="276.5" y2="208.7" stroke="#666" stroke-width="0.6"/>
<line x1="279.5" y1="207.4" x2="279.5" y2="208.7" stroke="#666" stroke-width="0.6"/>
<line x1="283.5" y1="207.4" x2="283.5" y2="208.7" stroke="#666" stroke-width="0.6"/>
<line x1="286.5" y1="207.4" x2="286.5" y2="208.7" stroke="#666" stroke-width="0.6"/>
<line x1="289.5" y1="207.4" x2="289.5" y2="208.7" stroke="#666" stroke-width="0.6"/>
<line x1="293.5" y1="207.4" x2="293.5" y2="208.7" stroke="#666" stroke-width="0.6"/>
<line x1="220.5" y1="207.4" x2="220.5" y2="209.9" stroke="#555" stroke-width="0.7"/>
<line x1="248.5" y1="207.4" x2="248.5" y2="209.9" stroke="#555" stroke-width="0.7"/>
<line x1="284.5" y1="207.4" x2="284.5" y2="209.9" stroke="#555" stroke-width="0.7"/>
<text x="220.2" y="213.6" font-size="5" text-anchor="middle" font-weight="normal" fill="#777">0</text>
<text x="248.6" y="213.6" font-size="5" text-anchor="middle" font-weight="normal" fill="#777">10²</text>
<text x="284.6" y="213.6" font-size="5" text-anchor="middle" font-weight="normal" fill="#777">10⁴</text>
<text x="202.4" y="199.5" font-size="5" text-anchor="middle" font-weight="normal" fill="#777" transform="rotate(-90 202.4 199.5)">0</text>
<text x="202.4" y="176.2" font-size="5" text-anchor="middle" font-weight="normal" fill="#777" transform="rotate(-90 202.4 176.2)">10³</text>
<text x="202.4" y="156.3" font-size="5" text-anchor="middle" font-weight="normal" fill="#777" transform="rotate(-90 202.4 156.3)">10⁴</text>
<text x="202.4" y="136.9" font-size="5" text-anchor="middle" font-weight="normal" fill="#777" transform="rotate(-90 202.4 136.9)">10⁵</text>
<line x1="206.4" y1="169.5" x2="295.3" y2="169.5" stroke="#555" stroke-width="0.9"/>
<polyline points="263.6,207.4 263.6,169.4 269.3,123.4" fill="none" stroke="#555" stroke-width="0.9"/>
<text x="208.6" y="131.9" font-size="9.5" text-anchor="start" font-weight="bold" fill="#111">16</text>
<path d="M170.6 280.7h0.8M167.1 280.4h0.8M160.2 271.1h0.8M170.6 283.5h0.8M166.4 278.9h0.8M164.3 288.0h0.8M170.1 286.0h0.8M163.8 278.1h0.8M169.4 278.5h0.8M164.3 275.1h0.8M167.8 273.6h0.8M162.7 282.2h0.8M164.8 278.1h0.8M163.2 277.5h0.8M163.8 278.4h0.8M166.7 281.8h0.8M165.5 282.8h0.8M166.7 279.1h0.8M170.1 278.3h0.8M165.7 279.5h0.8M160.2 287.4h0.8M165.2 270.8h0.8M166.3 274.4h0.8M169.3 281.0h0.8M169.3 279.7h0.8M169.1 284.0h0.8M165.4 284.3h0.8M168.1 287.0h0.8M161.5 275.9h0.8M170.2 281.5h0.8M167.5 278.1h0.8M167.7 283.0h0.8M164.9 279.8h0.8M166.2 282.6h0.8M164.0 276.1h0.8M167.9 279.7h0.8M161.9 277.0h0.8M169.1 278.0h0.8M167.8 277.3h0.8M172.5 275.0h0.8M166.0 283.6h0.8M165.8 280.3h0.8M166.7 283.5h0.8M166.2 275.1h0.8M165.7 271.2h0.8M162.6 276.5h0.8M162.6 278.5h0.8M164.3 282.3h0.8M165.2 283.3h0.8M162.3 284.0h0.8M162.4 285.3h0.8M165.2 282.0h0.8M168.4 279.5h0.8M165.5 276.0h0.8M168.2 281.9h0.8M169.2 277.1h0.8M168.5 275.9h0.8M164.7 281.5h0.8M164.8 280.0h0.8M160.2 282.5h0.8M163.9 276.2h0.8M167.6 283.8h0.8M162.6 280.5h0.8M170.4 278.4h0.8M170.6 276.1h0.8M164.9 274.8h0.8M169.0 273.6h0.8M161.6 284.7h0.8M162.8 273.4h0.8M164.9 281.6h0.8M166.1 278.1h0.8M165.5 276.8h0.8M163.3 277.2h0.8M172.3 278.7h0.8M167.0 282.7h0.8M167.0 281.4h0.8M168.2 279.1h0.8M166.6 273.6h0.8M165.3 271.9h0.8M164.3 286.6h0.8M160.9 275.0h0.8M170.8 272.8h0.8M163.2 283.6h0.8M160.8 273.1h0.8M163.5 282.1h0.8M161.0 282.9h0.8M172.4 280.1h0.8M167.2 283.0h0.8M170.5 273.5h0.8M170.7 274.2h0.8M167.9 278.3h0.8M167.9 279.1h0.8M163.8 278.8h0.8M165.8 281.0h0.8M164.2 276.1h0.8M166.2 270.5h0.8M163.9 280.7h0.8M170.1 278.2h0.8M168.5 282.4h0.8M165.7 287.5h0.8M160.8 279.4h0.8M168.2 281.4h0.8M168.9 275.5h0.8M165.9 282.7h0.8M162.1 280.5h0.8M167.4 280.1h0.8M169.4 282.8h0.8M160.0 274.5h0.8M167.9 281.4h0.8M160.3 280.9h0.8M166.3 285.5h0.8M171.6 271.8h0.8M166.4 278.7h0.8M167.6 287.9h0.8M165.1 277.4h0.8M166.1 277.3h0.8M173.5 286.3h0.8M170.3 289.2h0.8M165.1 279.6h0.8M164.9 276.2h0.8M166.1 276.7h0.8M173.0 277.5h0.8M166.7 275.7h0.8M169.6 275.8h0.8M164.9 279.8h0.8M162.1 279.2h0.8M170.3 281.0h0.8M165.8 279.2h0.8M163.6 274.2h0.8M163.9 282.1h0.8M164.0 280.1h0.8M164.2 276.7h0.8M161.2 278.0h0.8M169.9 280.4h0.8M167.3 279.4h0.8M169.2 278.6h0.8M165.0 282.2h0.8M167.2 283.4h0.8M166.6 277.8h0.8M169.8 279.0h0.8M168.6 274.6h0.8M167.2 278.4h0.8M164.0 281.0h0.8M162.3 282.6h0.8M163.6 279.8h0.8M164.1 278.7h0.8M164.4 276.2h0.8M162.2 279.9h0.8M171.3 274.7h0.8M166.9 279.6h0.8M159.7 279.2h0.8M162.6 275.4h0.8M161.8 280.4h0.8M166.8 278.2h0.8M169.4 281.5h0.8M163.0 277.1h0.8M168.0 281.0h0.8M165.2 285.4h0.8M169.7 279.8h0.8M170.4 282.2h0.8M167.1 276.5h0.8M168.3 277.7h0.8M166.1 271.5h0.8M164.9 278.5h0.8M162.4 274.5h0.8M167.1 279.5h0.8M165.9 270.8h0.8M164.9 275.6h0.8M165.8 279.4h0.8M165.5 280.6h0.8M162.8 272.4h0.8M164.4 277.4h0.8M169.7 289.4h0.8M165.3 282.2h0.8M170.5 279.7h0.8M162.4 268.0h0.8M161.8 275.4h0.8M166.5 281.2h0.8M168.5 280.0h0.8M164.0 280.9h0.8M168.0 282.9h0.8M169.0 279.5h0.8M169.4 282.5h0.8M165.7 271.9h0.8M165.9 289.1h0.8M160.9 277.9h0.8M166.1 276.5h0.8M167.0 285.1h0.8M170.5 281.5h0.8M162.1 283.0h0.8M163.4 276.6h0.8M162.9 280.2h0.8M168.9 281.9h0.8M158.1 274.5h0.8M162.7 278.2h0.8M172.5 278.1h0.8M168.1 277.9h0.8M161.9 276.2h0.8M165.9 274.0h0.8M168.7 280.8h0.8M167.8 280.0h0.8M165.4 283.7h0.8M163.6 278.8h0.8M168.7 276.4h0.8M166.1 273.2h0.8M168.6 279.4h0.8M167.3 277.8h0.8M164.6 287.1h0.8M170.6 288.2h0.8M164.5 285.4h0.8M167.4 275.4h0.8M164.1 273.4h0.8M165.4 278.1h0.8M165.3 275.5h0.8M164.0 284.7h0.8M166.8 279.5h0.8M170.2 277.4h0.8M171.9 279.0h0.8M170.6 284.1h0.8M165.5 275.3h0.8M170.6 281.0h0.8M167.4 273.7h0.8M171.7 278.2h0.8M162.1 276.4h0.8M170.7 280.3h0.8M164.2 279.7h0.8M169.7 283.8h0.8M164.6 281.8h0.8M168.9 276.6h0.8M165.2 273.7h0.8M160.2 275.8h0.8M163.0 277.3h0.8M165.3 278.1h0.8M166.2 276.0h0.8M159.1 283.4h0.8M162.3 282.8h0.8M163.8 277.9h0.8M165.4 277.0h0.8M166.8 278.1h0.8M163.5 278.9h0.8M161.3 278.9h0.8M167.0 272.5h0.8M165.0 277.3h0.8M168.8 271.5h0.8M164.4 279.2h0.8M168.1 281.7h0.8M163.3 274.8h0.8M166.9 279.7h0.8M166.4 276.6h0.8M167.5 276.2h0.8M163.2 286.9h0.8M165.7 282.6h0.8M163.4 281.0h0.8M165.6 277.3h0.8M168.0 280.7h0.8M175.4 278.3h0.8M166.2 280.8h0.8M168.3 275.4h0.8M166.4 278.7h0.8M169.6 277.4h0.8M167.5 273.3h0.8M169.3 285.8h0.8M167.2 282.3h0.8M173.6 275.9h0.8M170.4 273.1h0.8M160.8 276.1h0.8M167.0 275.7h0.8M166.3 276.6h0.8M159.2 272.9h0.8M163.4 275.7h0.8M164.6 279.3h0.8M163.8 280.7h0.8M166.5 271.1h0.8M160.5 279.0h0.8M168.4 275.0h0.8M168.5 274.8h0.8M167.2 277.7h0.8M165.1 276.3h0.8M166.1 281.8h0.8M164.6 281.8h0.8M169.7 277.8h0.8M167.7 276.4h0.8M172.3 286.2h0.8M164.9 286.5h0.8M170.6 280.6h0.8M164.3 278.4h0.8M165.6 283.1h0.8M162.8 284.9h0.8M167.7 276.9h0.8M165.9 286.3h0.8M168.0 278.4h0.8M170.7 283.4h0.8M165.9 276.9h0.8M167.3 279.3h0.8M168.9 277.2h0.8M165.9 279.1h0.8M164.4 283.1h0.8M167.2 275.4h0.8M167.7 277.8h0.8M168.5 281.2h0.8M168.7 277.1h0.8M164.0 287.2h0.8M167.5 273.1h0.8M169.9 289.3h0.8M164.7 276.3h0.8M167.2 282.9h0.8M164.2 285.5h0.8M166.6 281.2h0.8M171.5 273.3h0.8M166.6 277.7h0.8M163.1 279.3h0.8M167.2 281.3h0.8M166.8 283.0h0.8M169.6 283.6h0.8M161.8 285.0h0.8M163.2 275.2h0.8M165.9 283.0h0.8M161.3 271.9h0.8M169.6 279.6h0.8M159.8 274.7h0.8M163.5 271.8h0.8M161.5 282.7h0.8M164.1 278.9h0.8M168.6 283.0h0.8M168.0 272.6h0.8M169.0 274.1h0.8M168.0 278.6h0.8M159.8 276.3h0.8M167.0 279.3h0.8M160.4 276.5h0.8M164.5 277.6h0.8M164.9 274.4h0.8M164.4 284.2h0.8M167.6 277.7h0.8M163.6 274.2h0.8M171.5 281.8h0.8M168.0 281.0h0.8M169.8 279.9h0.8M168.5 279.9h0.8M168.9 277.4h0.8M166.0 278.5h0.8M172.2 270.0h0.8M162.8 272.7h0.8M167.5 274.0h0.8M166.1 280.2h0.8M165.4 284.0h0.8M167.1 278.3h0.8M163.8 277.9h0.8M168.8 283.6h0.8M168.5 277.5h0.8M166.4 281.7h0.8M168.4 280.8h0.8M162.9 273.6h0.8M160.5 280.3h0.8M164.3 279.8h0.8M165.4 274.3h0.8M173.8 274.8h0.8M165.4 273.8h0.8M169.3 284.6h0.8M168.7 287.6h0.8M172.7 281.9h0.8M166.5 285.4h0.8M168.1 273.5h0.8M165.5 284.7h0.8M163.4 287.0h0.8M163.0 285.6h0.8M163.7 275.2h0.8M170.5 283.4h0.8M167.0 278.5h0.8M165.6 283.4h0.8M166.2 276.4h0.8M164.4 279.1h0.8M166.0 276.7h0.8M166.0 281.0h0.8M168.1 278.6h0.8M168.9 283.5h0.8M161.0 282.4h0.8M166.8 280.7h0.8M170.4 278.9h0.8M162.9 277.8h0.8M165.3 279.0h0.8M166.6 282.1h0.8M169.5 279.5h0.8M168.0 280.2h0.8M165.4 278.9h0.8M167.7 278.7h0.8M169.3 276.3h0.8M167.3 271.3h0.8M171.9 281.4h0.8M167.4 281.3h0.8M162.8 275.0h0.8M163.7 286.8h0.8M165.7 274.2h0.8M165.5 283.1h0.8M168.0 280.0h0.8M167.2 280.3h0.8M171.4 283.7h0.8M168.6 282.8h0.8M170.7 279.1h0.8M163.7 274.7h0.8M164.8 274.0h0.8M168.2 279.8h0.8M166.4 285.5h0.8M168.1 282.6h0.8M166.9 278.9h0.8M164.2 280.4h0.8M171.4 281.8h0.8M169.7 286.0h0.8M161.3 275.9h0.8M164.2 282.0h0.8M166.2 280.2h0.8M168.2 275.9h0.8M165.9 274.9h0.8M161.9 284.2h0.8M168.7 280.4h0.8M165.5 278.2h0.8M169.9 279.4h0.8M167.1 283.0h0.8M169.2 279.4h0.8M168.7 285.6h0.8M168.9 278.0h0.8M164.6 275.8h0.8M169.3 278.6h0.8M166.8 275.2h0.8M162.3 277.6h0.8M164.9 284.0h0.8M165.1 286.0h0.8M167.6 281.6h0.8M168.3 279.8h0.8M162.7 275.3h0.8M168.4 274.9h0.8M165.9 280.5h0.8M162.9 279.7h0.8M168.7 276.6h0.8M163.8 277.2h0.8M162.4 285.4h0.8M168.5 283.1h0.8M168.9 279.2h0.8M164.1 280.0h0.8M169.4 284.2h0.8M169.3 280.5h0.8M164.5 280.0h0.8M172.3 272.6h0.8M166.0 272.1h0.8M166.8 271.2h0.8M158.8 269.8h0.8M168.1 279.0h0.8M164.2 280.4h0.8M167.5 275.5h0.8M160.9 280.8h0.8M169.7 280.8h0.8M170.7 278.7h0.8M172.0 273.0h0.8M157.0 284.9h0.8M168.0 284.7h0.8M167.2 276.7h0.8M156.8 287.0h0.8M163.9 279.2h0.8M165.9 275.8h0.8M170.6 277.3h0.8M163.6 271.4h0.8M166.8 277.6h0.8M166.0 272.5h0.8M167.3 283.7h0.8M164.9 280.3h0.8M168.9 273.3h0.8M169.2 281.4h0.8M162.0 272.0h0.8M169.7 279.7h0.8M163.9 281.0h0.8M165.3 279.3h0.8M169.7 274.4h0.8M166.5 278.6h0.8M168.0 278.3h0.8M168.6 279.3h0.8M168.1 285.1h0.8M164.5 286.0h0.8M163.3 285.5h0.8M168.3 276.4h0.8M168.6 276.0h0.8M167.3 279.1h0.8M165.6 280.8h0.8M168.9 270.6h0.8M166.1 276.5h0.8M162.0 286.4h0.8M167.1 273.9h0.8M167.8 276.0h0.8M168.6 276.1h0.8M163.5 281.0h0.8M163.9 278.7h0.8M167.3 277.7h0.8M164.9 272.8h0.8M166.0 281.5h0.8M169.1 279.0h0.8M167.5 276.3h0.8M171.9 279.1h0.8M167.1 282.2h0.8M171.5 273.0h0.8M169.5 272.6h0.8M174.1 274.8h0.8M166.3 275.4h0.8M166.0 266.5h0.8M170.3 276.5h0.8M164.7 283.6h0.8M164.9 277.6h0.8M167.1 283.2h0.8M167.5 267.2h0.8M162.0 278.5h0.8M167.1 284.7h0.8M165.4 285.5h0.8M166.2 277.0h0.8M166.9 275.6h0.8M165.7 280.6h0.8M169.6 274.0h0.8M167.8 277.5h0.8M165.8 272.1h0.8M166.6 279.3h0.8M169.5 279.0h0.8M168.8 285.7h0.8M170.3 280.5h0.8M165.9 276.3h0.8M166.8 278.6h0.8M172.6 273.7h0.8M166.2 279.1h0.8M171.5 278.1h0.8M169.0 280.7h0.8M165.1 282.8h0.8M162.1 270.8h0.8M168.3 280.3h0.8M164.2 282.0h0.8M164.2 274.1h0.8M161.1 286.8h0.8M170.0 276.0h0.8M166.7 289.1h0.8M166.5 282.2h0.8M167.6 283.0h0.8M167.1 280.1h0.8M166.7 283.1h0.8M168.0 274.7h0.8M165.5 275.7h0.8M158.4 270.9h0.8M168.7 281.2h0.8M167.7 276.1h0.8M166.5 282.1h0.8M171.3 281.5h0.8M162.1 273.5h0.8M157.5 281.9h0.8M171.0 280.1h0.8M167.7 279.8h0.8M161.3 280.9h0.8M165.1 278.9h0.8M168.3 279.0h0.8M162.7 283.3h0.8M168.1 274.9h0.8M172.9 274.1h0.8M170.7 275.9h0.8M166.3 283.3h0.8M167.4 277.7h0.8M163.5 286.9h0.8M166.8 266.3h0.8M165.4 276.1h0.8M163.3 277.2h0.8M162.3 280.1h0.8M172.3 284.5h0.8M166.7 278.2h0.8M163.3 274.8h0.8M165.1 282.4h0.8M171.0 285.4h0.8M171.4 268.5h0.8M164.5 281.4h0.8M167.0 280.2h0.8M169.1 275.6h0.8M165.3 277.0h0.8M162.8 280.2h0.8M163.4 279.1h0.8M166.4 278.0h0.8M164.0 274.2h0.8M162.4 280.2h0.8M165.7 276.3h0.8M169.3 279.4h0.8M168.5 276.6h0.8M165.7 279.8h0.8M172.3 282.1h0.8M164.0 280.0h0.8M166.2 281.7h0.8M162.2 273.3h0.8M168.8 280.9h0.8M166.0 280.2h0.8M161.2 276.4h0.8M163.8 278.3h0.8M171.9 267.5h0.8M168.6 279.3h0.8M166.7 277.3h0.8M169.0 269.7h0.8M161.5 281.1h0.8M163.8 276.4h0.8M162.3 280.1h0.8M163.8 278.0h0.8M165.2 281.0h0.8M168.0 279.3h0.8M169.5 277.8h0.8M169.4 281.0h0.8M174.6 282.4h0.8M164.9 269.7h0.8M166.3 279.1h0.8M167.9 276.5h0.8M163.8 274.4h0.8M165.5 284.3h0.8M167.6 282.9h0.8M163.7 274.7h0.8M167.8 274.4h0.8M170.1 282.3h0.8M162.9 276.4h0.8M159.3 277.6h0.8M166.6 270.9h0.8M163.2 278.4h0.8M166.9 283.6h0.8M165.0 277.1h0.8M167.3 278.5h0.8M169.8 286.1h0.8M168.9 282.6h0.8M165.3 284.8h0.8M162.8 281.6h0.8M158.7 283.9h0.8M159.7 272.1h0.8M163.9 275.6h0.8M166.6 272.2h0.8M164.3 288.1h0.8M164.5 279.7h0.8M161.4 278.5h0.8M161.2 275.9h0.8M161.0 274.8h0.8M168.2 267.5h0.8M160.2 288.2h0.8M168.4 278.6h0.8M163.5 279.2h0.8M167.9 273.2h0.8M167.0 278.7h0.8M168.5 280.5h0.8M169.9 278.6h0.8M163.8 281.5h0.8M163.2 275.5h0.8M164.8 280.3h0.8M163.8 282.6h0.8M168.2 281.3h0.8M165.8 280.5h0.8M166.2 278.5h0.8M167.4 274.9h0.8M164.7 281.2h0.8M169.5 277.4h0.8M160.5 275.1h0.8M166.8 282.1h0.8M167.7 272.4h0.8M163.7 276.7h0.8M164.0 282.1h0.8M168.9 282.9h0.8M165.1 277.4h0.8M160.2 279.2h0.8M161.9 281.2h0.8M169.2 278.7h0.8M163.4 275.8h0.8M170.1 280.7h0.8M170.3 279.6h0.8M165.5 279.4h0.8M167.8 283.5h0.8M163.5 280.2h0.8M164.8 277.1h0.8M163.9 279.6h0.8M167.9 286.9h0.8M162.1 276.0h0.8M165.7 277.9h0.8M166.2 275.7h0.8M167.7 280.4h0.8M159.5 273.8h0.8M160.6 280.8h0.8M163.4 282.1h0.8M165.4 275.8h0.8M166.5 275.5h0.8M166.7 272.9h0.8M172.3 279.1h0.8M168.1 274.4h0.8M167.9 276.4h0.8M164.5 277.2h0.8M168.5 276.1h0.8M168.2 282.4h0.8M168.1 285.5h0.8M165.7 270.2h0.8M168.0 275.6h0.8M170.7 280.0h0.8M163.6 274.7h0.8M159.4 276.8h0.8M168.6 279.8h0.8M168.3 284.7h0.8M165.3 283.8h0.8M164.7 277.8h0.8M174.5 279.5h0.8M164.6 277.5h0.8M162.3 278.3h0.8M164.6 274.2h0.8M167.6 271.7h0.8M164.1 277.5h0.8M164.8 283.0h0.8M167.0 282.1h0.8M164.7 271.3h0.8M166.4 278.2h0.8M165.9 276.4h0.8M162.8 280.2h0.8M166.2 274.5h0.8M162.5 282.7h0.8M168.9 278.1h0.8M163.2 281.3h0.8M165.3 282.6h0.8M160.4 271.0h0.8M164.6 278.1h0.8M162.2 285.2h0.8M170.6 279.1h0.8M165.6 283.3h0.8M167.6 280.7h0.8M160.6 276.9h0.8M162.2 280.1h0.8M165.5 283.3h0.8M161.8 284.3h0.8M169.5 284.9h0.8M164.8 274.4h0.8M166.5 282.4h0.8M166.9 273.3h0.8M165.5 278.4h0.8M168.4 278.1h0.8M163.9 281.6h0.8M167.1 280.3h0.8M169.7 284.1h0.8M166.7 276.5h0.8M166.4 282.4h0.8M165.0 280.6h0.8M166.2 279.0h0.8M168.1 274.1h0.8M165.2 281.3h0.8M160.8 280.3h0.8M166.5 282.2h0.8M165.5 278.8h0.8M167.4 277.9h0.8M166.1 280.6h0.8M170.8 280.9h0.8M162.3 281.8h0.8M163.0 286.7h0.8M168.0 276.5h0.8M162.8 287.2h0.8M167.0 266.9h0.8M165.9 282.9h0.8M160.0 275.6h0.8M168.0 287.2h0.8M170.2 275.4h0.8M166.6 283.3h0.8M161.7 274.9h0.8M168.4 274.4h0.8M162.8 282.3h0.8M165.6 282.5h0.8M167.3 276.1h0.8M163.6 288.8h0.8M160.8 277.7h0.8M165.6 285.4h0.8M165.9 274.8h0.8M163.4 275.0h0.8M163.6 279.4h0.8M168.2 274.8h0.8M165.7 280.9h0.8M164.6 270.2h0.8M164.2 279.7h0.8M166.5 276.7h0.8M166.3 275.1h0.8M165.5 279.9h0.8M161.8 278.1h0.8M164.8 277.2h0.8M164.1 282.3h0.8M166.2 280.2h0.8M169.5 280.5h0.8M168.9 284.4h0.8M167.9 278.7h0.8M166.3 282.4h0.8M165.0 277.3h0.8M167.0 281.5h0.8M164.5 281.1h0.8M164.9 276.8h0.8M163.4 272.8h0.8M165.8 273.8h0.8M165.7 275.1h0.8M171.5 281.3h0.8M167.6 278.4h0.8M164.8 277.8h0.8M168.3 280.9h0.8M164.5 282.0h0.8M169.0 284.7h0.8M168.3 276.6h0.8M174.7 281.2h0.8M162.7 281.9h0.8M165.7 275.1h0.8M165.6 279.5h0.8M166.9 275.3h0.8M168.1 278.1h0.8M163.0 280.7h0.8M163.8 272.0h0.8M166.9 275.4h0.8M168.9 275.7h0.8M162.6 279.4h0.8M161.3 276.0h0.8M169.4 280.5h0.8M168.5 275.5h0.8M169.2 276.9h0.8M163.0 281.5h0.8M165.4 280.3h0.8M166.6 279.6h0.8M167.3 278.8h0.8M165.6 283.1h0.8M165.8 284.6h0.8M169.0 277.5h0.8M164.7 276.0h0.8M164.3 274.7h0.8M164.7 286.1h0.8M164.4 275.3h0.8M166.4 273.6h0.8M165.3 280.1h0.8M164.7 283.3h0.8M170.2 274.0h0.8M166.9 278.5h0.8M165.0 273.1h0.8M169.7 276.2h0.8M164.3 285.6h0.8M166.0 279.7h0.8M165.7 277.9h0.8M164.3 279.3h0.8M164.8 280.1h0.8M166.2 278.6h0.8M161.7 274.2h0.8M164.8 274.2h0.8M166.7 287.2h0.8M166.8 275.9h0.8M166.9 283.9h0.8M172.9 276.1h0.8M167.9 284.3h0.8M165.5 281.8h0.8M165.6 278.1h0.8M166.0 287.2h0.8M167.3 275.2h0.8M165.1 278.0h0.8M170.4 275.5h0.8M162.7 275.8h0.8M167.8 277.5h0.8M167.5 275.1h0.8M162.6 277.7h0.8M167.8 285.4h0.8M167.6 271.9h0.8M164.1 273.9h0.8M172.8 275.1h0.8M168.1 277.1h0.8M165.0 283.1h0.8M164.6 281.9h0.8M163.8 280.9h0.8M166.7 279.8h0.8M166.1 288.8h0.8M161.8 274.4h0.8M162.9 274.3h0.8M163.9 278.9h0.8M164.8 279.8h0.8M164.9 278.0h0.8M164.0 275.6h0.8M167.9 273.7h0.8M168.8 277.9h0.8M166.2 276.1h0.8M159.5 277.0h0.8M165.5 274.6h0.8M167.6 284.5h0.8M165.7 280.8h0.8M166.8 286.5h0.8M166.3 276.9h0.8M161.6 279.2h0.8M158.5 278.0h0.8M167.8 279.1h0.8M164.4 278.0h0.8M167.2 278.3h0.8M165.1 271.0h0.8M165.5 277.9h0.8M170.0 281.8h0.8M162.4 271.1h0.8M165.9 277.6h0.8M162.7 281.3h0.8M166.2 284.2h0.8M167.4 278.7h0.8M167.9 280.9h0.8M166.4 286.1h0.8M161.9 284.3h0.8M166.7 277.2h0.8M168.6 276.5h0.8M168.9 283.1h0.8M172.3 279.9h0.8M167.6 276.8h0.8M163.0 278.1h0.8M164.4 280.3h0.8M166.2 278.2h0.8M169.0 278.0h0.8M162.6 278.0h0.8M168.6 272.9h0.8M167.9 286.1h0.8M163.4 284.0h0.8M167.7 285.2h0.8M163.7 278.4h0.8M165.9 279.5h0.8M165.1 281.3h0.8M166.7 282.3h0.8M162.5 271.6h0.8M167.5 280.4h0.8M159.6 274.9h0.8M164.8 278.7h0.8M164.3 276.3h0.8M170.6 285.9h0.8M167.5 281.2h0.8M164.5 278.9h0.8M163.3 284.7h0.8M166.1 278.7h0.8M164.1 276.0h0.8M172.5 278.2h0.8M157.8 277.5h0.8M166.1 279.2h0.8M158.7 282.4h0.8M169.0 278.5h0.8M163.6 278.7h0.8M170.7 283.1h0.8M164.4 280.2h0.8M169.1 282.9h0.8M166.6 279.5h0.8M169.4 273.7h0.8M166.0 274.4h0.8M157.2 272.2h0.8M163.8 283.6h0.8M161.4 280.7h0.8M168.7 277.1h0.8M167.5 275.0h0.8M166.0 280.5h0.8M167.3 278.5h0.8M166.5 280.3h0.8M164.3 275.6h0.8M171.7 274.5h0.8M166.7 285.4h0.8M165.4 275.1h0.8M161.6 278.9h0.8M164.1 284.4h0.8M166.0 271.5h0.8M165.4 281.8h0.8M164.6 279.3h0.8M165.8 278.4h0.8M162.7 280.1h0.8M166.0 274.2h0.8M161.4 270.0h0.8M163.4 286.7h0.8M163.8 277.8h0.8M168.5 282.6h0.8M167.4 283.5h0.8M166.2 280.2h0.8M162.6 280.9h0.8M164.8 281.9h0.8M168.3 285.4h0.8M169.6 281.0h0.8M161.6 284.1h0.8M164.7 277.8h0.8M166.3 277.3h0.8M167.0 279.3h0.8M166.0 280.6h0.8M167.9 281.2h0.8M161.7 286.9h0.8M170.5 282.4h0.8M162.6 279.3h0.8M166.1 287.1h0.8M167.5 280.3h0.8M169.4 280.5h0.8M168.6 281.0h0.8M168.5 277.7h0.8M169.7 274.6h0.8M165.5 279.5h0.8M168.2 277.8h0.8M170.5 275.5h0.8M163.7 279.5h0.8M161.9 278.2h0.8M163.0 276.6h0.8M170.2 271.8h0.8M169.7 278.3h0.8M164.9 286.1h0.8M166.7 282.6h0.8M167.4 283.4h0.8M169.1 278.9h0.8M160.4 283.3h0.8M164.3 276.3h0.8M165.2 277.2h0.8M166.9 281.1h0.8M166.2 273.2h0.8M165.1 279.2h0.8M166.9 280.2h0.8M158.4 285.9h0.8M175.1 276.2h0.8M168.4 280.7h0.8M168.6 276.4h0.8M164.1 276.8h0.8M167.2 268.1h0.8M172.1 275.2h0.8M171.4 283.7h0.8M166.2 281.1h0.8M162.3 279.7h0.8M166.5 289.0h0.8M165.1 281.2h0.8M168.5 274.0h0.8M162.2 278.2h0.8M165.5 278.8h0.8M166.8 285.5h0.8M164.6 275.4h0.8M169.1 280.7h0.8M162.7 283.0h0.8M162.4 275.7h0.8M165.0 279.4h0.8M168.5 270.9h0.8M165.1 279.4h0.8M164.3 270.1h0.8M168.4 277.5h0.8M166.7 286.0h0.8M164.5 280.7h0.8M166.4 279.2h0.8M165.3 279.6h0.8M167.8 287.8h0.8M166.4 281.3h0.8M163.7 283.2h0.8M164.6 277.3h0.8M164.8 277.3h0.8M167.1 274.8h0.8M167.1 278.3h0.8M163.6 276.2h0.8M165.5 283.0h0.8M166.9 281.6h0.8M169.3 278.5h0.8M166.8 276.8h0.8M171.8 267.3h0.8M166.1 276.6h0.8M168.2 280.3h0.8M165.1 281.7h0.8M163.1 266.5h0.8M166.3 269.3h0.8M167.5 279.7h0.8M167.0 274.8h0.8M166.5 278.1h0.8M165.0 277.1h0.8M163.6 281.4h0.8M165.1 271.5h0.8M167.4 276.7h0.8M168.9 282.8h0.8M156.3 279.9h0.8M167.8 275.7h0.8M169.2 280.9h0.8M169.8 280.2h0.8M167.2 275.4h0.8M168.0 281.8h0.8M164.7 281.8h0.8M165.8 278.5h0.8M167.6 282.8h0.8M162.8 274.3h0.8M163.7 282.1h0.8M166.6 278.2h0.8M162.1 275.2h0.8M166.2 276.6h0.8M161.6 283.8h0.8M166.6 276.8h0.8M166.1 277.6h0.8M164.3 276.4h0.8M163.2 275.8h0.8M164.5 282.9h0.8M159.4 288.0h0.8M164.8 284.4h0.8M166.4 281.1h0.8M169.6 282.1h0.8M164.5 277.6h0.8M165.5 277.0h0.8M170.1 274.3h0.8M171.2 284.9h0.8M164.6 277.7h0.8M169.1 276.1h0.8M169.5 276.4h0.8M167.5 279.8h0.8M163.1 276.8h0.8M163.2 279.1h0.8M167.7 279.7h0.8M173.0 284.4h0.8M165.5 274.0h0.8M170.7 280.2h0.8M171.6 276.2h0.8M162.3 277.3h0.8M164.2 285.6h0.8M170.5 281.6h0.8M168.9 277.5h0.8M167.6 281.0h0.8M166.0 278.9h0.8M167.9 283.5h0.8M164.1 277.1h0.8M173.5 281.0h0.8M162.6 278.2h0.8M160.7 279.1h0.8M166.5 278.4h0.8M170.3 276.5h0.8M164.6 279.5h0.8M165.9 283.0h0.8M163.0 276.6h0.8M165.8 277.5h0.8M163.0 280.5h0.8M163.0 276.0h0.8M161.6 282.6h0.8M164.4 281.9h0.8M171.6 269.7h0.8M165.8 276.4h0.8M166.6 274.7h0.8M172.7 282.4h0.8M164.1 282.8h0.8M163.0 274.2h0.8M167.6 276.3h0.8M162.3 278.7h0.8M167.0 277.5h0.8M169.5 281.9h0.8M162.8 283.0h0.8M164.5 281.4h0.8M171.1 283.5h0.8M162.9 282.8h0.8M164.0 278.8h0.8M166.7 277.3h0.8M165.1 276.1h0.8M163.5 282.4h0.8M170.8 282.6h0.8M164.3 283.2h0.8M167.0 277.7h0.8M164.8 277.5h0.8M165.3 280.1h0.8M161.9 284.1h0.8M168.8 280.5h0.8M164.7 280.0h0.8M169.8 275.7h0.8M162.5 280.8h0.8M164.6 281.2h0.8M167.4 275.2h0.8M166.3 286.1h0.8M164.1 275.3h0.8M165.6 282.8h0.8M162.1 278.2h0.8M166.2 279.7h0.8M158.1 275.9h0.8M166.5 276.8h0.8M170.1 281.9h0.8M168.7 278.3h0.8M168.6 277.7h0.8M164.8 282.6h0.8M167.5 281.9h0.8M164.8 279.7h0.8M165.7 280.0h0.8M165.7 286.0h0.8M156.0 278.4h0.8M168.8 280.6h0.8M167.4 280.8h0.8M168.5 273.4h0.8M163.2 271.3h0.8M168.1 279.6h0.8M167.5 282.6h0.8M159.4 279.9h0.8M160.8 276.9h0.8M166.2 276.4h0.8M164.0 282.3h0.8M166.0 277.9h0.8M164.1 272.6h0.8M170.5 281.8h0.8M160.3 280.0h0.8M161.9 280.6h0.8M163.1 283.3h0.8M161.9 284.4h0.8M164.3 281.3h0.8M165.9 278.4h0.8M162.0 270.5h0.8M167.1 280.3h0.8M169.9 278.5h0.8M169.3 284.4h0.8M172.0 284.2h0.8M169.4 281.0h0.8M165.9 284.6h0.8M171.3 278.8h0.8M168.1 278.9h0.8M171.6 275.6h0.8M165.4 277.8h0.8M159.8 279.9h0.8M162.5 283.3h0.8M166.6 276.1h0.8M167.7 282.3h0.8M165.4 288.5h0.8M169.0 273.6h0.8M162.6 278.0h0.8M163.9 279.1h0.8M169.0 283.1h0.8M166.2 287.1h0.8M166.3 284.0h0.8M170.2 278.9h0.8M169.3 275.6h0.8M163.7 278.8h0.8M166.6 278.9h0.8M161.0 280.0h0.8M166.0 275.4h0.8M167.2 285.2h0.8M160.9 276.1h0.8M170.7 281.8h0.8M172.0 279.9h0.8M167.5 274.6h0.8M168.8 279.3h0.8M170.5 279.1h0.8M165.5 278.3h0.8M169.2 282.3h0.8M167.2 277.1h0.8M161.5 289.3h0.8M163.4 283.6h0.8M164.4 275.3h0.8M169.3 269.0h0.8M166.4 284.1h0.8M169.0 280.1h0.8M164.7 279.4h0.8M162.3 275.1h0.8M172.2 273.2h0.8M174.2 271.5h0.8M167.2 289.4h0.8M165.5 285.5h0.8M169.6 276.8h0.8M162.8 286.6h0.8M165.5 271.5h0.8M161.8 281.9h0.8M167.5 281.9h0.8M166.8 275.6h0.8M164.9 277.2h0.8M164.1 274.8h0.8M161.5 279.2h0.8M163.6 284.4h0.8M169.8 283.1h0.8M165.0 280.7h0.8M169.8 283.6h0.8M163.5 271.8h0.8M165.8 287.2h0.8M164.7 278.8h0.8M165.3 273.7h0.8M168.4 277.5h0.8M160.0 276.4h0.8M168.3 279.4h0.8M168.2 280.3h0.8M166.1 269.5h0.8M166.3 284.1h0.8M165.4 286.0h0.8M168.1 274.8h0.8M166.3 285.0h0.8M163.6 284.1h0.8M166.5 283.1h0.8M168.9 285.7h0.8M167.2 273.4h0.8M166.2 282.0h0.8M166.7 274.9h0.8M164.6 288.7h0.8M164.7 275.1h0.8M160.5 274.0h0.8M165.5 283.6h0.8M169.0 281.5h0.8M164.9 279.1h0.8M163.4 279.6h0.8M168.8 281.5h0.8M166.6 286.1h0.8M166.5 276.1h0.8M167.5 276.7h0.8M168.2 276.7h0.8M166.0 278.7h0.8M163.6 279.1h0.8M171.3 273.8h0.8M166.3 280.2h0.8M163.8 273.8h0.8M166.6 277.7h0.8M169.6 278.0h0.8M161.9 278.0h0.8M170.0 285.1h0.8M165.7 285.7h0.8M172.0 283.4h0.8M168.1 285.5h0.8M165.8 277.8h0.8M169.8 284.8h0.8M169.9 278.8h0.8M165.0 279.9h0.8M166.8 280.1h0.8M164.6 273.5h0.8M168.8 276.5h0.8M161.9 278.4h0.8M165.6 280.5h0.8M159.8 278.5h0.8M167.8 275.5h0.8M159.5 274.3h0.8M163.0 279.0h0.8M166.9 274.2h0.8M165.0 274.2h0.8M164.8 278.6h0.8M163.2 279.7h0.8M164.7 275.6h0.8M160.9 271.7h0.8M167.0 280.2h0.8M168.5 282.4h0.8M168.3 277.3h0.8M166.0 277.5h0.8M169.7 269.5h0.8M167.5 282.7h0.8M168.9 274.5h0.8M167.2 281.9h0.8M166.2 276.6h0.8M163.8 278.4h0.8M158.3 278.2h0.8M168.0 271.6h0.8M165.7 290.3h0.8M172.0 272.6h0.8M160.2 279.5h0.8M168.6 275.7h0.8M163.3 278.0h0.8M166.1 284.6h0.8M163.5 271.4h0.8M167.1 278.4h0.8M166.0 281.0h0.8M168.7 279.5h0.8M166.5 280.6h0.8M167.5 275.9h0.8M169.9 272.3h0.8M167.6 273.6h0.8M165.7 277.3h0.8M169.7 282.0h0.8M165.8 279.3h0.8M167.3 285.6h0.8M165.1 279.4h0.8M164.1 279.8h0.8M157.2 279.8h0.8M168.1 271.9h0.8M162.7 281.4h0.8M168.3 274.4h0.8M171.4 277.4h0.8M162.2 288.6h0.8M168.7 273.9h0.8M165.8 279.5h0.8M167.4 280.2h0.8M162.6 279.5h0.8M166.2 279.0h0.8M166.6 276.7h0.8M170.3 287.2h0.8M172.4 270.8h0.8M167.0 274.8h0.8M165.0 285.1h0.8M172.6 281.3h0.8M165.8 275.9h0.8M165.9 275.3h0.8M166.4 278.0h0.8M167.5 289.8h0.8M168.2 281.0h0.8M164.4 274.8h0.8M165.8 280.0h0.8M171.7 276.4h0.8M170.8 285.1h0.8M167.4 280.2h0.8M166.9 284.2h0.8M165.4 279.7h0.8M169.1 287.4h0.8M164.6 280.7h0.8M166.5 280.2h0.8M164.8 274.8h0.8M164.3 277.3h0.8M166.2 280.6h0.8M166.1 277.0h0.8M164.4 289.2h0.8M165.9 279.0h0.8M166.3 275.9h0.8M164.7 283.0h0.8M164.2 276.8h0.8M165.7 280.7h0.8M168.2 278.6h0.8M169.4 276.0h0.8M166.7 284.7h0.8M165.3 279.4h0.8M166.0 283.5h0.8M171.8 277.6h0.8M168.8 273.1h0.8M163.3 273.9h0.8M166.0 276.9h0.8M164.6 278.2h0.8M165.1 279.2h0.8M161.2 281.1h0.8M166.2 273.9h0.8M162.1 279.9h0.8M164.4 274.0h0.8M170.6 276.2h0.8M169.1 289.5h0.8M163.6 284.2h0.8M163.1 277.5h0.8M163.4 286.3h0.8M160.6 284.8h0.8M163.2 282.6h0.8M165.3 285.0h0.8M163.0 278.0h0.8M168.4 278.5h0.8M166.0 275.5h0.8M164.6 281.4h0.8M171.3 273.9h0.8M168.2 276.9h0.8M166.3 280.9h0.8M171.6 276.9h0.8M170.0 280.4h0.8M164.1 286.5h0.8M167.1 275.0h0.8M164.8 284.8h0.8M161.9 276.2h0.8M171.7 275.2h0.8M170.6 279.9h0.8M162.4 283.2h0.8M167.6 276.1h0.8M161.3 276.0h0.8M169.3 277.2h0.8M166.0 276.0h0.8M165.3 279.8h0.8M169.9 276.1h0.8M166.2 278.0h0.8M165.4 280.5h0.8M168.8 277.3h0.8M165.2 283.7h0.8M168.7 276.2h0.8M166.1 275.8h0.8M168.6 287.4h0.8M168.0 285.2h0.8M168.5 279.3h0.8M163.2 282.4h0.8M171.7 280.4h0.8M165.7 276.9h0.8M171.4 281.8h0.8M164.4 280.2h0.8M165.3 284.3h0.8M165.4 271.4h0.8M169.6 282.3h0.8M164.9 279.7h0.8M167.4 276.2h0.8M161.5 277.2h0.8M164.7 277.3h0.8M166.8 273.6h0.8M165.8 276.6h0.8M160.6 282.2h0.8M167.6 272.8h0.8M163.3 277.5h0.8M171.9 269.3h0.8M165.6 276.6h0.8M172.9 280.6h0.8M168.1 278.8h0.8M167.5 279.2h0.8M164.7 274.4h0.8M165.8 281.3h0.8M167.5 275.3h0.8M160.3 282.7h0.8M169.1 279.9h0.8M162.6 277.4h0.8M165.4 285.1h0.8M158.0 277.4h0.8M167.5 283.2h0.8M168.4 279.4h0.8M167.0 279.0h0.8M167.1 283.1h0.8M165.0 280.8h0.8M166.6 279.0h0.8M169.7 278.5h0.8M164.9 279.9h0.8M167.6 279.4h0.8M168.3 277.7h0.8M165.4 274.8h0.8M166.8 268.4h0.8M166.8 278.5h0.8M164.7 278.0h0.8M173.4 284.0h0.8M164.8 280.8h0.8M171.3 283.7h0.8M169.3 286.1h0.8M160.0 278.6h0.8M166.9 275.6h0.8M169.2 282.4h0.8M168.6 276.6h0.8M163.4 278.0h0.8M166.9 284.9h0.8M162.5 281.3h0.8M163.0 283.5h0.8M165.4 273.5h0.8M166.7 279.2h0.8M170.9 283.6h0.8M167.2 273.8h0.8M169.3 279.8h0.8M162.5 280.7h0.8M162.7 269.6h0.8M164.7 285.6h0.8M171.4 276.1h0.8M162.1 278.4h0.8M161.4 285.9h0.8M165.9 271.7h0.8M169.7 280.9h0.8M161.2 277.2h0.8M165.4 279.2h0.8M162.0 275.7h0.8M170.5 284.6h0.8M168.2 274.4h0.8M166.9 280.5h0.8M166.0 281.2h0.8M165.4 278.6h0.8M166.5 277.9h0.8M164.2 277.9h0.8M163.5 283.2h0.8M162.8 280.9h0.8M166.2 278.7h0.8M163.7 274.5h0.8M168.8 279.7h0.8M159.8 281.2h0.8M167.8 278.9h0.8M167.7 284.9h0.8M169.8 271.2h0.8M165.4 289.2h0.8M161.6 278.3h0.8M163.3 274.3h0.8M169.5 271.9h0.8M165.2 282.6h0.8M164.9 281.4h0.8M164.4 278.1h0.8M165.9 278.8h0.8M165.4 279.7h0.8M161.4 277.3h0.8M164.3 283.7h0.8M169.1 281.6h0.8M170.5 278.5h0.8M165.7 272.3h0.8M164.6 284.6h0.8M170.2 277.1h0.8M165.6 274.8h0.8M162.6 284.3h0.8M165.7 281.1h0.8M168.2 270.8h0.8M170.8 272.2h0.8M164.6 277.4h0.8M167.7 273.9h0.8M165.1 278.4h0.8M169.5 289.8h0.8M166.9 291.2h0.8M166.9 278.9h0.8M163.1 282.3h0.8M165.1 282.7h0.8M165.1 278.5h0.8M155.2 273.0h0.8M168.7 283.4h0.8M166.1 278.3h0.8M165.5 280.9h0.8M165.0 281.9h0.8M166.2 275.7h0.8M166.8 286.0h0.8M162.2 279.3h0.8M166.5 280.0h0.8M166.4 277.3h0.8M166.2 281.9h0.8M161.6 283.2h0.8M165.7 276.7h0.8M162.2 281.4h0.8M167.2 277.3h0.8M170.1 274.0h0.8M168.7 277.7h0.8M165.1 281.5h0.8M164.5 281.3h0.8M164.4 283.5h0.8M167.2 276.3h0.8M164.1 277.8h0.8M164.5 279.3h0.8M158.5 281.6h0.8M163.5 278.6h0.8M163.7 275.1h0.8M164.5 272.7h0.8M169.8 283.9h0.8M162.0 283.4h0.8M162.1 276.3h0.8M167.9 285.1h0.8M163.1 278.8h0.8M165.6 280.9h0.8M166.6 284.2h0.8M166.1 277.1h0.8M163.8 275.9h0.8M168.9 271.9h0.8M170.6 280.3h0.8M163.1 280.9h0.8M165.3 282.6h0.8M168.9 281.5h0.8M165.5 279.5h0.8M163.1 283.8h0.8M164.8 274.8h0.8M168.6 280.7h0.8M163.1 281.2h0.8M166.9 278.6h0.8M167.2 286.2h0.8M164.1 280.9h0.8M167.8 284.6h0.8M168.1 282.8h0.8M169.1 278.3h0.8M168.9 287.0h0.8M161.6 283.6h0.8M168.8 279.1h0.8M167.8 278.6h0.8M169.0 274.8h0.8M163.5 278.4h0.8M168.8 278.1h0.8M167.2 279.9h0.8M162.6 277.3h0.8M169.9 281.4h0.8M163.7 278.7h0.8M163.0 272.6h0.8M167.3 277.0h0.8M164.3 275.4h0.8M167.2 273.8h0.8M165.4 278.0h0.8M166.9 282.8h0.8M168.6 274.5h0.8M166.0 270.8h0.8M168.7 278.4h0.8M168.6 291.4h0.8M163.6 276.6h0.8M168.7 280.2h0.8M168.0 277.4h0.8M166.5 282.6h0.8M169.5 285.0h0.8M171.1 278.4h0.8M168.4 283.9h0.8M161.7 274.6h0.8M167.4 279.9h0.8M165.7 273.9h0.8M165.3 279.9h0.8M167.1 276.6h0.8M165.1 280.1h0.8M171.0 274.5h0.8M166.9 280.0h0.8M166.2 279.5h0.8M168.5 276.7h0.8M168.5 275.8h0.8M169.7 274.2h0.8M168.0 277.5h0.8M166.0 280.7h0.8M166.5 278.5h0.8M159.6 279.7h0.8M161.7 284.3h0.8M169.2 277.8h0.8M165.1 280.3h0.8M171.6 282.5h0.8M171.5 281.2h0.8M162.4 280.7h0.8M167.1 279.4h0.8M174.8 287.0h0.8M163.8 278.8h0.8M167.3 277.5h0.8M165.4 281.5h0.8M165.4 285.8h0.8M165.3 284.9h0.8M166.1 279.2h0.8M168.4 282.5h0.8M163.7 281.2h0.8M167.6 279.4h0.8M164.0 281.8h0.8M167.7 281.7h0.8M167.1 279.7h0.8M163.8 286.2h0.8M166.5 277.6h0.8M163.9 284.8h0.8M163.6 287.7h0.8M169.6 287.8h0.8M160.7 280.2h0.8M167.8 278.4h0.8M168.3 272.5h0.8M164.3 278.9h0.8M169.4 289.2h0.8M168.9 272.7h0.8M162.2 272.7h0.8M167.7 282.6h0.8M167.5 281.7h0.8M163.9 271.6h0.8M167.9 278.9h0.8M168.4 280.5h0.8M164.0 272.9h0.8M160.1 283.1h0.8M167.3 273.7h0.8M163.9 283.8h0.8M161.0 279.9h0.8M165.0 276.2h0.8M159.0 272.5h0.8M165.1 277.7h0.8M170.6 278.7h0.8M157.6 278.6h0.8M167.5 276.7h0.8M163.3 278.2h0.8M164.9 282.7h0.8M163.4 275.4h0.8M168.0 278.2h0.8M166.1 281.0h0.8M163.8 279.0h0.8M162.2 282.7h0.8M164.8 285.5h0.8M169.6 277.6h0.8M162.5 280.0h0.8" stroke="#000" stroke-width="0.8" fill="none" filter="url(#bl)"/>
<path d="M150.2 277.0h0.6M165.7 275.6h0.6M171.9 279.4h0.6M175.8 271.0h0.6M156.5 272.5h0.6M176.0 279.0h0.6M164.7 260.7h0.6M161.7 281.8h0.6M164.9 270.6h0.6M166.2 264.0h0.6M161.7 268.8h0.6M159.5 279.6h0.6M164.7 282.3h0.6M173.5 285.6h0.6M170.3 279.1h0.6M175.9 269.8h0.6M164.1 280.1h0.6M165.7 275.0h0.6M165.8 294.3h0.6M168.7 259.2h0.6M170.6 288.5h0.6M178.4 281.8h0.6M172.0 278.9h0.6M168.8 274.9h0.6M176.0 271.2h0.6M163.1 268.0h0.6M159.9 263.2h0.6M171.8 292.0h0.6M168.8 283.2h0.6M168.5 281.1h0.6M173.4 278.6h0.6M165.8 260.4h0.6M167.1 273.5h0.6M170.1 276.7h0.6M171.7 285.0h0.6M173.7 267.7h0.6M168.5 278.0h0.6M169.4 273.9h0.6M153.2 276.0h0.6M175.1 269.6h0.6M158.3 278.7h0.6M167.5 276.5h0.6M183.0 260.9h0.6M165.8 285.5h0.6M158.3 293.4h0.6M177.5 268.8h0.6M164.4 285.0h0.6M166.8 268.0h0.6M166.8 271.6h0.6M172.2 289.9h0.6M172.4 277.5h0.6M167.0 288.0h0.6M174.5 278.2h0.6M162.3 284.0h0.6M171.8 274.6h0.6M164.0 287.4h0.6M172.0 290.2h0.6M163.7 281.4h0.6M165.1 271.4h0.6M176.6 273.0h0.6M161.0 268.4h0.6M160.7 280.8h0.6M171.2 280.1h0.6M166.1 270.4h0.6M165.2 283.3h0.6M166.9 271.4h0.6M180.5 290.6h0.6M161.5 282.6h0.6M166.1 288.7h0.6M168.7 270.3h0.6M162.1 268.1h0.6M167.5 261.4h0.6M170.7 281.2h0.6M162.3 267.1h0.6M174.5 286.8h0.6M160.9 277.2h0.6M166.9 282.2h0.6M169.8 265.8h0.6M186.8 271.3h0.6M157.2 277.6h0.6M169.4 282.0h0.6M182.9 265.8h0.6M164.1 278.8h0.6M174.3 269.5h0.6M169.0 282.6h0.6M159.1 274.3h0.6M170.1 273.7h0.6M162.4 279.6h0.6M168.2 285.4h0.6M158.7 274.2h0.6M172.1 285.9h0.6M153.2 268.2h0.6M166.7 278.4h0.6M175.4 267.2h0.6M170.8 277.8h0.6M165.6 268.8h0.6M166.3 276.4h0.6M165.2 281.1h0.6M184.0 268.4h0.6M167.4 262.1h0.6M167.6 274.7h0.6M163.3 280.3h0.6M164.9 278.0h0.6M171.4 268.9h0.6M164.1 282.8h0.6M162.9 273.8h0.6M164.4 282.2h0.6M165.6 269.0h0.6M168.7 279.6h0.6M164.8 285.5h0.6M166.6 270.8h0.6M163.2 273.8h0.6M175.1 281.0h0.6M168.2 280.2h0.6M165.8 278.9h0.6M169.4 275.1h0.6M167.4 263.6h0.6M158.3 276.0h0.6M166.6 265.8h0.6M177.6 276.7h0.6M170.7 257.4h0.6M174.8 287.5h0.6M163.7 291.2h0.6M158.8 279.6h0.6M163.5 269.3h0.6M175.8 273.6h0.6M161.7 283.1h0.6M162.9 281.2h0.6M174.3 270.5h0.6M166.2 285.5h0.6M166.5 281.8h0.6M170.0 280.2h0.6M168.2 273.2h0.6M165.9 276.0h0.6M169.2 270.3h0.6M163.4 277.5h0.6M167.4 270.7h0.6M171.6 285.3h0.6M161.3 276.3h0.6M166.4 277.6h0.6M160.8 278.6h0.6M172.2 278.5h0.6M171.4 264.7h0.6M173.4 286.1h0.6M173.9 276.7h0.6M173.8 271.6h0.6M172.0 268.3h0.6M163.0 270.5h0.6M173.3 271.1h0.6M162.2 276.1h0.6M181.7 269.1h0.6M169.4 276.8h0.6M171.3 277.1h0.6M160.3 270.5h0.6M174.1 293.5h0.6M174.7 275.0h0.6M158.3 278.6h0.6M164.4 276.8h0.6M164.9 274.6h0.6M163.8 281.2h0.6M176.0 286.8h0.6M180.7 275.3h0.6M161.3 269.1h0.6M174.0 280.2h0.6M166.1 258.8h0.6M175.9 277.1h0.6M153.0 274.4h0.6M165.1 278.4h0.6M175.0 263.9h0.6M163.1 272.4h0.6M174.8 267.7h0.6M164.6 271.5h0.6M174.5 280.4h0.6M171.2 274.2h0.6M165.2 271.0h0.6M163.1 285.1h0.6M166.7 275.8h0.6M174.6 259.7h0.6M167.6 267.4h0.6M163.7 278.9h0.6M187.6 279.1h0.6M158.2 277.4h0.6M166.3 277.7h0.6M170.9 268.5h0.6M161.4 274.8h0.6M167.6 266.2h0.6M165.2 268.9h0.6M158.8 268.3h0.6M170.4 268.9h0.6M160.8 272.8h0.6M163.2 273.7h0.6M175.1 269.1h0.6M161.0 284.0h0.6M171.3 271.8h0.6M174.8 287.5h0.6M173.6 283.3h0.6M170.5 265.8h0.6M166.3 282.4h0.6M159.2 264.3h0.6M168.5 286.7h0.6M170.3 277.9h0.6M164.6 267.4h0.6M161.7 258.0h0.6M172.9 272.1h0.6M161.3 264.5h0.6M170.3 283.8h0.6M164.8 265.4h0.6M157.5 273.3h0.6M177.3 279.0h0.6M171.3 275.2h0.6M170.9 277.2h0.6M159.1 273.1h0.6M166.9 280.8h0.6M169.3 267.7h0.6M163.1 279.5h0.6M177.5 265.6h0.6M155.5 276.4h0.6M171.8 266.1h0.6M156.2 273.4h0.6M158.2 279.6h0.6M159.9 284.8h0.6M171.0 260.8h0.6M163.3 268.9h0.6M163.5 267.3h0.6M162.1 284.5h0.6M158.6 268.1h0.6M162.1 280.5h0.6M161.6 270.9h0.6M165.6 263.6h0.6M165.2 275.8h0.6M153.0 266.0h0.6M163.6 280.7h0.6M174.7 281.5h0.6M164.6 285.4h0.6M167.0 266.9h0.6M163.0 287.4h0.6M163.2 282.6h0.6M166.9 260.8h0.6M159.2 292.4h0.6M166.3 288.2h0.6M157.3 266.7h0.6M169.3 277.5h0.6M157.8 264.3h0.6M171.2 273.9h0.6M173.3 276.4h0.6M157.5 279.8h0.6M171.3 268.4h0.6M164.8 274.7h0.6M174.2 267.6h0.6M164.0 277.9h0.6M165.5 280.2h0.6M165.4 275.5h0.6M174.7 284.0h0.6M155.5 280.9h0.6M171.7 277.8h0.6M167.7 284.1h0.6M164.2 265.1h0.6M165.7 274.6h0.6M172.7 260.9h0.6M172.1 274.8h0.6M177.3 271.2h0.6M163.3 281.4h0.6M155.7 271.4h0.6M163.8 269.8h0.6M165.9 274.2h0.6M164.5 273.9h0.6M174.4 279.0h0.6M180.8 268.0h0.6M169.4 263.0h0.6M156.4 262.3h0.6M173.3 284.0h0.6M163.2 264.9h0.6M167.3 271.2h0.6M172.1 266.2h0.6M169.3 281.9h0.6M166.7 270.4h0.6M168.8 284.6h0.6M171.6 269.3h0.6M170.8 277.3h0.6M179.5 280.9h0.6M149.1 282.6h0.6M162.4 265.5h0.6M163.6 272.0h0.6M172.0 274.3h0.6M168.4 260.4h0.6M172.2 280.6h0.6M158.5 278.0h0.6M165.7 279.0h0.6M170.9 263.9h0.6M166.7 276.4h0.6M164.7 278.4h0.6M168.7 283.1h0.6M176.9 270.8h0.6M154.4 280.3h0.6M176.6 290.5h0.6M168.7 271.5h0.6M161.9 271.7h0.6M171.0 272.4h0.6M167.3 263.1h0.6M174.3 272.1h0.6M162.2 287.8h0.6M172.9 267.6h0.6M161.6 273.4h0.6M169.0 284.4h0.6M171.2 279.4h0.6M166.6 276.8h0.6M170.9 272.3h0.6M163.5 274.1h0.6M173.4 275.1h0.6M164.0 280.4h0.6M162.8 275.6h0.6M166.4 282.4h0.6M166.7 260.2h0.6M162.0 281.5h0.6M171.8 270.8h0.6M166.3 275.1h0.6M170.7 271.6h0.6M158.1 280.1h0.6M159.2 274.1h0.6M165.5 279.9h0.6M161.1 268.6h0.6M166.3 276.5h0.6M170.4 284.7h0.6M173.7 283.8h0.6M175.9 272.2h0.6M171.8 276.1h0.6M162.8 272.1h0.6M170.4 274.1h0.6M163.9 275.1h0.6M170.3 284.6h0.6M160.7 279.6h0.6M175.1 286.5h0.6M169.5 287.1h0.6M165.4 265.0h0.6M158.9 277.5h0.6M168.8 271.5h0.6M163.9 262.3h0.6M168.6 266.5h0.6M162.8 271.0h0.6M163.8 288.2h0.6M170.8 275.7h0.6M175.9 273.6h0.6M159.5 274.8h0.6M165.9 269.1h0.6M169.4 276.4h0.6M166.2 274.3h0.6M164.4 262.2h0.6M180.1 270.8h0.6M169.2 280.0h0.6M164.2 274.3h0.6M166.5 280.3h0.6M153.4 267.4h0.6M172.4 275.8h0.6M165.8 281.9h0.6M161.3 262.4h0.6M177.1 269.3h0.6M165.4 271.9h0.6M163.4 272.8h0.6M162.0 271.0h0.6M173.5 277.2h0.6M167.3 283.1h0.6M165.2 277.8h0.6M159.1 283.1h0.6M161.7 283.3h0.6M169.2 270.4h0.6M167.0 277.2h0.6M155.0 272.1h0.6M161.8 280.2h0.6M168.5 272.3h0.6M183.2 273.6h0.6M162.6 288.4h0.6M153.8 273.7h0.6M171.7 262.8h0.6M164.2 276.0h0.6M159.2 277.4h0.6M170.5 271.1h0.6M165.7 275.6h0.6M161.3 283.1h0.6M159.2 271.0h0.6M166.4 273.6h0.6M167.6 269.5h0.6M156.4 277.7h0.6M173.0 274.1h0.6M159.5 267.9h0.6M175.5 273.9h0.6M169.1 289.4h0.6M166.0 261.7h0.6M169.1 264.3h0.6M163.5 277.7h0.6M166.7 264.2h0.6M177.0 290.4h0.6M163.7 263.4h0.6M172.0 264.9h0.6M161.7 271.1h0.6M167.0 283.5h0.6M172.9 281.4h0.6M159.9 279.6h0.6M169.1 277.4h0.6M154.2 285.3h0.6M160.2 260.9h0.6M164.6 277.3h0.6M172.4 286.3h0.6M171.4 266.8h0.6M161.6 277.6h0.6M166.3 284.7h0.6M168.2 284.9h0.6M157.7 274.0h0.6M169.6 289.7h0.6M175.2 279.1h0.6M174.6 283.5h0.6M163.5 266.7h0.6M164.6 269.2h0.6M161.5 269.2h0.6M164.1 288.9h0.6M165.6 256.9h0.6M171.2 260.8h0.6M167.6 281.3h0.6M161.5 276.3h0.6M172.0 252.0h0.6M172.4 272.0h0.6M163.4 272.7h0.6M165.6 284.6h0.6M166.5 260.2h0.6M157.2 271.0h0.6M167.9 283.4h0.6M171.1 281.1h0.6M178.8 268.0h0.6M168.3 272.9h0.6M165.4 263.6h0.6M166.2 285.8h0.6M170.8 271.8h0.6M171.9 285.0h0.6M162.0 281.4h0.6M168.3 268.2h0.6M171.0 274.0h0.6M155.1 280.2h0.6M175.3 278.6h0.6M165.8 287.0h0.6M172.3 283.8h0.6M166.8 277.7h0.6M165.6 280.5h0.6M166.7 269.6h0.6M168.8 270.5h0.6M172.3 279.9h0.6M165.5 277.8h0.6M160.4 266.6h0.6M162.9 274.6h0.6M161.3 269.0h0.6M171.7 270.9h0.6M161.4 285.2h0.6M176.3 267.9h0.6M167.9 270.1h0.6M166.6 279.6h0.6M175.0 275.8h0.6M164.9 276.5h0.6M165.4 264.0h0.6M171.8 275.0h0.6M171.6 272.3h0.6M161.2 268.9h0.6M181.9 270.9h0.6M170.6 272.9h0.6M159.6 281.7h0.6M166.1 289.8h0.6M172.7 276.1h0.6M168.5 286.7h0.6M172.3 276.1h0.6M181.4 263.7h0.6M172.8 275.7h0.6M179.2 285.2h0.6M171.3 286.1h0.6M163.2 268.4h0.6M176.3 292.6h0.6M163.0 269.6h0.6M173.0 269.6h0.6M171.2 271.2h0.6M162.2 286.5h0.6M163.0 278.4h0.6M166.2 282.3h0.6M169.7 258.1h0.6M175.3 274.9h0.6M167.7 274.4h0.6M178.7 280.7h0.6M172.6 271.7h0.6M163.5 284.5h0.6M163.6 270.0h0.6M167.9 264.5h0.6M164.2 262.6h0.6M166.8 285.1h0.6M172.0 281.2h0.6M169.0 269.3h0.6M173.3 283.9h0.6M163.3 274.0h0.6M162.2 274.4h0.6M159.0 264.0h0.6M156.7 271.1h0.6M164.8 276.2h0.6M167.9 276.9h0.6M166.3 271.0h0.6M167.5 283.0h0.6M179.7 286.5h0.6M160.9 269.1h0.6M165.9 278.5h0.6M164.6 263.6h0.6M162.0 278.6h0.6M175.6 267.9h0.6M167.3 274.2h0.6M175.0 276.7h0.6M160.7 273.5h0.6M178.8 283.5h0.6M181.1 269.4h0.6M162.3 271.8h0.6M167.5 277.9h0.6M166.7 275.1h0.6M170.9 277.4h0.6M159.7 273.8h0.6M170.3 269.2h0.6M171.9 280.5h0.6M163.9 276.0h0.6M154.0 282.4h0.6M163.5 285.7h0.6M165.2 272.7h0.6M172.1 269.7h0.6M163.8 271.9h0.6M160.7 270.4h0.6M171.3 260.1h0.6M169.8 288.1h0.6M172.0 278.6h0.6M167.8 293.4h0.6M173.9 271.1h0.6M170.6 280.0h0.6M156.9 277.5h0.6M168.8 274.9h0.6M172.2 283.0h0.6M167.8 275.5h0.6M176.3 274.8h0.6M164.8 276.7h0.6M171.8 258.2h0.6M160.2 269.9h0.6M167.6 269.8h0.6M164.3 288.2h0.6M161.6 280.0h0.6M159.7 281.5h0.6M168.9 280.3h0.6M170.2 274.0h0.6M163.8 288.2h0.6M160.2 273.9h0.6M162.3 264.6h0.6M172.2 280.3h0.6M160.4 284.5h0.6M174.4 276.3h0.6M157.6 278.3h0.6M169.3 282.9h0.6M171.6 287.3h0.6M174.9 280.0h0.6M165.0 288.4h0.6M163.0 277.7h0.6M159.1 291.6h0.6M173.1 264.9h0.6M166.8 282.8h0.6M164.9 277.7h0.6M165.1 276.4h0.6M169.1 265.6h0.6M167.8 283.8h0.6M174.7 274.0h0.6M154.7 267.8h0.6M172.7 270.6h0.6M164.4 273.7h0.6M167.2 276.3h0.6M165.7 268.5h0.6M167.1 268.4h0.6M172.2 278.7h0.6M169.0 274.9h0.6M159.0 290.6h0.6M167.2 272.2h0.6M167.0 281.2h0.6M169.9 288.9h0.6M167.9 274.0h0.6M167.2 283.1h0.6M173.8 277.8h0.6M161.1 275.9h0.6M180.7 287.8h0.6M164.3 267.9h0.6M161.4 270.8h0.6M172.4 261.9h0.6M174.1 274.6h0.6M175.2 283.1h0.6M176.4 273.5h0.6M170.5 281.8h0.6M168.0 269.7h0.6M169.9 284.3h0.6M167.6 274.6h0.6M164.4 271.8h0.6M177.3 288.1h0.6M178.6 275.4h0.6M167.7 279.9h0.6M166.3 276.4h0.6M164.7 280.9h0.6M157.6 276.4h0.6M163.6 266.2h0.6M164.6 277.7h0.6M167.6 279.2h0.6M161.7 278.5h0.6M156.3 273.7h0.6M171.6 289.4h0.6M178.0 269.9h0.6M154.9 276.4h0.6M166.9 277.1h0.6M172.8 267.2h0.6M160.7 266.3h0.6M159.1 280.6h0.6M167.9 280.7h0.6M166.3 276.6h0.6M163.9 263.2h0.6M177.6 273.2h0.6M176.7 277.3h0.6M171.7 280.2h0.6M167.3 284.6h0.6M165.8 279.0h0.6M173.1 282.9h0.6M166.3 288.2h0.6M176.7 257.5h0.6M175.3 283.1h0.6M164.2 272.1h0.6M172.4 279.2h0.6M177.2 277.1h0.6M171.7 267.6h0.6M162.1 268.5h0.6M166.2 278.8h0.6M165.8 274.1h0.6M168.6 281.1h0.6M168.0 272.5h0.6M165.8 291.9h0.6M173.0 273.5h0.6M176.0 291.4h0.6M164.5 269.6h0.6M159.1 279.7h0.6M170.2 284.1h0.6M168.0 265.4h0.6M170.5 268.0h0.6M163.9 278.6h0.6M169.7 284.2h0.6M162.5 285.9h0.6M174.5 279.7h0.6M178.1 283.5h0.6M162.4 266.5h0.6M152.4 272.2h0.6M165.1 286.5h0.6M164.9 271.2h0.6" stroke="#333" stroke-width="0.6" fill="none" filter="url(#bl)"/>
<path d="M149.8 267.4h0.6M142.6 272.6h0.6M150.1 269.7h0.6M143.3 280.4h0.6M152.7 284.1h0.6M158.0 281.2h0.6M152.5 277.8h0.6M151.8 277.9h0.6M149.0 261.5h0.6M153.6 284.9h0.6M145.6 267.4h0.6M148.7 264.3h0.6M161.3 269.1h0.6M144.7 265.2h0.6M148.2 276.5h0.6M144.3 279.4h0.6M156.8 284.6h0.6M149.8 271.7h0.6M144.8 267.0h0.6M144.9 270.0h0.6M156.2 261.6h0.6M154.2 265.7h0.6M154.7 291.4h0.6M150.6 265.4h0.6M155.2 268.3h0.6M157.2 278.5h0.6M154.1 275.0h0.6M143.2 279.8h0.6M141.5 264.5h0.6M143.9 262.6h0.6M152.2 285.0h0.6M143.7 266.3h0.6M145.7 271.7h0.6M151.0 274.6h0.6M146.7 255.3h0.6M144.7 270.8h0.6M155.5 266.5h0.6M153.2 277.5h0.6M154.6 269.7h0.6M155.3 251.5h0.6M157.7 280.0h0.6M150.6 248.6h0.6M149.9 268.8h0.6M142.4 266.1h0.6M149.6 266.9h0.6M147.9 272.5h0.6M155.8 281.5h0.6M154.0 264.4h0.6M157.8 266.9h0.6M156.0 279.6h0.6M156.5 277.4h0.6M153.3 279.3h0.6M151.4 275.7h0.6M148.9 270.3h0.6M150.7 268.0h0.6M146.2 268.2h0.6M152.6 281.1h0.6M150.3 286.7h0.6M141.0 291.2h0.6M137.8 262.8h0.6M147.2 270.4h0.6M148.5 272.7h0.6M149.3 271.1h0.6M156.9 262.0h0.6M147.7 293.1h0.6M144.6 286.8h0.6M152.5 271.1h0.6M155.5 268.4h0.6M158.6 272.5h0.6M145.8 261.3h0.6M149.5 269.4h0.6M148.6 279.9h0.6M157.9 288.2h0.6M154.0 281.0h0.6M150.8 284.8h0.6M154.2 262.7h0.6M149.0 242.1h0.6M149.7 285.6h0.6M150.5 274.4h0.6M148.3 271.9h0.6M149.5 288.4h0.6M152.4 263.6h0.6M151.8 263.6h0.6M157.8 265.6h0.6M154.8 287.9h0.6M150.3 281.6h0.6M140.2 255.8h0.6M143.6 288.3h0.6M148.2 272.8h0.6M148.8 276.7h0.6M144.4 265.3h0.6M148.8 290.4h0.6M151.2 276.8h0.6M147.6 285.1h0.6M149.9 263.2h0.6M150.2 279.3h0.6M147.2 273.5h0.6M146.5 270.5h0.6M150.0 264.9h0.6M151.9 266.0h0.6M145.6 261.6h0.6M140.8 266.3h0.6M146.0 272.4h0.6M153.0 278.2h0.6M142.9 257.8h0.6M155.0 262.8h0.6M147.8 266.8h0.6M151.2 257.1h0.6M146.9 269.9h0.6M153.3 270.1h0.6M150.8 270.8h0.6M152.3 276.5h0.6M141.3 281.6h0.6M154.0 280.2h0.6M142.5 275.3h0.6M149.0 278.2h0.6M153.0 265.1h0.6M149.6 263.7h0.6M152.9 278.8h0.6M151.3 278.0h0.6M151.0 293.5h0.6M146.7 270.5h0.6M155.3 263.2h0.6M155.9 275.4h0.6M148.0 268.4h0.6M146.3 264.2h0.6M151.5 285.6h0.6M146.9 290.9h0.6M151.2 276.2h0.6M154.4 266.4h0.6M153.7 275.1h0.6M157.6 272.1h0.6M152.7 259.4h0.6M145.6 280.6h0.6M146.5 275.9h0.6M153.1 284.6h0.6M159.6 267.4h0.6M148.8 272.5h0.6M146.2 271.5h0.6M157.1 256.2h0.6M149.9 296.6h0.6M153.8 252.7h0.6M155.6 261.8h0.6M145.9 269.3h0.6M148.8 257.8h0.6M147.9 276.7h0.6M153.0 268.3h0.6M153.6 273.4h0.6M148.2 274.9h0.6M153.2 273.4h0.6M142.1 273.6h0.6M152.2 271.3h0.6M152.1 276.8h0.6M150.5 280.4h0.6M143.7 270.3h0.6M150.0 268.5h0.6M145.5 268.9h0.6M157.4 275.7h0.6M149.1 269.2h0.6M149.5 269.1h0.6M150.0 258.4h0.6M153.1 291.2h0.6M150.9 261.0h0.6M153.0 288.9h0.6M146.1 280.4h0.6M155.7 282.6h0.6M148.2 275.3h0.6M154.1 277.5h0.6M151.6 275.6h0.6M155.6 278.5h0.6M150.2 280.9h0.6M143.6 287.5h0.6M145.1 263.4h0.6M149.4 277.6h0.6M157.0 288.4h0.6M148.5 286.3h0.6M150.8 263.1h0.6M156.4 275.9h0.6M147.9 275.6h0.6M152.0 275.3h0.6M151.8 251.3h0.6M147.7 281.3h0.6M151.6 257.5h0.6M155.4 294.0h0.6M155.4 279.3h0.6M148.9 272.1h0.6M164.2 279.1h0.6M152.2 274.4h0.6M149.2 267.9h0.6M147.1 272.1h0.6M145.9 276.4h0.6M154.4 265.3h0.6M137.0 279.9h0.6M149.8 283.8h0.6M144.1 283.4h0.6M149.7 284.5h0.6M150.3 285.6h0.6M144.4 279.9h0.6M145.9 285.7h0.6M156.5 273.7h0.6" stroke="#666" stroke-width="0.6" fill="none" filter="url(#bl)"/>
<path d="M153.4 248.0h0.6M162.2 253.7h0.6M166.7 246.9h0.6M146.8 247.4h0.6M137.2 243.3h0.6M168.5 253.0h0.6M159.9 247.0h0.6M165.7 248.5h0.6M157.7 261.7h0.6M152.0 251.7h0.6M144.3 251.8h0.6M141.5 241.3h0.6M162.5 248.3h0.6M158.5 258.9h0.6M152.6 255.9h0.6M140.2 252.4h0.6M145.3 250.8h0.6M144.5 252.5h0.6M147.2 254.8h0.6M124.7 249.7h0.6M151.9 234.6h0.6M163.5 265.8h0.6M145.1 260.0h0.6M150.1 250.9h0.6M152.3 261.9h0.6M141.2 242.9h0.6M153.6 261.0h0.6M142.8 253.3h0.6M146.0 258.2h0.6M152.1 249.6h0.6M149.4 253.1h0.6M150.7 256.1h0.6M141.8 259.3h0.6M156.3 255.6h0.6M140.4 255.1h0.6M157.3 247.9h0.6M145.7 264.0h0.6M139.5 253.5h0.6M149.1 250.4h0.6M140.6 249.7h0.6M145.2 243.6h0.6M148.6 246.8h0.6M156.7 241.3h0.6M156.9 253.4h0.6M154.1 251.4h0.6M147.4 253.5h0.6M136.5 243.2h0.6M147.9 249.0h0.6M147.1 247.5h0.6M148.8 258.9h0.6M145.3 241.6h0.6M145.3 241.4h0.6M157.0 261.0h0.6M138.2 254.5h0.6M150.0 241.0h0.6M160.9 261.4h0.6M143.1 262.4h0.6M141.2 260.0h0.6M147.9 237.6h0.6M146.9 252.8h0.6M152.2 245.9h0.6M161.8 250.1h0.6M148.8 240.9h0.6M154.8 264.1h0.6M144.8 247.1h0.6M145.6 253.9h0.6M152.5 257.6h0.6M144.0 256.3h0.6M160.4 254.9h0.6M146.3 249.3h0.6M148.5 253.5h0.6M140.7 250.4h0.6M146.1 236.1h0.6M141.1 259.0h0.6M145.6 247.6h0.6M134.3 248.3h0.6M149.8 249.1h0.6M165.2 242.3h0.6M133.4 243.5h0.6M165.2 239.4h0.6M148.8 255.3h0.6M157.7 260.2h0.6M141.0 252.5h0.6M167.7 244.0h0.6M140.4 261.1h0.6M149.2 249.7h0.6M163.6 240.8h0.6M138.6 238.8h0.6M129.3 253.2h0.6M149.2 262.1h0.6M143.1 249.3h0.6M141.3 247.5h0.6M141.8 250.1h0.6M136.9 246.0h0.6M162.2 248.1h0.6M160.6 253.7h0.6M137.8 246.9h0.6M148.9 258.5h0.6M145.8 245.1h0.6M159.6 256.9h0.6M142.4 254.4h0.6M164.2 249.3h0.6M149.9 249.9h0.6M142.8 249.7h0.6M149.0 263.7h0.6M144.6 246.3h0.6M169.9 260.3h0.6M151.1 259.0h0.6M145.5 249.6h0.6M150.7 263.3h0.6M162.9 235.3h0.6M141.3 253.7h0.6M134.8 252.9h0.6M161.5 252.1h0.6M155.3 257.8h0.6M145.8 249.2h0.6M149.1 250.7h0.6M159.7 260.0h0.6M125.5 251.1h0.6M161.1 244.7h0.6M148.2 255.9h0.6M155.8 251.4h0.6M149.3 248.0h0.6M177.4 255.8h0.6M144.3 246.6h0.6M159.6 245.1h0.6M126.5 250.1h0.6M150.1 250.6h0.6M156.8 252.3h0.6M136.0 243.5h0.6M131.6 264.0h0.6M150.6 256.7h0.6M158.8 253.0h0.6M160.4 253.6h0.6M143.6 234.4h0.6M152.9 258.4h0.6M137.1 244.8h0.6M165.4 255.5h0.6M144.6 243.6h0.6M161.2 258.8h0.6M147.3 248.2h0.6M146.8 250.5h0.6M164.3 262.7h0.6M141.9 258.9h0.6M161.3 242.3h0.6M146.5 247.1h0.6M141.9 253.3h0.6M142.2 250.3h0.6M159.9 257.6h0.6M149.0 247.2h0.6M146.6 238.8h0.6M136.2 245.6h0.6M160.3 250.7h0.6M159.1 255.8h0.6M152.6 257.2h0.6M156.7 260.7h0.6M120.5 253.6h0.6M144.9 250.5h0.6M151.2 257.1h0.6M150.7 251.3h0.6" stroke="#555" stroke-width="0.6" fill="none" filter="url(#bl)"/>
<path d="M128.6 245.0h0.6M128.6 254.7h0.6M152.4 240.7h0.6M161.8 267.7h0.6M159.0 249.0h0.6M109.4 250.6h0.6M155.2 271.4h0.6M117.5 261.5h0.6M130.8 267.8h0.6M146.5 259.6h0.6M113.9 267.8h0.6M115.7 263.0h0.6M123.8 245.0h0.6M165.3 264.9h0.6M154.9 256.6h0.6M121.3 258.1h0.6M138.9 265.9h0.6M138.9 253.5h0.6M141.9 245.8h0.6M124.5 279.4h0.6M161.1 289.2h0.6M130.1 256.5h0.6M150.5 278.9h0.6M108.0 267.5h0.6M143.3 252.1h0.6M139.1 249.2h0.6M159.7 257.5h0.6M146.0 256.7h0.6M150.4 259.8h0.6M132.1 244.8h0.6M159.0 274.6h0.6M172.4 244.8h0.6M151.6 245.7h0.6M150.4 275.5h0.6M159.5 273.1h0.6M144.1 283.5h0.6M157.5 263.7h0.6M146.8 252.1h0.6M125.0 278.8h0.6M118.7 260.3h0.6M156.6 259.8h0.6M146.8 249.0h0.6M125.2 267.7h0.6M137.1 226.3h0.6M161.5 269.6h0.6M107.5 231.7h0.6M121.3 274.8h0.6M148.5 238.4h0.6M150.6 271.9h0.6M119.7 257.5h0.6M139.4 244.2h0.6M160.5 290.8h0.6M136.8 255.1h0.6M154.1 280.5h0.6M136.3 219.1h0.6M128.8 239.5h0.6M116.9 242.0h0.6M157.0 251.3h0.6M141.2 231.4h0.6M143.5 274.0h0.6M142.6 277.0h0.6M144.1 260.9h0.6M150.9 255.5h0.6M165.8 238.3h0.6M118.5 268.7h0.6M135.4 251.2h0.6M128.9 270.9h0.6M165.3 277.0h0.6M131.7 262.4h0.6M109.2 230.0h0.6M136.2 247.6h0.6M124.2 282.2h0.6M124.0 265.8h0.6M129.0 283.0h0.6M114.4 228.2h0.6M169.8 259.1h0.6M134.5 237.3h0.6M120.7 252.0h0.6M147.2 276.4h0.6M159.3 269.8h0.6M106.9 253.7h0.6M129.0 266.6h0.6M141.4 279.6h0.6M122.3 245.5h0.6M144.3 266.1h0.6M115.6 277.4h0.6M125.3 251.4h0.6M134.5 281.3h0.6M143.9 260.4h0.6M137.3 278.4h0.6M125.0 275.6h0.6M130.3 265.7h0.6M172.9 251.9h0.6M129.6 264.3h0.6M131.6 264.9h0.6M141.1 282.8h0.6M146.3 260.5h0.6M142.4 267.1h0.6M125.1 287.0h0.6M108.4 266.6h0.6M133.6 268.6h0.6M123.0 285.9h0.6M127.2 263.1h0.6M136.6 267.8h0.6M140.7 273.1h0.6M158.6 260.0h0.6M134.1 245.1h0.6M107.2 239.8h0.6M146.5 258.7h0.6M152.4 278.6h0.6M108.6 276.7h0.6M146.9 286.2h0.6M139.7 275.4h0.6M127.3 252.0h0.6M139.5 240.0h0.6M143.2 254.0h0.6M146.6 257.8h0.6M156.1 250.6h0.6M136.3 275.6h0.6M136.4 249.9h0.6M177.7 270.5h0.6M118.3 273.5h0.6M131.9 235.7h0.6M130.5 255.4h0.6M149.6 280.6h0.6M155.4 274.4h0.6M114.0 263.6h0.6M157.5 245.2h0.6M116.3 251.2h0.6M181.0 263.1h0.6M125.1 280.7h0.6M155.4 269.2h0.6M132.0 260.5h0.6M148.6 265.3h0.6M123.8 273.4h0.6M138.8 235.5h0.6M137.0 246.9h0.6M138.1 262.2h0.6M150.1 279.9h0.6M129.1 277.9h0.6M131.1 250.1h0.6M114.2 262.1h0.6M134.2 250.6h0.6M128.2 255.9h0.6M151.6 263.9h0.6M148.0 256.3h0.6M124.3 253.4h0.6M144.1 244.3h0.6M159.0 238.0h0.6M133.0 258.8h0.6M116.6 264.6h0.6M178.5 271.0h0.6M146.0 249.5h0.6M148.6 250.9h0.6M179.2 280.6h0.6M123.0 267.9h0.6M141.8 275.0h0.6M104.3 253.2h0.6M145.0 251.0h0.6M143.3 244.5h0.6M123.3 276.6h0.6M122.1 244.7h0.6M133.6 235.8h0.6M132.7 250.5h0.6M163.5 280.7h0.6M132.4 262.1h0.6M133.9 265.2h0.6M133.6 263.5h0.6M109.4 261.0h0.6M128.3 259.2h0.6M113.6 240.7h0.6M138.7 286.6h0.6M117.4 279.9h0.6M140.9 238.3h0.6M110.0 244.0h0.6M153.5 242.4h0.6M113.9 265.7h0.6M136.4 277.1h0.6M141.8 282.2h0.6M118.5 281.6h0.6M107.8 257.6h0.6M162.6 273.4h0.6M127.1 252.7h0.6M145.4 253.6h0.6M123.6 265.3h0.6M142.8 259.9h0.6M114.2 274.4h0.6M113.1 234.3h0.6M118.7 278.7h0.6M125.9 253.0h0.6M125.9 283.8h0.6M130.9 278.8h0.6M143.9 244.5h0.6M127.4 261.0h0.6M152.5 271.9h0.6M125.3 249.9h0.6M147.8 250.6h0.6M158.9 257.2h0.6M166.2 272.9h0.6M165.9 255.4h0.6M106.5 274.1h0.6M160.7 283.8h0.6M136.3 275.5h0.6M142.5 250.8h0.6M120.5 249.2h0.6M152.5 266.0h0.6M148.2 274.0h0.6M127.1 268.2h0.6M126.1 256.0h0.6M151.2 247.9h0.6M154.1 280.7h0.6M149.7 259.6h0.6M130.1 289.6h0.6M136.6 244.7h0.6M152.6 256.9h0.6M150.8 252.2h0.6M155.8 289.3h0.6M139.0 280.3h0.6M124.6 254.4h0.6M141.5 233.1h0.6M144.3 279.0h0.6M127.5 263.8h0.6M144.2 245.0h0.6M122.3 239.4h0.6M141.0 267.8h0.6M126.3 258.8h0.6M172.6 264.0h0.6M156.9 267.8h0.6M141.1 256.3h0.6M114.2 257.8h0.6M115.7 271.7h0.6M148.5 260.2h0.6M134.0 257.7h0.6M141.8 271.4h0.6M109.8 232.4h0.6M111.0 280.4h0.6M138.5 268.5h0.6M133.0 250.5h0.6M113.9 259.3h0.6M123.0 280.2h0.6M149.9 270.2h0.6M129.2 235.4h0.6M146.4 246.8h0.6M164.7 264.7h0.6M142.3 288.5h0.6M138.8 273.3h0.6M126.5 259.0h0.6M157.3 270.6h0.6M112.0 262.2h0.6M117.9 257.5h0.6M136.3 267.6h0.6M111.5 230.1h0.6M153.3 277.0h0.6M126.0 270.0h0.6M145.6 255.4h0.6M131.3 249.2h0.6M132.3 244.0h0.6M136.8 266.0h0.6M118.1 264.6h0.6M128.5 287.5h0.6M174.3 229.2h0.6M150.4 251.3h0.6M148.9 250.5h0.6M118.9 276.1h0.6M151.8 258.3h0.6M157.8 248.0h0.6M149.4 265.1h0.6M181.2 268.0h0.6M113.7 286.0h0.6M118.3 265.8h0.6M132.1 255.5h0.6M120.0 254.5h0.6M137.5 249.9h0.6M145.4 269.3h0.6M136.3 274.2h0.6M138.3 258.6h0.6M143.5 260.0h0.6M149.7 282.5h0.6M125.3 263.5h0.6M125.2 269.4h0.6M156.8 245.9h0.6M130.8 253.0h0.6M122.4 230.2h0.6M141.4 241.7h0.6M130.6 267.5h0.6M138.6 280.6h0.6M135.5 258.0h0.6M147.3 244.3h0.6M152.1 263.4h0.6M122.4 279.0h0.6M115.9 259.6h0.6M163.7 275.7h0.6M124.9 261.1h0.6M110.1 243.7h0.6M104.3 248.5h0.6M135.9 258.2h0.6M125.6 296.0h0.6M105.4 270.7h0.6M120.4 258.5h0.6M118.5 266.3h0.6M153.4 265.2h0.6M140.5 255.4h0.6M136.3 260.5h0.6M114.9 258.2h0.6M133.4 273.1h0.6M147.7 285.2h0.6M139.2 281.8h0.6M154.4 257.3h0.6M137.8 270.3h0.6M148.2 251.2h0.6M144.2 245.8h0.6M126.8 263.2h0.6M159.2 271.1h0.6M142.6 261.1h0.6M150.5 274.3h0.6M118.3 274.4h0.6M118.0 273.3h0.6M133.4 259.7h0.6M122.7 241.8h0.6M147.0 288.8h0.6M143.4 254.9h0.6M157.3 272.9h0.6M146.4 269.3h0.6M117.2 256.9h0.6M152.6 289.2h0.6M125.4 272.1h0.6M124.0 261.8h0.6M137.5 255.8h0.6M136.3 247.7h0.6M154.1 243.2h0.6M184.5 270.5h0.6M143.6 255.5h0.6M161.2 255.3h0.6M132.8 269.5h0.6M142.2 256.9h0.6M127.6 271.7h0.6M129.2 252.5h0.6M159.3 254.3h0.6M144.1 275.7h0.6M144.0 251.9h0.6M122.8 271.1h0.6M165.5 269.5h0.6M133.4 262.2h0.6M125.4 237.5h0.6M136.1 242.6h0.6M147.9 245.8h0.6M149.2 242.9h0.6M161.4 274.8h0.6M118.4 249.1h0.6M129.1 243.6h0.6M162.9 254.5h0.6M175.0 260.6h0.6M125.8 237.3h0.6M134.8 271.0h0.6M110.2 272.7h0.6M122.5 253.2h0.6M121.5 274.0h0.6M134.7 239.0h0.6M116.3 253.8h0.6M152.3 259.6h0.6M135.5 263.0h0.6M132.2 279.0h0.6M152.1 257.1h0.6M131.9 247.0h0.6M115.4 265.2h0.6M136.9 264.3h0.6M173.3 268.6h0.6M138.2 257.1h0.6M145.4 264.5h0.6M133.1 253.5h0.6M132.8 270.3h0.6M145.0 252.2h0.6M115.4 279.2h0.6M126.4 250.7h0.6M131.9 262.0h0.6M161.1 270.4h0.6M178.1 257.3h0.6M147.2 275.3h0.6M143.2 253.4h0.6M148.1 277.1h0.6M162.0 239.0h0.6M119.8 242.0h0.6M128.1 263.0h0.6M139.1 283.1h0.6M141.5 285.8h0.6M104.3 249.3h0.6M143.8 261.5h0.6M109.5 254.7h0.6M149.5 230.3h0.6M150.8 272.7h0.6M145.0 282.2h0.6M139.8 266.1h0.6M126.0 254.1h0.6M152.6 251.8h0.6M170.4 259.2h0.6M144.9 268.7h0.6M117.9 254.7h0.6M116.6 265.0h0.6M119.2 245.2h0.6M155.5 263.2h0.6M141.3 278.9h0.6M136.0 268.3h0.6M151.2 257.1h0.6M136.8 252.2h0.6M137.0 250.3h0.6M122.2 244.5h0.6M125.9 254.4h0.6M137.0 265.8h0.6M116.6 253.6h0.6M164.6 286.0h0.6M138.5 267.5h0.6M127.1 255.4h0.6M153.0 261.5h0.6M118.5 283.6h0.6M154.4 236.8h0.6M137.9 265.5h0.6M127.1 276.8h0.6M129.7 248.6h0.6M122.1 263.8h0.6M115.3 258.5h0.6M118.5 252.1h0.6M141.8 257.9h0.6M125.6 257.1h0.6M154.3 240.9h0.6M143.5 258.5h0.6M137.2 269.6h0.6M136.4 255.6h0.6M125.7 269.3h0.6M166.0 273.1h0.6M129.4 272.3h0.6M143.6 236.9h0.6M131.9 284.2h0.6M130.3 274.6h0.6M137.9 273.8h0.6M147.8 262.1h0.6" stroke="#777" stroke-width="0.6" fill="none" filter="url(#bl)"/>
<path d="M172.3 267.8h0.6M189.7 270.0h0.6M175.8 248.2h0.6M184.4 267.2h0.6M189.9 233.5h0.6M181.4 295.1h0.6M175.7 273.8h0.6M190.3 278.8h0.6M175.1 277.2h0.6M184.8 284.9h0.6M182.1 256.2h0.6M180.5 240.8h0.6M186.1 224.3h0.6M189.1 260.1h0.6M189.7 233.4h0.6M186.1 256.4h0.6M187.0 226.6h0.6M170.3 279.4h0.6M177.5 248.4h0.6M181.5 244.6h0.6M179.7 281.3h0.6M189.3 251.5h0.6M188.9 256.8h0.6M179.8 271.1h0.6M189.0 224.5h0.6M177.1 245.0h0.6M186.4 295.6h0.6M172.5 272.7h0.6M190.5 231.6h0.6M179.2 292.3h0.6M190.2 290.8h0.6M175.1 270.5h0.6M175.6 223.2h0.6M175.6 252.8h0.6M175.9 250.5h0.6M171.6 235.2h0.6M186.3 266.7h0.6M180.4 243.3h0.6M180.5 271.6h0.6M175.3 240.2h0.6M179.8 289.4h0.6M179.4 242.3h0.6M170.0 223.1h0.6M176.0 284.7h0.6M173.3 238.5h0.6M176.0 225.2h0.6M178.7 292.2h0.6M190.4 245.9h0.6M177.6 274.0h0.6M188.4 230.1h0.6M185.2 281.9h0.6M190.4 284.3h0.6M186.9 242.5h0.6M189.5 239.9h0.6M172.8 232.0h0.6M186.2 265.4h0.6M177.1 252.5h0.6M177.9 287.9h0.6M172.0 249.3h0.6M172.7 259.5h0.6M184.0 250.7h0.6M174.3 241.8h0.6M183.3 226.4h0.6M177.2 266.0h0.6M183.0 243.6h0.6M182.9 289.3h0.6M174.2 270.4h0.6M188.8 268.8h0.6M184.7 286.1h0.6M181.6 236.0h0.6" stroke="#888" stroke-width="0.6" fill="none" filter="url(#bl)"/>
<line x1="103.4" y1="215.5" x2="192.3" y2="215.5" stroke="#777" stroke-width="1"/>
<line x1="192.5" y1="215.2" x2="192.5" y2="298.1" stroke="#999" stroke-width="0.8"/>
<line x1="103.5" y1="214.7" x2="103.5" y2="300.1" stroke="#555" stroke-width="0.9"/>
<line x1="101.4" y1="298.5" x2="175.2" y2="298.5" stroke="#555" stroke-width="0.9"/>
<line x1="175.2" y1="298.5" x2="192.3" y2="298.5" stroke="#ddd" stroke-width="0.9"/>
<line x1="101.6" y1="295.5" x2="103.4" y2="295.5" stroke="#666" stroke-width="0.6"/>
<line x1="101.6" y1="290.5" x2="103.4" y2="290.5" stroke="#666" stroke-width="0.6"/>
<line x1="101.6" y1="285.5" x2="103.4" y2="285.5" stroke="#666" stroke-width="0.6"/>
<line x1="101.2" y1="266.5" x2="103.4" y2="266.5" stroke="#666" stroke-width="0.6"/>
<line x1="102.2" y1="260.5" x2="103.4" y2="260.5" stroke="#666" stroke-width="0.6"/>
<line x1="102.2" y1="257.5" x2="103.4" y2="257.5" stroke="#666" stroke-width="0.6"/>
<line x1="102.2" y1="254.5" x2="103.4" y2="254.5" stroke="#666" stroke-width="0.6"/>
<line x1="102.2" y1="252.5" x2="103.4" y2="252.5" stroke="#666" stroke-width="0.6"/>
<line x1="102.2" y1="251.5" x2="103.4" y2="251.5" stroke="#666" stroke-width="0.6"/>
<line x1="102.2" y1="249.5" x2="103.4" y2="249.5" stroke="#666" stroke-width="0.6"/>
<line x1="102.2" y1="248.5" x2="103.4" y2="248.5" stroke="#666" stroke-width="0.6"/>
<line x1="102.2" y1="247.5" x2="103.4" y2="247.5" stroke="#666" stroke-width="0.6"/>
<line x1="101.2" y1="247.5" x2="103.4" y2="247.5" stroke="#666" stroke-width="0.6"/>
<line x1="102.2" y1="240.5" x2="103.4" y2="240.5" stroke="#666" stroke-width="0.6"/>
<line x1="102.2" y1="237.5" x2="103.4" y2="237.5" stroke="#666" stroke-width="0.6"/>
<line x1="102.2" y1="234.5" x2="103.4" y2="234.5" stroke="#666" stroke-width="0.6"/>
<line x1="102.2" y1="233.5" x2="103.4" y2="233.5" stroke="#666" stroke-width="0.6"/>
<line x1="102.2" y1="231.5" x2="103.4" y2="231.5" stroke="#666" stroke-width="0.6"/>
<line x1="102.2" y1="230.5" x2="103.4" y2="230.5" stroke="#666" stroke-width="0.6"/>
<line x1="102.2" y1="228.5" x2="103.4" y2="228.5" stroke="#666" stroke-width="0.6"/>
<line x1="102.2" y1="227.5" x2="103.4" y2="227.5" stroke="#666" stroke-width="0.6"/>
<line x1="101.2" y1="227.5" x2="103.4" y2="227.5" stroke="#666" stroke-width="0.6"/>
<line x1="102.2" y1="221.5" x2="103.4" y2="221.5" stroke="#666" stroke-width="0.6"/>
<line x1="102.2" y1="218.5" x2="103.4" y2="218.5" stroke="#666" stroke-width="0.6"/>
<line x1="102.2" y1="215.5" x2="103.4" y2="215.5" stroke="#666" stroke-width="0.6"/>
<line x1="106.5" y1="298.1" x2="106.5" y2="299.4" stroke="#666" stroke-width="0.6"/>
<line x1="109.5" y1="298.1" x2="109.5" y2="299.4" stroke="#666" stroke-width="0.6"/>
<line x1="113.5" y1="298.1" x2="113.5" y2="299.4" stroke="#666" stroke-width="0.6"/>
<line x1="116.5" y1="298.1" x2="116.5" y2="299.4" stroke="#666" stroke-width="0.6"/>
<line x1="119.5" y1="298.1" x2="119.5" y2="299.4" stroke="#666" stroke-width="0.6"/>
<line x1="123.5" y1="298.1" x2="123.5" y2="299.4" stroke="#666" stroke-width="0.6"/>
<line x1="126.5" y1="298.1" x2="126.5" y2="299.4" stroke="#666" stroke-width="0.6"/>
<line x1="129.5" y1="298.1" x2="129.5" y2="299.4" stroke="#666" stroke-width="0.6"/>
<line x1="133.5" y1="298.1" x2="133.5" y2="299.4" stroke="#666" stroke-width="0.6"/>
<line x1="136.5" y1="298.1" x2="136.5" y2="299.4" stroke="#666" stroke-width="0.6"/>
<line x1="139.5" y1="298.1" x2="139.5" y2="299.4" stroke="#666" stroke-width="0.6"/>
<line x1="143.5" y1="298.1" x2="143.5" y2="299.4" stroke="#666" stroke-width="0.6"/>
<line x1="146.5" y1="298.1" x2="146.5" y2="299.4" stroke="#666" stroke-width="0.6"/>
<line x1="150.5" y1="298.1" x2="150.5" y2="299.4" stroke="#666" stroke-width="0.6"/>
<line x1="153.5" y1="298.1" x2="153.5" y2="299.4" stroke="#666" stroke-width="0.6"/>
<line x1="156.5" y1="298.1" x2="156.5" y2="299.4" stroke="#666" stroke-width="0.6"/>
<line x1="160.5" y1="298.1" x2="160.5" y2="299.4" stroke="#666" stroke-width="0.6"/>
<line x1="163.5" y1="298.1" x2="163.5" y2="299.4" stroke="#666" stroke-width="0.6"/>
<line x1="166.5" y1="298.1" x2="166.5" y2="299.4" stroke="#666" stroke-width="0.6"/>
<line x1="170.5" y1="298.1" x2="170.5" y2="299.4" stroke="#666" stroke-width="0.6"/>
<line x1="173.5" y1="298.1" x2="173.5" y2="299.4" stroke="#666" stroke-width="0.6"/>
<line x1="117.5" y1="298.1" x2="117.5" y2="300.6" stroke="#555" stroke-width="0.7"/>
<line x1="145.5" y1="298.1" x2="145.5" y2="300.6" stroke="#555" stroke-width="0.7"/>
<text x="117.2" y="304.3" font-size="5" text-anchor="middle" font-weight="normal" fill="#777">0</text>
<text x="145.6" y="304.3" font-size="5" text-anchor="middle" font-weight="normal" fill="#777">10²</text>
<text x="99.4" y="290.2" font-size="5" text-anchor="middle" font-weight="normal" fill="#777" transform="rotate(-90 99.4 290.2)">0</text>
<text x="99.4" y="266.9" font-size="5" text-anchor="middle" font-weight="normal" fill="#777" transform="rotate(-90 99.4 266.9)">10³</text>
<text x="99.4" y="247" font-size="5" text-anchor="middle" font-weight="normal" fill="#777" transform="rotate(-90 99.4 247)">10⁴</text>
<text x="99.4" y="227.6" font-size="5" text-anchor="middle" font-weight="normal" fill="#777" transform="rotate(-90 99.4 227.6)">10⁵</text>
<line x1="103.4" y1="258.5" x2="192.3" y2="258.5" stroke="#555" stroke-width="0.9"/>
<polyline points="157.6,298.1 157.6,258.3 163.7,215.2" fill="none" stroke="#555" stroke-width="0.9"/>
<text x="107" y="222.9" font-size="9.5" text-anchor="start" font-weight="bold" fill="#111">3</text>
<path d="M270.3 273.2h0.6M275.6 267.0h0.6M267.7 268.3h0.6M267.1 258.8h0.6M267.5 261.5h0.6M273.0 271.2h0.6M265.6 259.6h0.6M275.9 271.0h0.6M270.3 261.6h0.6M276.1 261.6h0.6M270.1 266.1h0.6M275.7 268.5h0.6M267.0 275.5h0.6M266.7 259.1h0.6M274.7 275.0h0.6M269.3 255.9h0.6M276.9 255.1h0.6M268.6 244.4h0.6M274.3 268.4h0.6M268.0 273.4h0.6M263.6 252.5h0.6M278.6 259.3h0.6M270.9 259.8h0.6M276.4 249.7h0.6M272.7 262.4h0.6M263.7 264.2h0.6M273.7 257.9h0.6M277.0 253.9h0.6M278.0 262.9h0.6M279.6 266.5h0.6M273.7 250.8h0.6M271.3 261.1h0.6M272.2 266.2h0.6M266.3 240.0h0.6M275.3 264.4h0.6M275.3 275.2h0.6M273.5 251.8h0.6M268.2 272.0h0.6M274.9 259.5h0.6M269.2 266.6h0.6M277.7 260.6h0.6M268.9 252.9h0.6M269.3 248.5h0.6M270.3 280.5h0.6M266.9 251.4h0.6M267.6 259.7h0.6M270.5 273.0h0.6M260.2 264.2h0.6M281.3 263.2h0.6M273.6 246.1h0.6M273.2 257.0h0.6M267.6 251.5h0.6M272.7 247.9h0.6M271.8 264.7h0.6M272.3 268.4h0.6M264.8 255.9h0.6M271.2 256.8h0.6M262.8 265.2h0.6M270.8 268.8h0.6M267.6 253.6h0.6M268.9 271.0h0.6M270.2 269.2h0.6M275.8 261.9h0.6M277.6 253.2h0.6M271.9 266.3h0.6M266.7 267.3h0.6M278.8 275.6h0.6M265.1 257.2h0.6M269.1 274.3h0.6M270.7 259.1h0.6M268.3 266.0h0.6M278.1 261.0h0.6M273.7 262.5h0.6M276.9 273.4h0.6M270.3 256.5h0.6M275.9 268.4h0.6M271.0 259.8h0.6M271.1 261.6h0.6M273.2 256.3h0.6M273.6 263.5h0.6M274.5 246.3h0.6M270.7 259.9h0.6M264.6 269.8h0.6M270.2 268.5h0.6M259.0 249.2h0.6M270.4 253.1h0.6M267.9 258.7h0.6M275.6 276.6h0.6M258.8 258.6h0.6M281.2 261.8h0.6M270.1 260.0h0.6M264.1 264.3h0.6M273.7 254.8h0.6M274.0 263.9h0.6M273.7 265.7h0.6M282.1 270.1h0.6M267.8 255.0h0.6M273.1 269.0h0.6M272.4 277.0h0.6M268.5 268.1h0.6M273.1 267.3h0.6M277.7 242.7h0.6M267.7 272.5h0.6M273.8 277.0h0.6M276.5 271.5h0.6M274.8 265.9h0.6M264.1 268.5h0.6M273.1 285.6h0.6M269.9 256.3h0.6M277.5 258.8h0.6M271.1 270.6h0.6M281.0 264.0h0.6M265.8 244.9h0.6M274.1 263.7h0.6M267.5 264.7h0.6M280.1 254.6h0.6M279.2 265.0h0.6M267.3 263.9h0.6M275.3 247.7h0.6M271.5 266.0h0.6M264.0 279.0h0.6M266.7 275.8h0.6M272.2 253.0h0.6M274.2 251.5h0.6M269.9 262.4h0.6M273.1 264.2h0.6M273.2 251.4h0.6M273.1 256.1h0.6M266.1 272.7h0.6M272.4 263.9h0.6M274.2 270.2h0.6M264.6 261.7h0.6M279.0 270.1h0.6M278.6 257.8h0.6M272.5 257.8h0.6M281.6 254.4h0.6M267.9 246.7h0.6M267.2 258.8h0.6M268.7 251.2h0.6M268.3 258.2h0.6M280.5 263.1h0.6M271.9 263.3h0.6M271.4 265.0h0.6M273.4 258.8h0.6M279.3 261.5h0.6M272.5 271.1h0.6M269.9 260.7h0.6M273.0 262.1h0.6M277.7 242.5h0.6M270.8 253.2h0.6M278.4 270.6h0.6M273.2 255.0h0.6M270.9 253.4h0.6M274.1 269.6h0.6M281.1 252.2h0.6M270.6 269.8h0.6M278.3 261.1h0.6M274.4 256.9h0.6M272.5 245.6h0.6M272.0 272.4h0.6M275.6 247.4h0.6M274.6 252.1h0.6M273.5 268.1h0.6M274.9 252.0h0.6M267.6 265.9h0.6M268.6 261.6h0.6M267.0 259.7h0.6M270.1 253.4h0.6M270.7 256.6h0.6M270.0 264.0h0.6M274.3 254.0h0.6M267.2 266.9h0.6M270.6 263.7h0.6M275.8 266.2h0.6M279.7 263.7h0.6M272.0 266.3h0.6M277.4 264.9h0.6M278.2 268.4h0.6M266.9 264.8h0.6M272.9 264.4h0.6M266.8 254.5h0.6M269.9 248.1h0.6M273.7 262.2h0.6M265.7 269.5h0.6M274.2 254.4h0.6M271.1 249.2h0.6M270.6 257.5h0.6M274.3 264.7h0.6M267.8 268.6h0.6M263.7 259.3h0.6M271.9 252.5h0.6M268.3 261.3h0.6M270.8 267.2h0.6M266.5 261.4h0.6M267.3 269.9h0.6M266.8 257.8h0.6M265.7 268.8h0.6M267.9 274.9h0.6M268.0 253.9h0.6M271.8 254.9h0.6M286.6 267.0h0.6M268.8 286.7h0.6M264.2 265.9h0.6M274.4 261.6h0.6M265.9 272.2h0.6M267.5 260.9h0.6M270.1 249.0h0.6M271.9 254.2h0.6M272.0 272.6h0.6M272.8 248.4h0.6M271.1 250.5h0.6M276.9 268.4h0.6M275.6 263.0h0.6M269.1 271.5h0.6M270.6 253.4h0.6M265.3 256.0h0.6M274.8 259.1h0.6M270.7 252.0h0.6M280.6 260.0h0.6M268.5 260.5h0.6M278.8 268.7h0.6M267.3 261.1h0.6M263.7 258.6h0.6M267.6 265.8h0.6M273.3 270.6h0.6M276.4 270.1h0.6M267.5 264.0h0.6M276.2 258.8h0.6M269.2 258.1h0.6M269.2 251.4h0.6M270.2 262.4h0.6M279.4 261.6h0.6M272.5 275.0h0.6M273.1 263.6h0.6M264.5 267.8h0.6M272.4 272.3h0.6M272.9 246.9h0.6M279.3 256.7h0.6M267.5 259.9h0.6M268.3 262.8h0.6M267.3 252.8h0.6M268.6 268.7h0.6M274.8 269.0h0.6M267.9 265.8h0.6M277.6 267.3h0.6M271.8 253.1h0.6M267.3 270.9h0.6M268.5 257.0h0.6M265.2 246.8h0.6M264.8 262.8h0.6M277.0 265.2h0.6M275.7 256.4h0.6M267.0 248.6h0.6M269.5 252.7h0.6M279.1 260.6h0.6M268.2 241.6h0.6M272.6 270.0h0.6M274.0 269.8h0.6M270.6 260.4h0.6M270.7 270.3h0.6M270.0 260.5h0.6M272.1 252.8h0.6M264.2 266.9h0.6M271.8 266.3h0.6M272.4 254.4h0.6M265.3 250.6h0.6M273.7 254.0h0.6M267.2 271.1h0.6M259.2 259.4h0.6M262.4 284.2h0.6M272.0 256.6h0.6M274.2 266.6h0.6M269.5 264.4h0.6M264.7 260.0h0.6M270.8 268.5h0.6M275.8 255.0h0.6M271.3 261.4h0.6M264.6 252.5h0.6M273.7 244.4h0.6M270.6 262.4h0.6M270.7 252.7h0.6M271.8 251.4h0.6M274.2 266.5h0.6M271.0 260.5h0.6M267.0 264.9h0.6M271.0 275.6h0.6M272.1 263.3h0.6M277.1 265.4h0.6M265.8 252.3h0.6M270.9 268.5h0.6M267.4 268.6h0.6M272.8 253.5h0.6M268.9 267.1h0.6M257.0 264.4h0.6M276.0 260.1h0.6M268.4 262.5h0.6M266.4 281.2h0.6M264.4 256.7h0.6M266.5 259.2h0.6M265.4 262.7h0.6M270.8 260.4h0.6M272.2 247.3h0.6M271.1 267.0h0.6M273.2 269.2h0.6M267.6 275.7h0.6M274.3 257.3h0.6M271.0 251.8h0.6M273.6 267.1h0.6M274.4 253.6h0.6M269.8 261.8h0.6M277.3 258.6h0.6M275.3 263.4h0.6M269.6 258.3h0.6M279.8 267.4h0.6M279.3 254.5h0.6M264.3 280.9h0.6M261.0 268.1h0.6M268.6 256.9h0.6M273.7 254.1h0.6M275.9 260.4h0.6M274.6 258.1h0.6M271.5 255.3h0.6M276.1 273.0h0.6M274.9 269.6h0.6M269.5 253.2h0.6M272.4 266.3h0.6M276.5 262.0h0.6M268.5 268.0h0.6M268.6 256.6h0.6M267.6 278.9h0.6M246.5 250.8h0.6M271.4 261.4h0.6M239.4 257.2h0.6M263.0 261.6h0.6M244.1 247.9h0.6M267.2 256.4h0.6M243.2 259.4h0.6M231.7 242.7h0.6M231.6 258.4h0.6M237.3 255.4h0.6M253.4 258.4h0.6M250.4 254.0h0.6M247.1 259.7h0.6M259.4 250.5h0.6M266.8 250.0h0.6M232.5 257.2h0.6M258.6 257.2h0.6M275.6 245.2h0.6M237.5 260.0h0.6M238.2 259.9h0.6M250.8 259.0h0.6M248.6 248.8h0.6M238.6 260.4h0.6M244.7 256.0h0.6M266.5 258.4h0.6M257.5 252.7h0.6M235.1 250.5h0.6M223.4 248.9h0.6M231.2 249.4h0.6M247.9 258.2h0.6M235.4 248.5h0.6M234.7 249.4h0.6M255.0 254.9h0.6M241.9 251.5h0.6M240.6 241.1h0.6M248.4 249.2h0.6M264.5 250.9h0.6M249.6 262.4h0.6M254.6 256.9h0.6M246.7 247.2h0.6M265.8 246.6h0.6M229.7 250.4h0.6M231.1 254.3h0.6M239.0 248.5h0.6M272.0 255.5h0.6M265.7 244.8h0.6M231.4 254.9h0.6M239.7 259.9h0.6M252.8 237.6h0.6M246.6 252.8h0.6M257.2 254.5h0.6M239.3 255.6h0.6M224.1 253.6h0.6M253.7 252.6h0.6M261.9 254.6h0.6M225.7 253.6h0.6M221.3 253.5h0.6M239.8 262.2h0.6M221.4 259.0h0.6M251.3 258.4h0.6M230.6 249.3h0.6M255.3 250.2h0.6M241.2 259.1h0.6M247.4 246.9h0.6M254.3 258.9h0.6M243.0 245.2h0.6M232.5 265.3h0.6M257.6 260.2h0.6M226.6 249.8h0.6M264.0 250.3h0.6M237.8 241.2h0.6M238.8 252.7h0.6M250.8 259.9h0.6M251.1 256.5h0.6M252.3 251.5h0.6M226.6 264.9h0.6M234.3 256.2h0.6M250.2 255.4h0.6M250.5 251.3h0.6M244.5 256.4h0.6M262.5 268.2h0.6M243.4 255.6h0.6M257.9 243.3h0.6M259.8 254.3h0.6M250.2 264.1h0.6M243.2 259.9h0.6M255.3 250.0h0.6M251.5 255.0h0.6M253.8 244.4h0.6M234.5 256.7h0.6M251.8 247.9h0.6M266.4 249.9h0.6M242.1 249.7h0.6M247.5 248.8h0.6M242.7 262.8h0.6M257.2 261.6h0.6M219.0 251.3h0.6M266.5 253.6h0.6M252.4 262.8h0.6M242.8 251.3h0.6M249.3 250.4h0.6M260.4 248.1h0.6M250.6 262.1h0.6M254.5 254.0h0.6M261.4 253.1h0.6M248.0 250.5h0.6M255.4 247.7h0.6M264.9 258.5h0.6M253.1 248.5h0.6M237.8 250.0h0.6M255.9 243.2h0.6M272.2 246.6h0.6M241.7 250.0h0.6M251.7 250.1h0.6M251.4 244.2h0.6M257.3 249.4h0.6M240.6 252.2h0.6M245.6 237.8h0.6M271.2 256.3h0.6M254.8 251.4h0.6M237.9 245.2h0.6M256.1 251.4h0.6M246.7 255.5h0.6M265.8 252.9h0.6M225.1 253.2h0.6M247.2 253.0h0.6M258.6 256.7h0.6M229.5 245.0h0.6M236.3 249.5h0.6M252.1 255.2h0.6M246.4 253.1h0.6M242.0 246.8h0.6M249.9 251.3h0.6M228.0 248.9h0.6M235.1 253.0h0.6M268.3 243.3h0.6M237.6 243.5h0.6M251.6 244.5h0.6M245.2 252.1h0.6M257.0 267.2h0.6M250.2 258.6h0.6M251.1 260.0h0.6M261.0 253.0h0.6M250.1 262.1h0.6M224.0 255.0h0.6M237.4 253.3h0.6M264.3 259.2h0.6M259.6 245.8h0.6M243.0 240.2h0.6M225.5 246.0h0.6M236.8 261.1h0.6M272.7 258.1h0.6M261.4 254.0h0.6M261.7 251.5h0.6M225.2 251.9h0.6M228.5 255.1h0.6M238.3 247.9h0.6M228.5 257.4h0.6M247.4 247.2h0.6M231.9 260.7h0.6M252.0 250.9h0.6M243.1 247.5h0.6M238.7 251.2h0.6M254.3 247.5h0.6M251.7 252.1h0.6M247.6 242.4h0.6M241.2 250.0h0.6M245.3 253.3h0.6M221.1 255.1h0.6M220.7 250.6h0.6M237.2 259.9h0.6M247.7 243.0h0.6M268.5 251.6h0.6M251.0 250.0h0.6M233.2 252.8h0.6M239.7 251.3h0.6M229.7 260.9h0.6M245.3 252.8h0.6M244.7 247.5h0.6M245.4 267.4h0.6M249.4 253.1h0.6M259.2 251.9h0.6M254.7 258.0h0.6M231.1 249.4h0.6M256.7 251.5h0.6M232.9 257.9h0.6M250.8 245.9h0.6M247.1 250.2h0.6M267.4 258.3h0.6M244.6 263.3h0.6M244.7 252.4h0.6M242.4 252.2h0.6M256.9 259.2h0.6M249.9 244.2h0.6M242.5 248.8h0.6M256.6 248.2h0.6M272.9 240.8h0.6M266.8 235.9h0.6M265.2 250.5h0.6M239.1 258.1h0.6M244.8 256.7h0.6M248.0 260.2h0.6M224.1 236.9h0.6M268.0 252.0h0.6M227.5 260.6h0.6M251.1 247.8h0.6M230.2 245.2h0.6M247.6 254.9h0.6M256.6 252.9h0.6M252.7 256.6h0.6M235.0 252.8h0.6M237.7 260.1h0.6M257.9 256.9h0.6M245.2 254.3h0.6M247.5 250.6h0.6M258.0 257.0h0.6M213.8 249.0h0.6M249.3 258.5h0.6M262.2 259.6h0.6M268.8 258.4h0.6M254.8 245.4h0.6M236.6 255.4h0.6M258.4 255.0h0.6M270.0 258.0h0.6M237.9 243.8h0.6M236.8 249.4h0.6M244.1 252.4h0.6M240.8 261.0h0.6M220.0 249.4h0.6M215.8 258.1h0.6M229.3 253.7h0.6M238.0 264.2h0.6M251.6 254.8h0.6M239.3 243.4h0.6M248.3 251.3h0.6M263.5 254.4h0.6M284.3 260.3h0.6M257.2 256.8h0.6M233.5 251.2h0.6M258.7 245.5h0.6M246.0 253.1h0.6M250.4 252.2h0.6M258.3 260.7h0.6M255.9 258.3h0.6M229.2 244.7h0.6M231.4 239.3h0.6M249.4 250.5h0.6M255.0 254.5h0.6M272.9 247.2h0.6M253.7 249.9h0.6M241.3 259.9h0.6M239.8 257.2h0.6M236.9 242.8h0.6M229.4 254.9h0.6M229.3 253.8h0.6M238.9 251.7h0.6M247.2 256.2h0.6M236.1 256.4h0.6M246.1 267.5h0.6M242.4 254.3h0.6M243.0 248.6h0.6M240.4 250.0h0.6M249.6 257.1h0.6M246.1 264.3h0.6M212.1 256.5h0.6M249.3 256.1h0.6M247.3 254.5h0.6M238.1 250.3h0.6M248.1 253.4h0.6M237.1 245.8h0.6M247.5 257.3h0.6M234.8 255.7h0.6M254.6 254.0h0.6M250.3 247.9h0.6M227.4 251.4h0.6M237.0 249.6h0.6M254.9 254.7h0.6M251.1 251.3h0.6M247.7 255.1h0.6M231.4 258.4h0.6M237.2 260.4h0.6M248.0 246.9h0.6M249.7 251.0h0.6M245.7 246.5h0.6M235.3 260.3h0.6M243.0 248.0h0.6M239.6 260.9h0.6M231.1 250.0h0.6M231.9 259.0h0.6M235.5 249.8h0.6M226.7 251.6h0.6M251.8 253.7h0.6M255.6 253.5h0.6M257.1 252.1h0.6M235.9 256.9h0.6M236.3 260.0h0.6M249.0 258.0h0.6M239.9 250.1h0.6M241.8 242.1h0.6M241.8 253.6h0.6M225.3 236.3h0.6M261.9 256.9h0.6M227.5 256.6h0.6M225.8 245.8h0.6M256.0 256.4h0.6M231.8 249.1h0.6M259.4 260.4h0.6M250.1 248.5h0.6M250.3 248.1h0.6M240.9 249.1h0.6M227.8 254.4h0.6M230.7 246.9h0.6M247.0 266.2h0.6M244.4 250.8h0.6M230.4 263.3h0.6M231.2 251.3h0.6M234.7 251.1h0.6M244.9 248.8h0.6M251.3 248.5h0.6M257.2 255.6h0.6" stroke="#555" stroke-width="0.6" fill="none" filter="url(#bl)"/>
<path d="M228.4 234.7h0.6M264.6 278.7h0.6M257.7 256.5h0.6M283.1 287.6h0.6M229.2 250.3h0.6M232.4 281.7h0.6M245.7 249.3h0.6M291.1 230.6h0.6M230.8 268.0h0.6M253.6 241.1h0.6M236.2 278.6h0.6M217.9 279.6h0.6M279.2 251.3h0.6M248.4 237.4h0.6M242.8 281.9h0.6M283.0 289.4h0.6M264.5 290.6h0.6M287.9 279.1h0.6M227.5 239.2h0.6M274.2 285.7h0.6" stroke="#888" stroke-width="0.6" fill="none" filter="url(#bl)"/>
<line x1="205.4" y1="215" x2="294.6" y2="215" stroke="#c8c8c8" stroke-width="1.6"/>
<line x1="294.5" y1="215.4" x2="294.5" y2="296.9" stroke="#999" stroke-width="0.8"/>
<line x1="205.5" y1="214.9" x2="205.5" y2="298.9" stroke="#555" stroke-width="0.9"/>
<line x1="203.4" y1="296.5" x2="294.6" y2="296.5" stroke="#555" stroke-width="0.9"/>
<line x1="203.6" y1="293.5" x2="205.4" y2="293.5" stroke="#666" stroke-width="0.6"/>
<line x1="203.6" y1="289.5" x2="205.4" y2="289.5" stroke="#666" stroke-width="0.6"/>
<line x1="203.6" y1="283.5" x2="205.4" y2="283.5" stroke="#666" stroke-width="0.6"/>
<line x1="203.2" y1="265.5" x2="205.4" y2="265.5" stroke="#666" stroke-width="0.6"/>
<line x1="204.2" y1="259.5" x2="205.4" y2="259.5" stroke="#666" stroke-width="0.6"/>
<line x1="204.2" y1="256.5" x2="205.4" y2="256.5" stroke="#666" stroke-width="0.6"/>
<line x1="204.2" y1="253.5" x2="205.4" y2="253.5" stroke="#666" stroke-width="0.6"/>
<line x1="204.2" y1="251.5" x2="205.4" y2="251.5" stroke="#666" stroke-width="0.6"/>
<line x1="204.2" y1="250.5" x2="205.4" y2="250.5" stroke="#666" stroke-width="0.6"/>
<line x1="204.2" y1="248.5" x2="205.4" y2="248.5" stroke="#666" stroke-width="0.6"/>
<line x1="204.2" y1="247.5" x2="205.4" y2="247.5" stroke="#666" stroke-width="0.6"/>
<line x1="204.2" y1="246.5" x2="205.4" y2="246.5" stroke="#666" stroke-width="0.6"/>
<line x1="203.2" y1="245.5" x2="205.4" y2="245.5" stroke="#666" stroke-width="0.6"/>
<line x1="204.2" y1="239.5" x2="205.4" y2="239.5" stroke="#666" stroke-width="0.6"/>
<line x1="204.2" y1="236.5" x2="205.4" y2="236.5" stroke="#666" stroke-width="0.6"/>
<line x1="204.2" y1="233.5" x2="205.4" y2="233.5" stroke="#666" stroke-width="0.6"/>
<line x1="204.2" y1="231.5" x2="205.4" y2="231.5" stroke="#666" stroke-width="0.6"/>
<line x1="204.2" y1="230.5" x2="205.4" y2="230.5" stroke="#666" stroke-width="0.6"/>
<line x1="204.2" y1="228.5" x2="205.4" y2="228.5" stroke="#666" stroke-width="0.6"/>
<line x1="204.2" y1="227.5" x2="205.4" y2="227.5" stroke="#666" stroke-width="0.6"/>
<line x1="204.2" y1="226.5" x2="205.4" y2="226.5" stroke="#666" stroke-width="0.6"/>
<line x1="203.2" y1="226.5" x2="205.4" y2="226.5" stroke="#666" stroke-width="0.6"/>
<line x1="204.2" y1="220.5" x2="205.4" y2="220.5" stroke="#666" stroke-width="0.6"/>
<line x1="204.2" y1="216.5" x2="205.4" y2="216.5" stroke="#666" stroke-width="0.6"/>
<line x1="208.5" y1="296.9" x2="208.5" y2="298.2" stroke="#666" stroke-width="0.6"/>
<line x1="211.5" y1="296.9" x2="211.5" y2="298.2" stroke="#666" stroke-width="0.6"/>
<line x1="215.5" y1="296.9" x2="215.5" y2="298.2" stroke="#666" stroke-width="0.6"/>
<line x1="218.5" y1="296.9" x2="218.5" y2="298.2" stroke="#666" stroke-width="0.6"/>
<line x1="221.5" y1="296.9" x2="221.5" y2="298.2" stroke="#666" stroke-width="0.6"/>
<line x1="225.5" y1="296.9" x2="225.5" y2="298.2" stroke="#666" stroke-width="0.6"/>
<line x1="228.5" y1="296.9" x2="228.5" y2="298.2" stroke="#666" stroke-width="0.6"/>
<line x1="231.5" y1="296.9" x2="231.5" y2="298.2" stroke="#666" stroke-width="0.6"/>
<line x1="235.5" y1="296.9" x2="235.5" y2="298.2" stroke="#666" stroke-width="0.6"/>
<line x1="238.5" y1="296.9" x2="238.5" y2="298.2" stroke="#666" stroke-width="0.6"/>
<line x1="242.5" y1="296.9" x2="242.5" y2="298.2" stroke="#666" stroke-width="0.6"/>
<line x1="245.5" y1="296.9" x2="245.5" y2="298.2" stroke="#666" stroke-width="0.6"/>
<line x1="248.5" y1="296.9" x2="248.5" y2="298.2" stroke="#666" stroke-width="0.6"/>
<line x1="252.5" y1="296.9" x2="252.5" y2="298.2" stroke="#666" stroke-width="0.6"/>
<line x1="255.5" y1="296.9" x2="255.5" y2="298.2" stroke="#666" stroke-width="0.6"/>
<line x1="258.5" y1="296.9" x2="258.5" y2="298.2" stroke="#666" stroke-width="0.6"/>
<line x1="262.5" y1="296.9" x2="262.5" y2="298.2" stroke="#666" stroke-width="0.6"/>
<line x1="265.5" y1="296.9" x2="265.5" y2="298.2" stroke="#666" stroke-width="0.6"/>
<line x1="269.5" y1="296.9" x2="269.5" y2="298.2" stroke="#666" stroke-width="0.6"/>
<line x1="272.5" y1="296.9" x2="272.5" y2="298.2" stroke="#666" stroke-width="0.6"/>
<line x1="275.5" y1="296.9" x2="275.5" y2="298.2" stroke="#666" stroke-width="0.6"/>
<line x1="279.5" y1="296.9" x2="279.5" y2="298.2" stroke="#666" stroke-width="0.6"/>
<line x1="282.5" y1="296.9" x2="282.5" y2="298.2" stroke="#666" stroke-width="0.6"/>
<line x1="285.5" y1="296.9" x2="285.5" y2="298.2" stroke="#666" stroke-width="0.6"/>
<line x1="289.5" y1="296.9" x2="289.5" y2="298.2" stroke="#666" stroke-width="0.6"/>
<line x1="292.5" y1="296.9" x2="292.5" y2="298.2" stroke="#666" stroke-width="0.6"/>
<line x1="219.5" y1="296.9" x2="219.5" y2="299.4" stroke="#555" stroke-width="0.7"/>
<line x1="247.5" y1="296.9" x2="247.5" y2="299.4" stroke="#555" stroke-width="0.7"/>
<line x1="283.5" y1="296.9" x2="283.5" y2="299.4" stroke="#555" stroke-width="0.7"/>
<text x="247.6" y="303.1" font-size="5" text-anchor="middle" font-weight="normal" fill="#777">10²</text>
<text x="283.6" y="303.1" font-size="5" text-anchor="middle" font-weight="normal" fill="#777">10⁴</text>
<text x="201.4" y="289" font-size="5" text-anchor="middle" font-weight="normal" fill="#777" transform="rotate(-90 201.4 289)">0</text>
<text x="201.4" y="265.7" font-size="5" text-anchor="middle" font-weight="normal" fill="#777" transform="rotate(-90 201.4 265.7)">10³</text>
<text x="201.4" y="245.8" font-size="5" text-anchor="middle" font-weight="normal" fill="#777" transform="rotate(-90 201.4 245.8)">10⁴</text>
<text x="201.4" y="226.4" font-size="5" text-anchor="middle" font-weight="normal" fill="#777" transform="rotate(-90 201.4 226.4)">10⁵</text>
<line x1="205.4" y1="260.5" x2="294.6" y2="260.5" stroke="#555" stroke-width="0.9"/>
<polyline points="262.4,296.9 262.4,260.4 268.8,215.4" fill="none" stroke="#555" stroke-width="0.9"/>
<text x="207.8" y="225.2" font-size="9.5" text-anchor="start" font-weight="bold" fill="#111">32</text>
</svg>
</body></html>
